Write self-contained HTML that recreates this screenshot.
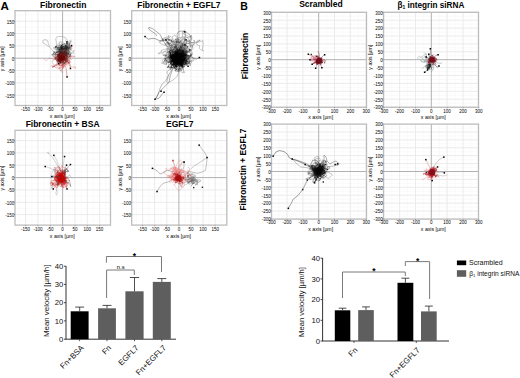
<!DOCTYPE html>
<html><head><meta charset="utf-8"><style>
html,body{margin:0;padding:0;background:#fff;width:520px;height:378px;overflow:hidden}
body{position:relative;font-family:"Liberation Sans", sans-serif}
</style></head><body>
<svg width="520" height="378" viewBox="0 0 520 378" style="position:absolute;left:0;top:0" font-family="'Liberation Sans', sans-serif">
<rect width="520" height="378" fill="#fff"/>
<text x="0.6" y="10.2" font-size="11.6" font-weight="bold" fill="#000">A</text>
<text x="240.2" y="10" font-size="10.5" font-weight="bold" fill="#000">B</text>
<rect x="15" y="10.7" width="95.5" height="94.8" fill="#fff"/>
<line x1="19.4" y1="10.7" x2="19.4" y2="105.5" stroke="#f6f6f6" stroke-width="0.6"/>
<line x1="31.8" y1="10.7" x2="31.8" y2="105.5" stroke="#f6f6f6" stroke-width="0.6"/>
<line x1="44.1" y1="10.7" x2="44.1" y2="105.5" stroke="#f6f6f6" stroke-width="0.6"/>
<line x1="56.4" y1="10.7" x2="56.4" y2="105.5" stroke="#f6f6f6" stroke-width="0.6"/>
<line x1="68.8" y1="10.7" x2="68.8" y2="105.5" stroke="#f6f6f6" stroke-width="0.6"/>
<line x1="81.1" y1="10.7" x2="81.1" y2="105.5" stroke="#f6f6f6" stroke-width="0.6"/>
<line x1="93.4" y1="10.7" x2="93.4" y2="105.5" stroke="#f6f6f6" stroke-width="0.6"/>
<line x1="105.8" y1="10.7" x2="105.8" y2="105.5" stroke="#f6f6f6" stroke-width="0.6"/>
<line x1="15" y1="101.4" x2="110.5" y2="101.4" stroke="#f6f6f6" stroke-width="0.6"/>
<line x1="15" y1="89.1" x2="110.5" y2="89.1" stroke="#f6f6f6" stroke-width="0.6"/>
<line x1="15" y1="76.7" x2="110.5" y2="76.7" stroke="#f6f6f6" stroke-width="0.6"/>
<line x1="15" y1="64.4" x2="110.5" y2="64.4" stroke="#f6f6f6" stroke-width="0.6"/>
<line x1="15" y1="52" x2="110.5" y2="52" stroke="#f6f6f6" stroke-width="0.6"/>
<line x1="15" y1="39.7" x2="110.5" y2="39.7" stroke="#f6f6f6" stroke-width="0.6"/>
<line x1="15" y1="27.3" x2="110.5" y2="27.3" stroke="#f6f6f6" stroke-width="0.6"/>
<line x1="15" y1="15" x2="110.5" y2="15" stroke="#f6f6f6" stroke-width="0.6"/>
<line x1="25.6" y1="10.7" x2="25.6" y2="105.5" stroke="#e9e9e9" stroke-width="0.9"/>
<line x1="37.9" y1="10.7" x2="37.9" y2="105.5" stroke="#e9e9e9" stroke-width="0.9"/>
<line x1="50.3" y1="10.7" x2="50.3" y2="105.5" stroke="#e9e9e9" stroke-width="0.9"/>
<line x1="74.9" y1="10.7" x2="74.9" y2="105.5" stroke="#e9e9e9" stroke-width="0.9"/>
<line x1="87.3" y1="10.7" x2="87.3" y2="105.5" stroke="#e9e9e9" stroke-width="0.9"/>
<line x1="99.6" y1="10.7" x2="99.6" y2="105.5" stroke="#e9e9e9" stroke-width="0.9"/>
<line x1="15" y1="95.2" x2="110.5" y2="95.2" stroke="#e9e9e9" stroke-width="0.9"/>
<line x1="15" y1="82.9" x2="110.5" y2="82.9" stroke="#e9e9e9" stroke-width="0.9"/>
<line x1="15" y1="70.5" x2="110.5" y2="70.5" stroke="#e9e9e9" stroke-width="0.9"/>
<line x1="15" y1="45.9" x2="110.5" y2="45.9" stroke="#e9e9e9" stroke-width="0.9"/>
<line x1="15" y1="33.5" x2="110.5" y2="33.5" stroke="#e9e9e9" stroke-width="0.9"/>
<line x1="15" y1="21.2" x2="110.5" y2="21.2" stroke="#e9e9e9" stroke-width="0.9"/>
<line x1="62.6" y1="10.7" x2="62.6" y2="105.5" stroke="#a8a8a8" stroke-width="0.9"/>
<line x1="15" y1="58.2" x2="110.5" y2="58.2" stroke="#a8a8a8" stroke-width="0.9"/>
<rect x="15" y="10.7" width="95.5" height="94.8" fill="none" stroke="#bdbdbd" stroke-width="1.3"/>
<line x1="13.8" y1="95.2" x2="15" y2="95.2" stroke="#777" stroke-width="0.6"/>
<text x="14.3" y="97.5" font-size="4.5" text-anchor="end" fill="#000">-150</text>
<line x1="13.8" y1="82.9" x2="15" y2="82.9" stroke="#777" stroke-width="0.6"/>
<text x="14.3" y="85.2" font-size="4.5" text-anchor="end" fill="#000">-100</text>
<line x1="13.8" y1="70.5" x2="15" y2="70.5" stroke="#777" stroke-width="0.6"/>
<text x="14.3" y="72.8" font-size="4.5" text-anchor="end" fill="#000">-50</text>
<line x1="13.8" y1="58.2" x2="15" y2="58.2" stroke="#777" stroke-width="0.6"/>
<text x="14.3" y="60.5" font-size="4.5" text-anchor="end" fill="#000">0</text>
<line x1="13.8" y1="45.9" x2="15" y2="45.9" stroke="#777" stroke-width="0.6"/>
<text x="14.3" y="48.1" font-size="4.5" text-anchor="end" fill="#000">50</text>
<line x1="13.8" y1="33.5" x2="15" y2="33.5" stroke="#777" stroke-width="0.6"/>
<text x="14.3" y="35.8" font-size="4.5" text-anchor="end" fill="#000">100</text>
<line x1="13.8" y1="21.2" x2="15" y2="21.2" stroke="#777" stroke-width="0.6"/>
<text x="14.3" y="23.5" font-size="4.5" text-anchor="end" fill="#000">150</text>
<line x1="25.6" y1="105.5" x2="25.6" y2="106.8" stroke="#777" stroke-width="0.6"/>
<text x="25.6" y="110.8" font-size="4.5" text-anchor="middle" fill="#000">-150</text>
<line x1="37.9" y1="105.5" x2="37.9" y2="106.8" stroke="#777" stroke-width="0.6"/>
<text x="37.9" y="110.8" font-size="4.5" text-anchor="middle" fill="#000">-100</text>
<line x1="50.3" y1="105.5" x2="50.3" y2="106.8" stroke="#777" stroke-width="0.6"/>
<text x="50.3" y="110.8" font-size="4.5" text-anchor="middle" fill="#000">-50</text>
<line x1="62.6" y1="105.5" x2="62.6" y2="106.8" stroke="#777" stroke-width="0.6"/>
<text x="62.6" y="110.8" font-size="4.5" text-anchor="middle" fill="#000">0</text>
<line x1="74.9" y1="105.5" x2="74.9" y2="106.8" stroke="#777" stroke-width="0.6"/>
<text x="74.9" y="110.8" font-size="4.5" text-anchor="middle" fill="#000">50</text>
<line x1="87.3" y1="105.5" x2="87.3" y2="106.8" stroke="#777" stroke-width="0.6"/>
<text x="87.3" y="110.8" font-size="4.5" text-anchor="middle" fill="#000">100</text>
<line x1="99.6" y1="105.5" x2="99.6" y2="106.8" stroke="#777" stroke-width="0.6"/>
<text x="99.6" y="110.8" font-size="4.5" text-anchor="middle" fill="#000">150</text>
<text x="62.3" y="118.2" font-size="5.2" text-anchor="middle" fill="#000">x axis [µm]</text>
<text transform="translate(3.9,58.7) rotate(-90)" x="0" y="0" font-size="5.2" text-anchor="middle" fill="#000">y axis [µm]</text>
<text x="63.2" y="7.7" font-size="8.5" font-weight="bold" text-anchor="middle" fill="#000">Fibronectin</text>
<rect x="131.7" y="10.7" width="95.1" height="94.8" fill="#fff"/>
<line x1="136.6" y1="10.7" x2="136.6" y2="105.5" stroke="#f6f6f6" stroke-width="0.6"/>
<line x1="148.7" y1="10.7" x2="148.7" y2="105.5" stroke="#f6f6f6" stroke-width="0.6"/>
<line x1="160.8" y1="10.7" x2="160.8" y2="105.5" stroke="#f6f6f6" stroke-width="0.6"/>
<line x1="172.8" y1="10.7" x2="172.8" y2="105.5" stroke="#f6f6f6" stroke-width="0.6"/>
<line x1="185" y1="10.7" x2="185" y2="105.5" stroke="#f6f6f6" stroke-width="0.6"/>
<line x1="197.1" y1="10.7" x2="197.1" y2="105.5" stroke="#f6f6f6" stroke-width="0.6"/>
<line x1="209.2" y1="10.7" x2="209.2" y2="105.5" stroke="#f6f6f6" stroke-width="0.6"/>
<line x1="221.2" y1="10.7" x2="221.2" y2="105.5" stroke="#f6f6f6" stroke-width="0.6"/>
<line x1="131.7" y1="101.4" x2="226.8" y2="101.4" stroke="#f6f6f6" stroke-width="0.6"/>
<line x1="131.7" y1="89.1" x2="226.8" y2="89.1" stroke="#f6f6f6" stroke-width="0.6"/>
<line x1="131.7" y1="76.7" x2="226.8" y2="76.7" stroke="#f6f6f6" stroke-width="0.6"/>
<line x1="131.7" y1="64.4" x2="226.8" y2="64.4" stroke="#f6f6f6" stroke-width="0.6"/>
<line x1="131.7" y1="52" x2="226.8" y2="52" stroke="#f6f6f6" stroke-width="0.6"/>
<line x1="131.7" y1="39.7" x2="226.8" y2="39.7" stroke="#f6f6f6" stroke-width="0.6"/>
<line x1="131.7" y1="27.3" x2="226.8" y2="27.3" stroke="#f6f6f6" stroke-width="0.6"/>
<line x1="131.7" y1="15" x2="226.8" y2="15" stroke="#f6f6f6" stroke-width="0.6"/>
<line x1="142.6" y1="10.7" x2="142.6" y2="105.5" stroke="#e9e9e9" stroke-width="0.9"/>
<line x1="154.7" y1="10.7" x2="154.7" y2="105.5" stroke="#e9e9e9" stroke-width="0.9"/>
<line x1="166.8" y1="10.7" x2="166.8" y2="105.5" stroke="#e9e9e9" stroke-width="0.9"/>
<line x1="191" y1="10.7" x2="191" y2="105.5" stroke="#e9e9e9" stroke-width="0.9"/>
<line x1="203.1" y1="10.7" x2="203.1" y2="105.5" stroke="#e9e9e9" stroke-width="0.9"/>
<line x1="215.2" y1="10.7" x2="215.2" y2="105.5" stroke="#e9e9e9" stroke-width="0.9"/>
<line x1="131.7" y1="95.2" x2="226.8" y2="95.2" stroke="#e9e9e9" stroke-width="0.9"/>
<line x1="131.7" y1="82.9" x2="226.8" y2="82.9" stroke="#e9e9e9" stroke-width="0.9"/>
<line x1="131.7" y1="70.5" x2="226.8" y2="70.5" stroke="#e9e9e9" stroke-width="0.9"/>
<line x1="131.7" y1="45.9" x2="226.8" y2="45.9" stroke="#e9e9e9" stroke-width="0.9"/>
<line x1="131.7" y1="33.5" x2="226.8" y2="33.5" stroke="#e9e9e9" stroke-width="0.9"/>
<line x1="131.7" y1="21.2" x2="226.8" y2="21.2" stroke="#e9e9e9" stroke-width="0.9"/>
<line x1="178.9" y1="10.7" x2="178.9" y2="105.5" stroke="#a8a8a8" stroke-width="0.9"/>
<line x1="131.7" y1="58.2" x2="226.8" y2="58.2" stroke="#a8a8a8" stroke-width="0.9"/>
<rect x="131.7" y="10.7" width="95.1" height="94.8" fill="none" stroke="#bdbdbd" stroke-width="1.3"/>
<line x1="130.5" y1="95.2" x2="131.7" y2="95.2" stroke="#777" stroke-width="0.6"/>
<text x="131" y="97.5" font-size="4.5" text-anchor="end" fill="#000">-150</text>
<line x1="130.5" y1="82.9" x2="131.7" y2="82.9" stroke="#777" stroke-width="0.6"/>
<text x="131" y="85.2" font-size="4.5" text-anchor="end" fill="#000">-100</text>
<line x1="130.5" y1="70.5" x2="131.7" y2="70.5" stroke="#777" stroke-width="0.6"/>
<text x="131" y="72.8" font-size="4.5" text-anchor="end" fill="#000">-50</text>
<line x1="130.5" y1="58.2" x2="131.7" y2="58.2" stroke="#777" stroke-width="0.6"/>
<text x="131" y="60.5" font-size="4.5" text-anchor="end" fill="#000">0</text>
<line x1="130.5" y1="45.9" x2="131.7" y2="45.9" stroke="#777" stroke-width="0.6"/>
<text x="131" y="48.1" font-size="4.5" text-anchor="end" fill="#000">50</text>
<line x1="130.5" y1="33.5" x2="131.7" y2="33.5" stroke="#777" stroke-width="0.6"/>
<text x="131" y="35.8" font-size="4.5" text-anchor="end" fill="#000">100</text>
<line x1="130.5" y1="21.2" x2="131.7" y2="21.2" stroke="#777" stroke-width="0.6"/>
<text x="131" y="23.5" font-size="4.5" text-anchor="end" fill="#000">150</text>
<line x1="142.6" y1="105.5" x2="142.6" y2="106.8" stroke="#777" stroke-width="0.6"/>
<text x="142.6" y="110.8" font-size="4.5" text-anchor="middle" fill="#000">-150</text>
<line x1="154.7" y1="105.5" x2="154.7" y2="106.8" stroke="#777" stroke-width="0.6"/>
<text x="154.7" y="110.8" font-size="4.5" text-anchor="middle" fill="#000">-100</text>
<line x1="166.8" y1="105.5" x2="166.8" y2="106.8" stroke="#777" stroke-width="0.6"/>
<text x="166.8" y="110.8" font-size="4.5" text-anchor="middle" fill="#000">-50</text>
<line x1="178.9" y1="105.5" x2="178.9" y2="106.8" stroke="#777" stroke-width="0.6"/>
<text x="178.9" y="110.8" font-size="4.5" text-anchor="middle" fill="#000">0</text>
<line x1="191" y1="105.5" x2="191" y2="106.8" stroke="#777" stroke-width="0.6"/>
<text x="191" y="110.8" font-size="4.5" text-anchor="middle" fill="#000">50</text>
<line x1="203.1" y1="105.5" x2="203.1" y2="106.8" stroke="#777" stroke-width="0.6"/>
<text x="203.1" y="110.8" font-size="4.5" text-anchor="middle" fill="#000">100</text>
<line x1="215.2" y1="105.5" x2="215.2" y2="106.8" stroke="#777" stroke-width="0.6"/>
<text x="215.2" y="110.8" font-size="4.5" text-anchor="middle" fill="#000">150</text>
<text x="178.6" y="118.2" font-size="5.2" text-anchor="middle" fill="#000">x axis [µm]</text>
<text transform="translate(121.8,58.7) rotate(-90)" x="0" y="0" font-size="5.2" text-anchor="middle" fill="#000">y axis [µm]</text>
<text x="178.9" y="7.7" font-size="8.5" font-weight="bold" text-anchor="middle" fill="#000">Fibronectin + EGFL7</text>
<rect x="15" y="130.3" width="95.5" height="94.8" fill="#fff"/>
<line x1="19.4" y1="130.3" x2="19.4" y2="225.2" stroke="#f6f6f6" stroke-width="0.6"/>
<line x1="31.8" y1="130.3" x2="31.8" y2="225.2" stroke="#f6f6f6" stroke-width="0.6"/>
<line x1="44.1" y1="130.3" x2="44.1" y2="225.2" stroke="#f6f6f6" stroke-width="0.6"/>
<line x1="56.4" y1="130.3" x2="56.4" y2="225.2" stroke="#f6f6f6" stroke-width="0.6"/>
<line x1="68.8" y1="130.3" x2="68.8" y2="225.2" stroke="#f6f6f6" stroke-width="0.6"/>
<line x1="81.1" y1="130.3" x2="81.1" y2="225.2" stroke="#f6f6f6" stroke-width="0.6"/>
<line x1="93.4" y1="130.3" x2="93.4" y2="225.2" stroke="#f6f6f6" stroke-width="0.6"/>
<line x1="105.8" y1="130.3" x2="105.8" y2="225.2" stroke="#f6f6f6" stroke-width="0.6"/>
<line x1="15" y1="220.8" x2="110.5" y2="220.8" stroke="#f6f6f6" stroke-width="0.6"/>
<line x1="15" y1="208.5" x2="110.5" y2="208.5" stroke="#f6f6f6" stroke-width="0.6"/>
<line x1="15" y1="196.1" x2="110.5" y2="196.1" stroke="#f6f6f6" stroke-width="0.6"/>
<line x1="15" y1="183.8" x2="110.5" y2="183.8" stroke="#f6f6f6" stroke-width="0.6"/>
<line x1="15" y1="171.4" x2="110.5" y2="171.4" stroke="#f6f6f6" stroke-width="0.6"/>
<line x1="15" y1="159.1" x2="110.5" y2="159.1" stroke="#f6f6f6" stroke-width="0.6"/>
<line x1="15" y1="146.7" x2="110.5" y2="146.7" stroke="#f6f6f6" stroke-width="0.6"/>
<line x1="15" y1="134.4" x2="110.5" y2="134.4" stroke="#f6f6f6" stroke-width="0.6"/>
<line x1="25.6" y1="130.3" x2="25.6" y2="225.2" stroke="#e9e9e9" stroke-width="0.9"/>
<line x1="37.9" y1="130.3" x2="37.9" y2="225.2" stroke="#e9e9e9" stroke-width="0.9"/>
<line x1="50.3" y1="130.3" x2="50.3" y2="225.2" stroke="#e9e9e9" stroke-width="0.9"/>
<line x1="74.9" y1="130.3" x2="74.9" y2="225.2" stroke="#e9e9e9" stroke-width="0.9"/>
<line x1="87.3" y1="130.3" x2="87.3" y2="225.2" stroke="#e9e9e9" stroke-width="0.9"/>
<line x1="99.6" y1="130.3" x2="99.6" y2="225.2" stroke="#e9e9e9" stroke-width="0.9"/>
<line x1="15" y1="214.6" x2="110.5" y2="214.6" stroke="#e9e9e9" stroke-width="0.9"/>
<line x1="15" y1="202.3" x2="110.5" y2="202.3" stroke="#e9e9e9" stroke-width="0.9"/>
<line x1="15" y1="189.9" x2="110.5" y2="189.9" stroke="#e9e9e9" stroke-width="0.9"/>
<line x1="15" y1="165.2" x2="110.5" y2="165.2" stroke="#e9e9e9" stroke-width="0.9"/>
<line x1="15" y1="152.9" x2="110.5" y2="152.9" stroke="#e9e9e9" stroke-width="0.9"/>
<line x1="15" y1="140.6" x2="110.5" y2="140.6" stroke="#e9e9e9" stroke-width="0.9"/>
<line x1="62.6" y1="130.3" x2="62.6" y2="225.2" stroke="#a8a8a8" stroke-width="0.9"/>
<line x1="15" y1="177.6" x2="110.5" y2="177.6" stroke="#a8a8a8" stroke-width="0.9"/>
<rect x="15" y="130.3" width="95.5" height="94.8" fill="none" stroke="#bdbdbd" stroke-width="1.3"/>
<line x1="13.8" y1="214.6" x2="15" y2="214.6" stroke="#777" stroke-width="0.6"/>
<text x="14.3" y="216.9" font-size="4.5" text-anchor="end" fill="#000">-150</text>
<line x1="13.8" y1="202.3" x2="15" y2="202.3" stroke="#777" stroke-width="0.6"/>
<text x="14.3" y="204.6" font-size="4.5" text-anchor="end" fill="#000">-100</text>
<line x1="13.8" y1="189.9" x2="15" y2="189.9" stroke="#777" stroke-width="0.6"/>
<text x="14.3" y="192.2" font-size="4.5" text-anchor="end" fill="#000">-50</text>
<line x1="13.8" y1="177.6" x2="15" y2="177.6" stroke="#777" stroke-width="0.6"/>
<text x="14.3" y="179.9" font-size="4.5" text-anchor="end" fill="#000">0</text>
<line x1="13.8" y1="165.2" x2="15" y2="165.2" stroke="#777" stroke-width="0.6"/>
<text x="14.3" y="167.6" font-size="4.5" text-anchor="end" fill="#000">50</text>
<line x1="13.8" y1="152.9" x2="15" y2="152.9" stroke="#777" stroke-width="0.6"/>
<text x="14.3" y="155.2" font-size="4.5" text-anchor="end" fill="#000">100</text>
<line x1="13.8" y1="140.6" x2="15" y2="140.6" stroke="#777" stroke-width="0.6"/>
<text x="14.3" y="142.9" font-size="4.5" text-anchor="end" fill="#000">150</text>
<line x1="25.6" y1="225.2" x2="25.6" y2="226.3" stroke="#777" stroke-width="0.6"/>
<text x="25.6" y="230.5" font-size="4.5" text-anchor="middle" fill="#000">-150</text>
<line x1="37.9" y1="225.2" x2="37.9" y2="226.3" stroke="#777" stroke-width="0.6"/>
<text x="37.9" y="230.5" font-size="4.5" text-anchor="middle" fill="#000">-100</text>
<line x1="50.3" y1="225.2" x2="50.3" y2="226.3" stroke="#777" stroke-width="0.6"/>
<text x="50.3" y="230.5" font-size="4.5" text-anchor="middle" fill="#000">-50</text>
<line x1="62.6" y1="225.2" x2="62.6" y2="226.3" stroke="#777" stroke-width="0.6"/>
<text x="62.6" y="230.5" font-size="4.5" text-anchor="middle" fill="#000">0</text>
<line x1="74.9" y1="225.2" x2="74.9" y2="226.3" stroke="#777" stroke-width="0.6"/>
<text x="74.9" y="230.5" font-size="4.5" text-anchor="middle" fill="#000">50</text>
<line x1="87.3" y1="225.2" x2="87.3" y2="226.3" stroke="#777" stroke-width="0.6"/>
<text x="87.3" y="230.5" font-size="4.5" text-anchor="middle" fill="#000">100</text>
<line x1="99.6" y1="225.2" x2="99.6" y2="226.3" stroke="#777" stroke-width="0.6"/>
<text x="99.6" y="230.5" font-size="4.5" text-anchor="middle" fill="#000">150</text>
<text x="62.3" y="237.9" font-size="5.2" text-anchor="middle" fill="#000">x axis [µm]</text>
<text transform="translate(3.9,178.1) rotate(-90)" x="0" y="0" font-size="5.2" text-anchor="middle" fill="#000">y axis [µm]</text>
<text x="62.6" y="127.3" font-size="8.5" font-weight="bold" text-anchor="middle" fill="#000">Fibronectin + BSA</text>
<rect x="131.7" y="130.3" width="95.1" height="94.8" fill="#fff"/>
<line x1="136.6" y1="130.3" x2="136.6" y2="225.2" stroke="#f6f6f6" stroke-width="0.6"/>
<line x1="148.7" y1="130.3" x2="148.7" y2="225.2" stroke="#f6f6f6" stroke-width="0.6"/>
<line x1="160.8" y1="130.3" x2="160.8" y2="225.2" stroke="#f6f6f6" stroke-width="0.6"/>
<line x1="172.8" y1="130.3" x2="172.8" y2="225.2" stroke="#f6f6f6" stroke-width="0.6"/>
<line x1="185" y1="130.3" x2="185" y2="225.2" stroke="#f6f6f6" stroke-width="0.6"/>
<line x1="197.1" y1="130.3" x2="197.1" y2="225.2" stroke="#f6f6f6" stroke-width="0.6"/>
<line x1="209.2" y1="130.3" x2="209.2" y2="225.2" stroke="#f6f6f6" stroke-width="0.6"/>
<line x1="221.2" y1="130.3" x2="221.2" y2="225.2" stroke="#f6f6f6" stroke-width="0.6"/>
<line x1="131.7" y1="220.8" x2="226.8" y2="220.8" stroke="#f6f6f6" stroke-width="0.6"/>
<line x1="131.7" y1="208.5" x2="226.8" y2="208.5" stroke="#f6f6f6" stroke-width="0.6"/>
<line x1="131.7" y1="196.1" x2="226.8" y2="196.1" stroke="#f6f6f6" stroke-width="0.6"/>
<line x1="131.7" y1="183.8" x2="226.8" y2="183.8" stroke="#f6f6f6" stroke-width="0.6"/>
<line x1="131.7" y1="171.4" x2="226.8" y2="171.4" stroke="#f6f6f6" stroke-width="0.6"/>
<line x1="131.7" y1="159.1" x2="226.8" y2="159.1" stroke="#f6f6f6" stroke-width="0.6"/>
<line x1="131.7" y1="146.7" x2="226.8" y2="146.7" stroke="#f6f6f6" stroke-width="0.6"/>
<line x1="131.7" y1="134.4" x2="226.8" y2="134.4" stroke="#f6f6f6" stroke-width="0.6"/>
<line x1="142.6" y1="130.3" x2="142.6" y2="225.2" stroke="#e9e9e9" stroke-width="0.9"/>
<line x1="154.7" y1="130.3" x2="154.7" y2="225.2" stroke="#e9e9e9" stroke-width="0.9"/>
<line x1="166.8" y1="130.3" x2="166.8" y2="225.2" stroke="#e9e9e9" stroke-width="0.9"/>
<line x1="191" y1="130.3" x2="191" y2="225.2" stroke="#e9e9e9" stroke-width="0.9"/>
<line x1="203.1" y1="130.3" x2="203.1" y2="225.2" stroke="#e9e9e9" stroke-width="0.9"/>
<line x1="215.2" y1="130.3" x2="215.2" y2="225.2" stroke="#e9e9e9" stroke-width="0.9"/>
<line x1="131.7" y1="214.6" x2="226.8" y2="214.6" stroke="#e9e9e9" stroke-width="0.9"/>
<line x1="131.7" y1="202.3" x2="226.8" y2="202.3" stroke="#e9e9e9" stroke-width="0.9"/>
<line x1="131.7" y1="189.9" x2="226.8" y2="189.9" stroke="#e9e9e9" stroke-width="0.9"/>
<line x1="131.7" y1="165.2" x2="226.8" y2="165.2" stroke="#e9e9e9" stroke-width="0.9"/>
<line x1="131.7" y1="152.9" x2="226.8" y2="152.9" stroke="#e9e9e9" stroke-width="0.9"/>
<line x1="131.7" y1="140.6" x2="226.8" y2="140.6" stroke="#e9e9e9" stroke-width="0.9"/>
<line x1="178.9" y1="130.3" x2="178.9" y2="225.2" stroke="#a8a8a8" stroke-width="0.9"/>
<line x1="131.7" y1="177.6" x2="226.8" y2="177.6" stroke="#a8a8a8" stroke-width="0.9"/>
<rect x="131.7" y="130.3" width="95.1" height="94.8" fill="none" stroke="#bdbdbd" stroke-width="1.3"/>
<line x1="130.5" y1="214.6" x2="131.7" y2="214.6" stroke="#777" stroke-width="0.6"/>
<text x="131" y="216.9" font-size="4.5" text-anchor="end" fill="#000">-150</text>
<line x1="130.5" y1="202.3" x2="131.7" y2="202.3" stroke="#777" stroke-width="0.6"/>
<text x="131" y="204.6" font-size="4.5" text-anchor="end" fill="#000">-100</text>
<line x1="130.5" y1="189.9" x2="131.7" y2="189.9" stroke="#777" stroke-width="0.6"/>
<text x="131" y="192.2" font-size="4.5" text-anchor="end" fill="#000">-50</text>
<line x1="130.5" y1="177.6" x2="131.7" y2="177.6" stroke="#777" stroke-width="0.6"/>
<text x="131" y="179.9" font-size="4.5" text-anchor="end" fill="#000">0</text>
<line x1="130.5" y1="165.2" x2="131.7" y2="165.2" stroke="#777" stroke-width="0.6"/>
<text x="131" y="167.6" font-size="4.5" text-anchor="end" fill="#000">50</text>
<line x1="130.5" y1="152.9" x2="131.7" y2="152.9" stroke="#777" stroke-width="0.6"/>
<text x="131" y="155.2" font-size="4.5" text-anchor="end" fill="#000">100</text>
<line x1="130.5" y1="140.6" x2="131.7" y2="140.6" stroke="#777" stroke-width="0.6"/>
<text x="131" y="142.9" font-size="4.5" text-anchor="end" fill="#000">150</text>
<line x1="142.6" y1="225.2" x2="142.6" y2="226.3" stroke="#777" stroke-width="0.6"/>
<text x="142.6" y="230.5" font-size="4.5" text-anchor="middle" fill="#000">-150</text>
<line x1="154.7" y1="225.2" x2="154.7" y2="226.3" stroke="#777" stroke-width="0.6"/>
<text x="154.7" y="230.5" font-size="4.5" text-anchor="middle" fill="#000">-100</text>
<line x1="166.8" y1="225.2" x2="166.8" y2="226.3" stroke="#777" stroke-width="0.6"/>
<text x="166.8" y="230.5" font-size="4.5" text-anchor="middle" fill="#000">-50</text>
<line x1="178.9" y1="225.2" x2="178.9" y2="226.3" stroke="#777" stroke-width="0.6"/>
<text x="178.9" y="230.5" font-size="4.5" text-anchor="middle" fill="#000">0</text>
<line x1="191" y1="225.2" x2="191" y2="226.3" stroke="#777" stroke-width="0.6"/>
<text x="191" y="230.5" font-size="4.5" text-anchor="middle" fill="#000">50</text>
<line x1="203.1" y1="225.2" x2="203.1" y2="226.3" stroke="#777" stroke-width="0.6"/>
<text x="203.1" y="230.5" font-size="4.5" text-anchor="middle" fill="#000">100</text>
<line x1="215.2" y1="225.2" x2="215.2" y2="226.3" stroke="#777" stroke-width="0.6"/>
<text x="215.2" y="230.5" font-size="4.5" text-anchor="middle" fill="#000">150</text>
<text x="178.6" y="237.9" font-size="5.2" text-anchor="middle" fill="#000">x axis [µm]</text>
<text transform="translate(121.8,178.1) rotate(-90)" x="0" y="0" font-size="5.2" text-anchor="middle" fill="#000">y axis [µm]</text>
<text x="179.8" y="127.3" font-size="8.5" font-weight="bold" text-anchor="middle" fill="#000">EGFL7</text>
<rect x="271.5" y="12.3" width="95" height="95" fill="#fff"/>
<line x1="279.1" y1="12.3" x2="279.1" y2="107.3" stroke="#f6f6f6" stroke-width="0.6"/>
<line x1="294.9" y1="12.3" x2="294.9" y2="107.3" stroke="#f6f6f6" stroke-width="0.6"/>
<line x1="310.8" y1="12.3" x2="310.8" y2="107.3" stroke="#f6f6f6" stroke-width="0.6"/>
<line x1="326.6" y1="12.3" x2="326.6" y2="107.3" stroke="#f6f6f6" stroke-width="0.6"/>
<line x1="342.4" y1="12.3" x2="342.4" y2="107.3" stroke="#f6f6f6" stroke-width="0.6"/>
<line x1="358.3" y1="12.3" x2="358.3" y2="107.3" stroke="#f6f6f6" stroke-width="0.6"/>
<line x1="271.5" y1="103.2" x2="366.5" y2="103.2" stroke="#f6f6f6" stroke-width="0.6"/>
<line x1="271.5" y1="95.2" x2="366.5" y2="95.2" stroke="#f6f6f6" stroke-width="0.6"/>
<line x1="271.5" y1="87.3" x2="366.5" y2="87.3" stroke="#f6f6f6" stroke-width="0.6"/>
<line x1="271.5" y1="79.5" x2="366.5" y2="79.5" stroke="#f6f6f6" stroke-width="0.6"/>
<line x1="271.5" y1="71.5" x2="366.5" y2="71.5" stroke="#f6f6f6" stroke-width="0.6"/>
<line x1="271.5" y1="63.7" x2="366.5" y2="63.7" stroke="#f6f6f6" stroke-width="0.6"/>
<line x1="271.5" y1="55.8" x2="366.5" y2="55.8" stroke="#f6f6f6" stroke-width="0.6"/>
<line x1="271.5" y1="47.9" x2="366.5" y2="47.9" stroke="#f6f6f6" stroke-width="0.6"/>
<line x1="271.5" y1="40" x2="366.5" y2="40" stroke="#f6f6f6" stroke-width="0.6"/>
<line x1="271.5" y1="32.1" x2="366.5" y2="32.1" stroke="#f6f6f6" stroke-width="0.6"/>
<line x1="271.5" y1="24.2" x2="366.5" y2="24.2" stroke="#f6f6f6" stroke-width="0.6"/>
<line x1="271.5" y1="16.2" x2="366.5" y2="16.2" stroke="#f6f6f6" stroke-width="0.6"/>
<line x1="287" y1="12.3" x2="287" y2="107.3" stroke="#e9e9e9" stroke-width="0.9"/>
<line x1="302.9" y1="12.3" x2="302.9" y2="107.3" stroke="#e9e9e9" stroke-width="0.9"/>
<line x1="334.5" y1="12.3" x2="334.5" y2="107.3" stroke="#e9e9e9" stroke-width="0.9"/>
<line x1="350.4" y1="12.3" x2="350.4" y2="107.3" stroke="#e9e9e9" stroke-width="0.9"/>
<line x1="366.2" y1="12.3" x2="366.2" y2="107.3" stroke="#e9e9e9" stroke-width="0.9"/>
<line x1="271.5" y1="107.1" x2="366.5" y2="107.1" stroke="#e9e9e9" stroke-width="0.9"/>
<line x1="271.5" y1="99.2" x2="366.5" y2="99.2" stroke="#e9e9e9" stroke-width="0.9"/>
<line x1="271.5" y1="91.3" x2="366.5" y2="91.3" stroke="#e9e9e9" stroke-width="0.9"/>
<line x1="271.5" y1="83.4" x2="366.5" y2="83.4" stroke="#e9e9e9" stroke-width="0.9"/>
<line x1="271.5" y1="75.5" x2="366.5" y2="75.5" stroke="#e9e9e9" stroke-width="0.9"/>
<line x1="271.5" y1="67.6" x2="366.5" y2="67.6" stroke="#e9e9e9" stroke-width="0.9"/>
<line x1="271.5" y1="51.8" x2="366.5" y2="51.8" stroke="#e9e9e9" stroke-width="0.9"/>
<line x1="271.5" y1="43.9" x2="366.5" y2="43.9" stroke="#e9e9e9" stroke-width="0.9"/>
<line x1="271.5" y1="36" x2="366.5" y2="36" stroke="#e9e9e9" stroke-width="0.9"/>
<line x1="271.5" y1="28.1" x2="366.5" y2="28.1" stroke="#e9e9e9" stroke-width="0.9"/>
<line x1="271.5" y1="20.2" x2="366.5" y2="20.2" stroke="#e9e9e9" stroke-width="0.9"/>
<line x1="271.5" y1="12.3" x2="366.5" y2="12.3" stroke="#e9e9e9" stroke-width="0.9"/>
<line x1="318.7" y1="12.3" x2="318.7" y2="107.3" stroke="#a8a8a8" stroke-width="0.9"/>
<line x1="271.5" y1="59.7" x2="366.5" y2="59.7" stroke="#a8a8a8" stroke-width="0.9"/>
<rect x="271.5" y="12.3" width="95" height="95" fill="none" stroke="#bdbdbd" stroke-width="1.3"/>
<line x1="270.3" y1="107.1" x2="271.5" y2="107.1" stroke="#777" stroke-width="0.6"/>
<text x="270.8" y="109.4" font-size="4.5" text-anchor="end" fill="#000">-300</text>
<line x1="270.3" y1="99.2" x2="271.5" y2="99.2" stroke="#777" stroke-width="0.6"/>
<text x="270.8" y="101.5" font-size="4.5" text-anchor="end" fill="#000">-250</text>
<line x1="270.3" y1="91.3" x2="271.5" y2="91.3" stroke="#777" stroke-width="0.6"/>
<text x="270.8" y="93.6" font-size="4.5" text-anchor="end" fill="#000">-200</text>
<line x1="270.3" y1="83.4" x2="271.5" y2="83.4" stroke="#777" stroke-width="0.6"/>
<text x="270.8" y="85.7" font-size="4.5" text-anchor="end" fill="#000">-150</text>
<line x1="270.3" y1="75.5" x2="271.5" y2="75.5" stroke="#777" stroke-width="0.6"/>
<text x="270.8" y="77.8" font-size="4.5" text-anchor="end" fill="#000">-100</text>
<line x1="270.3" y1="67.6" x2="271.5" y2="67.6" stroke="#777" stroke-width="0.6"/>
<text x="270.8" y="69.9" font-size="4.5" text-anchor="end" fill="#000">-50</text>
<line x1="270.3" y1="59.7" x2="271.5" y2="59.7" stroke="#777" stroke-width="0.6"/>
<text x="270.8" y="62" font-size="4.5" text-anchor="end" fill="#000">0</text>
<line x1="270.3" y1="51.8" x2="271.5" y2="51.8" stroke="#777" stroke-width="0.6"/>
<text x="270.8" y="54.1" font-size="4.5" text-anchor="end" fill="#000">50</text>
<line x1="270.3" y1="43.9" x2="271.5" y2="43.9" stroke="#777" stroke-width="0.6"/>
<text x="270.8" y="46.2" font-size="4.5" text-anchor="end" fill="#000">100</text>
<line x1="270.3" y1="36" x2="271.5" y2="36" stroke="#777" stroke-width="0.6"/>
<text x="270.8" y="38.3" font-size="4.5" text-anchor="end" fill="#000">150</text>
<line x1="270.3" y1="28.1" x2="271.5" y2="28.1" stroke="#777" stroke-width="0.6"/>
<text x="270.8" y="30.4" font-size="4.5" text-anchor="end" fill="#000">200</text>
<line x1="270.3" y1="20.2" x2="271.5" y2="20.2" stroke="#777" stroke-width="0.6"/>
<text x="270.8" y="22.5" font-size="4.5" text-anchor="end" fill="#000">250</text>
<line x1="270.3" y1="12.3" x2="271.5" y2="12.3" stroke="#777" stroke-width="0.6"/>
<text x="270.8" y="14.6" font-size="4.5" text-anchor="end" fill="#000">300</text>
<line x1="271.2" y1="107.3" x2="271.2" y2="108.5" stroke="#777" stroke-width="0.6"/>
<text x="271.2" y="112.6" font-size="4.5" text-anchor="middle" fill="#000">-300</text>
<line x1="287" y1="107.3" x2="287" y2="108.5" stroke="#777" stroke-width="0.6"/>
<text x="287" y="112.6" font-size="4.5" text-anchor="middle" fill="#000">-200</text>
<line x1="302.9" y1="107.3" x2="302.9" y2="108.5" stroke="#777" stroke-width="0.6"/>
<text x="302.9" y="112.6" font-size="4.5" text-anchor="middle" fill="#000">-100</text>
<line x1="318.7" y1="107.3" x2="318.7" y2="108.5" stroke="#777" stroke-width="0.6"/>
<text x="318.7" y="112.6" font-size="4.5" text-anchor="middle" fill="#000">0</text>
<line x1="334.5" y1="107.3" x2="334.5" y2="108.5" stroke="#777" stroke-width="0.6"/>
<text x="334.5" y="112.6" font-size="4.5" text-anchor="middle" fill="#000">100</text>
<line x1="350.4" y1="107.3" x2="350.4" y2="108.5" stroke="#777" stroke-width="0.6"/>
<text x="350.4" y="112.6" font-size="4.5" text-anchor="middle" fill="#000">200</text>
<line x1="366.2" y1="107.3" x2="366.2" y2="108.5" stroke="#777" stroke-width="0.6"/>
<text x="366.2" y="112.6" font-size="4.5" text-anchor="middle" fill="#000">300</text>
<text x="320.7" y="118.8" font-size="5.2" text-anchor="middle" fill="#000">x axis [µm]</text>
<text transform="translate(260.2,57.2) rotate(-90)" x="0" y="0" font-size="5.2" text-anchor="middle" fill="#000">y axis [µm]</text>
<rect x="383.5" y="12.3" width="95" height="95" fill="#fff"/>
<line x1="391.7" y1="12.3" x2="391.7" y2="107.3" stroke="#f6f6f6" stroke-width="0.6"/>
<line x1="407.6" y1="12.3" x2="407.6" y2="107.3" stroke="#f6f6f6" stroke-width="0.6"/>
<line x1="423.4" y1="12.3" x2="423.4" y2="107.3" stroke="#f6f6f6" stroke-width="0.6"/>
<line x1="439.2" y1="12.3" x2="439.2" y2="107.3" stroke="#f6f6f6" stroke-width="0.6"/>
<line x1="455.1" y1="12.3" x2="455.1" y2="107.3" stroke="#f6f6f6" stroke-width="0.6"/>
<line x1="470.9" y1="12.3" x2="470.9" y2="107.3" stroke="#f6f6f6" stroke-width="0.6"/>
<line x1="383.5" y1="103.2" x2="478.5" y2="103.2" stroke="#f6f6f6" stroke-width="0.6"/>
<line x1="383.5" y1="95.2" x2="478.5" y2="95.2" stroke="#f6f6f6" stroke-width="0.6"/>
<line x1="383.5" y1="87.3" x2="478.5" y2="87.3" stroke="#f6f6f6" stroke-width="0.6"/>
<line x1="383.5" y1="79.5" x2="478.5" y2="79.5" stroke="#f6f6f6" stroke-width="0.6"/>
<line x1="383.5" y1="71.5" x2="478.5" y2="71.5" stroke="#f6f6f6" stroke-width="0.6"/>
<line x1="383.5" y1="63.7" x2="478.5" y2="63.7" stroke="#f6f6f6" stroke-width="0.6"/>
<line x1="383.5" y1="55.8" x2="478.5" y2="55.8" stroke="#f6f6f6" stroke-width="0.6"/>
<line x1="383.5" y1="47.9" x2="478.5" y2="47.9" stroke="#f6f6f6" stroke-width="0.6"/>
<line x1="383.5" y1="40" x2="478.5" y2="40" stroke="#f6f6f6" stroke-width="0.6"/>
<line x1="383.5" y1="32.1" x2="478.5" y2="32.1" stroke="#f6f6f6" stroke-width="0.6"/>
<line x1="383.5" y1="24.2" x2="478.5" y2="24.2" stroke="#f6f6f6" stroke-width="0.6"/>
<line x1="383.5" y1="16.2" x2="478.5" y2="16.2" stroke="#f6f6f6" stroke-width="0.6"/>
<line x1="383.8" y1="12.3" x2="383.8" y2="107.3" stroke="#e9e9e9" stroke-width="0.9"/>
<line x1="399.6" y1="12.3" x2="399.6" y2="107.3" stroke="#e9e9e9" stroke-width="0.9"/>
<line x1="415.5" y1="12.3" x2="415.5" y2="107.3" stroke="#e9e9e9" stroke-width="0.9"/>
<line x1="447.1" y1="12.3" x2="447.1" y2="107.3" stroke="#e9e9e9" stroke-width="0.9"/>
<line x1="463" y1="12.3" x2="463" y2="107.3" stroke="#e9e9e9" stroke-width="0.9"/>
<line x1="383.5" y1="107.1" x2="478.5" y2="107.1" stroke="#e9e9e9" stroke-width="0.9"/>
<line x1="383.5" y1="99.2" x2="478.5" y2="99.2" stroke="#e9e9e9" stroke-width="0.9"/>
<line x1="383.5" y1="91.3" x2="478.5" y2="91.3" stroke="#e9e9e9" stroke-width="0.9"/>
<line x1="383.5" y1="83.4" x2="478.5" y2="83.4" stroke="#e9e9e9" stroke-width="0.9"/>
<line x1="383.5" y1="75.5" x2="478.5" y2="75.5" stroke="#e9e9e9" stroke-width="0.9"/>
<line x1="383.5" y1="67.6" x2="478.5" y2="67.6" stroke="#e9e9e9" stroke-width="0.9"/>
<line x1="383.5" y1="51.8" x2="478.5" y2="51.8" stroke="#e9e9e9" stroke-width="0.9"/>
<line x1="383.5" y1="43.9" x2="478.5" y2="43.9" stroke="#e9e9e9" stroke-width="0.9"/>
<line x1="383.5" y1="36" x2="478.5" y2="36" stroke="#e9e9e9" stroke-width="0.9"/>
<line x1="383.5" y1="28.1" x2="478.5" y2="28.1" stroke="#e9e9e9" stroke-width="0.9"/>
<line x1="383.5" y1="20.2" x2="478.5" y2="20.2" stroke="#e9e9e9" stroke-width="0.9"/>
<line x1="383.5" y1="12.3" x2="478.5" y2="12.3" stroke="#e9e9e9" stroke-width="0.9"/>
<line x1="431.3" y1="12.3" x2="431.3" y2="107.3" stroke="#a8a8a8" stroke-width="0.9"/>
<line x1="383.5" y1="59.7" x2="478.5" y2="59.7" stroke="#a8a8a8" stroke-width="0.9"/>
<rect x="383.5" y="12.3" width="95" height="95" fill="none" stroke="#bdbdbd" stroke-width="1.3"/>
<line x1="382.3" y1="107.1" x2="383.5" y2="107.1" stroke="#777" stroke-width="0.6"/>
<text x="382.8" y="109.4" font-size="4.5" text-anchor="end" fill="#000">-300</text>
<line x1="382.3" y1="99.2" x2="383.5" y2="99.2" stroke="#777" stroke-width="0.6"/>
<text x="382.8" y="101.5" font-size="4.5" text-anchor="end" fill="#000">-250</text>
<line x1="382.3" y1="91.3" x2="383.5" y2="91.3" stroke="#777" stroke-width="0.6"/>
<text x="382.8" y="93.6" font-size="4.5" text-anchor="end" fill="#000">-200</text>
<line x1="382.3" y1="83.4" x2="383.5" y2="83.4" stroke="#777" stroke-width="0.6"/>
<text x="382.8" y="85.7" font-size="4.5" text-anchor="end" fill="#000">-150</text>
<line x1="382.3" y1="75.5" x2="383.5" y2="75.5" stroke="#777" stroke-width="0.6"/>
<text x="382.8" y="77.8" font-size="4.5" text-anchor="end" fill="#000">-100</text>
<line x1="382.3" y1="67.6" x2="383.5" y2="67.6" stroke="#777" stroke-width="0.6"/>
<text x="382.8" y="69.9" font-size="4.5" text-anchor="end" fill="#000">-50</text>
<line x1="382.3" y1="59.7" x2="383.5" y2="59.7" stroke="#777" stroke-width="0.6"/>
<text x="382.8" y="62" font-size="4.5" text-anchor="end" fill="#000">0</text>
<line x1="382.3" y1="51.8" x2="383.5" y2="51.8" stroke="#777" stroke-width="0.6"/>
<text x="382.8" y="54.1" font-size="4.5" text-anchor="end" fill="#000">50</text>
<line x1="382.3" y1="43.9" x2="383.5" y2="43.9" stroke="#777" stroke-width="0.6"/>
<text x="382.8" y="46.2" font-size="4.5" text-anchor="end" fill="#000">100</text>
<line x1="382.3" y1="36" x2="383.5" y2="36" stroke="#777" stroke-width="0.6"/>
<text x="382.8" y="38.3" font-size="4.5" text-anchor="end" fill="#000">150</text>
<line x1="382.3" y1="28.1" x2="383.5" y2="28.1" stroke="#777" stroke-width="0.6"/>
<text x="382.8" y="30.4" font-size="4.5" text-anchor="end" fill="#000">200</text>
<line x1="382.3" y1="20.2" x2="383.5" y2="20.2" stroke="#777" stroke-width="0.6"/>
<text x="382.8" y="22.5" font-size="4.5" text-anchor="end" fill="#000">250</text>
<line x1="382.3" y1="12.3" x2="383.5" y2="12.3" stroke="#777" stroke-width="0.6"/>
<text x="382.8" y="14.6" font-size="4.5" text-anchor="end" fill="#000">300</text>
<line x1="383.8" y1="107.3" x2="383.8" y2="108.5" stroke="#777" stroke-width="0.6"/>
<text x="383.8" y="112.6" font-size="4.5" text-anchor="middle" fill="#000">-300</text>
<line x1="399.6" y1="107.3" x2="399.6" y2="108.5" stroke="#777" stroke-width="0.6"/>
<text x="399.6" y="112.6" font-size="4.5" text-anchor="middle" fill="#000">-200</text>
<line x1="415.5" y1="107.3" x2="415.5" y2="108.5" stroke="#777" stroke-width="0.6"/>
<text x="415.5" y="112.6" font-size="4.5" text-anchor="middle" fill="#000">-100</text>
<line x1="431.3" y1="107.3" x2="431.3" y2="108.5" stroke="#777" stroke-width="0.6"/>
<text x="431.3" y="112.6" font-size="4.5" text-anchor="middle" fill="#000">0</text>
<line x1="447.1" y1="107.3" x2="447.1" y2="108.5" stroke="#777" stroke-width="0.6"/>
<text x="447.1" y="112.6" font-size="4.5" text-anchor="middle" fill="#000">100</text>
<line x1="463" y1="107.3" x2="463" y2="108.5" stroke="#777" stroke-width="0.6"/>
<text x="463" y="112.6" font-size="4.5" text-anchor="middle" fill="#000">200</text>
<line x1="478.8" y1="107.3" x2="478.8" y2="108.5" stroke="#777" stroke-width="0.6"/>
<text x="478.8" y="112.6" font-size="4.5" text-anchor="middle" fill="#000">300</text>
<text x="433.3" y="118.8" font-size="5.2" text-anchor="middle" fill="#000">x axis [µm]</text>
<text transform="translate(372.2,57.2) rotate(-90)" x="0" y="0" font-size="5.2" text-anchor="middle" fill="#000">y axis [µm]</text>
<rect x="271.5" y="124.1" width="95" height="95" fill="#fff"/>
<line x1="279.1" y1="124.1" x2="279.1" y2="219.1" stroke="#f6f6f6" stroke-width="0.6"/>
<line x1="294.9" y1="124.1" x2="294.9" y2="219.1" stroke="#f6f6f6" stroke-width="0.6"/>
<line x1="310.8" y1="124.1" x2="310.8" y2="219.1" stroke="#f6f6f6" stroke-width="0.6"/>
<line x1="326.6" y1="124.1" x2="326.6" y2="219.1" stroke="#f6f6f6" stroke-width="0.6"/>
<line x1="342.4" y1="124.1" x2="342.4" y2="219.1" stroke="#f6f6f6" stroke-width="0.6"/>
<line x1="358.3" y1="124.1" x2="358.3" y2="219.1" stroke="#f6f6f6" stroke-width="0.6"/>
<line x1="271.5" y1="214.9" x2="366.5" y2="214.9" stroke="#f6f6f6" stroke-width="0.6"/>
<line x1="271.5" y1="207.1" x2="366.5" y2="207.1" stroke="#f6f6f6" stroke-width="0.6"/>
<line x1="271.5" y1="199.2" x2="366.5" y2="199.2" stroke="#f6f6f6" stroke-width="0.6"/>
<line x1="271.5" y1="191.2" x2="366.5" y2="191.2" stroke="#f6f6f6" stroke-width="0.6"/>
<line x1="271.5" y1="183.3" x2="366.5" y2="183.3" stroke="#f6f6f6" stroke-width="0.6"/>
<line x1="271.5" y1="175.4" x2="366.5" y2="175.4" stroke="#f6f6f6" stroke-width="0.6"/>
<line x1="271.5" y1="167.6" x2="366.5" y2="167.6" stroke="#f6f6f6" stroke-width="0.6"/>
<line x1="271.5" y1="159.7" x2="366.5" y2="159.7" stroke="#f6f6f6" stroke-width="0.6"/>
<line x1="271.5" y1="151.8" x2="366.5" y2="151.8" stroke="#f6f6f6" stroke-width="0.6"/>
<line x1="271.5" y1="143.8" x2="366.5" y2="143.8" stroke="#f6f6f6" stroke-width="0.6"/>
<line x1="271.5" y1="135.9" x2="366.5" y2="135.9" stroke="#f6f6f6" stroke-width="0.6"/>
<line x1="271.5" y1="128.1" x2="366.5" y2="128.1" stroke="#f6f6f6" stroke-width="0.6"/>
<line x1="287" y1="124.1" x2="287" y2="219.1" stroke="#e9e9e9" stroke-width="0.9"/>
<line x1="302.9" y1="124.1" x2="302.9" y2="219.1" stroke="#e9e9e9" stroke-width="0.9"/>
<line x1="334.5" y1="124.1" x2="334.5" y2="219.1" stroke="#e9e9e9" stroke-width="0.9"/>
<line x1="350.4" y1="124.1" x2="350.4" y2="219.1" stroke="#e9e9e9" stroke-width="0.9"/>
<line x1="366.2" y1="124.1" x2="366.2" y2="219.1" stroke="#e9e9e9" stroke-width="0.9"/>
<line x1="271.5" y1="218.9" x2="366.5" y2="218.9" stroke="#e9e9e9" stroke-width="0.9"/>
<line x1="271.5" y1="211" x2="366.5" y2="211" stroke="#e9e9e9" stroke-width="0.9"/>
<line x1="271.5" y1="203.1" x2="366.5" y2="203.1" stroke="#e9e9e9" stroke-width="0.9"/>
<line x1="271.5" y1="195.2" x2="366.5" y2="195.2" stroke="#e9e9e9" stroke-width="0.9"/>
<line x1="271.5" y1="187.3" x2="366.5" y2="187.3" stroke="#e9e9e9" stroke-width="0.9"/>
<line x1="271.5" y1="179.4" x2="366.5" y2="179.4" stroke="#e9e9e9" stroke-width="0.9"/>
<line x1="271.5" y1="163.6" x2="366.5" y2="163.6" stroke="#e9e9e9" stroke-width="0.9"/>
<line x1="271.5" y1="155.7" x2="366.5" y2="155.7" stroke="#e9e9e9" stroke-width="0.9"/>
<line x1="271.5" y1="147.8" x2="366.5" y2="147.8" stroke="#e9e9e9" stroke-width="0.9"/>
<line x1="271.5" y1="139.9" x2="366.5" y2="139.9" stroke="#e9e9e9" stroke-width="0.9"/>
<line x1="271.5" y1="132" x2="366.5" y2="132" stroke="#e9e9e9" stroke-width="0.9"/>
<line x1="318.7" y1="124.1" x2="318.7" y2="219.1" stroke="#a8a8a8" stroke-width="0.9"/>
<line x1="271.5" y1="171.5" x2="366.5" y2="171.5" stroke="#a8a8a8" stroke-width="0.9"/>
<rect x="271.5" y="124.1" width="95" height="95" fill="none" stroke="#bdbdbd" stroke-width="1.3"/>
<line x1="270.3" y1="218.9" x2="271.5" y2="218.9" stroke="#777" stroke-width="0.6"/>
<text x="270.8" y="221.2" font-size="4.5" text-anchor="end" fill="#000">-300</text>
<line x1="270.3" y1="211" x2="271.5" y2="211" stroke="#777" stroke-width="0.6"/>
<text x="270.8" y="213.3" font-size="4.5" text-anchor="end" fill="#000">-250</text>
<line x1="270.3" y1="203.1" x2="271.5" y2="203.1" stroke="#777" stroke-width="0.6"/>
<text x="270.8" y="205.4" font-size="4.5" text-anchor="end" fill="#000">-200</text>
<line x1="270.3" y1="195.2" x2="271.5" y2="195.2" stroke="#777" stroke-width="0.6"/>
<text x="270.8" y="197.5" font-size="4.5" text-anchor="end" fill="#000">-150</text>
<line x1="270.3" y1="187.3" x2="271.5" y2="187.3" stroke="#777" stroke-width="0.6"/>
<text x="270.8" y="189.6" font-size="4.5" text-anchor="end" fill="#000">-100</text>
<line x1="270.3" y1="179.4" x2="271.5" y2="179.4" stroke="#777" stroke-width="0.6"/>
<text x="270.8" y="181.7" font-size="4.5" text-anchor="end" fill="#000">-50</text>
<line x1="270.3" y1="171.5" x2="271.5" y2="171.5" stroke="#777" stroke-width="0.6"/>
<text x="270.8" y="173.8" font-size="4.5" text-anchor="end" fill="#000">0</text>
<line x1="270.3" y1="163.6" x2="271.5" y2="163.6" stroke="#777" stroke-width="0.6"/>
<text x="270.8" y="165.9" font-size="4.5" text-anchor="end" fill="#000">50</text>
<line x1="270.3" y1="155.7" x2="271.5" y2="155.7" stroke="#777" stroke-width="0.6"/>
<text x="270.8" y="158" font-size="4.5" text-anchor="end" fill="#000">100</text>
<line x1="270.3" y1="147.8" x2="271.5" y2="147.8" stroke="#777" stroke-width="0.6"/>
<text x="270.8" y="150.1" font-size="4.5" text-anchor="end" fill="#000">150</text>
<line x1="270.3" y1="139.9" x2="271.5" y2="139.9" stroke="#777" stroke-width="0.6"/>
<text x="270.8" y="142.2" font-size="4.5" text-anchor="end" fill="#000">200</text>
<line x1="270.3" y1="132" x2="271.5" y2="132" stroke="#777" stroke-width="0.6"/>
<text x="270.8" y="134.3" font-size="4.5" text-anchor="end" fill="#000">250</text>
<line x1="270.3" y1="124.1" x2="271.5" y2="124.1" stroke="#777" stroke-width="0.6"/>
<text x="270.8" y="126.4" font-size="4.5" text-anchor="end" fill="#000">300</text>
<line x1="271.2" y1="219.1" x2="271.2" y2="220.3" stroke="#777" stroke-width="0.6"/>
<text x="271.2" y="224.4" font-size="4.5" text-anchor="middle" fill="#000">-300</text>
<line x1="287" y1="219.1" x2="287" y2="220.3" stroke="#777" stroke-width="0.6"/>
<text x="287" y="224.4" font-size="4.5" text-anchor="middle" fill="#000">-200</text>
<line x1="302.9" y1="219.1" x2="302.9" y2="220.3" stroke="#777" stroke-width="0.6"/>
<text x="302.9" y="224.4" font-size="4.5" text-anchor="middle" fill="#000">-100</text>
<line x1="318.7" y1="219.1" x2="318.7" y2="220.3" stroke="#777" stroke-width="0.6"/>
<text x="318.7" y="224.4" font-size="4.5" text-anchor="middle" fill="#000">0</text>
<line x1="334.5" y1="219.1" x2="334.5" y2="220.3" stroke="#777" stroke-width="0.6"/>
<text x="334.5" y="224.4" font-size="4.5" text-anchor="middle" fill="#000">100</text>
<line x1="350.4" y1="219.1" x2="350.4" y2="220.3" stroke="#777" stroke-width="0.6"/>
<text x="350.4" y="224.4" font-size="4.5" text-anchor="middle" fill="#000">200</text>
<line x1="366.2" y1="219.1" x2="366.2" y2="220.3" stroke="#777" stroke-width="0.6"/>
<text x="366.2" y="224.4" font-size="4.5" text-anchor="middle" fill="#000">300</text>
<text x="320.7" y="230.6" font-size="5.2" text-anchor="middle" fill="#000">x axis [µm]</text>
<text transform="translate(260.2,169) rotate(-90)" x="0" y="0" font-size="5.2" text-anchor="middle" fill="#000">y axis [µm]</text>
<rect x="383.5" y="124.1" width="95" height="95" fill="#fff"/>
<line x1="391.7" y1="124.1" x2="391.7" y2="219.1" stroke="#f6f6f6" stroke-width="0.6"/>
<line x1="407.6" y1="124.1" x2="407.6" y2="219.1" stroke="#f6f6f6" stroke-width="0.6"/>
<line x1="423.4" y1="124.1" x2="423.4" y2="219.1" stroke="#f6f6f6" stroke-width="0.6"/>
<line x1="439.2" y1="124.1" x2="439.2" y2="219.1" stroke="#f6f6f6" stroke-width="0.6"/>
<line x1="455.1" y1="124.1" x2="455.1" y2="219.1" stroke="#f6f6f6" stroke-width="0.6"/>
<line x1="470.9" y1="124.1" x2="470.9" y2="219.1" stroke="#f6f6f6" stroke-width="0.6"/>
<line x1="383.5" y1="214.9" x2="478.5" y2="214.9" stroke="#f6f6f6" stroke-width="0.6"/>
<line x1="383.5" y1="207.1" x2="478.5" y2="207.1" stroke="#f6f6f6" stroke-width="0.6"/>
<line x1="383.5" y1="199.2" x2="478.5" y2="199.2" stroke="#f6f6f6" stroke-width="0.6"/>
<line x1="383.5" y1="191.2" x2="478.5" y2="191.2" stroke="#f6f6f6" stroke-width="0.6"/>
<line x1="383.5" y1="183.3" x2="478.5" y2="183.3" stroke="#f6f6f6" stroke-width="0.6"/>
<line x1="383.5" y1="175.4" x2="478.5" y2="175.4" stroke="#f6f6f6" stroke-width="0.6"/>
<line x1="383.5" y1="167.6" x2="478.5" y2="167.6" stroke="#f6f6f6" stroke-width="0.6"/>
<line x1="383.5" y1="159.7" x2="478.5" y2="159.7" stroke="#f6f6f6" stroke-width="0.6"/>
<line x1="383.5" y1="151.8" x2="478.5" y2="151.8" stroke="#f6f6f6" stroke-width="0.6"/>
<line x1="383.5" y1="143.8" x2="478.5" y2="143.8" stroke="#f6f6f6" stroke-width="0.6"/>
<line x1="383.5" y1="135.9" x2="478.5" y2="135.9" stroke="#f6f6f6" stroke-width="0.6"/>
<line x1="383.5" y1="128.1" x2="478.5" y2="128.1" stroke="#f6f6f6" stroke-width="0.6"/>
<line x1="383.8" y1="124.1" x2="383.8" y2="219.1" stroke="#e9e9e9" stroke-width="0.9"/>
<line x1="399.6" y1="124.1" x2="399.6" y2="219.1" stroke="#e9e9e9" stroke-width="0.9"/>
<line x1="415.5" y1="124.1" x2="415.5" y2="219.1" stroke="#e9e9e9" stroke-width="0.9"/>
<line x1="447.1" y1="124.1" x2="447.1" y2="219.1" stroke="#e9e9e9" stroke-width="0.9"/>
<line x1="463" y1="124.1" x2="463" y2="219.1" stroke="#e9e9e9" stroke-width="0.9"/>
<line x1="383.5" y1="218.9" x2="478.5" y2="218.9" stroke="#e9e9e9" stroke-width="0.9"/>
<line x1="383.5" y1="211" x2="478.5" y2="211" stroke="#e9e9e9" stroke-width="0.9"/>
<line x1="383.5" y1="203.1" x2="478.5" y2="203.1" stroke="#e9e9e9" stroke-width="0.9"/>
<line x1="383.5" y1="195.2" x2="478.5" y2="195.2" stroke="#e9e9e9" stroke-width="0.9"/>
<line x1="383.5" y1="187.3" x2="478.5" y2="187.3" stroke="#e9e9e9" stroke-width="0.9"/>
<line x1="383.5" y1="179.4" x2="478.5" y2="179.4" stroke="#e9e9e9" stroke-width="0.9"/>
<line x1="383.5" y1="163.6" x2="478.5" y2="163.6" stroke="#e9e9e9" stroke-width="0.9"/>
<line x1="383.5" y1="155.7" x2="478.5" y2="155.7" stroke="#e9e9e9" stroke-width="0.9"/>
<line x1="383.5" y1="147.8" x2="478.5" y2="147.8" stroke="#e9e9e9" stroke-width="0.9"/>
<line x1="383.5" y1="139.9" x2="478.5" y2="139.9" stroke="#e9e9e9" stroke-width="0.9"/>
<line x1="383.5" y1="132" x2="478.5" y2="132" stroke="#e9e9e9" stroke-width="0.9"/>
<line x1="431.3" y1="124.1" x2="431.3" y2="219.1" stroke="#a8a8a8" stroke-width="0.9"/>
<line x1="383.5" y1="171.5" x2="478.5" y2="171.5" stroke="#a8a8a8" stroke-width="0.9"/>
<rect x="383.5" y="124.1" width="95" height="95" fill="none" stroke="#bdbdbd" stroke-width="1.3"/>
<line x1="382.3" y1="218.9" x2="383.5" y2="218.9" stroke="#777" stroke-width="0.6"/>
<text x="382.8" y="221.2" font-size="4.5" text-anchor="end" fill="#000">-300</text>
<line x1="382.3" y1="211" x2="383.5" y2="211" stroke="#777" stroke-width="0.6"/>
<text x="382.8" y="213.3" font-size="4.5" text-anchor="end" fill="#000">-250</text>
<line x1="382.3" y1="203.1" x2="383.5" y2="203.1" stroke="#777" stroke-width="0.6"/>
<text x="382.8" y="205.4" font-size="4.5" text-anchor="end" fill="#000">-200</text>
<line x1="382.3" y1="195.2" x2="383.5" y2="195.2" stroke="#777" stroke-width="0.6"/>
<text x="382.8" y="197.5" font-size="4.5" text-anchor="end" fill="#000">-150</text>
<line x1="382.3" y1="187.3" x2="383.5" y2="187.3" stroke="#777" stroke-width="0.6"/>
<text x="382.8" y="189.6" font-size="4.5" text-anchor="end" fill="#000">-100</text>
<line x1="382.3" y1="179.4" x2="383.5" y2="179.4" stroke="#777" stroke-width="0.6"/>
<text x="382.8" y="181.7" font-size="4.5" text-anchor="end" fill="#000">-50</text>
<line x1="382.3" y1="171.5" x2="383.5" y2="171.5" stroke="#777" stroke-width="0.6"/>
<text x="382.8" y="173.8" font-size="4.5" text-anchor="end" fill="#000">0</text>
<line x1="382.3" y1="163.6" x2="383.5" y2="163.6" stroke="#777" stroke-width="0.6"/>
<text x="382.8" y="165.9" font-size="4.5" text-anchor="end" fill="#000">50</text>
<line x1="382.3" y1="155.7" x2="383.5" y2="155.7" stroke="#777" stroke-width="0.6"/>
<text x="382.8" y="158" font-size="4.5" text-anchor="end" fill="#000">100</text>
<line x1="382.3" y1="147.8" x2="383.5" y2="147.8" stroke="#777" stroke-width="0.6"/>
<text x="382.8" y="150.1" font-size="4.5" text-anchor="end" fill="#000">150</text>
<line x1="382.3" y1="139.9" x2="383.5" y2="139.9" stroke="#777" stroke-width="0.6"/>
<text x="382.8" y="142.2" font-size="4.5" text-anchor="end" fill="#000">200</text>
<line x1="382.3" y1="132" x2="383.5" y2="132" stroke="#777" stroke-width="0.6"/>
<text x="382.8" y="134.3" font-size="4.5" text-anchor="end" fill="#000">250</text>
<line x1="382.3" y1="124.1" x2="383.5" y2="124.1" stroke="#777" stroke-width="0.6"/>
<text x="382.8" y="126.4" font-size="4.5" text-anchor="end" fill="#000">300</text>
<line x1="383.8" y1="219.1" x2="383.8" y2="220.3" stroke="#777" stroke-width="0.6"/>
<text x="383.8" y="224.4" font-size="4.5" text-anchor="middle" fill="#000">-300</text>
<line x1="399.6" y1="219.1" x2="399.6" y2="220.3" stroke="#777" stroke-width="0.6"/>
<text x="399.6" y="224.4" font-size="4.5" text-anchor="middle" fill="#000">-200</text>
<line x1="415.5" y1="219.1" x2="415.5" y2="220.3" stroke="#777" stroke-width="0.6"/>
<text x="415.5" y="224.4" font-size="4.5" text-anchor="middle" fill="#000">-100</text>
<line x1="431.3" y1="219.1" x2="431.3" y2="220.3" stroke="#777" stroke-width="0.6"/>
<text x="431.3" y="224.4" font-size="4.5" text-anchor="middle" fill="#000">0</text>
<line x1="447.1" y1="219.1" x2="447.1" y2="220.3" stroke="#777" stroke-width="0.6"/>
<text x="447.1" y="224.4" font-size="4.5" text-anchor="middle" fill="#000">100</text>
<line x1="463" y1="219.1" x2="463" y2="220.3" stroke="#777" stroke-width="0.6"/>
<text x="463" y="224.4" font-size="4.5" text-anchor="middle" fill="#000">200</text>
<line x1="478.8" y1="219.1" x2="478.8" y2="220.3" stroke="#777" stroke-width="0.6"/>
<text x="478.8" y="224.4" font-size="4.5" text-anchor="middle" fill="#000">300</text>
<text x="433.3" y="230.6" font-size="5.2" text-anchor="middle" fill="#000">x axis [µm]</text>
<text transform="translate(372.2,169) rotate(-90)" x="0" y="0" font-size="5.2" text-anchor="middle" fill="#000">y axis [µm]</text>
<text x="320.9" y="7.1" font-size="8.5" font-weight="bold" text-anchor="middle" fill="#000">Scrambled</text>
<text x="397.4" y="7.6" font-size="8.2" font-weight="bold" fill="#000">β<tspan font-size="5" dy="1.6">1</tspan><tspan dy="-1.6"> integrin siRNA</tspan></text>
<text transform="translate(247.5,56) rotate(-90)" font-size="8.55" font-weight="bold" text-anchor="middle" fill="#000">Fibronectin</text>
<text transform="translate(245.9,169.6) rotate(-90)" font-size="8.35" font-weight="bold" text-anchor="middle" fill="#000">Fibronectin + EGFL7</text>
<path d="M49.0,47.0 46.0,44.5 43.0,43.0 42.8,40.5 45.0,39.5 47.5,40.5 48.5,44.0 50.0,47.5 53.0,51.0 56.0,54.0" fill="none" stroke="#8a8a8a" stroke-width="0.45" stroke-opacity="1.0" stroke-linejoin="round"/>
<path d="M58.0,50.0 56.5,44.0 55.8,38.5 57.0,36.8 61.0,36.3 65.5,37.5 67.3,40.5 66.5,43.5 69.0,45.0" fill="none" stroke="#8a8a8a" stroke-width="0.45" stroke-opacity="1.0" stroke-linejoin="round"/>
<path d="M62.7,52.2 62.1,51.7 64.2,50.8 63.6,50.7 63.5,51.2 63.0,52.8 63.4,55.8 64.3,57.2 66.2,58.4 66.1,59.4 65.2,60.6 64.1,61.1 62.8,61.2 63.7,61.9 63.4,60.4 64.1,58.6 63.5,58.1 61.9,58.3 62.4,58.1 61.7,57.4 63.1,57.0 65.1,56.5 66.1,56.2 66.6,56.1 67.7,57.0 67.8,56.1 67.0,54.6 64.3,53.7 62.1,54.9 60.6,53.8 60.4,53.2 61.4,52.9 64.0,51.9 65.5,51.0 65.5,48.8 66.1,46.3 66.7,45.7 67.3,44.0 68.3,42.8 69.0,42.2 71.3,41.6" fill="none" stroke="#888" stroke-width="0.35" stroke-opacity="0.9" stroke-linejoin="round"/>
<path d="M62.7,52.2 62.5,52.3 60.8,51.7 60.0,51.6 59.3,53.3 61.3,55.0 62.3,56.3 65.1,58.3 67.0,58.4 69.1,58.8 69.9,58.5 68.6,56.6 66.4,55.7 65.5,54.4 64.8,55.0 63.1,54.6 61.1,56.2 59.8,58.0 60.2,57.9 61.2,57.7 62.3,57.5 63.6,57.7 63.3,58.1 62.4,56.8 61.6,55.0 60.5,52.9 61.1,52.6 60.8,53.7 60.6,53.3 59.6,53.3 59.1,53.4 62.3,54.2 63.7,53.4 63.9,52.1 63.3,49.2 63.2,46.7 65.6,45.5 67.6,45.4 67.5,45.7 66.8,45.7 66.4,43.9" fill="none" stroke="#888" stroke-width="0.35" stroke-opacity="0.9" stroke-linejoin="round"/>
<path d="M62.7,52.2 64.2,52.5 64.7,53.9 63.8,51.9 63.7,50.0 63.5,48.6 63.2,46.9 62.9,47.0 63.2,48.8 64.0,50.0 64.5,51.0 64.5,50.2 63.3,47.9 62.4,47.1 62.5,47.8 62.1,46.1 61.1,45.4 58.7,44.0 56.5,45.4 56.9,45.5 56.8,45.8 57.2,46.2 56.3,45.5 57.6,45.3 59.6,45.3 60.8,45.7 61.2,47.2 62.3,47.9 63.0,49.7 62.3,51.4 63.2,53.6 65.2,53.6 66.9,53.1 68.5,52.9 69.9,52.0 70.5,51.9 71.1,52.7 73.0,52.0 73.6,50.0 74.1,50.5 74.1,51.9" fill="none" stroke="#888" stroke-width="0.35" stroke-opacity="0.9" stroke-linejoin="round"/>
<path d="M62.7,52.2 64.9,52.4 66.9,53.3 66.8,52.3 66.2,50.9 66.5,48.0 64.2,44.9 63.3,43.4 62.7,42.5 61.9,41.6 61.7,41.3 62.0,41.3 62.3,41.7 64.6,44.1 66.9,43.6 68.4,44.9 69.4,44.2 69.2,46.6 68.7,46.4 68.0,47.3 67.5,46.6 64.7,46.6 61.5,47.6 61.3,48.4 61.3,48.7 61.0,48.1 59.9,46.9 61.2,48.2 61.9,49.3 61.9,50.0 63.4,51.2 65.2,52.3 66.8,52.0 68.2,50.1 68.9,49.5 69.4,47.4 70.4,45.2 67.9,44.2 66.4,42.3 65.9,41.6 65.5,40.2" fill="none" stroke="#888" stroke-width="0.35" stroke-opacity="0.9" stroke-linejoin="round"/>
<path d="M62.7,52.2 63.5,52.0 63.6,50.7 62.8,49.7 60.4,48.4 60.8,47.7 61.0,47.0 62.0,47.7 62.8,47.6 63.9,48.6 64.2,49.5 64.9,50.8 65.3,50.7 65.6,50.3 65.6,51.4 66.4,51.9 67.1,52.6 67.7,52.4 67.4,50.1 67.1,50.9 66.0,52.7 64.5,52.9 65.0,51.9 64.6,52.5 64.1,53.3 66.5,52.6 68.8,53.9 69.6,54.1 70.6,54.7 72.4,53.5 72.9,53.8 73.3,53.4 74.0,53.7 73.0,51.8 72.2,50.8 71.8,50.7 70.3,50.0 70.6,49.0 69.3,47.6 69.0,49.0 69.9,48.2" fill="none" stroke="#888" stroke-width="0.35" stroke-opacity="0.9" stroke-linejoin="round"/>
<path d="M62.7,52.2 62.8,51.4 63.9,51.2 64.2,50.4 65.7,48.6 65.9,46.8 67.0,47.4 68.0,48.8 68.3,48.0 68.4,49.7 67.8,51.3 65.7,52.6 66.2,53.3 64.3,53.6 62.5,54.5 62.0,54.6 62.2,53.4 62.0,53.4 62.4,55.0 63.4,57.9 63.0,58.8 63.1,57.5 63.6,56.3 63.7,55.2 64.1,55.4 64.0,55.9 62.2,55.2 60.4,55.2 59.8,54.3 59.9,53.7 58.6,54.5 58.3,55.5 59.8,58.0 60.9,58.5 60.9,58.2 61.7,57.8 61.8,56.1 61.5,56.3 62.3,56.5 64.3,57.4 64.0,58.4" fill="none" stroke="#888" stroke-width="0.35" stroke-opacity="0.9" stroke-linejoin="round"/>
<path d="M62.7,52.2 62.1,52.8 61.2,52.6 59.0,51.9 58.8,51.7 60.2,51.7 61.9,52.3 63.4,53.4 63.8,55.4 65.0,53.8 63.2,53.3 63.1,52.2 65.7,51.3 67.8,52.2 68.0,51.2 67.6,49.9 68.2,47.9 69.4,49.4 69.6,49.7 70.1,49.9 69.1,48.7 70.5,47.3 71.0,47.3 71.8,47.9 70.9,48.6 70.8,47.8 71.2,45.7 71.2,43.7 69.7,43.6 67.2,44.1 66.8,43.4 66.5,44.6 65.7,45.4 66.1,46.6 67.7,46.7 70.6,47.5 71.3,46.7 72.3,46.5 71.7,47.4 72.2,48.8 70.9,48.6" fill="none" stroke="#888" stroke-width="0.35" stroke-opacity="0.9" stroke-linejoin="round"/>
<path d="M62.7,52.2 61.3,52.0 62.3,53.0 64.2,51.9 65.1,50.5 65.3,50.2 65.8,48.1 67.3,46.7 68.4,44.3 69.0,43.7 71.1,41.8 71.4,40.0 69.5,40.6 68.3,41.6 67.7,42.0 66.9,41.1 67.2,41.7 66.9,43.9 66.8,44.3 67.2,45.4 65.8,46.6 66.0,46.9 66.8,48.2 65.5,49.6 64.1,49.2 63.6,48.4 63.6,47.4 62.1,47.2 61.0,47.1 59.7,47.3 59.1,48.4 58.3,49.3 57.2,47.7 57.5,46.8 58.0,47.4 57.1,47.0 55.8,46.2 58.3,46.0 59.9,45.3 60.8,44.9 62.8,44.4" fill="none" stroke="#888" stroke-width="0.35" stroke-opacity="0.9" stroke-linejoin="round"/>
<path d="M62.7,53.7 62.3,52.4 62.5,50.5 63.0,47.5 63.5,46.4 63.7,46.5 62.5,46.3 62.4,47.3 62.4,48.1 62.3,49.2 61.5,47.6 62.0,47.4 61.2,47.7 62.1,49.8 62.4,52.0 61.7,53.5 62.2,53.3 61.4,55.0 62.0,57.6 62.1,57.9 63.7,57.6 63.0,57.1 63.2,57.0 61.4,57.0 58.9,58.8 56.8,58.6 56.2,57.7 57.1,56.4 58.1,55.9 59.1,54.4 61.1,52.7 61.3,51.6 61.6,48.5 61.5,48.2 61.7,48.3 62.5,48.8 61.8,47.9 61.5,45.2 61.3,46.0 61.0,47.3 58.4,47.2" fill="none" stroke="#1a1a1a" stroke-width="0.35" stroke-opacity="0.9" stroke-linejoin="round"/>
<path d="M62.7,53.7 62.5,53.5 61.7,54.2 61.2,53.8 60.9,54.1 60.1,54.0 59.4,54.8 59.3,53.7 59.3,52.2 59.8,51.2 60.5,50.9 60.2,50.9 60.2,50.9 60.4,50.6 59.2,48.7 58.7,49.2 59.4,48.8 60.0,48.5 59.1,47.8 57.4,47.6 58.3,47.5 57.7,47.7 58.5,47.0 59.5,47.0 59.8,46.9 61.2,49.0 59.5,50.0 59.6,49.1 59.3,49.1 59.8,49.4 59.1,49.6 59.4,50.5 58.6,52.4 58.0,54.8 56.7,54.0 56.3,54.3 55.7,54.3 54.2,52.8 53.3,51.9 54.4,51.8 55.1,51.8" fill="none" stroke="#1a1a1a" stroke-width="0.35" stroke-opacity="0.9" stroke-linejoin="round"/>
<path d="M62.7,53.7 61.8,54.6 60.9,54.3 62.8,53.4 64.2,52.9 64.2,52.1 64.6,53.2 65.4,53.1 66.7,52.6 66.5,51.5 66.8,49.1 65.8,48.0 65.7,46.0 65.3,44.7 65.5,45.0 66.2,45.6 66.2,46.4 66.7,48.0 67.3,48.4 67.2,47.8 68.8,47.7 70.1,48.5 71.0,49.0 70.6,50.0 68.1,50.2 66.1,49.6 65.4,48.5 64.8,47.1 64.4,46.2 64.8,47.2 64.8,47.0 65.8,47.3 66.8,48.2 67.6,47.1 67.9,46.4 67.9,46.0 69.0,45.8 69.5,44.1 70.0,42.2 70.2,41.5 71.2,42.3" fill="none" stroke="#1a1a1a" stroke-width="0.35" stroke-opacity="0.9" stroke-linejoin="round"/>
<path d="M62.7,53.7 63.8,54.5 63.1,55.5 63.6,56.5 63.5,55.2 63.7,55.1 64.6,53.5 64.8,52.7 64.6,50.7 63.1,47.8 61.4,45.4 60.7,45.2 63.5,44.9 65.6,45.8 66.0,45.2 65.5,45.7 65.6,45.9 66.7,47.0 67.8,47.7 67.0,47.6 66.4,49.0 65.2,48.3 62.7,48.4 59.9,49.2 57.7,50.5 56.6,52.3 56.3,52.8 56.6,52.5 57.0,51.8 57.5,52.2 57.9,53.6 57.4,55.5 56.4,57.2 55.8,58.8 55.1,58.7 55.4,57.1 54.7,55.7 54.9,55.6 56.1,54.4 54.2,54.3 54.9,53.7" fill="none" stroke="#1a1a1a" stroke-width="0.35" stroke-opacity="0.9" stroke-linejoin="round"/>
<path d="M62.7,53.7 63.3,54.0 62.8,54.8 62.3,55.9 62.4,55.9 63.3,56.3 64.5,56.4 64.9,57.7 65.5,59.0 66.4,58.3 66.3,58.1 67.5,57.1 67.6,55.8 67.5,56.8 68.1,55.5 67.7,56.0 68.0,54.3 67.9,53.0 68.2,52.6 68.4,51.5 69.1,51.3 69.6,52.0 69.4,51.2 68.1,50.5 69.0,49.7 68.8,49.3 68.4,48.7 68.3,48.5 66.6,49.2 64.3,49.6 61.9,49.5 59.6,49.3 58.2,49.9 58.2,48.6 58.7,46.8 59.4,44.9 59.2,43.1 59.1,42.7 60.3,41.5 60.6,42.1 62.3,44.1" fill="none" stroke="#1a1a1a" stroke-width="0.35" stroke-opacity="0.9" stroke-linejoin="round"/>
<path d="M62.7,53.7 63.5,53.9 65.4,54.1 65.7,52.6 64.7,51.2 64.5,50.3 64.2,50.3 63.8,50.4 62.8,49.5 62.1,47.4 62.0,46.7 61.1,46.9 60.6,46.4 61.4,45.8 60.6,45.9 61.4,45.3 62.3,44.8 62.8,45.0 62.0,44.4 62.1,45.6 62.4,47.5 64.2,48.3 64.9,49.0 65.2,50.6 64.8,52.1 62.8,52.5 61.4,53.4 60.4,54.7 60.5,56.1 59.3,56.3 57.1,55.6 55.9,55.9 55.6,55.9 55.5,54.3 56.1,53.3 57.5,51.6 58.7,50.4 59.3,51.4 59.6,51.4 61.9,51.9 62.8,51.2" fill="none" stroke="#1a1a1a" stroke-width="0.35" stroke-opacity="0.9" stroke-linejoin="round"/>
<path d="M62.7,53.7 62.3,53.5 61.6,55.6 62.9,57.5 63.7,57.2 64.0,55.7 63.5,53.9 61.5,54.0 60.7,53.0 59.8,52.2 60.0,52.4 60.5,51.8 60.9,51.8 61.7,51.6 62.6,52.8 64.3,54.2 64.9,54.4 65.3,53.8 66.5,54.2 67.6,53.9 67.6,54.6 68.0,52.4 67.6,50.5 65.6,50.0 64.5,50.7 64.8,53.4 65.0,53.9 65.4,51.8 65.2,51.6 64.7,53.2 62.9,54.3 61.1,55.7 61.2,55.8 62.0,57.3 63.2,57.5 65.7,55.4 68.3,53.8 68.7,53.2 68.6,53.5 68.3,54.0 68.7,54.1" fill="none" stroke="#1a1a1a" stroke-width="0.35" stroke-opacity="0.9" stroke-linejoin="round"/>
<path d="M62.7,53.7 63.8,54.4 62.3,56.1 61.4,56.0 60.7,54.6 61.6,53.5 62.1,53.5 61.7,53.7 61.8,55.3 61.6,56.9 60.8,58.3 60.8,59.4 60.8,60.8 59.4,60.2 58.9,59.5 58.8,57.0 59.5,55.3 59.5,54.1 58.7,52.3 59.2,50.6 58.9,49.5 59.6,49.6 60.6,50.9 61.2,52.4 62.3,53.1 63.0,52.9 62.0,52.7 62.7,52.0 64.3,52.1 65.9,50.7 66.8,48.6 67.1,46.8 67.6,46.3 66.7,46.4 66.9,46.6 65.6,47.5 64.7,48.9 64.6,50.5 65.2,52.3 64.9,53.2 64.6,54.7" fill="none" stroke="#1a1a1a" stroke-width="0.35" stroke-opacity="0.9" stroke-linejoin="round"/>
<path d="M62.7,53.7 61.8,55.7 62.2,56.2 62.2,55.6 62.9,56.5 63.8,56.4 63.7,57.3 64.0,58.0 63.3,58.0 62.8,58.8 62.4,59.7 62.5,58.6 61.7,58.2 63.5,57.1 65.2,55.3 65.1,54.8 66.3,56.0 66.8,56.6 66.7,56.4 66.4,55.2 66.1,53.4 66.5,53.2 66.5,53.0 66.8,53.5 66.2,53.0 64.8,53.5 64.1,54.4 61.9,55.0 60.7,55.3 60.3,56.4 61.4,56.4 61.4,56.1 60.6,57.3 61.1,57.5 60.7,56.2 60.5,54.6 60.5,54.6 60.1,54.5 61.8,54.8 62.0,55.5 61.7,57.8" fill="none" stroke="#1a1a1a" stroke-width="0.35" stroke-opacity="0.9" stroke-linejoin="round"/>
<path d="M62.7,53.7 61.9,51.9 61.7,52.6 61.1,53.1 60.7,52.9 61.0,52.5 61.5,51.4 62.7,52.0 64.5,53.1 65.4,54.2 66.1,54.6 67.2,53.4 66.1,53.3 65.3,54.1 64.2,54.8 62.8,54.9 61.9,53.2 60.9,53.0 60.1,52.6 60.1,52.5 60.2,51.8 61.4,52.4 61.6,51.7 62.9,52.8 63.5,53.7 63.8,53.4 65.5,52.7 64.9,52.9 65.3,54.0 65.1,54.9 64.6,53.1 62.9,51.7 61.6,51.5 60.8,50.1 61.0,49.5 60.8,48.3 61.2,48.6 61.9,48.5 62.5,48.6 60.9,47.9 61.3,47.4" fill="none" stroke="#1a1a1a" stroke-width="0.35" stroke-opacity="0.9" stroke-linejoin="round"/>
<path d="M62.7,53.7 63.0,53.8 64.1,52.6 63.2,50.4 61.5,48.9 60.8,48.3 61.3,47.6 62.9,47.9 64.1,48.7 65.2,47.9 67.0,46.9 67.3,47.3 68.1,49.0 68.7,49.1 69.7,46.3 69.3,44.3 68.4,42.7 67.2,43.0 66.8,42.9 68.2,44.4 68.9,45.8 68.5,49.0 66.6,49.9 65.3,48.7 65.0,48.3 63.9,47.0 63.6,45.6 62.1,46.6 61.6,46.4 61.4,46.1 61.5,45.4 62.2,46.2 61.6,46.5 61.6,48.5 61.5,49.4 62.1,49.7 63.5,50.6 63.7,50.7 64.0,51.7 64.4,51.6 64.6,51.7" fill="none" stroke="#1a1a1a" stroke-width="0.35" stroke-opacity="0.9" stroke-linejoin="round"/>
<path d="M62.7,53.7 62.6,53.7 61.7,53.9 61.4,54.6 60.2,54.4 60.1,53.9 60.9,52.9 61.7,53.0 62.1,54.8 62.9,55.4 62.8,55.4 62.9,54.9 64.0,53.8 65.1,52.4 66.9,52.2 66.8,52.8 66.6,52.6 66.4,53.1 67.0,54.9 66.7,54.8 66.4,53.1 65.6,53.6 65.0,52.1 64.8,51.2 63.9,51.3 61.4,52.3 59.0,51.6 57.3,51.7 56.5,53.0 56.9,52.2 58.1,51.9 59.5,51.7 60.4,52.2 61.3,52.8 62.0,52.9 62.7,51.2 63.2,49.9 65.1,47.6 66.5,44.8 66.5,45.2 66.2,45.6" fill="none" stroke="#1a1a1a" stroke-width="0.35" stroke-opacity="0.9" stroke-linejoin="round"/>
<path d="M62.7,53.7 62.4,53.3 63.2,51.9 62.0,51.0 62.0,50.3 60.9,49.2 61.0,48.9 61.9,48.6 63.3,48.1 65.4,46.8 65.9,44.6 66.8,43.0 66.4,44.0 67.4,43.8 67.2,43.5 66.9,43.2 67.3,44.4 67.2,46.8 67.0,47.3 67.2,47.6 66.1,48.4 66.2,49.1 64.6,48.7 64.2,48.3 64.0,49.0 63.9,49.7 62.9,49.2 64.1,49.5 63.8,48.6 62.4,49.4 62.0,48.9 60.2,48.1 59.3,47.6 60.6,47.9 61.0,47.1 60.5,46.4 61.4,46.8 62.5,47.4 62.2,47.9 61.1,47.0 59.8,47.1" fill="none" stroke="#1a1a1a" stroke-width="0.35" stroke-opacity="0.9" stroke-linejoin="round"/>
<path d="M62.7,53.7 61.7,52.8 61.3,53.1 61.7,52.5 60.4,51.7 58.3,50.4 56.8,49.9 55.6,49.8 53.8,48.6 53.8,47.3 54.0,47.2 55.8,48.1 55.7,48.8 57.0,49.1 58.4,48.5 59.6,49.7 59.8,50.6 61.0,49.3 61.7,50.1 62.0,49.6 60.7,50.4 60.8,51.0 60.3,51.1 61.1,49.0 60.7,48.7 61.8,48.3 61.7,47.5 61.2,46.6 61.1,45.9 62.0,45.0 63.3,44.5 64.0,43.6 64.8,43.3 65.0,45.7 65.2,47.4 65.8,46.6 65.8,45.7 65.7,46.9 66.0,47.4 65.7,47.8 65.8,48.0" fill="none" stroke="#1a1a1a" stroke-width="0.35" stroke-opacity="0.9" stroke-linejoin="round"/>
<path d="M62.7,53.7 63.4,52.2 64.0,52.4 64.3,51.5 65.9,51.4 66.2,51.5 67.2,51.7 67.0,51.2 67.1,49.7 66.4,48.5 67.5,47.4 67.2,47.0 67.1,45.6 67.5,46.6 68.4,47.9 67.3,49.7 65.9,48.9 65.4,47.6 64.7,46.9 63.7,46.6 63.1,46.2 64.2,47.1 64.6,48.0 65.8,49.2 67.0,49.5 66.8,47.8 67.3,47.9 68.6,46.9 69.0,47.5 68.8,49.2 67.9,52.0 67.3,53.0 65.9,52.7 64.9,51.5 64.9,50.2 64.7,49.8 65.5,49.7 65.0,49.0 64.9,48.4 64.2,48.8 64.7,48.4" fill="none" stroke="#1a1a1a" stroke-width="0.35" stroke-opacity="0.9" stroke-linejoin="round"/>
<path d="M62.7,53.7 63.8,54.2 64.3,54.7 65.1,54.7 66.4,55.7 66.4,56.8 66.5,55.6 68.1,54.0 69.1,52.7 69.1,51.7 69.0,52.0 68.8,52.0 69.0,53.6 70.1,54.5 71.2,56.4 70.1,56.5 69.7,57.4 69.8,57.2 69.6,54.9 70.6,55.4 70.4,55.1 70.5,54.1 71.1,53.4 70.9,53.8 69.4,54.3 69.2,54.3 68.8,55.0 68.7,54.6 68.2,54.3 67.3,52.8 66.5,51.5 65.6,51.2 66.2,50.6 67.3,48.6 69.0,48.0 69.5,48.1 69.4,46.1 70.4,46.5 70.8,46.6 70.4,47.9 69.5,48.1" fill="none" stroke="#1a1a1a" stroke-width="0.35" stroke-opacity="0.9" stroke-linejoin="round"/>
<path d="M62.7,59.0 63.6,58.3 64.1,57.8 64.7,58.9 65.1,58.8 65.8,59.2 66.9,59.5 66.5,59.5 65.2,60.0 64.2,60.1 63.9,61.4 63.0,60.9 62.8,61.1 63.5,61.6 64.1,61.6 64.1,62.9 63.5,63.8 63.4,64.8 63.6,63.9 65.4,62.6 66.3,61.9 67.5,59.7 67.9,59.1 67.3,59.1 68.9,60.3 69.8,60.5 69.6,61.7 69.0,63.1 68.3,63.3 68.6,63.5 68.9,63.2 70.5,62.3 70.8,61.8 70.1,61.9 69.1,62.1 67.7,61.6 66.7,62.0 66.8,61.4 66.6,60.5 68.2,60.2 68.1,59.2" fill="none" stroke="#b83030" stroke-width="0.33" stroke-opacity="0.85" stroke-linejoin="round"/>
<path d="M62.7,59.0 63.7,58.7 62.3,58.1 60.0,57.3 58.0,58.1 55.4,59.0 53.8,59.3 55.0,58.0 55.6,56.9 56.1,56.8 55.6,56.6 56.9,57.0 57.2,58.3 56.4,58.2 55.2,57.9 55.8,57.3 54.3,57.7 54.8,58.2 54.8,58.2 57.0,57.6 57.8,56.1 57.9,55.4 57.7,54.6 57.6,54.9 57.4,56.8 58.9,57.8 59.4,59.2 58.3,58.2 57.2,57.7 56.1,59.2 55.7,58.7 55.9,58.6 55.3,58.6 54.8,60.1 54.2,59.6 52.7,60.4 51.9,62.1 54.0,64.6 54.8,66.9 56.2,67.5 56.4,66.6" fill="none" stroke="#b83030" stroke-width="0.33" stroke-opacity="0.85" stroke-linejoin="round"/>
<path d="M62.7,59.0 62.2,60.4 59.6,61.6 58.3,61.0 56.7,59.8 57.6,60.2 58.8,59.9 58.4,59.3 59.0,60.8 61.0,60.8 60.7,62.3 60.6,63.8 60.5,63.9 61.0,62.4 59.3,60.7 59.2,59.3 58.8,59.4 59.5,58.7 59.9,58.2 60.1,57.9 59.7,59.2 60.6,59.1 60.7,58.5 60.4,57.9 62.5,58.3 64.2,57.8 63.3,59.6 62.5,60.9 61.4,61.5 60.9,63.0 60.8,63.1 59.4,63.8 59.4,63.8 60.0,63.4 60.4,62.3 58.5,61.6 58.0,61.4 57.2,61.4 57.4,60.0 57.9,59.6 58.7,59.0" fill="none" stroke="#b83030" stroke-width="0.33" stroke-opacity="0.85" stroke-linejoin="round"/>
<path d="M62.7,59.0 62.5,60.4 61.2,61.2 60.7,62.3 59.2,61.3 60.0,59.7 61.8,59.0 64.9,58.5 66.4,59.0 67.5,60.6 68.6,61.8 67.8,63.1 64.1,63.0 64.6,62.6 66.2,61.3 67.6,60.0 67.5,61.1 67.8,62.3 68.3,63.2 68.8,63.4 68.0,62.2 67.2,60.4 67.0,59.3 65.9,58.3 64.8,58.4 62.2,57.0 61.5,55.5 60.5,55.2 60.0,55.9 59.1,55.5 57.6,54.9 57.9,55.2 57.7,54.7 58.2,55.0 56.8,55.1 56.8,54.5 57.8,53.7 56.9,54.6 55.9,55.4 56.2,56.6 55.6,57.8" fill="none" stroke="#b83030" stroke-width="0.33" stroke-opacity="0.85" stroke-linejoin="round"/>
<path d="M62.7,59.0 62.1,60.1 60.1,61.9 58.8,61.0 57.4,60.4 58.2,59.5 59.1,58.0 58.7,58.4 59.4,57.7 59.5,58.8 58.6,58.1 59.0,58.3 60.0,59.0 59.9,60.4 61.2,62.0 64.1,63.2 64.0,62.7 64.2,62.6 64.1,62.3 63.9,63.2 64.2,63.4 65.7,61.7 64.5,61.0 63.2,60.8 62.4,60.3 62.6,61.2 62.3,62.2 60.9,62.5 59.9,63.4 59.2,63.3 59.5,65.0 58.6,65.4 60.1,65.3 62.2,66.2 62.0,67.3 61.7,67.5 63.5,67.1 63.1,67.1 64.4,66.8 65.3,66.4 65.2,65.6" fill="none" stroke="#b83030" stroke-width="0.33" stroke-opacity="0.85" stroke-linejoin="round"/>
<path d="M62.7,59.0 62.1,58.6 62.4,58.3 63.7,58.1 64.1,56.3 65.2,56.8 66.4,58.2 67.5,58.0 67.2,58.3 65.9,57.3 64.3,58.3 64.1,58.0 63.5,57.1 64.8,56.2 66.3,56.6 67.9,57.1 68.1,57.2 66.7,57.2 66.3,57.0 65.2,58.5 63.6,60.8 61.1,61.6 60.1,62.5 60.3,63.2 58.7,63.0 56.0,64.0 55.8,65.0 54.9,66.2 52.9,67.1 52.7,67.6 52.6,66.8 52.3,66.6 52.5,66.1 51.4,65.9 51.8,65.9 53.8,65.8 55.2,64.9 57.7,65.0 57.2,64.6 56.4,64.7 57.2,66.5" fill="none" stroke="#b83030" stroke-width="0.33" stroke-opacity="0.85" stroke-linejoin="round"/>
<path d="M62.7,59.0 64.0,59.3 65.2,59.4 66.5,58.7 68.0,58.9 66.8,58.9 64.7,59.4 63.6,58.4 63.9,58.6 64.1,58.1 63.5,57.5 63.5,56.0 62.3,55.4 62.6,55.3 63.0,53.8 64.5,54.7 66.7,54.9 69.9,54.9 70.9,56.1 72.6,56.0 73.8,56.0 75.1,56.5 72.1,57.0 69.4,56.5 68.4,56.9 68.1,56.6 69.8,56.4 69.5,57.2 68.0,57.2 64.2,57.2 62.4,56.2 64.9,56.6 64.7,55.0 65.1,53.1 65.1,51.9 63.3,51.3 63.8,52.0 63.9,52.6 63.7,52.4 64.5,50.9 65.1,50.9" fill="none" stroke="#b83030" stroke-width="0.33" stroke-opacity="0.85" stroke-linejoin="round"/>
<path d="M62.7,59.0 61.2,59.9 60.4,58.5 61.4,59.3 61.8,58.9 61.9,58.5 62.5,57.6 62.9,57.2 63.0,55.5 62.4,55.4 61.1,55.4 60.3,55.2 60.8,54.2 62.3,52.8 62.1,51.7 62.3,51.4 63.0,51.1 63.1,50.5 62.1,51.0 61.6,51.8 62.2,53.6 61.8,55.4 60.3,57.1 59.5,57.7 58.0,59.0 56.9,60.2 56.9,60.8 57.1,61.0 57.0,60.3 57.7,60.9 58.4,61.4 61.1,62.5 60.7,63.5 58.7,64.3 57.1,64.8 54.0,66.6 53.1,67.1 53.4,66.2 54.7,66.5 53.3,66.7 52.0,66.9" fill="none" stroke="#b83030" stroke-width="0.33" stroke-opacity="0.85" stroke-linejoin="round"/>
<path d="M62.7,59.0 63.8,58.0 64.4,57.9 64.7,58.3 64.3,58.1 65.7,58.3 64.6,59.1 64.5,58.2 64.4,58.2 63.0,58.2 64.1,57.6 65.2,57.9 65.2,59.6 66.0,61.0 67.4,59.9 70.7,59.4 71.2,59.4 71.4,59.1 70.4,58.3 70.1,56.0 69.0,55.6 67.9,54.8 67.5,54.5 66.2,54.5 64.8,54.2 63.4,53.9 61.9,53.6 60.7,54.5 60.9,55.4 61.3,54.2 61.3,53.2 62.3,52.6 63.7,52.3 63.6,50.2 64.0,48.9 64.3,49.6 64.9,50.8 65.1,53.1 65.4,54.2 64.9,53.7 63.1,54.9" fill="none" stroke="#b83030" stroke-width="0.33" stroke-opacity="0.85" stroke-linejoin="round"/>
<path d="M62.7,59.0 61.4,60.2 60.9,60.6 59.7,60.4 58.6,59.9 58.7,59.2 57.7,58.8 56.8,58.9 56.9,59.2 55.4,59.2 56.6,60.0 56.4,59.4 57.8,60.2 60.2,61.4 62.1,62.6 63.1,62.8 63.4,62.4 63.2,62.5 62.9,62.4 63.3,62.3 62.2,62.9 61.6,62.6 62.4,62.2 63.9,60.3 64.6,58.4 63.5,58.0 63.4,59.3 64.1,58.7 62.9,59.0 62.7,60.6 63.4,62.2 62.8,62.5 62.5,60.5 62.0,58.6 61.7,55.9 63.2,55.0 66.1,53.9 67.4,54.9 68.4,56.0 68.6,56.1 69.1,56.9" fill="none" stroke="#b83030" stroke-width="0.33" stroke-opacity="0.85" stroke-linejoin="round"/>
<path d="M62.7,59.0 63.0,59.4 63.0,59.5 63.5,59.1 63.1,58.7 62.7,58.9 60.6,59.5 61.1,58.2 61.7,59.2 61.7,60.6 61.2,61.7 60.2,63.2 59.7,63.4 60.9,64.0 62.4,65.7 61.8,65.0 62.2,64.7 64.6,64.6 66.7,64.2 69.8,62.2 69.2,61.7 69.0,60.1 68.9,60.1 69.5,59.9 68.6,60.4 66.6,61.4 64.7,62.7 64.3,64.1 62.9,64.7 61.9,63.9 62.9,64.5 63.7,65.9 64.1,65.4 63.0,66.1 62.2,65.4 61.4,63.5 61.1,62.0 60.1,61.6 58.8,60.4 57.5,60.1 56.2,61.8" fill="none" stroke="#b83030" stroke-width="0.33" stroke-opacity="0.85" stroke-linejoin="round"/>
<path d="M62.7,59.0 62.7,59.6 62.5,59.2 61.2,59.2 61.2,59.4 62.0,60.8 61.1,61.5 58.9,62.4 56.6,62.0 57.1,61.7 57.8,61.6 57.6,61.1 59.4,59.7 61.6,57.6 60.4,55.6 59.1,56.2 59.7,55.8 60.4,56.2 61.0,56.7 60.6,58.2 60.7,57.5 61.5,58.1 61.0,56.7 61.3,56.2 60.5,55.6 62.0,54.1 63.1,55.4 62.6,56.5 61.7,57.4 59.6,58.2 59.0,58.9 58.5,59.3 57.6,58.5 58.6,58.1 59.5,58.6 60.0,58.1 61.4,58.7 62.2,58.9 62.9,58.3 62.4,57.8 62.1,58.0" fill="none" stroke="#b83030" stroke-width="0.33" stroke-opacity="0.85" stroke-linejoin="round"/>
<path d="M62.6,59.7 63.1,58.6 62.7,60.8 62.9,61.7 63.8,60.2 63.6,59.1 61.4,57.2 61.1,57.2 63.3,57.8 65.9,57.9 67.0,59.2 65.3,61.4 63.3,63.3 63.0,62.2 65.5,59.2 62.9,58.9 59.3,57.9 57.0,56.2 57.3,55.8 58.7,56.2 59.2,55.4 59.4,55.2 60.8,56.6 59.5,57.9 61.6,58.5 63.6,58.3 66.4,58.6 68.4,60.4 65.3,59.7 64.9,58.7 63.0,56.9" fill="none" stroke="#c04040" stroke-width="0.3" stroke-opacity="0.8" stroke-linejoin="round"/>
<path d="M62.6,59.7 61.7,59.3 61.3,59.6 62.5,57.3 63.6,59.0 64.8,61.2 64.6,63.5 63.3,63.4 62.7,63.9 61.6,65.9 62.6,66.2 62.3,66.0 61.8,68.3 61.1,70.0 60.5,71.3 60.6,71.1 62.6,72.7 61.6,69.9 63.8,67.5 63.9,66.4 65.4,64.8 66.1,61.0 65.1,57.0 62.8,56.8 63.0,55.6 59.6,53.0 57.5,54.1 59.4,54.0 60.8,53.1 56.6,52.4 54.2,51.6" fill="none" stroke="#c04040" stroke-width="0.3" stroke-opacity="0.8" stroke-linejoin="round"/>
<path d="M62.6,59.7 65.1,58.3 64.3,56.4 64.5,57.0 65.0,58.2 66.1,57.1 67.0,55.7 66.4,55.5 63.0,57.3 63.1,59.0 63.1,60.9 63.7,60.0 64.9,58.0 68.4,58.1 67.6,56.1 64.1,58.5 65.5,60.8 65.5,59.6 63.6,58.6 65.1,57.7 64.1,56.8 61.7,55.1 60.1,54.3 62.6,54.6 67.6,52.8 66.9,50.8 68.5,47.8 70.3,45.5 70.6,46.4 71.1,49.8 68.9,51.2" fill="none" stroke="#c04040" stroke-width="0.3" stroke-opacity="0.8" stroke-linejoin="round"/>
<path d="M62.6,59.7 61.0,62.5 59.4,64.5 62.6,65.8 63.4,66.1 62.4,69.2 63.1,68.0 63.4,67.5 62.4,64.8 63.5,65.1 62.9,65.5 59.4,65.1 56.8,68.4 57.4,69.0 59.9,67.9 61.2,64.7 64.1,63.2 64.0,63.4 62.9,61.8 60.3,60.1 58.6,60.4 57.1,58.9 58.5,58.1 57.9,59.6 53.7,59.0 49.3,58.3 47.3,59.8 46.7,60.6 44.3,59.6 43.8,58.7 43.5,59.0" fill="none" stroke="#c04040" stroke-width="0.3" stroke-opacity="0.8" stroke-linejoin="round"/>
<path d="M62.6,59.7 59.2,56.7 57.4,55.4 56.5,58.0 55.9,58.7 56.4,59.7 56.4,59.0 58.7,59.4 62.8,58.8 63.9,58.8 61.7,60.5 58.9,59.7 55.4,58.0 56.7,57.5 59.4,57.6 64.0,57.0 63.7,54.6 66.0,55.5 65.7,55.5 66.3,55.4 66.1,57.0 63.8,59.0 62.2,58.9 61.1,57.9 61.7,57.8 61.6,56.1 59.9,55.6 61.4,54.3 60.8,55.2 61.8,55.1 63.7,54.4" fill="none" stroke="#c04040" stroke-width="0.3" stroke-opacity="0.8" stroke-linejoin="round"/>
<path d="M62.6,59.7 61.9,61.7 59.4,64.1 60.2,67.9 60.9,70.8 59.0,69.2 59.8,67.6 60.1,68.6 58.4,68.0 60.9,67.2 63.4,66.0 65.5,65.3 66.1,64.7 67.0,64.2 66.0,62.6 68.0,64.1 68.3,65.2 67.6,66.3 65.6,64.6 64.8,63.9 64.9,63.0 67.2,62.2 69.3,62.1 69.4,65.3 74.0,68.0 76.0,68.1 75.7,67.7 75.9,67.8 75.7,67.0 74.4,66.5 73.3,66.4" fill="none" stroke="#c04040" stroke-width="0.3" stroke-opacity="0.8" stroke-linejoin="round"/>
<path d="M62.1,58.1 65.2,56.2 66.9,54.3 66.6,52.8 65.0,54.1 65.1,55.7 63.8,55.0 63.1,56.3 63.2,55.7 62.8,56.1 60.8,55.6 59.3,55.1 60.0,53.3 58.7,52.9 57.1,52.5 54.6,52.1 53.4,53.1 53.6,55.5 54.4,57.1 53.6,56.7 52.8,56.1 52.4,56.0 52.3,54.7 53.3,53.6 54.5,52.7 56.2,52.8 57.2,49.7 57.9,48.1 57.6,47.7 56.5,49.3 56.6,49.5" fill="none" stroke="#222" stroke-width="0.35" stroke-opacity="0.9" stroke-linejoin="round"/>
<path d="M62.1,58.1 60.1,58.2 58.4,59.2 57.2,59.3 57.3,60.5 57.6,59.0 56.9,58.9 59.3,58.2 60.3,57.9 60.8,58.1 59.8,59.4 61.2,60.0 61.8,60.3 62.8,59.5 63.2,58.4 64.4,58.8 63.4,59.5 65.4,60.4 65.6,62.1 65.4,63.0 65.1,63.7 64.8,63.5 63.4,63.2 60.1,62.4 56.6,61.1 55.6,58.3 55.7,57.2 57.8,56.7 57.4,57.4 58.1,57.5 58.4,58.4" fill="none" stroke="#222" stroke-width="0.35" stroke-opacity="0.9" stroke-linejoin="round"/>
<path d="M62.1,58.1 62.1,58.2 62.6,58.7 62.5,58.8 63.3,59.3 63.3,60.5 62.4,58.8 62.3,59.4 62.7,59.6 62.5,61.4 62.9,61.7 64.1,62.1 64.7,62.3 65.3,62.6 64.5,63.1 62.9,61.8 63.6,61.5 64.6,60.5 65.3,59.8 65.9,59.5 66.1,58.3 66.5,57.4 64.9,58.2 63.7,58.0 64.7,58.2 63.9,59.1 64.5,57.6 64.1,56.6 64.2,56.1 63.4,58.8 62.3,59.9" fill="none" stroke="#222" stroke-width="0.35" stroke-opacity="0.9" stroke-linejoin="round"/>
<path d="M62.1,58.1 60.4,57.5 62.0,58.6 63.8,59.3 66.1,61.9 66.7,61.7 66.7,62.3 66.7,61.1 67.0,59.2 68.3,57.7 69.7,55.9 70.9,53.7 70.6,52.3 68.8,53.0 68.1,55.1 67.7,55.6 65.5,55.6 66.3,56.6 66.9,58.3 67.1,60.2 64.0,59.4 62.7,59.4 61.6,59.1 61.2,60.6 59.7,58.8 60.6,57.1 63.1,56.5 64.4,56.5 64.7,55.9 66.7,53.4 66.8,53.1" fill="none" stroke="#222" stroke-width="0.35" stroke-opacity="0.9" stroke-linejoin="round"/>
<path d="M62.1,58.1 62.0,55.2 62.9,52.8 63.4,51.9 62.2,52.7 60.7,52.9 59.0,53.1 58.4,51.6 58.7,51.1 58.6,51.4 59.4,50.6 60.0,52.3 61.4,52.5 61.5,50.4 60.1,49.0 60.3,47.9 59.7,48.0 58.7,49.1 59.5,48.7 61.1,49.7 61.1,50.8 60.2,51.3 60.4,53.1 60.2,54.6 59.5,55.1 57.7,54.7 56.8,54.6 55.5,53.5 54.6,54.7 52.0,54.2 51.4,55.1" fill="none" stroke="#222" stroke-width="0.35" stroke-opacity="0.9" stroke-linejoin="round"/>
<path d="M62.1,58.1 61.2,59.4 61.8,60.6 62.4,60.7 62.1,60.4 61.3,59.8 62.0,60.1 62.2,59.8 62.6,59.2 62.9,58.7 62.4,58.6 62.8,58.9 62.1,58.8 61.0,58.9 59.9,59.2 60.2,59.3 60.6,59.6 60.3,60.1 59.7,61.5 60.8,63.2 62.8,62.9 62.8,62.2 62.6,62.1 60.9,62.6 58.5,61.6 58.2,60.9 58.0,60.2 58.7,61.3 59.7,59.7 61.2,60.5 61.7,61.5" fill="none" stroke="#222" stroke-width="0.35" stroke-opacity="0.9" stroke-linejoin="round"/>
<path d="M61.5,57.9 61.9,57.3 62.0,56.6 61.7,55.9 62.1,55.1 62.9,54.8 62.7,54.9 62.2,55.2 61.5,55.4 60.5,56.0 59.8,55.2 58.9,54.8 57.9,55.1 57.6,54.8 57.7,54.6 57.4,54.4 58.3,54.4 58.2,55.2 58.4,54.5 58.5,54.4 58.4,54.9 58.6,55.1 58.4,55.1 58.3,54.1 59.1,54.0 59.4,54.0 59.7,53.6 59.8,53.7 60.4,54.0 60.4,53.5 60.7,53.2 60.4,52.9 60.3,52.6 60.4,52.4 59.9,53.1 59.6,53.2 59.9,53.3 60.6,53.4 61.4,53.0 62.2,53.7 62.3,54.5" fill="none" stroke="#6a0c0c" stroke-width="0.38" stroke-opacity="0.95" stroke-linejoin="round"/>
<path d="M61.5,57.9 61.7,58.5 62.6,58.3 62.1,57.3 61.6,56.8 60.6,57.0 60.0,56.5 60.3,56.1 59.9,56.0 60.0,56.4 59.8,55.9 59.8,55.1 59.3,54.3 60.0,54.5 59.6,55.5 59.2,55.6 58.7,56.0 58.4,56.4 58.8,56.6 59.0,56.3 59.1,56.3 59.5,56.0 59.2,55.6 58.6,55.6 58.2,55.3 58.7,53.9 59.5,53.7 60.4,53.9 61.0,54.5 61.7,55.0 61.6,54.7 62.0,54.4 62.4,53.4 62.4,53.5 62.7,53.3 63.7,53.9 63.8,54.2 64.0,53.8 63.1,53.8 63.1,54.7 62.4,53.9" fill="none" stroke="#6a0c0c" stroke-width="0.38" stroke-opacity="0.95" stroke-linejoin="round"/>
<path d="M61.5,57.9 61.9,57.8 62.2,57.1 62.2,56.2 61.3,56.1 60.1,55.9 59.2,56.0 59.1,55.4 59.1,54.8 58.4,54.8 58.0,55.1 57.9,55.7 57.8,56.0 57.7,56.2 57.4,56.6 57.7,56.3 58.0,56.1 58.5,55.8 59.0,55.6 58.9,56.4 59.3,57.0 59.1,56.8 60.1,56.0 60.7,55.3 61.4,56.3 61.4,57.2 61.6,57.7 61.8,57.4 61.8,58.3 61.5,58.4 60.7,58.4 59.7,59.1 58.7,59.1 58.8,58.9 59.0,58.3 59.7,58.1 59.7,58.3 60.4,58.3 61.1,58.8 61.1,58.6 61.8,59.0" fill="none" stroke="#6a0c0c" stroke-width="0.38" stroke-opacity="0.95" stroke-linejoin="round"/>
<path d="M61.5,57.9 62.0,57.9 61.6,57.3 61.4,57.3 61.6,57.6 61.7,57.4 61.9,56.9 62.1,56.3 62.5,56.4 62.2,57.0 62.1,57.5 61.4,57.9 61.6,57.5 61.6,56.8 61.5,56.4 61.2,57.1 61.0,58.0 60.2,57.7 59.5,58.0 59.6,59.0 59.4,59.1 59.0,59.1 59.2,58.6 58.7,59.2 58.7,59.2 58.8,60.1 59.2,60.6 59.1,61.7 59.8,62.1 60.4,62.2 60.6,61.5 60.4,61.0 60.5,60.7 60.4,59.6 60.1,58.6 60.6,58.1 59.8,58.7 58.7,58.7 58.4,59.4 59.0,59.1 59.0,59.1" fill="none" stroke="#6a0c0c" stroke-width="0.38" stroke-opacity="0.95" stroke-linejoin="round"/>
<path d="M61.5,57.9 62.0,58.6 62.0,58.7 61.8,59.7 61.6,61.0 61.4,61.0 62.6,60.4 64.2,59.9 64.6,59.9 64.4,60.0 63.2,60.2 62.5,60.4 62.1,60.1 61.5,60.0 60.9,60.6 60.4,61.2 60.5,61.0 60.0,61.5 59.6,61.4 60.4,60.8 61.2,60.9 61.1,60.4 60.7,59.8 60.7,59.3 61.2,59.2 61.9,59.1 62.1,59.0 61.9,59.2 61.8,59.2 62.2,58.5 61.9,58.5 62.1,57.8 62.6,57.9 63.6,58.5 64.3,59.1 65.1,60.7 65.2,61.4 65.4,61.3 65.6,61.4 66.1,61.3 65.2,61.1" fill="none" stroke="#6a0c0c" stroke-width="0.38" stroke-opacity="0.95" stroke-linejoin="round"/>
<path d="M61.5,57.9 61.5,57.3 61.9,56.5 62.0,56.1 62.2,57.0 62.1,57.8 61.6,58.9 61.2,59.7 60.8,59.2 60.6,58.2 60.5,57.8 61.1,57.3 61.5,56.4 61.9,55.7 62.5,55.6 62.7,55.5 62.1,55.5 61.8,54.9 61.7,54.6 61.2,54.3 60.8,54.0 61.2,54.4 60.8,54.6 60.4,55.0 60.3,54.5 59.9,54.8 60.3,55.1 60.3,56.0 60.0,56.4 60.4,56.3 60.8,56.5 59.7,56.7 59.3,56.1 58.8,56.3 58.7,56.8 58.3,56.8 58.5,56.4 58.4,55.7 57.9,55.9 57.9,55.7 58.0,55.2" fill="none" stroke="#6a0c0c" stroke-width="0.38" stroke-opacity="0.95" stroke-linejoin="round"/>
<path d="M61.5,57.9 61.9,58.4 61.7,58.2 62.3,57.8 62.6,57.6 62.8,58.1 62.9,58.5 62.7,58.3 62.2,58.9 62.4,58.6 62.4,58.3 62.0,58.2 61.4,58.1 61.7,57.7 60.7,57.2 61.0,58.0 61.0,59.4 61.0,60.1 61.3,60.0 60.4,59.4 60.0,59.4 59.9,59.2 60.6,58.8 61.5,58.0 62.2,57.3 62.5,56.5 62.7,56.5 63.2,56.7 62.8,57.1 62.9,57.8 62.7,59.0 62.4,59.6 62.4,59.8 62.8,59.5 62.3,59.1 61.8,58.5 61.6,57.7 62.2,57.1 61.5,58.1 61.4,58.3 61.7,57.3" fill="none" stroke="#6a0c0c" stroke-width="0.38" stroke-opacity="0.95" stroke-linejoin="round"/>
<path d="M61.5,57.9 61.0,57.7 60.5,57.7 59.8,58.3 59.5,59.0 59.1,59.8 58.7,59.9 57.6,60.5 57.8,60.6 58.8,61.0 59.2,61.8 59.4,61.8 58.8,62.7 57.8,62.6 57.2,62.4 57.3,62.1 58.1,61.6 58.7,61.4 58.7,61.3 58.7,60.7 59.0,60.5 59.0,59.9 59.5,59.4 60.4,58.6 60.6,59.0 60.9,59.3 61.4,59.8 62.0,59.5 62.1,58.9 61.7,58.2 61.0,57.6 61.7,56.9 61.4,56.4 62.0,57.0 63.0,57.0 63.8,57.2 63.5,57.2 62.6,56.9 62.2,56.5 62.6,57.1 62.8,57.4" fill="none" stroke="#6a0c0c" stroke-width="0.38" stroke-opacity="0.95" stroke-linejoin="round"/>
<path d="M61.5,57.9 62.0,57.5 62.0,57.8 62.5,57.5 62.4,57.2 61.8,56.7 62.6,56.6 63.2,56.6 63.0,56.1 63.3,57.1 63.9,57.3 64.2,57.6 63.6,56.8 63.5,56.2 63.3,56.1 62.7,56.2 62.4,56.1 62.5,56.1 61.7,56.9 61.7,57.5 61.7,57.0 62.4,57.2 63.5,57.4 63.7,57.6 63.9,57.4 63.6,56.9 63.2,56.2 62.4,55.9 62.4,56.3 62.6,57.4 62.8,58.1 62.0,58.6 61.4,59.5 60.9,58.8 61.4,59.1 61.1,59.1 60.3,58.8 60.1,57.9 60.3,56.9 60.4,56.3 61.1,55.7" fill="none" stroke="#6a0c0c" stroke-width="0.38" stroke-opacity="0.95" stroke-linejoin="round"/>
<path d="M61.5,57.9 61.3,57.7 62.3,57.0 62.7,57.2 63.3,58.1 63.2,57.9 62.4,58.0 62.1,57.7 63.4,57.1 63.5,57.4 63.8,56.9 64.0,56.9 64.6,56.4 64.2,56.7 64.0,56.7 64.4,57.5 64.7,57.6 64.5,57.9 64.3,58.8 63.7,58.5 62.7,57.4 62.0,56.2 61.4,56.4 61.3,55.6 60.6,55.4 60.5,56.4 59.7,57.1 59.0,57.4 59.0,57.6 58.9,57.7 59.1,57.6 59.5,57.3 59.3,57.0 59.1,56.7 59.2,56.9 59.0,57.0 59.5,57.8 60.4,58.1 61.4,58.4 62.1,58.4 62.2,58.2" fill="none" stroke="#6a0c0c" stroke-width="0.38" stroke-opacity="0.95" stroke-linejoin="round"/>
<path d="M61.5,57.9 61.5,58.3 61.6,58.8 60.7,59.9 60.9,60.6 60.5,61.0 60.4,60.7 60.6,60.2 61.4,60.2 61.7,59.9 61.2,58.8 60.9,58.4 60.7,58.5 60.0,59.1 59.6,59.5 60.2,60.0 60.9,59.7 62.0,59.7 62.3,59.9 62.6,59.9 62.7,59.8 62.5,59.3 63.1,59.2 63.7,58.9 64.1,58.9 64.1,58.9 64.2,59.6 64.6,59.6 63.9,60.1 62.6,59.9 61.9,60.7 61.7,60.7 62.5,60.6 62.8,60.4 62.8,59.9 62.9,60.4 63.5,60.4 63.1,60.0 62.1,59.8 61.1,59.3 60.8,59.2" fill="none" stroke="#6a0c0c" stroke-width="0.38" stroke-opacity="0.95" stroke-linejoin="round"/>
<path d="M61.5,57.9 61.2,58.0 61.0,58.0 61.7,57.3 61.6,56.0 62.1,55.7 63.2,55.8 63.3,55.0 63.0,54.7 62.8,55.3 62.6,55.3 62.5,55.2 63.2,54.9 64.5,54.7 65.0,54.4 64.4,54.2 64.7,54.1 64.8,53.8 64.7,53.6 65.0,53.6 64.9,53.8 64.8,54.2 65.2,54.8 65.3,55.3 64.6,55.3 64.7,55.4 64.5,56.3 64.6,57.2 64.7,57.9 64.7,57.8 64.7,58.3 64.7,59.5 64.9,59.7 64.6,59.5 64.7,58.8 64.4,58.8 64.1,57.9 64.3,57.0 63.5,56.7 63.1,56.3 62.7,55.6" fill="none" stroke="#6a0c0c" stroke-width="0.38" stroke-opacity="0.95" stroke-linejoin="round"/>
<path d="M61.5,57.9 60.8,57.9 60.8,59.1 60.3,60.3 60.2,61.8 59.9,62.0 60.2,61.2 61.0,60.9 60.8,60.3 60.3,60.3 59.0,60.2 58.5,60.0 58.0,60.0 57.8,60.1 58.3,60.3 59.1,60.0 59.8,60.5 59.9,60.2 59.5,59.4 59.4,59.5 58.7,59.0 59.0,59.0 58.7,58.7 57.7,57.7 57.9,56.6 58.7,56.9 59.4,56.6 59.4,56.3 58.8,56.1 58.3,56.3 58.0,57.3 58.3,57.5 58.5,57.6 58.3,58.1 58.2,58.3 59.0,58.8 59.2,58.6 59.4,58.7 60.0,58.2 60.5,57.6 60.4,57.0" fill="none" stroke="#6a0c0c" stroke-width="0.38" stroke-opacity="0.95" stroke-linejoin="round"/>
<path d="M61.5,57.9 61.3,57.9 61.5,57.5 62.2,56.9 63.0,58.2 62.8,58.6 62.3,58.9 62.4,58.8 62.7,59.0 62.5,58.5 62.6,58.3 62.3,58.6 62.2,57.4 62.1,56.1 61.6,55.1 60.9,55.0 60.0,55.9 60.1,56.2 59.9,55.9 60.7,56.3 60.4,55.8 60.8,56.0 60.2,57.3 59.9,58.3 59.7,58.6 60.3,58.5 60.8,58.5 60.9,58.5 60.7,58.3 60.5,58.4 60.8,59.1 60.7,59.1 60.5,59.8 61.0,60.0 61.3,59.4 61.0,59.7 60.9,60.1 60.7,59.9 60.1,59.2 60.0,58.5 60.8,57.6" fill="none" stroke="#6a0c0c" stroke-width="0.38" stroke-opacity="0.95" stroke-linejoin="round"/>
<path d="M61.5,57.9 61.6,57.7 61.2,57.3 60.4,56.5 59.5,57.1 59.3,57.1 59.8,57.5 60.0,57.6 59.8,58.1 60.2,58.0 60.3,57.9 60.9,58.0 61.0,57.9 61.2,57.6 60.7,57.7 60.6,58.8 60.7,59.0 60.6,58.5 60.5,58.2 60.8,58.0 61.0,57.0 61.2,55.9 60.8,56.0 59.9,55.8 58.9,56.9 59.0,57.9 58.4,57.8 58.1,58.1 58.2,58.3 58.0,58.4 58.2,57.7 58.5,56.9 59.2,56.1 60.0,56.3 61.0,56.5 60.7,56.8 60.7,57.6 61.2,57.8 61.5,57.2 61.7,57.0 61.9,56.3" fill="none" stroke="#6a0c0c" stroke-width="0.38" stroke-opacity="0.95" stroke-linejoin="round"/>
<path d="M61.5,57.9 61.6,58.0 62.0,58.0 61.9,57.4 62.3,56.9 63.1,56.6 64.3,56.5 64.6,56.0 64.0,56.8 63.2,57.6 63.1,59.0 62.8,59.2 62.9,60.1 62.5,60.5 62.4,60.6 62.1,60.4 62.3,60.2 62.1,60.6 62.0,60.4 61.3,60.0 61.2,60.2 60.6,59.5 61.1,59.5 60.8,58.7 61.1,58.8 61.3,59.0 61.4,59.6 61.5,59.5 60.8,58.8 60.4,57.9 60.0,57.2 59.7,56.6 60.2,56.7 60.6,56.9 61.4,57.8 62.7,57.4 63.3,57.2 63.6,56.6 64.5,55.6 65.7,55.2 65.9,54.1" fill="none" stroke="#6a0c0c" stroke-width="0.38" stroke-opacity="0.95" stroke-linejoin="round"/>
<path d="M61.5,57.9 61.6,57.4 62.1,56.8 62.5,57.5 62.0,58.3 61.9,58.8 62.3,58.5 63.1,57.7 63.6,58.0 64.2,57.8 64.7,57.0 65.8,56.2 65.9,55.5 66.3,55.3 67.0,55.6 67.2,56.8 67.3,57.9 66.7,58.5 65.6,59.0 65.1,59.3 65.1,59.2 64.8,59.6 64.4,58.6 64.7,58.5 65.1,58.4 65.8,58.1 65.9,58.1 66.0,57.2 65.7,56.5 65.5,56.8 65.7,56.6 64.8,56.2 64.5,56.5 64.3,56.2 64.1,55.9 63.5,56.3 63.2,56.4 63.4,56.5 64.1,56.5 64.7,56.5 65.0,56.4" fill="none" stroke="#6a0c0c" stroke-width="0.38" stroke-opacity="0.95" stroke-linejoin="round"/>
<path d="M61.5,57.9 60.7,58.2 60.3,59.2 60.2,60.3 60.2,60.0 60.3,60.2 59.6,60.3 59.5,60.4 59.5,60.1 59.4,59.6 58.8,59.1 58.3,58.1 59.1,57.5 59.5,57.9 59.7,58.4 60.1,58.3 59.8,58.3 60.1,58.3 60.4,57.8 60.9,57.5 60.6,56.2 60.4,56.2 61.2,56.4 62.2,56.3 63.0,55.8 63.0,55.6 62.7,56.4 62.6,56.7 62.7,57.4 62.8,58.6 62.6,58.9 62.7,60.1 62.9,60.5 62.9,60.2 61.7,59.6 60.6,58.7 60.4,58.5 60.3,58.9 60.3,59.5 60.8,60.0 60.4,60.2" fill="none" stroke="#6a0c0c" stroke-width="0.38" stroke-opacity="0.95" stroke-linejoin="round"/>
<path d="M63.0,60.0 64.0,64.0 66.0,68.0 66.5,72.0 67.1,77.0" fill="none" stroke="#c03030" stroke-width="0.4" stroke-opacity="1.0" stroke-linejoin="round"/>
<path d="M64.0,59.0 67.0,61.0 70.0,64.0 70.4,68.4" fill="none" stroke="#b02020" stroke-width="0.4" stroke-opacity="1.0" stroke-linejoin="round"/>
<rect x="70.8" y="44.9" width="1.5" height="1.5" fill="#000"/>
<rect x="69.7" y="67.7" width="1.5" height="1.5" fill="#000"/>
<rect x="66.3" y="76.2" width="1.5" height="1.5" fill="#000"/>
<rect x="57.8" y="63.0" width="1.5" height="1.5" fill="#000"/>
<rect x="66.2" y="41.2" width="1.5" height="1.5" fill="#000"/>
<rect x="55.2" y="46.2" width="1.5" height="1.5" fill="#000"/>
<path d="M179.7,54.7 179.9,52.2 179.0,51.7 176.4,47.5 172.0,47.2 172.6,47.8 173.8,50.2 171.8,49.2 167.4,48.5 165.4,49.1 162.2,50.1 161.3,50.2 161.6,51.7 158.8,53.0 158.3,54.1 162.0,52.6 164.5,51.4 166.2,52.0 168.3,51.8 170.7,52.7 172.5,52.0 175.2,51.6 176.0,50.5 175.5,53.4 176.8,54.7 177.2,55.7 178.1,57.6 176.2,58.0 174.8,58.8 172.7,58.4 169.2,61.7 167.7,62.7 172.4,61.6 170.7,63.8 173.7,66.6 177.2,70.3 176.8,67.5 175.8,68.0 176.5,67.3 177.9,68.3 179.0,68.6 181.3,68.3 181.1,66.0 180.6,64.2 182.3,64.2 183.2,64.0 186.0,64.4 189.2,63.6 191.5,62.9 190.7,59.4 190.5,59.4" fill="none" stroke="#555" stroke-width="0.35" stroke-opacity="0.9" stroke-linejoin="round"/>
<path d="M179.7,54.7 182.0,55.1 183.1,53.2 183.7,51.1 182.8,48.6 181.7,47.2 178.6,47.5 177.5,49.9 179.0,51.4 182.3,51.3 179.9,51.2 178.0,49.3 174.5,51.0 171.1,51.1 169.1,51.9 169.6,54.5 167.1,54.9 164.7,55.5 162.8,55.3 165.3,54.5 166.3,56.0 169.8,53.0 170.6,48.4 172.0,45.0 171.1,44.6 173.5,45.5 171.7,45.3 168.4,49.4 167.2,49.2 167.8,53.2 167.4,52.8 168.2,53.7 170.4,57.6 169.1,60.1 167.7,58.2 167.2,58.1 168.5,57.7 171.5,57.3 174.8,57.2 176.7,55.2 178.2,54.8 181.3,55.1 180.8,57.1 181.6,58.8 180.3,58.9 179.2,57.5 178.7,54.1 176.1,53.9 172.6,56.9 171.2,56.7 172.5,54.6" fill="none" stroke="#555" stroke-width="0.35" stroke-opacity="0.9" stroke-linejoin="round"/>
<path d="M179.7,54.7 181.6,52.6 184.5,50.6 183.9,52.0 185.6,51.8 185.6,49.5 184.7,49.6 183.3,49.0 179.4,49.9 176.2,51.6 177.3,52.0 176.8,51.9 176.6,50.3 175.7,45.6 176.1,42.7 179.0,40.7 180.6,40.7 181.3,43.5 181.5,45.1 182.1,46.0 183.5,45.0 185.0,42.0 184.9,39.5 183.4,38.7 182.6,39.3 179.4,42.8 177.8,44.3 176.1,46.8 173.2,47.9 172.8,47.7 171.2,45.9 171.8,45.5 174.4,47.2 178.3,45.5 181.4,43.2 180.7,40.9 179.7,42.1 180.4,44.3 177.5,48.7 176.9,52.8 177.3,55.0 175.1,55.6 168.7,55.1 163.6,55.1 162.7,54.4 163.0,53.1 166.2,50.6 168.9,46.3 171.4,44.8 172.3,44.7 174.0,44.4" fill="none" stroke="#555" stroke-width="0.35" stroke-opacity="0.9" stroke-linejoin="round"/>
<path d="M179.7,54.7 180.0,57.3 183.1,60.4 183.0,63.2 183.2,63.5 183.1,64.9 182.6,63.7 181.1,63.2 178.7,61.7 177.5,60.5 172.8,58.2 171.0,58.2 170.7,57.0 169.0,56.2 169.5,57.0 170.9,55.0 172.0,56.2 173.9,56.6 174.9,55.7 175.5,56.1 173.5,55.0 172.3,52.2 171.0,50.3 170.7,50.4 171.8,50.5 173.7,49.3 176.1,47.5 180.2,45.9 182.2,44.9 182.8,44.4 181.5,43.5 182.2,45.0 181.6,47.7 180.6,48.6 178.1,49.6 180.9,48.0 181.9,49.1 180.6,50.2 183.6,49.6 186.4,52.4 189.4,50.8 190.1,50.3 189.6,49.2 188.9,48.0 187.4,47.4 185.3,46.7 187.5,47.7 188.2,46.0 187.2,46.9 185.1,47.1 183.6,46.7" fill="none" stroke="#555" stroke-width="0.35" stroke-opacity="0.9" stroke-linejoin="round"/>
<path d="M179.7,54.7 180.5,55.8 178.4,56.1 176.8,54.0 172.8,54.4 169.1,54.2 168.5,56.8 171.9,58.8 170.4,54.3 171.4,50.6 171.6,47.5 170.6,49.9 168.2,52.8 168.3,54.1 170.3,52.7 171.6,49.7 173.7,50.1 172.5,50.2 174.3,50.2 174.5,47.9 178.8,49.7 176.7,52.9 177.0,53.3 175.0,52.1 173.9,50.2 174.1,50.6 171.3,54.0 168.0,56.7 168.0,57.8 164.9,60.6 162.0,63.8 162.2,60.2 164.5,59.2 167.4,57.4 170.5,59.1 173.1,62.0 175.7,60.3 176.7,57.9 175.0,55.5 174.0,57.2 177.1,55.4 175.8,54.3 177.6,53.2 177.2,53.4 180.5,54.9 184.4,55.4 187.3,52.1 190.0,51.1 188.4,50.2 188.4,51.4 187.8,52.5" fill="none" stroke="#555" stroke-width="0.35" stroke-opacity="0.9" stroke-linejoin="round"/>
<path d="M179.7,54.7 179.2,51.8 181.8,49.7 183.7,46.5 184.8,46.8 185.9,49.0 187.0,48.2 187.9,48.2 186.8,46.3 184.8,45.0 184.5,47.2 184.3,50.2 183.9,51.0 183.8,50.2 185.6,47.6 185.7,42.9 188.8,40.2 191.3,42.3 192.9,44.4 194.2,44.4 194.4,43.5 194.4,43.8 196.6,42.1 199.2,41.2 199.8,39.7 200.1,40.5 197.3,40.7 197.4,42.0 196.4,43.3 197.0,44.8 199.7,45.6 199.3,48.4 200.4,49.4 203.4,51.1 202.4,49.1 203.2,44.3 202.8,41.3 203.1,40.6 200.9,41.4 197.6,42.4 194.5,42.2 191.7,42.7 186.1,41.2 183.9,39.5 184.9,36.7 181.5,37.3 180.5,38.8 181.1,38.9 182.6,41.9 182.8,44.5 181.9,47.3" fill="none" stroke="#555" stroke-width="0.35" stroke-opacity="0.9" stroke-linejoin="round"/>
<path d="M179.7,54.7 178.8,54.0 180.8,52.9 181.4,54.2 182.0,54.5 181.8,55.7 177.5,53.7 173.3,52.4 174.4,52.6 176.1,53.5 175.3,52.3 176.1,52.7 180.3,54.7 184.3,55.3 185.5,51.7 186.1,50.0 187.4,51.9 188.6,51.7 190.4,52.2 186.9,51.3 186.6,51.4 186.6,52.3 184.7,55.3 183.2,57.3 182.7,57.9 181.5,62.2 179.6,64.4 178.1,63.5 176.2,61.8 173.6,62.8 172.2,60.5 171.5,57.8 171.6,57.1 171.2,58.7 171.8,59.6 171.1,60.8 168.3,62.7 168.5,65.6 167.7,67.0 169.7,66.8 168.0,66.2 169.5,67.2 172.3,67.3 172.2,67.6 176.0,68.9 179.3,71.1 183.8,73.0 184.7,72.1 182.8,71.9 183.9,71.1 184.5,71.6" fill="none" stroke="#555" stroke-width="0.35" stroke-opacity="0.9" stroke-linejoin="round"/>
<path d="M179.7,54.7 180.3,54.4 180.0,54.8 180.8,53.2 178.6,54.2 179.9,51.2 181.3,49.4 179.6,48.8 178.4,47.3 179.2,48.5 183.1,45.7 184.6,44.3 184.2,42.4 185.4,38.5 182.3,36.6 182.9,31.5 184.7,29.7 182.9,32.4 183.4,34.0 185.8,34.8 189.9,37.2 191.6,36.2 190.5,36.0 190.4,38.0 189.8,41.2 190.0,45.6 191.1,46.2 190.8,46.8 191.3,47.3 193.1,45.0 190.3,45.8 189.9,42.2 188.1,37.8 186.3,37.0 186.1,37.0 187.7,37.8 191.6,35.6 191.5,35.6 191.9,39.2 190.5,41.9 187.9,43.8 190.5,42.9 194.0,42.4 194.8,41.2 193.8,40.0 194.6,42.4 193.0,45.4 191.5,48.6 191.7,52.5 191.4,54.7 189.2,56.6" fill="none" stroke="#555" stroke-width="0.35" stroke-opacity="0.9" stroke-linejoin="round"/>
<path d="M179.7,54.7 178.5,57.8 176.0,58.2 176.0,59.3 177.0,58.8 176.2,57.7 176.5,59.0 175.2,59.9 173.7,58.8 174.7,58.5 176.9,57.7 176.6,58.6 173.1,58.7 170.3,58.8 170.3,57.5 170.7,57.2 170.5,57.1 173.4,56.1 174.2,56.0 176.7,56.0 176.6,56.5 174.4,58.7 171.6,60.9 170.7,60.6 172.3,61.6 175.7,62.4 174.8,62.6 173.8,62.3 171.1,61.5 171.1,62.0 172.9,64.2 171.1,66.7 171.4,68.7 169.4,69.1 168.7,70.4 166.7,71.9 168.3,74.8 167.7,78.7 166.9,81.7 167.5,83.2 174.3,79.2 177.1,76.3 179.1,71.6 180.5,69.1 181.3,67.2 180.5,66.5 180.4,66.1 182.4,64.7 186.5,63.4 191.7,60.3 192.8,59.6" fill="none" stroke="#555" stroke-width="0.35" stroke-opacity="0.9" stroke-linejoin="round"/>
<path d="M179.7,54.7 182.8,55.0 183.7,54.9 185.2,55.4 183.8,52.5 185.1,49.7 183.0,47.6 184.0,47.0 184.1,49.4 184.4,46.6 182.5,46.0 184.3,44.4 182.9,40.7 182.8,38.3 179.7,37.4 176.7,39.3 174.5,41.0 175.8,41.4 180.4,42.2 182.6,44.0 182.9,45.7 184.9,45.6 188.3,46.2 190.5,46.2 190.9,47.1 190.7,47.1 188.6,48.6 184.7,49.3 180.6,50.9 180.8,53.3 182.7,53.6 186.4,55.4 189.5,55.7 190.8,53.5 191.1,54.2 190.7,54.4 190.5,55.9 192.4,55.0 192.2,54.1 190.7,55.0 187.7,56.1 185.2,54.5 182.6,51.9 180.8,50.6 184.5,49.4 184.9,50.8 184.6,50.6 184.2,53.4 186.7,55.4 186.9,57.0 184.1,58.3" fill="none" stroke="#555" stroke-width="0.35" stroke-opacity="0.9" stroke-linejoin="round"/>
<path d="M178.4,57.8 177.4,59.3 177.0,61.1 175.7,61.7 175.5,60.5 177.1,61.5 178.4,60.7 179.6,61.3 180.6,62.7 180.0,64.4 181.4,66.5 182.5,67.7 181.8,66.9 181.6,66.9 182.8,67.4 181.6,66.9 180.2,66.7 179.8,68.1 179.6,68.4 180.9,69.1 180.9,70.0 181.6,70.8 181.4,69.3 180.8,70.4 180.6,70.7 180.4,70.2 179.9,69.3 179.1,69.8 177.4,69.1 176.2,65.1 175.5,62.1 174.6,60.2 175.6,59.4 176.9,56.8 177.1,55.5 177.7,54.2 177.0,53.3 178.2,52.8 177.0,52.0 176.7,51.5 176.8,48.4 176.4,46.9 176.4,46.3 173.3,47.0 171.7,46.5 170.7,47.5 171.3,48.3 172.7,51.5 172.5,55.1 172.6,57.7 173.4,57.2" fill="none" stroke="#222" stroke-width="0.35" stroke-opacity="0.9" stroke-linejoin="round"/>
<path d="M178.4,57.8 178.1,60.4 179.3,61.2 179.9,61.8 179.9,59.0 180.1,57.4 181.4,54.7 182.5,53.5 182.4,54.4 182.4,55.0 182.9,54.9 185.6,55.1 187.5,53.6 188.0,51.8 186.8,51.1 184.7,51.3 184.3,51.6 183.7,50.9 183.1,51.9 181.7,53.1 180.9,54.9 179.5,55.7 179.9,55.5 180.7,57.7 181.0,59.2 180.8,56.8 180.9,56.2 180.0,54.7 179.5,54.0 177.6,53.1 176.6,51.5 176.4,50.8 175.8,51.1 176.7,50.5 176.3,50.2 178.2,50.3 179.3,52.8 178.2,53.6 176.2,54.9 176.5,57.6 176.8,59.9 176.3,60.2 175.5,59.3 175.4,58.8 176.0,58.0 178.4,60.3 179.7,62.9 180.8,61.3 181.0,61.1 180.6,61.7 179.2,63.4" fill="none" stroke="#222" stroke-width="0.35" stroke-opacity="0.9" stroke-linejoin="round"/>
<path d="M178.4,57.8 177.0,58.7 175.2,58.6 175.5,56.6 175.0,56.3 177.0,55.1 177.7,55.9 177.2,55.8 176.1,54.4 177.3,55.1 179.0,54.0 180.6,54.3 182.1,52.5 183.6,53.9 184.5,54.7 184.2,56.1 184.9,57.6 183.6,57.8 182.6,56.7 182.0,53.9 181.7,53.5 183.1,53.9 183.7,54.6 183.7,56.9 182.9,58.1 182.5,58.4 183.5,59.1 183.8,57.2 184.7,54.9 184.0,55.1 183.3,54.8 183.6,53.2 181.9,54.8 182.3,54.0 181.8,52.2 181.7,49.1 181.1,48.5 181.8,50.6 181.1,53.9 181.6,55.5 181.3,56.7 180.3,57.1 180.0,56.9 179.2,56.2 179.7,55.7 178.9,55.6 178.1,54.5 177.1,53.6 177.2,55.0 179.6,54.8 180.1,54.6" fill="none" stroke="#222" stroke-width="0.35" stroke-opacity="0.9" stroke-linejoin="round"/>
<path d="M178.4,57.8 176.7,55.8 175.7,56.0 174.5,53.5 175.5,51.8 177.6,52.5 178.2,54.1 177.8,54.8 177.8,56.4 178.7,56.8 179.4,56.1 180.4,56.3 180.0,57.5 178.3,57.3 176.5,56.6 174.5,57.1 173.8,58.5 174.8,58.7 176.8,59.4 177.9,60.7 177.6,60.7 180.4,60.2 181.9,59.7 182.6,60.4 182.4,60.1 183.2,59.7 183.7,60.7 185.0,59.8 184.9,58.4 184.3,56.2 185.7,56.9 185.6,58.5 185.4,57.1 184.0,56.5 182.4,56.7 182.9,56.5 182.3,54.4 181.2,52.3 181.6,49.8 181.7,48.1 180.3,45.9 181.2,45.4 182.4,43.5 182.2,42.8 183.7,44.5 185.5,44.1 186.3,43.4 187.1,42.3 186.2,41.6 186.2,45.2 187.7,46.9" fill="none" stroke="#222" stroke-width="0.35" stroke-opacity="0.9" stroke-linejoin="round"/>
<path d="M178.4,57.8 177.2,58.0 177.4,59.2 177.3,57.8 176.9,59.0 178.1,58.0 179.5,56.8 181.5,56.2 183.0,57.3 184.2,56.4 184.6,56.7 182.4,55.2 182.0,56.6 180.7,57.4 179.7,58.3 179.5,59.5 179.9,60.6 182.1,60.2 184.3,60.8 187.5,60.3 188.1,59.2 188.7,59.2 187.5,61.5 187.5,60.3 187.8,58.4 189.3,57.2 191.1,54.3 188.8,51.7 187.9,52.7 185.6,52.1 186.6,52.1 185.9,53.0 186.7,52.2 187.2,51.1 186.3,51.2 185.4,53.9 184.8,54.5 185.1,55.6 185.5,55.0 185.5,54.7 185.4,53.2 184.4,52.8 184.4,54.3 182.9,54.8 184.4,53.2 183.7,51.8 184.1,54.0 182.4,54.7 180.8,55.9 177.4,57.6 175.4,58.2" fill="none" stroke="#222" stroke-width="0.35" stroke-opacity="0.9" stroke-linejoin="round"/>
<path d="M178.4,57.8 178.0,59.8 178.5,60.3 178.2,60.5 179.4,60.7 180.5,59.2 180.7,58.3 182.0,57.8 183.8,58.4 184.2,58.4 184.0,55.6 182.5,54.7 181.2,56.5 179.8,57.0 178.4,55.7 179.3,56.2 182.6,56.1 183.6,57.1 183.9,58.3 182.4,59.3 181.4,58.8 181.1,60.3 181.5,60.5 183.1,60.1 183.2,57.5 183.6,56.1 185.2,54.3 185.2,53.9 186.1,53.6 186.2,54.0 188.3,55.4 188.7,56.2 187.5,56.6 186.6,54.5 185.0,53.3 182.8,53.1 181.0,54.4 182.1,55.7 182.1,55.8 181.1,53.6 180.9,51.2 180.7,49.0 181.2,47.9 182.5,45.9 180.8,47.2 179.5,48.4 181.1,52.2 181.6,53.1 182.6,54.2 181.3,56.4 180.0,56.6" fill="none" stroke="#222" stroke-width="0.35" stroke-opacity="0.9" stroke-linejoin="round"/>
<path d="M178.4,57.8 179.0,57.3 179.1,56.3 179.8,57.4 179.4,59.7 180.4,61.1 179.7,61.5 179.8,60.3 179.9,59.3 180.2,60.1 180.9,60.6 180.0,58.7 178.9,57.6 177.2,58.0 176.0,59.3 174.5,61.3 173.7,62.6 174.2,64.0 174.7,64.5 173.5,62.6 174.0,61.4 174.0,62.9 175.4,63.6 173.6,65.4 173.4,64.8 171.5,64.8 171.4,66.7 171.3,67.8 171.8,67.5 173.8,66.5 173.7,66.5 172.9,67.2 172.6,64.6 172.3,62.0 172.2,61.3 174.6,59.2 174.5,57.5 173.3,55.8 173.0,55.7 172.2,56.3 170.5,56.6 169.0,57.9 168.1,56.8 168.9,55.4 170.4,55.9 170.5,58.7 171.4,59.0 171.6,58.8 172.4,58.8 172.8,57.9 171.8,57.1" fill="none" stroke="#222" stroke-width="0.35" stroke-opacity="0.9" stroke-linejoin="round"/>
<path d="M178.4,57.8 179.3,57.6 180.3,54.9 180.1,54.7 181.0,55.1 181.8,53.2 182.1,52.4 181.2,52.9 182.5,53.4 183.6,53.2 183.9,54.2 185.1,57.4 184.3,60.1 184.4,59.7 182.8,59.7 181.3,58.8 179.1,57.8 179.9,57.6 180.2,57.6 181.3,57.1 182.6,56.1 182.3,56.0 181.5,57.7 183.2,58.5 186.0,58.1 187.2,59.3 186.4,59.5 186.1,61.5 185.5,61.2 186.2,59.5 186.6,60.1 186.4,61.7 188.5,63.9 189.1,63.5 188.8,62.1 189.9,61.3 188.5,56.2 186.9,54.5 185.5,53.6 185.9,53.6 186.6,55.5 185.6,57.4 186.5,59.1 186.3,61.9 183.7,61.4 182.0,60.1 180.7,58.1 180.6,56.5 181.8,54.7 181.1,53.5 180.8,52.7" fill="none" stroke="#222" stroke-width="0.35" stroke-opacity="0.9" stroke-linejoin="round"/>
<path d="M178.4,57.8 177.2,56.9 178.0,55.3 179.6,54.6 181.2,55.0 182.2,55.2 183.9,54.5 183.3,58.9 179.8,59.9 176.0,60.9 176.0,61.4 175.2,59.6 174.8,57.7 175.2,58.7 175.6,60.2 176.0,61.3 176.9,61.9 177.0,61.4 177.9,61.6 177.3,60.1 174.7,58.8 173.0,59.3 173.2,57.7 172.2,56.5 171.0,55.2 169.2,55.9 168.8,58.1 169.8,57.6 170.0,58.5 171.8,57.6 173.4,57.7 174.6,56.8 173.9,56.0 174.7,56.3 175.4,56.1 175.5,56.4 175.2,55.3 173.9,53.9 173.6,54.4 172.7,54.9 172.1,54.5 171.7,54.8 171.8,55.8 172.4,55.6 171.3,56.3 171.1,54.6 170.1,53.8 168.8,52.9 167.9,50.0 168.2,50.2 169.1,49.2" fill="none" stroke="#222" stroke-width="0.35" stroke-opacity="0.9" stroke-linejoin="round"/>
<path d="M178.4,57.8 178.8,59.0 180.0,59.0 179.4,58.8 179.2,57.5 178.4,56.2 177.3,55.8 177.5,57.2 177.4,57.2 177.4,57.6 177.4,57.9 178.8,59.4 179.6,60.2 181.1,59.3 181.8,57.7 182.5,59.5 184.8,62.2 185.5,64.0 184.5,64.7 184.6,66.3 183.7,67.6 184.4,66.3 183.4,66.2 181.9,64.8 181.0,66.0 181.0,62.9 182.0,62.0 184.2,60.9 184.4,57.5 185.4,56.1 187.5,56.1 189.5,55.7 189.8,56.3 191.6,55.4 191.4,56.1 189.6,57.6 186.9,57.8 185.1,57.7 184.4,56.8 184.2,55.9 182.4,54.4 179.4,53.6 178.2,52.0 175.4,51.0 174.0,51.6 173.3,52.3 175.3,51.4 175.9,51.1 177.4,52.3 178.3,54.6 179.6,56.7" fill="none" stroke="#222" stroke-width="0.35" stroke-opacity="0.9" stroke-linejoin="round"/>
<path d="M178.4,57.8 179.1,55.7 179.5,59.0 181.1,60.3 181.9,60.6 182.2,62.6 182.1,64.2 181.6,65.3 181.7,66.6 183.5,66.2 183.7,67.6 182.7,68.3 181.1,68.7 179.4,68.7 178.1,70.6 179.1,69.8 178.9,69.6 179.1,68.3 177.2,65.3 177.1,63.9 176.4,61.6 175.2,58.6 174.5,55.7 174.9,53.5 176.0,52.5 175.5,51.0 175.0,51.1 175.5,50.1 174.4,50.1 175.5,49.1 175.2,46.7 176.2,45.4 176.9,46.4 176.8,48.3 177.5,49.9 177.8,50.1 177.1,49.8 176.8,49.3 178.0,48.6 177.3,49.7 176.6,49.4 177.1,49.7 178.5,51.8 180.1,53.1 180.4,52.8 180.1,52.1 180.8,50.6 180.3,47.4 180.2,48.5 179.0,49.6 179.0,51.4" fill="none" stroke="#222" stroke-width="0.35" stroke-opacity="0.9" stroke-linejoin="round"/>
<path d="M178.4,57.8 180.0,58.0 179.6,59.4 178.3,60.3 177.3,59.8 176.0,60.9 175.3,61.3 174.1,60.9 173.8,59.8 174.3,59.8 174.0,58.6 175.7,56.2 175.8,57.2 176.4,58.3 177.5,59.3 177.7,59.9 176.4,61.0 175.2,62.9 175.9,63.2 176.2,63.2 177.5,62.0 176.4,61.8 175.4,63.2 174.1,63.4 173.0,64.9 171.7,66.1 170.5,68.2 170.3,69.7 171.1,68.8 171.6,65.1 171.5,63.0 170.9,61.7 170.4,63.8 171.4,65.5 171.2,66.0 170.9,67.2 170.9,63.9 169.6,61.3 169.9,60.2 168.7,60.2 167.4,59.9 165.4,61.4 164.1,60.4 164.9,61.0 165.7,58.3 168.0,56.5 168.6,58.3 168.1,57.7 167.9,57.4 169.2,56.5 170.2,55.9" fill="none" stroke="#222" stroke-width="0.35" stroke-opacity="0.9" stroke-linejoin="round"/>
<path d="M178.4,57.8 180.0,58.7 180.3,58.5 180.3,56.5 181.5,55.8 182.8,56.0 183.9,55.7 183.1,57.2 184.2,58.8 183.5,60.7 182.9,60.3 183.7,60.5 184.3,60.6 185.1,62.3 182.6,61.2 180.5,62.0 178.0,62.5 176.5,61.9 175.3,62.0 175.7,61.0 173.9,58.3 172.2,58.6 171.0,58.2 171.6,58.4 170.8,59.1 171.3,59.6 170.9,58.2 172.2,58.3 174.1,57.5 174.9,58.1 174.7,59.2 173.6,56.6 172.3,56.2 172.8,54.7 174.3,55.8 175.4,55.3 176.6,54.1 176.4,53.0 176.2,52.4 178.0,53.4 179.4,52.7 181.9,53.6 183.6,53.5 184.2,53.4 183.9,54.1 183.0,53.0 183.0,51.3 182.2,50.9 182.2,50.5 183.2,49.7 184.3,50.2" fill="none" stroke="#222" stroke-width="0.35" stroke-opacity="0.9" stroke-linejoin="round"/>
<path d="M178.4,57.8 178.0,56.5 179.1,56.4 178.9,57.2 177.1,58.2 176.8,58.0 177.2,55.9 175.8,55.9 175.7,56.8 176.8,55.9 176.1,54.5 174.9,53.4 175.6,51.1 176.9,50.2 177.5,50.6 177.7,49.7 177.9,49.0 177.9,49.8 177.4,48.8 178.5,49.1 179.8,49.8 180.6,50.2 182.4,50.8 183.4,50.5 182.2,51.8 178.4,54.0 178.4,55.4 177.9,55.4 177.5,55.7 177.9,54.6 178.9,53.9 179.1,54.1 179.3,53.1 180.2,53.1 181.5,52.3 181.3,52.0 180.5,53.1 182.7,52.9 182.4,51.4 182.8,52.3 182.1,51.9 181.2,50.3 181.3,49.9 181.7,51.2 182.7,51.1 182.9,50.7 182.0,49.7 181.6,47.3 181.9,47.6 183.5,48.3 184.4,49.1" fill="none" stroke="#222" stroke-width="0.35" stroke-opacity="0.9" stroke-linejoin="round"/>
<path d="M178.4,57.8 177.2,59.5 175.5,60.8 173.7,63.1 171.5,64.5 170.5,62.6 172.1,59.9 173.5,60.5 173.7,59.2 171.6,58.9 172.2,58.4 172.2,58.0 173.5,58.4 174.1,57.7 173.3,57.7 173.7,57.0 173.2,58.2 174.0,59.8 173.9,59.6 174.9,60.5 176.4,59.5 177.4,57.8 176.0,57.3 175.0,58.0 174.6,57.9 175.0,58.3 175.3,58.4 176.5,58.1 177.0,56.4 177.6,54.9 179.3,55.3 181.0,57.2 182.0,59.4 182.0,58.3 181.9,58.1 181.3,57.7 180.2,56.8 179.5,55.4 178.7,54.5 180.1,51.8 178.9,48.8 178.1,49.4 178.2,52.6 176.9,53.7 176.4,52.7 174.2,51.5 172.7,51.0 172.8,49.9 173.9,47.7 176.1,46.3 175.9,46.4" fill="none" stroke="#222" stroke-width="0.35" stroke-opacity="0.9" stroke-linejoin="round"/>
<path d="M178.4,57.8 180.1,57.2 181.9,55.4 184.4,54.5 184.9,55.7 186.1,56.7 186.9,55.8 185.8,55.8 185.5,56.1 184.2,55.9 186.3,56.1 187.0,55.4 189.0,55.3 188.9,56.8 189.4,57.7 190.4,55.5 190.4,54.7 190.1,57.3 189.5,60.7 188.7,62.2 186.2,60.4 184.2,61.5 183.8,61.2 181.5,60.7 180.0,60.7 178.6,60.0 179.1,60.0 179.9,60.2 179.6,59.0 179.6,59.1 180.5,57.8 181.0,57.6 182.4,58.6 181.3,59.1 180.2,60.6 179.1,61.4 178.3,61.1 176.8,59.9 177.4,57.9 176.5,55.0 175.2,56.9 174.4,58.1 175.3,59.0 176.5,59.9 177.0,59.5 179.0,58.9 181.1,58.8 182.5,58.4 183.1,58.6 183.6,58.5 186.0,62.9" fill="none" stroke="#222" stroke-width="0.35" stroke-opacity="0.9" stroke-linejoin="round"/>
<path d="M178.4,57.8 180.0,57.5 179.9,57.5 180.4,58.9 179.9,60.0 179.5,59.5 177.8,59.9 178.0,61.8 177.4,61.6 176.2,61.9 175.8,60.2 176.4,57.2 176.6,56.8 177.2,56.9 177.2,55.9 177.3,56.5 177.6,57.2 179.2,56.0 178.6,54.8 178.1,54.4 178.5,53.3 177.5,50.2 175.1,49.4 173.8,49.3 173.0,50.3 170.5,51.6 168.0,52.2 166.0,53.5 166.2,54.4 165.2,56.4 166.8,56.5 166.3,55.5 165.2,55.5 165.3,57.7 165.0,60.3 163.5,62.1 163.6,63.8 164.4,64.2 166.5,64.6 166.8,61.9 165.8,59.8 164.3,58.2 165.1,58.5 165.0,58.4 166.4,59.7 167.9,61.8 169.4,62.0 170.8,62.0 172.2,61.2 170.9,63.2 171.7,62.8" fill="none" stroke="#222" stroke-width="0.35" stroke-opacity="0.9" stroke-linejoin="round"/>
<path d="M178.4,57.8 178.9,58.9 179.8,57.1 179.9,56.8 180.4,58.0 181.7,56.4 182.7,53.6 183.9,52.9 184.9,52.8 184.6,53.2 184.6,54.1 182.6,55.1 180.8,57.6 179.8,60.0 179.0,62.9 180.5,62.7 179.9,62.7 179.5,63.6 181.4,62.3 182.1,61.7 183.0,61.9 183.3,61.5 183.8,60.4 184.8,59.9 185.4,59.4 185.2,60.1 185.9,62.6 186.1,64.6 186.6,63.6 186.0,62.7 183.3,62.1 182.7,60.2 182.3,59.2 181.8,57.5 180.9,54.7 181.7,55.7 181.6,56.2 182.2,56.1 182.5,56.0 183.3,54.1 181.5,52.0 179.8,49.6 179.0,50.7 177.3,49.3 175.9,49.9 175.1,50.8 173.3,53.0 172.0,54.4 171.0,56.1 168.6,57.1 165.8,59.1" fill="none" stroke="#222" stroke-width="0.35" stroke-opacity="0.9" stroke-linejoin="round"/>
<path d="M178.4,57.8 178.0,57.6 178.5,56.9 178.0,55.6 178.1,55.5 180.2,54.1 180.0,52.1 178.6,52.9 176.2,53.9 175.6,56.2 175.6,54.9 175.2,54.8 171.3,54.0 170.7,53.5 170.4,52.9 171.6,53.9 171.1,53.5 173.2,50.5 174.9,46.7 177.1,46.3 177.8,45.5 177.3,45.0 176.8,43.5 177.1,40.6 175.5,39.1 178.1,38.6 178.9,40.8 179.6,43.2 180.8,46.9 180.4,47.4 180.8,46.4 181.6,46.2 183.0,47.5 185.4,48.9 185.5,49.2 187.8,49.2 188.7,49.9 187.0,50.5 185.7,51.5 184.9,51.8 184.8,50.4 185.9,50.0 186.8,50.4 186.8,50.9 185.3,51.4 186.0,51.7 186.6,53.7 187.8,55.8 188.3,55.3 188.2,55.1 189.0,55.3" fill="none" stroke="#222" stroke-width="0.35" stroke-opacity="0.9" stroke-linejoin="round"/>
<path d="M178.4,57.8 178.7,57.8 178.5,57.1 179.0,56.8 179.2,56.5 178.6,56.5 179.0,56.9 178.7,57.6 177.2,56.4 177.2,54.3 176.4,53.4 176.0,53.2 174.7,54.3 173.4,54.7 174.0,54.7 174.3,56.9 175.6,59.1 176.8,59.4 176.7,60.2 178.0,60.9 178.5,59.9 180.0,59.2 178.4,59.0 178.6,59.1 178.5,60.1 179.8,61.7 180.2,63.9 182.4,64.9 182.4,65.6 182.8,66.8 182.2,67.2 182.4,66.8 183.6,66.1 187.1,65.3 188.5,63.7 188.0,62.1 187.3,60.9 185.9,61.4 187.0,61.0 186.5,61.9 186.5,63.6 187.8,63.9 189.1,62.3 190.9,61.2 193.2,60.9 194.1,59.7 192.3,57.5 191.3,55.9 191.8,54.2 192.3,53.3 192.5,52.5" fill="none" stroke="#222" stroke-width="0.35" stroke-opacity="0.9" stroke-linejoin="round"/>
<path d="M178.4,57.8 178.0,57.9 176.2,57.6 174.3,58.0 174.3,56.7 174.3,57.0 174.0,56.6 173.3,56.8 174.3,55.1 175.2,53.6 176.1,55.3 177.2,55.6 178.3,55.7 177.9,54.6 177.5,52.8 178.5,49.6 180.1,47.5 181.0,45.4 181.5,45.1 182.6,45.3 186.1,45.9 187.6,46.3 186.6,48.3 184.3,48.1 180.8,47.6 179.4,48.7 180.5,50.9 180.9,51.3 180.3,53.0 180.3,53.0 179.6,50.4 179.9,49.6 179.8,50.0 179.5,49.4 179.6,50.0 179.2,50.1 179.0,50.9 179.1,50.0 179.3,50.0 177.3,51.0 174.8,52.4 172.2,55.0 169.6,57.7 169.2,59.9 166.4,60.0 167.3,61.6 167.8,62.0 166.1,63.4 164.5,62.9 165.5,62.0 167.6,61.7" fill="none" stroke="#222" stroke-width="0.35" stroke-opacity="0.9" stroke-linejoin="round"/>
<path d="M178.4,57.8 178.1,56.0 178.1,54.4 179.3,52.5 181.8,51.1 183.2,50.3 183.5,51.3 182.8,51.4 183.1,53.7 182.8,55.1 181.9,54.5 180.9,52.9 181.1,53.2 181.7,52.7 183.0,51.7 183.1,52.1 181.7,51.7 179.6,49.4 177.5,50.1 176.6,51.8 178.6,51.7 179.4,51.3 180.8,51.7 180.2,51.9 178.6,51.4 179.3,51.4 180.6,54.0 181.6,55.1 178.9,56.6 176.9,56.3 174.9,55.9 175.5,56.3 174.6,56.7 173.7,58.1 173.4,59.3 173.0,58.2 173.0,59.5 173.7,58.7 173.5,57.0 173.1,54.7 173.1,54.5 173.2,53.8 172.4,52.3 173.4,51.9 174.1,52.0 176.4,54.4 177.6,53.3 178.0,53.8 179.6,52.6 179.7,53.8 178.9,55.5" fill="none" stroke="#222" stroke-width="0.35" stroke-opacity="0.9" stroke-linejoin="round"/>
<path d="M178.4,57.8 178.9,57.7 179.3,56.3 179.8,53.6 179.1,52.6 177.6,53.5 176.0,53.7 176.2,54.4 176.3,54.2 176.6,54.6 178.1,53.5 178.9,52.3 179.2,55.8 177.3,60.7 178.1,64.0 178.7,66.1 180.7,65.5 180.0,64.5 179.0,62.3 179.3,59.7 179.9,58.5 179.7,58.2 178.2,56.7 177.4,58.1 179.5,57.6 181.1,57.0 182.5,56.3 181.6,55.3 179.0,52.7 176.7,53.0 175.8,54.2 175.6,54.9 175.1,57.1 174.3,58.2 177.6,60.1 179.4,60.6 180.8,60.7 182.0,59.8 181.1,58.7 180.4,59.1 180.9,57.5 182.2,57.8 182.7,57.0 182.7,57.5 181.8,57.8 181.0,58.0 180.1,58.2 179.1,58.8 178.5,60.3 178.0,62.7 178.3,65.5" fill="none" stroke="#222" stroke-width="0.35" stroke-opacity="0.9" stroke-linejoin="round"/>
<path d="M178.4,57.8 178.6,57.4 177.9,56.9 177.6,57.1 179.5,59.3 179.6,60.2 180.4,57.9 180.0,56.9 177.8,56.5 176.0,56.2 173.7,56.9 173.9,57.3 173.8,55.3 174.0,52.6 175.4,52.0 177.3,52.9 178.7,55.7 177.4,56.1 176.1,55.9 175.2,56.0 174.3,55.7 175.1,54.4 175.7,53.2 177.5,54.4 178.3,56.5 179.7,54.2 178.5,52.9 180.0,52.5 181.6,53.0 183.2,52.9 184.3,52.3 184.7,53.1 183.9,53.4 185.9,52.1 186.6,52.5 186.5,51.6 187.1,50.4 184.2,49.8 181.6,48.5 181.1,47.9 180.0,45.3 179.9,45.8 180.5,48.4 180.6,49.5 180.1,50.7 180.6,52.3 179.1,52.8 178.0,53.1 179.1,55.6 179.7,55.1 179.5,55.4" fill="none" stroke="#222" stroke-width="0.35" stroke-opacity="0.9" stroke-linejoin="round"/>
<path d="M178.4,57.8 177.9,58.2 176.7,59.5 174.5,59.5 173.2,59.8 172.2,61.1 172.6,60.8 173.3,59.6 172.4,60.4 172.9,60.7 173.3,59.2 174.7,58.8 175.8,60.4 176.7,62.1 177.1,63.6 177.4,64.6 177.7,64.8 179.3,64.9 178.2,65.7 176.9,65.8 177.6,65.6 178.7,65.9 180.9,66.9 181.6,66.1 182.4,65.3 183.3,65.6 182.0,64.2 183.2,62.0 183.8,59.8 184.6,59.1 184.9,58.1 184.2,56.7 182.6,56.1 182.5,56.4 182.1,57.0 182.5,58.8 181.9,60.1 182.0,62.4 181.8,64.8 182.5,66.0 182.9,66.6 182.8,66.3 182.3,66.1 182.3,66.1 183.0,69.4 183.9,70.2 183.0,69.4 183.1,68.7 182.4,66.7 181.6,64.3 180.4,63.6" fill="none" stroke="#222" stroke-width="0.35" stroke-opacity="0.9" stroke-linejoin="round"/>
<path d="M178.4,57.8 177.9,59.0 176.3,60.7 176.0,60.9 177.1,64.2 177.5,65.8 177.0,66.4 176.3,66.7 176.1,64.5 176.6,63.0 176.1,61.8 176.4,60.5 177.2,61.7 179.3,58.9 182.7,56.5 185.3,55.8 185.1,56.5 186.7,56.8 187.7,56.5 188.7,57.8 188.7,59.6 189.3,62.0 190.1,63.4 189.9,65.0 190.1,65.8 190.7,64.9 190.0,64.4 189.3,61.4 187.4,59.8 185.0,59.8 182.1,61.2 179.9,62.1 176.8,63.3 176.8,63.3 178.2,62.1 179.6,60.5 178.4,60.5 177.5,60.2 176.4,60.5 177.4,60.2 177.6,61.6 178.0,61.0 178.0,59.1 178.6,58.9 179.8,59.3 180.6,60.7 181.7,59.4 182.2,59.3 183.5,60.2 184.2,59.6 186.7,59.0" fill="none" stroke="#222" stroke-width="0.35" stroke-opacity="0.9" stroke-linejoin="round"/>
<path d="M178.1,58.7 178.4,59.4 178.7,58.2 179.8,56.7 179.6,56.6 178.7,56.9 178.1,58.0 177.0,59.9 178.7,60.5 179.4,61.0 181.3,61.2 181.9,61.7 182.6,62.9 182.9,63.9 185.2,64.4 186.6,62.8 185.9,62.9 186.1,64.2 186.0,64.7 186.5,65.0 187.4,63.7 187.7,63.0 188.2,61.7 187.0,61.7 184.9,62.2 184.4,62.3 185.1,63.4 185.2,64.0 184.2,63.9 183.7,64.5 181.1,64.8 179.7,65.4 179.6,67.1 178.6,69.2 179.1,70.3 178.6,71.6 178.1,71.4 176.3,71.0 175.1,71.0 175.3,69.9 175.0,69.7 175.0,68.1 174.2,67.0 173.6,66.4 173.4,65.0 174.3,63.3 175.2,61.9 176.2,61.7 177.1,62.0 178.2,62.0 177.4,62.0" fill="none" stroke="#000" stroke-width="0.42" stroke-opacity="0.95" stroke-linejoin="round"/>
<path d="M178.1,58.7 179.3,58.5 179.7,57.7 178.9,56.6 179.9,56.1 181.2,56.8 182.1,57.3 181.0,56.6 180.8,56.0 180.1,55.1 179.5,56.1 179.6,57.2 180.8,58.9 182.5,60.8 183.7,64.2 183.9,64.9 185.0,64.1 185.4,63.9 184.9,64.3 184.2,62.9 183.7,61.3 183.4,59.6 183.6,58.9 182.5,58.6 181.6,58.8 179.2,59.9 176.2,59.8 175.3,59.7 175.8,59.6 175.7,58.6 176.1,57.4 175.8,56.7 174.5,56.7 173.4,56.1 172.9,55.7 173.0,55.3 173.9,54.3 173.6,55.1 173.1,56.1 172.9,57.5 172.2,58.0 171.2,57.5 171.0,56.9 170.5,55.6 170.4,55.4 170.5,55.9 171.4,56.5 171.2,56.9 171.3,56.8 172.2,57.5 173.9,57.8" fill="none" stroke="#000" stroke-width="0.42" stroke-opacity="0.95" stroke-linejoin="round"/>
<path d="M178.1,58.7 179.7,59.5 181.7,60.8 181.1,62.3 180.3,62.4 181.0,63.0 181.6,62.9 182.6,62.6 182.7,61.2 183.7,60.0 182.5,59.7 182.1,59.0 183.3,58.3 184.6,58.7 185.6,58.9 185.1,58.6 184.7,57.0 184.7,57.3 183.9,58.1 184.3,58.7 185.0,58.0 184.2,55.8 183.3,55.7 182.4,55.8 182.1,56.9 182.4,57.2 183.2,56.5 183.5,56.1 182.7,55.9 182.5,55.5 182.4,55.8 181.4,56.2 181.8,56.8 180.9,55.7 180.2,53.6 180.3,52.7 180.2,52.8 180.3,53.6 179.7,56.4 179.4,57.1 179.7,57.3 177.5,57.4 175.8,57.6 176.0,56.2 176.4,54.8 176.9,54.3 176.9,54.1 177.3,55.4 176.4,55.7 175.6,55.9 174.8,54.8" fill="none" stroke="#000" stroke-width="0.42" stroke-opacity="0.95" stroke-linejoin="round"/>
<path d="M178.1,58.7 177.9,59.5 177.6,60.1 176.6,59.5 175.5,59.4 175.8,60.4 176.1,60.8 175.7,59.6 175.5,61.0 176.8,61.8 176.3,62.0 176.3,62.1 175.1,62.0 175.9,61.4 175.5,60.7 177.3,60.0 180.3,59.2 180.9,58.7 180.3,56.5 179.8,55.9 179.2,54.9 178.5,55.1 177.9,54.9 177.3,54.0 177.1,53.2 176.5,53.9 176.2,54.8 176.7,54.0 177.4,53.6 178.3,53.4 179.6,53.6 179.8,53.6 179.0,53.6 178.4,53.5 178.2,55.0 176.2,56.0 174.9,57.0 173.9,58.0 173.9,58.5 175.0,58.7 173.7,57.7 173.9,57.6 173.8,58.9 173.6,58.7 174.8,58.8 176.2,60.6 176.8,60.9 177.0,61.6 175.8,62.6 173.6,64.2 174.5,63.9" fill="none" stroke="#000" stroke-width="0.42" stroke-opacity="0.95" stroke-linejoin="round"/>
<path d="M178.1,58.7 177.8,58.0 178.6,59.2 177.5,60.9 175.9,62.2 174.8,62.1 174.7,61.4 174.5,59.9 174.6,58.8 173.0,57.8 172.8,57.3 173.2,55.6 173.1,54.4 173.2,54.6 173.0,55.1 174.9,55.1 175.5,55.3 174.4,56.2 172.7,55.5 173.8,56.0 174.4,56.5 175.0,57.7 175.2,56.4 174.4,56.4 173.7,57.0 173.0,56.5 173.1,55.4 173.7,54.5 175.3,52.9 176.9,52.3 178.2,54.0 180.9,55.1 181.4,56.4 180.8,57.1 180.2,57.0 179.8,57.9 180.2,59.2 182.0,57.8 183.0,57.4 182.1,58.7 182.8,59.2 183.2,59.3 182.6,58.6 183.3,57.7 183.4,57.4 184.1,58.6 185.0,59.1 184.3,60.2 184.3,60.6 184.6,60.9 183.6,61.4" fill="none" stroke="#000" stroke-width="0.42" stroke-opacity="0.95" stroke-linejoin="round"/>
<path d="M178.1,58.7 177.8,58.7 177.0,59.4 178.2,59.7 178.5,60.4 180.1,61.1 180.0,60.4 180.3,60.7 180.4,62.8 180.4,63.0 180.0,62.0 178.4,61.5 176.9,60.9 176.2,60.5 175.8,61.5 176.4,62.3 176.3,63.2 175.8,65.4 176.1,66.5 175.8,65.9 174.2,67.3 174.5,67.0 174.3,67.3 176.5,66.6 176.1,64.9 176.8,63.8 178.2,63.1 179.8,62.2 181.7,62.2 181.8,62.8 181.5,62.6 182.0,62.7 182.6,64.4 182.1,65.2 181.8,66.3 182.1,66.4 182.1,64.8 182.7,64.2 184.1,62.8 185.9,62.4 186.5,62.1 187.0,61.6 185.9,59.6 185.3,57.5 184.9,56.5 183.4,55.9 180.8,56.4 180.8,54.9 181.7,52.4 181.8,50.9 182.2,50.7" fill="none" stroke="#000" stroke-width="0.42" stroke-opacity="0.95" stroke-linejoin="round"/>
<path d="M178.1,58.7 178.0,57.8 178.2,57.3 178.6,57.1 179.8,56.2 178.4,56.1 177.5,55.8 177.9,55.4 177.3,54.5 176.1,53.1 175.7,53.2 175.1,53.8 174.9,55.4 175.4,57.2 175.2,57.9 176.0,58.4 176.4,58.8 177.1,60.6 177.9,60.2 179.7,61.4 180.1,62.4 178.5,63.0 177.8,63.9 177.2,64.6 175.9,63.3 176.0,62.4 176.4,61.9 176.0,61.9 175.9,61.1 176.4,61.6 176.8,60.7 176.8,60.2 176.4,61.0 177.1,61.6 176.9,62.1 177.6,62.1 177.6,62.9 177.3,62.4 176.0,61.4 175.1,59.0 173.5,56.9 173.7,56.5 173.2,55.2 174.4,54.2 175.4,53.5 175.4,51.8 176.2,51.7 175.9,52.7 176.5,52.2 177.5,51.1 179.4,50.1" fill="none" stroke="#000" stroke-width="0.42" stroke-opacity="0.95" stroke-linejoin="round"/>
<path d="M178.1,58.7 178.3,58.4 178.7,58.0 179.0,57.7 179.5,58.4 178.9,58.3 178.5,57.6 178.1,56.5 175.0,57.6 173.3,58.5 173.0,58.9 173.8,59.7 173.5,59.6 173.8,58.9 173.5,60.2 172.7,60.5 172.6,60.8 173.1,61.4 173.4,61.3 174.6,61.9 175.6,61.6 177.7,63.0 178.8,64.2 179.5,63.9 180.6,61.9 180.1,61.4 179.1,60.5 177.9,58.8 177.9,57.6 178.0,57.0 178.8,56.5 179.1,57.3 179.4,59.1 179.1,60.5 178.6,61.1 178.3,60.5 175.3,62.3 174.6,63.0 175.8,64.5 177.8,64.5 178.7,64.2 177.8,63.9 178.4,65.1 178.7,65.3 178.4,64.9 178.2,64.6 176.7,64.1 176.5,64.3 175.4,66.1 174.7,66.4 174.8,65.4" fill="none" stroke="#000" stroke-width="0.42" stroke-opacity="0.95" stroke-linejoin="round"/>
<path d="M178.1,58.7 177.6,58.2 176.3,57.0 176.0,57.2 176.1,57.2 176.1,56.6 176.6,57.0 177.1,57.4 177.3,58.1 177.1,58.9 178.0,59.0 178.8,58.8 180.2,58.1 181.6,58.4 182.4,57.0 182.3,56.3 182.3,58.3 182.6,59.5 182.4,59.5 181.7,58.9 181.2,58.9 181.8,59.2 182.7,58.6 183.3,57.9 182.0,58.2 180.1,58.9 178.9,59.5 177.3,60.1 177.5,58.8 177.9,58.5 178.1,61.1 177.8,61.9 177.2,61.3 177.0,63.6 176.6,64.9 176.6,64.4 177.3,63.0 178.7,61.6 178.2,60.6 177.2,59.4 175.3,58.6 174.4,58.0 174.8,58.3 174.8,58.6 173.8,57.6 173.0,56.3 173.6,56.0 174.3,53.8 175.4,52.9 176.4,53.2 177.3,54.7" fill="none" stroke="#000" stroke-width="0.42" stroke-opacity="0.95" stroke-linejoin="round"/>
<path d="M178.1,58.7 178.9,59.3 178.2,58.5 177.6,58.5 178.3,58.9 178.9,60.1 179.1,59.6 178.2,58.8 178.9,58.5 179.6,57.7 178.7,57.0 179.3,57.4 180.8,58.1 182.2,57.8 181.6,58.5 181.6,59.3 182.2,59.0 181.7,59.7 180.1,60.7 179.2,60.2 179.6,60.6 179.0,61.7 178.2,62.5 177.9,63.0 178.2,64.1 176.9,64.3 176.3,63.9 175.8,63.5 176.3,62.0 177.0,60.6 177.7,60.1 177.5,60.3 177.8,59.9 178.3,60.2 177.8,61.0 177.6,61.4 176.1,62.4 175.3,62.8 174.5,63.9 176.1,63.7 177.0,63.1 173.8,62.0 172.0,60.8 171.0,59.9 170.1,60.2 171.4,59.7 172.5,58.5 174.1,58.2 174.9,58.7 175.3,57.6 175.2,56.4" fill="none" stroke="#000" stroke-width="0.42" stroke-opacity="0.95" stroke-linejoin="round"/>
<path d="M178.1,58.7 178.0,58.3 178.4,57.8 177.8,57.0 176.1,57.8 174.2,59.7 173.1,60.9 172.0,60.1 171.4,61.3 172.5,60.9 172.3,61.1 172.5,61.5 171.7,61.7 172.0,63.5 170.7,63.8 169.0,65.0 168.3,67.0 167.1,67.1 167.1,67.3 168.6,67.7 170.0,67.7 171.7,67.6 173.2,67.6 173.9,67.3 174.5,68.2 175.6,69.3 176.6,69.9 176.5,69.0 176.1,68.5 175.8,66.1 174.9,64.1 174.2,63.5 173.4,63.9 173.4,63.8 174.5,63.4 176.0,64.2 176.5,64.3 176.1,64.0 175.6,64.2 175.2,63.4 174.4,62.9 174.6,62.5 175.8,62.2 174.7,62.1 173.7,63.6 172.1,64.5 171.8,62.5 171.0,61.7 170.2,61.7 170.7,61.8 172.2,60.5" fill="none" stroke="#000" stroke-width="0.42" stroke-opacity="0.95" stroke-linejoin="round"/>
<path d="M178.1,58.7 178.6,60.5 179.8,61.0 182.1,60.6 182.3,61.5 182.8,61.5 183.0,61.5 182.6,60.2 181.9,58.6 181.9,56.8 182.0,56.2 182.0,57.5 180.9,58.8 181.5,58.8 181.3,60.6 181.8,61.5 182.2,63.0 181.9,63.7 180.1,64.3 178.9,63.5 178.3,63.2 177.7,63.4 176.7,63.6 177.0,62.7 176.5,61.8 176.1,61.0 176.1,60.3 176.3,58.9 174.6,57.6 173.2,56.7 171.7,56.8 172.2,56.8 172.2,56.1 172.1,56.0 171.6,57.3 173.2,58.6 173.5,58.8 174.4,57.9 175.7,58.7 175.4,58.5 175.8,58.3 175.1,58.1 175.8,57.7 175.7,57.5 176.7,56.4 177.0,55.2 176.3,56.5 175.6,56.2 176.4,57.8 177.1,58.3 177.9,58.4" fill="none" stroke="#000" stroke-width="0.42" stroke-opacity="0.95" stroke-linejoin="round"/>
<path d="M178.1,58.7 178.5,59.6 178.0,61.3 177.5,62.3 177.2,63.3 177.3,61.9 178.7,61.9 180.3,60.8 180.8,60.3 178.9,61.1 178.2,60.3 178.5,59.5 180.1,59.1 179.8,58.1 179.9,58.1 180.2,57.6 181.5,57.0 182.6,56.5 182.4,56.9 181.3,56.4 181.0,56.3 179.9,55.9 179.7,56.7 180.1,56.1 181.8,55.7 182.6,56.1 183.1,57.1 182.8,58.1 182.6,59.5 182.2,61.5 180.4,62.9 180.3,64.2 179.6,63.5 180.2,62.1 180.0,61.3 179.8,60.2 179.5,59.9 180.3,59.7 179.9,58.9 178.6,57.8 177.5,57.5 176.0,57.6 175.2,58.0 175.4,57.8 176.2,58.8 176.4,58.1 176.2,58.1 175.8,59.2 174.2,58.0 174.3,57.5 174.2,58.0" fill="none" stroke="#000" stroke-width="0.42" stroke-opacity="0.95" stroke-linejoin="round"/>
<path d="M178.1,58.7 179.0,58.1 179.3,58.4 179.0,58.9 178.7,58.0 177.9,56.6 177.5,55.3 177.5,56.0 177.6,57.6 177.2,58.7 177.4,59.2 176.9,59.3 177.3,59.8 177.0,60.0 176.5,61.0 176.1,60.5 176.4,60.5 177.4,60.6 177.5,61.3 178.2,62.7 178.5,63.6 180.2,62.0 181.7,61.9 183.3,60.9 183.4,60.4 184.3,60.2 185.1,60.6 185.7,60.7 186.5,60.7 186.5,60.7 186.1,60.2 187.4,59.1 187.1,57.6 186.3,55.9 186.4,54.0 185.3,52.2 184.8,51.9 183.5,50.7 182.9,50.6 182.9,51.3 183.1,51.3 184.1,52.9 185.0,53.1 185.9,53.6 186.0,54.5 185.5,55.1 185.9,56.0 185.6,55.8 185.3,55.2 183.6,53.4 182.0,54.3" fill="none" stroke="#000" stroke-width="0.42" stroke-opacity="0.95" stroke-linejoin="round"/>
<path d="M178.1,58.7 178.3,59.3 177.9,58.6 178.3,57.9 179.1,57.4 178.3,57.1 178.1,56.8 177.9,57.7 177.0,58.3 175.9,60.7 176.8,61.3 177.2,61.6 175.6,61.6 173.2,60.3 171.2,60.3 170.9,58.9 171.3,58.1 171.1,56.7 170.9,57.6 171.3,58.8 171.5,58.2 172.6,59.3 172.8,60.0 173.7,59.1 174.5,57.9 175.6,57.7 176.0,59.4 176.6,60.6 177.0,61.8 176.7,62.8 177.7,62.7 178.5,62.8 179.0,63.4 179.8,63.1 180.5,62.1 179.4,61.6 178.7,61.4 180.4,61.8 180.5,61.9 180.6,61.7 179.3,61.1 178.3,60.9 177.7,59.2 178.2,58.0 177.9,57.5 178.4,57.7 178.2,58.6 179.2,58.9 181.3,59.4 182.3,59.2 182.8,60.1" fill="none" stroke="#000" stroke-width="0.42" stroke-opacity="0.95" stroke-linejoin="round"/>
<path d="M178.1,58.7 178.4,59.6 178.8,60.9 179.3,61.6 179.5,63.0 179.1,63.8 178.7,64.2 179.7,64.8 180.0,65.7 180.3,64.7 180.5,63.7 180.6,63.9 180.3,63.5 180.5,64.1 179.7,66.4 179.4,67.1 179.0,66.3 178.5,65.8 177.5,66.0 177.8,67.0 176.0,66.2 173.7,65.2 172.9,64.6 172.3,64.1 171.9,64.7 172.7,65.4 173.6,65.8 174.1,63.8 173.7,62.0 173.2,61.5 171.0,61.7 169.4,62.0 169.1,62.8 168.4,62.0 169.1,60.9 170.5,59.8 173.4,61.7 175.9,61.2 177.6,61.0 179.4,60.8 179.6,61.0 179.3,60.8 178.7,60.8 179.2,60.3 179.1,60.5 178.6,60.4 179.7,60.2 180.1,60.9 179.3,62.0 179.3,63.4 178.7,63.9" fill="none" stroke="#000" stroke-width="0.42" stroke-opacity="0.95" stroke-linejoin="round"/>
<path d="M178.1,58.7 178.4,57.6 179.3,56.9 180.3,57.3 180.5,57.3 180.8,57.7 180.4,57.7 180.6,58.1 181.0,57.3 182.4,56.9 182.1,55.9 182.5,54.5 182.3,54.1 182.2,54.6 181.8,53.7 180.8,54.1 180.9,54.2 180.3,54.0 181.6,54.1 182.0,54.4 182.5,54.2 183.2,54.4 182.1,55.2 182.0,56.8 182.6,57.0 183.7,58.1 181.9,57.7 181.7,56.4 182.6,55.8 184.0,55.4 183.3,56.1 182.7,56.8 182.1,58.0 181.7,57.7 181.3,57.8 180.9,57.5 180.1,58.7 179.8,59.5 179.5,61.1 178.6,62.5 178.8,63.7 179.1,63.8 180.4,63.2 181.7,62.0 182.2,61.8 181.2,59.8 180.5,57.7 179.2,56.0 177.5,55.6 177.5,54.9 178.0,55.2" fill="none" stroke="#000" stroke-width="0.42" stroke-opacity="0.95" stroke-linejoin="round"/>
<path d="M178.1,58.7 178.0,58.6 179.2,58.3 178.3,58.9 179.2,58.6 180.6,57.7 180.5,58.3 179.7,58.9 179.3,60.3 178.7,62.3 178.0,63.4 176.0,63.3 175.0,63.9 174.3,63.4 175.2,63.4 175.0,63.7 174.1,64.6 173.8,64.8 174.0,63.9 174.4,63.2 173.8,61.7 174.0,61.1 174.3,61.1 174.0,60.9 173.9,59.7 173.8,58.7 175.7,57.7 176.9,58.0 178.3,57.6 178.6,57.3 178.4,57.4 179.7,56.2 182.4,56.5 182.9,56.3 183.2,55.6 182.4,56.9 180.8,57.7 179.4,58.3 177.6,59.8 177.7,60.1 177.9,59.5 177.4,61.1 175.9,60.5 175.5,60.6 175.9,60.9 176.6,61.6 174.3,61.8 174.1,61.2 174.7,60.3 175.5,58.9 177.1,58.2" fill="none" stroke="#000" stroke-width="0.42" stroke-opacity="0.95" stroke-linejoin="round"/>
<path d="M178.1,58.7 178.5,58.6 177.0,58.5 175.7,58.2 176.0,57.1 176.2,57.0 176.1,56.9 176.7,57.8 176.5,57.3 176.4,56.7 175.7,55.6 175.3,56.2 174.5,56.2 173.8,57.0 172.6,57.9 171.4,58.2 171.0,58.6 172.0,58.6 172.3,59.0 172.5,59.8 173.8,60.5 174.8,61.4 175.4,62.0 176.4,62.7 176.8,63.4 175.9,62.4 176.3,61.2 176.5,60.3 176.5,61.5 177.1,61.2 177.4,61.8 177.7,60.7 177.3,60.1 177.2,59.5 176.7,59.1 176.7,58.9 175.0,60.3 174.9,60.7 174.4,60.6 175.1,59.7 174.6,59.3 174.2,58.4 174.3,57.7 174.4,57.3 174.9,57.1 174.8,56.2 176.6,56.0 177.7,57.1 177.7,59.9 176.9,60.4 176.2,60.5" fill="none" stroke="#000" stroke-width="0.42" stroke-opacity="0.95" stroke-linejoin="round"/>
<path d="M178.1,58.7 178.3,57.5 178.1,57.2 178.4,58.3 178.3,58.1 179.2,57.3 179.0,56.9 177.8,58.3 176.1,59.4 175.6,59.5 176.6,60.2 177.1,61.9 177.9,62.4 177.9,62.3 176.0,61.4 175.6,60.8 175.0,61.3 173.9,61.5 173.5,60.7 174.3,60.0 174.1,60.7 174.9,61.6 174.2,62.3 173.3,62.4 173.4,62.3 174.5,63.1 175.3,62.8 174.8,62.0 173.8,62.8 172.4,61.9 170.3,60.4 169.7,58.6 169.6,58.0 169.5,57.9 169.2,58.3 170.1,57.5 170.9,57.3 171.2,57.4 172.0,55.9 171.8,55.5 171.5,54.9 170.8,54.2 170.3,55.1 170.3,56.3 170.9,57.0 173.5,57.9 174.6,57.6 174.6,57.9 175.1,58.1 175.8,58.7 175.6,58.7" fill="none" stroke="#000" stroke-width="0.42" stroke-opacity="0.95" stroke-linejoin="round"/>
<path d="M178.1,58.7 178.0,56.9 177.6,55.9 176.1,55.1 175.9,55.4 175.4,57.1 175.2,58.8 176.0,58.7 177.0,60.4 177.4,61.7 176.7,60.0 176.3,60.3 176.7,59.7 175.5,59.0 173.8,59.2 174.3,57.7 173.7,56.0 175.5,55.2 178.2,54.0 179.6,55.4 182.7,55.5 183.7,55.2 185.3,55.4 185.2,56.2 185.8,55.0 186.0,55.1 184.7,54.3 184.2,55.6 183.7,56.5 183.4,57.8 183.8,58.5 183.0,60.8 181.7,60.7 180.2,60.0 179.5,59.6 178.1,59.2 176.4,59.0 175.1,58.1 174.1,57.5 173.7,58.1 173.8,57.1 174.9,57.0 175.5,58.5 175.1,59.1 176.3,58.1 177.8,57.3 179.1,57.3 178.0,58.0 176.6,59.1 176.7,58.5 177.4,58.0" fill="none" stroke="#000" stroke-width="0.42" stroke-opacity="0.95" stroke-linejoin="round"/>
<path d="M178.1,58.7 178.5,59.0 177.7,59.3 177.1,58.5 176.7,57.1 175.9,56.6 174.9,55.5 175.8,53.3 175.6,52.6 176.4,52.4 177.9,52.7 178.2,53.1 179.7,53.8 181.1,54.4 182.4,55.7 181.9,56.1 181.0,57.4 179.7,58.0 179.2,58.8 179.1,58.0 179.0,58.0 181.1,57.8 183.4,57.0 184.2,57.3 185.8,57.3 187.5,57.8 188.7,58.0 187.8,59.3 187.1,58.8 185.9,59.1 185.8,59.1 185.9,60.9 185.8,61.9 186.0,63.5 185.6,63.3 185.5,62.8 185.0,60.7 184.5,60.3 184.1,59.6 184.6,57.9 184.5,58.7 183.9,58.2 182.8,58.7 182.1,58.8 182.4,58.8 182.4,57.8 181.0,57.5 181.4,59.1 181.4,59.6 180.7,58.9 180.7,57.3" fill="none" stroke="#000" stroke-width="0.42" stroke-opacity="0.95" stroke-linejoin="round"/>
<path d="M178.1,58.7 178.0,58.7 178.8,57.9 178.1,58.1 176.6,57.0 176.4,55.4 176.1,54.9 176.9,54.9 178.6,55.4 178.0,55.4 177.4,55.0 176.8,56.7 175.8,56.5 176.1,57.1 176.8,58.5 177.9,57.5 178.7,57.3 178.4,56.5 179.1,56.3 181.1,55.7 181.4,55.4 181.2,55.5 180.7,56.8 181.2,55.9 182.1,55.8 181.9,57.6 181.4,58.7 181.2,57.8 182.0,59.2 183.0,60.1 183.7,61.3 184.2,62.0 183.1,62.9 181.9,62.8 181.0,62.9 180.8,63.4 178.7,64.1 176.7,65.4 175.8,66.0 175.6,66.6 175.9,65.8 175.0,63.9 174.2,63.0 173.5,62.3 174.0,61.1 175.2,61.0 175.4,61.2 175.1,61.1 175.9,61.3 176.0,60.3 176.0,60.2" fill="none" stroke="#000" stroke-width="0.42" stroke-opacity="0.95" stroke-linejoin="round"/>
<path d="M178.1,58.7 178.4,59.5 178.9,60.9 178.4,61.6 178.0,61.5 177.5,62.0 178.3,62.4 179.8,63.0 180.1,63.2 181.1,63.7 180.7,64.1 181.7,62.9 182.8,62.0 182.1,60.7 181.1,61.6 181.4,60.4 181.2,60.4 179.9,60.8 180.1,60.4 180.2,60.7 180.6,60.7 181.0,59.8 181.4,59.4 181.3,60.2 181.8,60.4 182.3,61.6 183.1,61.9 182.0,61.4 182.4,60.7 181.4,60.3 180.7,59.6 179.5,58.8 179.0,59.0 178.3,59.0 177.9,60.6 177.4,60.6 176.6,61.6 176.4,60.4 176.9,60.1 177.8,59.9 178.7,60.1 180.3,60.6 182.6,60.1 184.7,59.9 184.8,59.9 183.8,61.1 183.0,59.9 183.1,59.2 183.1,58.1 183.1,58.7 183.0,58.8" fill="none" stroke="#000" stroke-width="0.42" stroke-opacity="0.95" stroke-linejoin="round"/>
<path d="M178.1,58.7 177.6,59.1 177.4,58.6 176.3,60.0 176.2,59.9 175.9,60.7 176.4,62.5 176.4,63.8 177.1,64.1 177.5,65.0 177.3,65.2 177.8,64.8 178.8,63.9 179.7,62.0 179.6,61.8 179.5,62.9 180.7,63.3 181.7,62.8 180.3,62.3 179.4,61.2 179.2,60.3 180.2,60.1 179.7,60.1 179.6,61.9 179.7,62.1 179.5,61.9 179.2,63.5 179.2,63.5 178.5,63.4 179.1,64.6 179.0,64.8 177.8,64.3 177.2,64.8 177.2,63.3 176.6,62.2 176.0,60.7 177.2,59.2 176.8,58.5 177.0,58.4 175.9,59.9 174.9,59.7 175.0,58.7 174.9,59.7 176.4,60.3 177.3,60.9 176.7,61.9 176.4,62.5 176.0,63.9 174.6,64.2 173.2,64.3 172.7,64.2" fill="none" stroke="#000" stroke-width="0.42" stroke-opacity="0.95" stroke-linejoin="round"/>
<path d="M178.1,58.7 177.7,59.4 176.7,59.0 175.2,59.3 174.5,58.0 174.3,58.2 174.2,58.6 174.4,57.8 174.5,57.9 175.9,57.2 177.8,57.1 178.0,56.4 177.6,55.6 178.5,54.4 179.4,54.2 179.7,54.0 179.1,55.5 177.6,55.1 175.8,54.5 175.0,54.4 175.0,56.2 176.1,57.1 176.3,56.2 177.1,57.2 175.4,57.5 175.3,56.4 177.0,56.7 176.7,55.5 176.1,54.9 175.9,54.6 176.4,55.4 178.1,55.6 178.3,54.9 178.9,55.5 178.6,56.3 177.1,55.7 175.8,55.4 174.9,56.3 176.2,57.5 175.9,58.1 176.0,58.5 176.2,59.7 175.7,61.5 174.9,61.8 173.4,62.5 174.2,63.2 174.3,61.7 174.3,60.8 173.8,61.3 173.2,60.5 172.8,61.0" fill="none" stroke="#000" stroke-width="0.42" stroke-opacity="0.95" stroke-linejoin="round"/>
<path d="M178.1,58.7 180.5,58.9 181.8,57.8 183.0,56.1 183.4,56.0 182.9,55.8 183.7,54.3 183.2,53.5 182.7,52.1 182.2,52.9 182.4,53.2 183.0,53.1 183.5,52.5 183.1,51.9 183.4,51.7 183.9,51.4 183.4,50.4 181.5,49.8 179.9,50.4 179.4,50.8 179.2,51.1 178.3,51.2 179.0,52.1 180.3,52.6 181.3,52.8 181.0,54.1 181.0,56.4 180.6,56.1 180.2,55.5 180.5,55.7 180.5,56.2 180.9,56.6 180.1,57.7 179.5,58.9 178.6,57.9 177.6,56.3 177.2,54.8 177.8,54.0 176.5,54.9 175.6,55.2 176.2,56.5 177.2,56.8 177.7,57.8 177.6,57.9 176.6,58.2 176.0,58.3 175.5,60.4 176.1,60.4 177.0,61.1 178.1,61.2 177.6,60.9" fill="none" stroke="#000" stroke-width="0.42" stroke-opacity="0.95" stroke-linejoin="round"/>
<path d="M178.1,58.7 178.7,59.4 178.7,58.7 177.4,58.6 177.4,57.4 178.4,56.6 177.9,56.6 177.1,55.0 177.3,53.7 177.3,52.6 176.7,52.1 176.7,52.7 176.2,52.7 175.8,52.8 174.9,51.9 175.2,52.6 175.7,52.9 175.7,51.7 175.3,51.9 175.6,51.2 178.3,51.0 179.6,49.9 180.3,50.2 180.1,49.8 179.8,50.7 180.2,51.7 179.8,52.1 179.8,53.6 179.1,53.8 178.9,54.6 178.9,55.7 178.4,56.9 176.7,58.1 175.3,58.1 175.3,57.3 174.3,56.3 174.4,55.8 174.6,57.6 174.9,57.6 176.3,57.7 176.8,58.2 177.0,57.6 176.8,57.1 177.6,57.8 176.4,59.2 176.3,59.1 176.4,58.9 176.2,59.6 175.6,60.0 176.3,60.5 177.0,61.1" fill="none" stroke="#000" stroke-width="0.42" stroke-opacity="0.95" stroke-linejoin="round"/>
<path d="M178.1,58.7 176.1,56.8 175.2,56.4 175.1,57.8 175.8,59.1 176.2,60.0 174.8,59.4 175.5,59.3 175.3,59.9 176.2,61.1 175.4,62.3 175.5,63.4 175.6,63.5 175.3,62.4 175.4,62.9 176.4,63.1 177.5,62.8 177.6,62.6 176.5,62.8 175.6,62.9 175.9,62.7 176.5,62.9 176.9,64.1 175.9,64.2 175.8,62.9 175.4,63.0 175.4,62.2 175.0,61.9 176.3,63.8 178.1,64.8 180.1,65.6 180.7,65.5 180.2,63.9 178.4,62.5 177.2,62.2 177.5,61.9 178.0,61.8 178.2,62.2 177.8,62.7 177.3,63.1 175.6,61.6 174.4,61.0 172.3,58.8 172.3,59.5 172.6,60.3 173.7,59.3 174.2,58.9 175.0,58.5 174.4,57.2 173.6,56.2 174.2,56.3" fill="none" stroke="#000" stroke-width="0.42" stroke-opacity="0.95" stroke-linejoin="round"/>
<path d="M178.1,58.7 177.9,57.9 178.1,57.3 175.9,58.6 174.8,59.1 173.5,59.8 173.9,61.5 174.4,63.0 174.5,64.6 174.9,65.7 175.3,65.8 176.0,64.8 176.8,63.9 177.2,63.9 177.3,63.3 178.4,62.4 179.0,61.7 179.4,62.4 179.3,61.8 178.2,62.0 178.7,61.6 180.1,59.7 180.5,58.9 180.0,58.5 180.2,57.0 179.6,56.1 179.5,55.9 179.2,55.9 177.9,56.8 177.6,57.1 178.3,57.8 180.3,57.7 180.1,56.9 180.4,57.2 181.4,58.4 182.3,57.8 181.8,57.9 182.0,58.3 181.8,58.9 181.5,58.4 181.4,58.1 180.0,58.0 179.4,57.1 179.1,56.9 178.5,57.4 178.0,57.9 176.9,58.1 176.2,56.1 175.4,56.3 175.7,56.1 176.8,54.9" fill="none" stroke="#000" stroke-width="0.42" stroke-opacity="0.95" stroke-linejoin="round"/>
<path d="M178.1,58.7 177.4,59.1 176.0,59.6 175.1,60.0 175.3,58.8 175.8,57.8 176.2,58.0 176.8,56.9 175.8,58.0 175.1,58.8 173.8,58.8 172.0,58.8 170.4,57.6 170.2,57.6 171.4,58.0 170.4,57.5 170.4,55.9 169.6,55.2 169.8,54.2 169.7,52.8 169.0,51.9 169.7,51.9 169.5,51.0 170.3,50.0 170.9,50.6 171.6,51.2 170.9,50.6 169.7,50.6 169.8,51.4 171.1,54.3 172.5,56.3 172.9,56.6 173.6,56.0 173.7,56.8 174.3,58.2 174.5,59.6 173.7,59.9 172.2,60.0 172.0,60.2 172.8,59.9 173.9,59.0 175.4,59.5 175.9,58.2 176.0,59.1 176.2,61.8 176.4,62.1 176.3,63.0 176.0,63.9 174.4,64.3 174.0,64.6 174.7,64.4" fill="none" stroke="#000" stroke-width="0.42" stroke-opacity="0.95" stroke-linejoin="round"/>
<path d="M178.1,58.7 178.7,59.3 179.3,59.2 180.6,59.2 180.3,58.6 180.9,58.5 180.5,58.2 181.6,57.4 180.8,57.9 181.0,59.9 181.1,59.7 180.4,59.4 180.8,59.0 180.9,59.6 179.9,61.8 180.2,63.6 180.8,64.2 181.2,64.0 182.3,64.1 182.5,63.8 181.9,64.2 180.7,63.3 180.3,61.9 178.9,61.8 178.4,61.7 177.5,61.8 176.8,62.0 177.5,61.9 178.5,62.2 177.7,61.1 177.3,61.0 177.5,61.5 176.6,61.8 176.7,61.3 177.4,60.2 176.9,58.2 176.3,58.0 177.3,57.7 178.5,57.8 179.2,58.5 178.6,57.3 177.8,56.4 177.5,55.2 177.8,53.9 177.9,53.6 177.4,53.8 177.2,52.1 176.1,51.9 174.8,51.9 172.9,51.5 171.9,51.6" fill="none" stroke="#000" stroke-width="0.42" stroke-opacity="0.95" stroke-linejoin="round"/>
<path d="M178.1,58.7 177.5,58.6 176.6,58.0 176.1,59.2 176.5,58.7 175.5,57.8 175.1,56.9 175.4,58.0 175.6,58.7 176.3,60.4 176.1,60.3 175.2,60.2 176.5,60.0 175.3,60.5 174.1,61.4 174.3,63.5 173.8,64.0 174.1,65.1 174.3,66.3 174.5,65.7 175.9,64.9 176.2,65.8 176.0,66.6 175.2,66.3 176.4,65.1 176.2,63.5 175.6,61.8 175.0,59.9 175.9,59.2 175.9,59.2 175.6,57.7 175.7,56.7 175.6,56.1 175.7,56.7 176.6,57.6 176.4,57.7 175.9,57.5 174.0,59.1 173.5,59.8 172.7,60.7 173.1,60.8 173.9,60.8 175.1,60.2 175.1,60.7 174.9,61.7 176.8,61.3 176.5,61.2 176.5,60.6 176.1,59.4 175.4,58.0 177.2,58.3" fill="none" stroke="#000" stroke-width="0.42" stroke-opacity="0.95" stroke-linejoin="round"/>
<path d="M178.1,58.7 178.2,57.5 178.9,58.4 179.5,59.4 180.2,60.1 179.6,60.3 179.6,60.1 180.1,58.6 181.2,57.9 181.0,58.6 181.1,58.3 181.0,57.7 180.0,56.0 178.9,54.5 179.9,53.9 180.6,54.0 179.3,53.4 179.2,53.9 178.6,54.2 178.1,55.8 176.8,57.4 177.3,58.4 176.1,59.7 175.4,60.8 175.1,61.1 175.2,62.7 175.8,63.6 175.9,63.3 176.9,63.4 178.4,63.7 179.4,63.8 180.2,63.7 181.3,62.1 182.7,62.5 182.9,62.4 183.5,62.9 183.0,62.6 182.5,61.3 182.8,61.1 181.4,61.2 180.9,62.5 181.1,63.6 181.4,63.9 181.7,65.2 180.9,66.1 181.5,66.3 180.3,65.2 179.3,63.4 178.7,63.4 178.2,63.7 178.7,63.3" fill="none" stroke="#000" stroke-width="0.42" stroke-opacity="0.95" stroke-linejoin="round"/>
<path d="M178.1,58.7 178.6,58.8 177.6,59.7 177.6,58.4 177.6,56.8 178.0,56.3 179.5,55.3 180.0,54.5 181.5,53.2 182.9,52.0 183.2,51.4 182.9,51.8 182.2,50.7 182.8,51.5 183.4,54.0 182.0,55.5 180.6,55.7 179.5,55.9 179.7,57.1 178.5,57.2 176.1,56.1 176.2,55.7 174.5,56.6 174.8,57.0 172.9,57.8 172.2,58.1 172.3,58.5 173.0,57.2 171.2,56.3 169.9,55.6 170.8,54.1 170.0,54.0 170.5,53.5 170.7,52.8 170.7,53.5 171.6,56.1 173.9,56.5 175.4,58.4 176.4,59.0 175.3,59.4 174.2,60.3 174.3,60.8 175.1,61.7 175.9,61.9 176.4,61.1 176.1,62.1 176.1,63.1 176.7,63.1 175.9,62.1 176.2,60.8 176.2,59.9" fill="none" stroke="#000" stroke-width="0.42" stroke-opacity="0.95" stroke-linejoin="round"/>
<path d="M178.1,58.7 177.7,57.5 178.6,57.6 178.4,57.4 177.4,57.1 175.7,57.0 175.0,57.1 175.1,56.7 175.6,57.3 175.8,57.2 174.7,57.2 175.2,56.5 175.8,57.8 177.1,58.2 177.4,56.6 178.8,54.4 177.9,53.6 178.3,52.6 178.3,51.2 177.3,52.0 175.3,53.9 174.6,52.9 173.5,52.7 173.6,52.0 173.4,52.4 173.0,52.0 171.0,52.3 170.3,52.5 171.5,52.5 172.1,53.2 172.4,53.3 173.5,54.6 172.7,55.0 172.9,53.9 173.0,53.4 173.7,54.1 175.2,53.6 176.4,52.3 177.7,52.0 178.0,51.9 177.2,52.7 177.3,52.3 176.8,51.7 175.8,50.6 175.5,50.4 175.1,49.8 175.0,49.3 175.0,48.4 175.5,47.2 177.0,49.7 178.3,51.8" fill="none" stroke="#000" stroke-width="0.42" stroke-opacity="0.95" stroke-linejoin="round"/>
<path d="M178.1,58.7 176.9,59.0 176.8,58.8 176.4,58.5 177.1,58.2 177.5,57.6 178.0,57.2 178.7,57.5 179.3,57.7 179.5,57.7 180.4,57.4 181.2,57.0 181.8,57.1 182.1,56.5 183.0,55.2 184.5,54.6 185.2,55.0 186.0,55.2 186.1,56.1 185.5,58.0 184.8,58.5 184.0,59.6 184.6,59.3 184.6,60.9 184.2,59.9 184.3,59.1 183.3,59.7 183.2,60.1 182.2,61.7 181.3,62.7 179.1,64.5 179.3,64.2 180.0,63.8 180.2,64.2 181.1,64.4 181.2,63.5 182.5,63.4 182.6,63.0 182.0,63.5 182.3,65.0 182.7,64.8 182.2,65.9 182.3,65.5 181.5,64.8 181.9,64.0 182.2,62.7 182.2,62.9 183.6,63.5 183.3,63.2 183.3,62.3 182.6,60.5" fill="none" stroke="#000" stroke-width="0.42" stroke-opacity="0.95" stroke-linejoin="round"/>
<path d="M178.1,58.7 177.6,58.4 176.3,58.9 175.2,59.1 174.9,58.6 174.4,57.6 174.7,58.0 174.5,59.7 173.0,59.8 172.1,59.9 172.7,59.8 173.3,59.0 174.2,59.6 174.7,59.4 175.0,58.1 175.0,55.8 175.5,53.7 176.4,53.9 176.6,54.1 177.1,54.4 177.2,55.1 177.1,55.3 177.3,56.3 177.5,56.8 176.3,57.4 175.6,57.6 176.1,58.2 176.7,58.1 177.5,58.3 177.7,59.2 178.0,61.0 177.4,64.1 176.4,64.3 176.1,64.8 176.0,62.6 175.7,60.3 175.8,59.2 174.8,59.2 174.3,59.8 173.9,61.3 173.2,60.6 172.2,58.8 172.1,57.2 172.5,56.6 172.5,55.4 172.5,56.1 173.8,56.0 175.6,57.0 176.2,59.1 176.8,61.2 176.0,61.2" fill="none" stroke="#000" stroke-width="0.42" stroke-opacity="0.95" stroke-linejoin="round"/>
<path d="M178.1,58.7 178.4,59.5 177.8,60.2 176.5,60.2 174.9,59.9 174.3,59.6 173.7,59.5 173.2,59.0 172.7,58.0 173.2,57.9 172.1,58.9 171.9,57.9 171.9,57.4 172.5,57.0 172.3,56.9 171.9,56.3 170.8,55.7 171.1,55.7 172.3,54.7 172.4,54.5 172.4,55.1 173.1,54.9 173.4,54.7 173.9,56.5 174.5,58.0 175.5,59.2 177.3,59.0 178.3,59.4 178.6,59.1 180.9,57.7 180.4,58.2 180.4,58.7 180.3,59.7 180.2,61.1 180.2,62.5 180.7,62.3 181.6,62.3 181.8,62.4 181.9,64.4 182.0,66.4 182.8,66.4 183.1,66.0 183.6,65.9 182.8,65.8 182.5,65.9 182.8,65.1 181.9,64.3 182.1,64.0 181.7,63.2 180.0,61.5 178.7,61.0" fill="none" stroke="#000" stroke-width="0.42" stroke-opacity="0.95" stroke-linejoin="round"/>
<path d="M178.1,58.7 178.6,57.3 178.7,56.2 178.1,55.3 177.7,55.8 176.7,57.2 176.3,59.0 176.6,59.6 176.0,60.9 176.3,61.5 177.0,60.9 176.9,62.0 176.5,61.9 178.0,59.9 177.7,57.9 177.8,57.9 177.2,57.2 176.8,56.1 176.8,54.9 176.9,54.8 177.0,53.7 176.1,53.6 176.4,55.2 177.2,55.7 177.2,55.4 175.4,55.5 174.8,54.7 175.0,56.6 175.3,57.3 176.6,58.9 176.7,60.4 176.9,61.2 174.4,62.0 172.7,61.8 172.2,61.4 172.1,61.6 171.7,61.8 171.3,61.8 170.4,62.5 170.3,63.8 171.1,63.8 171.7,64.4 174.2,64.2 174.5,64.4 175.7,64.9 176.5,65.7 176.3,66.3 176.2,67.2 175.6,67.7 176.1,67.1 177.0,67.4" fill="none" stroke="#000" stroke-width="0.42" stroke-opacity="0.95" stroke-linejoin="round"/>
<path d="M170.0,50.0 166.0,45.0 162.0,39.0 160.6,35.2 158.6,33.2 155.0,30.5 153.2,29.1 150.0,27.5 148.5,27.8 149.5,30.0 152.0,31.5 155.0,33.5 157.0,36.0" fill="none" stroke="#444" stroke-width="0.45" stroke-opacity="1.0" stroke-linejoin="round"/>
<path d="M171.0,49.0 168.0,43.0 166.0,39.9 162.0,40.5 159.2,40.6 155.2,38.6 151.0,38.5 148.5,39.2 146.5,38.0 145.1,36.5" fill="none" stroke="#333" stroke-width="0.45" stroke-opacity="1.0" stroke-linejoin="round"/>
<rect x="144.3" y="35.8" width="1.5" height="1.5" fill="#000"/>
<path d="M172.0,47.0 169.0,44.0 166.0,39.9" fill="none" stroke="#555" stroke-width="0.4" stroke-opacity="1.0" stroke-linejoin="round"/>
<rect x="165.2" y="39.1" width="1.5" height="1.5" fill="#000"/>
<path d="M179.0,48.0 178.0,41.0 177.0,35.0 178.0,32.0 181.0,31.0 186.0,32.0 190.0,35.0 191.5,39.0 189.0,41.5 186.1,39.9" fill="none" stroke="#555" stroke-width="0.45" stroke-opacity="1.0" stroke-linejoin="round"/>
<rect x="185.3" y="39.1" width="1.5" height="1.5" fill="#000"/>
<path d="M182.0,47.0 184.0,42.0 185.5,37.0 184.8,31.8" fill="none" stroke="#444" stroke-width="0.45" stroke-opacity="1.0" stroke-linejoin="round"/>
<rect x="184.1" y="31.1" width="1.5" height="1.5" fill="#000"/>
<path d="M176.0,48.0 174.0,42.0 172.0,37.0 175.0,35.0 177.0,38.0" fill="none" stroke="#777" stroke-width="0.4" stroke-opacity="1.0" stroke-linejoin="round"/>
<path d="M176.1,64.2 172.1,70.2 170.1,76.2 169.1,82.2 165.1,86.2 162.1,89.2 159.1,92.2 157.1,96.2 155.1,99.2 159.1,98.2 162.1,94.2 164.1,92.2" fill="none" stroke="#333" stroke-width="0.4" stroke-opacity="1.0" stroke-linejoin="round"/>
<rect x="163.3" y="91.5" width="1.5" height="1.5" fill="#000"/>
<path d="M174.1,66.2 169.1,74.2 166.1,80.2 162.1,84.2 160.1,88.2 158.1,94.2 156.1,98.2" fill="none" stroke="#555" stroke-width="0.4" stroke-opacity="1.0" stroke-linejoin="round"/>
<path d="M182.1,58.2 187.1,56.2 192.1,57.2 196.1,59.2 199.4,57.5" fill="none" stroke="#333" stroke-width="0.4" stroke-opacity="1.0" stroke-linejoin="round"/>
<rect x="198.7" y="56.8" width="1.5" height="1.5" fill="#000"/>
<path d="M181.1,50.2 186.1,43.2 191.1,44.2 193.1,48.2 190.1,52.2" fill="none" stroke="#555" stroke-width="0.4" stroke-opacity="1.0" stroke-linejoin="round"/>
<path d="M174.8,46.8 175.7,46.5 175.1,46.1 175.8,45.0 177.5,44.5 177.4,44.4 177.6,45.0 177.3,45.5 176.8,45.4 177.0,45.9 176.1,46.3 177.4,47.0 177.6,47.7 177.3,48.5 176.9,47.8 178.1,47.7 180.1,47.0 181.0,46.7 181.7,46.2 183.0,45.3 182.7,44.6 182.5,43.8 181.5,43.7 180.3,43.0 180.6,42.4 181.1,41.6 181.4,41.6 180.0,39.8 179.5,39.4 178.0,39.3 177.4,39.7 177.5,40.9 176.2,40.7 176.0,39.9 176.4,39.5 174.8,39.1 175.1,39.6 175.5,39.9 176.7,40.7 176.5,41.6 177.9,41.9" fill="none" stroke="#333" stroke-width="0.35" stroke-opacity="0.8" stroke-linejoin="round"/>
<path d="M174.8,46.8 174.9,45.8 175.3,45.5 174.2,45.0 175.6,44.8 176.5,43.9 175.4,43.2 175.5,44.0 176.3,44.3 176.0,44.8 175.3,45.0 174.9,44.7 172.0,44.0 170.9,43.5 169.2,43.5 167.3,42.9 166.3,42.2 165.3,41.1 164.6,40.2 162.3,39.8 163.9,40.1 163.3,39.6 162.0,38.7 162.9,38.3 166.9,37.1 168.9,36.8 169.5,37.4 168.4,38.5 168.1,39.1 168.6,40.2 169.1,40.4 172.1,41.4 173.2,42.3 174.6,42.5 175.1,42.9 179.3,42.7 179.8,42.4 176.7,41.7 173.4,41.7 173.2,41.7 172.0,42.7" fill="none" stroke="#333" stroke-width="0.35" stroke-opacity="0.8" stroke-linejoin="round"/>
<path d="M174.8,46.8 175.6,46.0 176.2,45.3 176.4,45.2 176.2,45.2 173.7,44.7 173.6,43.7 174.3,43.1 175.4,42.6 176.3,41.9 176.7,41.2 178.9,41.4 179.4,41.9 179.5,42.4 178.4,42.5 176.3,42.5 177.0,43.0 176.6,43.0 177.2,43.0 177.1,43.7 176.9,42.8 175.1,41.3 173.1,40.2 172.8,40.1 171.9,39.4 170.0,39.2 167.8,39.9 168.2,39.5 169.6,39.1 169.4,39.9 168.9,40.9 168.6,42.3 168.1,44.2 170.3,44.8 170.1,44.6 168.6,43.9 170.4,43.5 171.0,43.7 170.4,44.1 170.0,43.7 169.5,43.9" fill="none" stroke="#333" stroke-width="0.35" stroke-opacity="0.8" stroke-linejoin="round"/>
<path d="M174.8,46.8 175.4,47.1 177.4,47.9 177.9,48.7 175.6,49.9 171.8,50.2 169.5,49.8 170.2,49.5 171.9,49.3 172.8,48.9 173.1,48.0 169.7,47.0 165.9,45.9 165.5,45.3 164.4,45.2 162.3,44.4 160.3,43.1 159.1,42.1 160.5,41.8 159.9,41.2 162.3,41.4 163.4,40.7 162.9,40.7 162.1,39.8 163.9,39.2 165.6,38.3 167.3,38.3 168.2,38.6 168.9,39.3 169.2,39.6 169.8,40.3 168.5,40.1 168.7,39.8 167.8,39.6 166.6,39.3 168.3,38.2 168.6,36.4 168.4,35.4 169.2,36.0 170.9,36.7 171.5,37.2" fill="none" stroke="#333" stroke-width="0.35" stroke-opacity="0.8" stroke-linejoin="round"/>
<path d="M174.8,46.8 171.7,45.6 168.0,45.1 164.7,44.0 166.8,43.2 167.7,42.9 168.9,42.6 168.7,42.4 167.4,42.2 167.7,42.6 166.7,42.6 167.1,42.8 167.5,43.9 168.8,43.5 169.8,43.2 169.9,42.3 173.3,41.8 173.6,41.8 174.4,42.8 173.4,43.5 172.4,43.5 171.5,42.7 172.0,41.5 171.9,40.6 171.4,40.4 171.8,40.3 170.7,40.7 170.0,40.2 170.3,39.9 171.0,40.5 171.9,41.0 171.1,41.0 171.2,41.5 172.2,41.5 171.7,41.1 172.6,41.5 173.2,41.9 172.4,41.3 171.4,40.1 169.0,39.9 167.0,41.5" fill="none" stroke="#333" stroke-width="0.35" stroke-opacity="0.8" stroke-linejoin="round"/>
<rect x="154.3" y="98.5" width="1.5" height="1.5" fill="#000"/>
<rect x="160.3" y="90.5" width="1.5" height="1.5" fill="#000"/>
<rect x="187.3" y="65.5" width="1.5" height="1.5" fill="#000"/>
<rect x="189.2" y="49.2" width="1.5" height="1.5" fill="#000"/>
<rect x="184.2" y="44.2" width="1.5" height="1.5" fill="#000"/>
<path d="M61.0,172.0 59.0,168.0 56.0,163.0 53.0,158.0 50.0,154.5 47.3,152.6 49.0,152.2" fill="none" stroke="#999" stroke-width="0.45" stroke-opacity="1.0" stroke-linejoin="round"/>
<path d="M61.0,172.0 59.0,166.0 57.0,161.0 55.0,157.0 53.9,155.3" fill="none" stroke="#aaa" stroke-width="0.45" stroke-opacity="1.0" stroke-linejoin="round"/>
<rect x="53.1" y="154.6" width="1.5" height="1.5" fill="#000"/>
<path d="M62.0,172.0 63.0,166.0 64.0,161.0 64.5,156.6" fill="none" stroke="#bbb" stroke-width="0.45" stroke-opacity="1.0" stroke-linejoin="round"/>
<rect x="63.8" y="155.8" width="1.5" height="1.5" fill="#000"/>
<path d="M59.0,174.0 54.0,170.0 50.0,168.0 45.3,166.5" fill="none" stroke="#aaa" stroke-width="0.45" stroke-opacity="1.0" stroke-linejoin="round"/>
<rect x="44.5" y="165.8" width="1.5" height="1.5" fill="#000"/>
<path d="M63.0,174.0 66.0,170.0 68.0,167.0 70.4,164.5" fill="none" stroke="#777" stroke-width="0.45" stroke-opacity="1.0" stroke-linejoin="round"/>
<rect x="69.7" y="163.8" width="1.5" height="1.5" fill="#000"/>
<path d="M62.0,175.0 64.0,170.0 66.5,165.2" fill="none" stroke="#777" stroke-width="0.45" stroke-opacity="1.0" stroke-linejoin="round"/>
<rect x="65.8" y="164.4" width="1.5" height="1.5" fill="#000"/>
<path d="M60.9,177.9 63.0,178.5 64.8,182.2 66.1,183.4 65.5,183.7 63.8,184.6 63.2,184.0 61.5,183.0 60.3,182.1 59.0,182.3 59.8,181.3 59.9,179.8 60.5,178.8 60.5,178.9 59.2,177.8 58.1,175.3 57.4,172.6 57.1,174.5 58.5,175.4 60.9,175.9 63.1,174.8 64.4,172.9 66.0,173.7 65.7,175.6 66.2,175.8 66.0,177.4 66.9,176.6 68.8,176.2 69.7,174.9 70.6,176.8 72.5,178.4" fill="none" stroke="#888" stroke-width="0.35" stroke-opacity="0.9" stroke-linejoin="round"/>
<path d="M60.9,177.9 60.4,177.3 60.9,178.6 61.8,179.7 62.6,180.5 62.8,182.4 64.4,183.5 64.6,183.1 64.4,182.4 64.1,183.2 64.6,182.0 66.7,182.0 67.7,182.4 67.6,182.3 66.7,182.4 65.3,182.6 63.8,183.0 61.7,183.2 59.7,183.8 58.6,184.9 58.9,185.7 58.7,185.8 58.1,186.8 56.8,187.1 56.2,188.9 57.2,191.4 57.5,192.7 56.6,195.1 55.6,193.0 56.3,191.3 56.9,189.7" fill="none" stroke="#888" stroke-width="0.35" stroke-opacity="0.9" stroke-linejoin="round"/>
<path d="M60.9,177.9 61.1,177.1 60.5,178.2 59.1,178.7 58.1,179.9 57.9,180.2 59.1,180.5 60.3,181.0 60.8,181.3 59.2,183.3 58.7,183.7 60.3,183.5 61.4,182.7 61.6,182.7 61.6,180.7 61.1,182.5 60.7,181.4 59.0,181.8 56.8,181.2 56.2,180.6 56.7,180.5 57.7,179.8 57.5,180.5 56.6,180.3 56.7,179.0 57.0,177.7 57.2,175.9 57.0,175.1 57.3,174.4 57.6,172.8 60.0,172.5" fill="none" stroke="#888" stroke-width="0.35" stroke-opacity="0.9" stroke-linejoin="round"/>
<path d="M60.9,177.9 60.8,177.4 61.6,179.6 60.8,180.9 60.4,181.5 60.8,182.0 61.5,182.9 60.7,184.4 61.5,185.1 61.8,186.7 61.7,187.5 61.5,187.1 61.7,185.6 62.6,185.6 61.7,182.3 61.3,181.1 61.6,180.0 61.0,178.4 61.8,177.5 62.3,176.4 62.7,174.7 62.9,172.5 63.4,172.5 63.1,172.3 62.5,173.3 60.4,174.5 60.6,174.6 59.7,172.4 60.1,170.5 61.0,170.2 61.2,171.9" fill="none" stroke="#888" stroke-width="0.35" stroke-opacity="0.9" stroke-linejoin="round"/>
<path d="M60.9,177.9 60.4,178.3 59.7,177.5 57.7,177.4 57.0,176.9 55.5,176.6 55.2,177.5 55.8,175.3 56.0,173.2 55.4,170.3 55.6,169.5 54.3,167.8 54.4,167.0 53.9,168.7 53.4,170.2 52.3,171.4 51.8,174.0 51.1,174.7 50.8,178.2 51.7,180.1 51.7,181.8 52.0,184.9 52.2,188.0 51.3,188.4 51.8,187.2 53.2,186.5 54.2,185.9 55.3,185.6 57.1,183.8 58.0,183.3 59.4,183.0" fill="none" stroke="#888" stroke-width="0.35" stroke-opacity="0.9" stroke-linejoin="round"/>
<path d="M60.9,177.9 59.1,178.7 57.4,180.0 56.3,180.0 55.9,180.8 55.2,182.2 53.6,183.8 52.6,183.8 51.6,185.7 52.2,186.3 52.4,186.5 53.0,183.4 53.3,182.9 53.6,184.2 55.0,184.5 57.0,185.4 57.1,184.7 57.0,183.6 58.7,181.7 59.4,182.2 57.9,181.7 56.6,180.4 56.4,180.6 56.4,180.6 56.1,181.3 55.4,180.1 55.9,180.0 56.4,179.5 56.6,179.6 56.5,182.6 54.9,184.7" fill="none" stroke="#888" stroke-width="0.35" stroke-opacity="0.9" stroke-linejoin="round"/>
<path d="M60.9,177.9 61.9,178.6 61.6,178.7 61.5,178.1 60.5,176.6 61.1,176.7 60.9,179.3 61.4,180.0 62.3,179.7 61.6,180.0 60.8,178.5 61.1,177.6 61.5,176.8 61.2,176.6 61.8,179.0 62.5,182.4 62.3,182.8 61.1,182.7 60.2,183.4 59.3,182.0 59.4,182.0 57.9,181.5 58.4,182.4 58.6,181.3 59.3,181.1 59.9,179.3 60.7,179.6 60.2,181.2 60.5,182.3 61.2,184.2 62.4,182.2" fill="none" stroke="#888" stroke-width="0.35" stroke-opacity="0.9" stroke-linejoin="round"/>
<path d="M60.9,177.9 59.8,178.4 61.2,177.5 61.4,176.5 60.2,175.9 59.9,175.0 59.5,173.0 59.3,173.1 60.0,173.2 59.7,173.6 60.7,173.9 60.8,173.4 59.7,174.8 58.5,176.1 57.7,178.1 58.0,179.0 57.6,179.6 58.0,180.6 57.1,180.8 55.8,179.8 55.6,179.9 55.8,180.4 56.2,181.1 56.9,180.1 57.7,177.7 56.0,176.3 54.7,175.7 54.5,174.6 53.5,175.0 52.9,175.0 53.2,177.9" fill="none" stroke="#888" stroke-width="0.35" stroke-opacity="0.9" stroke-linejoin="round"/>
<path d="M61.5,177.4 61.8,177.0 61.7,178.1 61.0,179.2 60.8,180.8 59.5,178.3 58.9,178.6 59.8,179.5 60.4,178.8 61.1,177.7 60.8,178.5 61.3,178.1 63.0,179.8 63.7,181.5 63.5,181.3 63.1,180.1 62.8,180.7 62.7,181.1 62.5,180.3 62.1,178.7 61.9,178.7 60.2,180.0 59.3,179.8 58.1,178.5 58.2,179.4 56.6,181.3 55.9,181.2 56.8,182.2 56.7,182.0 58.9,184.1 60.5,184.6" fill="none" stroke="#333" stroke-width="0.35" stroke-opacity="0.9" stroke-linejoin="round"/>
<path d="M61.5,177.4 60.9,176.6 61.1,174.8 61.9,172.3 63.1,170.9 62.8,171.4 63.0,171.9 63.4,173.2 64.8,174.7 65.2,175.7 65.9,178.1 65.9,180.7 65.4,181.3 64.0,182.6 63.9,183.6 63.3,182.3 62.9,180.3 60.6,180.2 58.3,180.1 58.0,178.3 57.3,177.9 57.1,176.8 56.5,175.5 55.1,173.4 54.0,170.8 54.1,169.4 55.2,169.6 56.6,168.6 58.0,167.3 58.7,166.7 59.2,166.4" fill="none" stroke="#333" stroke-width="0.35" stroke-opacity="0.9" stroke-linejoin="round"/>
<path d="M61.5,177.4 62.2,177.7 64.4,177.4 67.2,177.8 68.3,178.2 69.8,181.7 70.5,185.7 70.8,186.0 70.6,186.7 70.8,186.4 70.3,185.1 70.5,184.7 69.6,184.1 68.6,183.7 68.2,182.3 67.9,183.3 65.6,182.4 63.9,178.6 63.1,177.2 62.2,175.7 62.3,175.5 62.8,176.1 62.7,175.4 63.6,178.0 62.6,178.9 61.3,179.6 60.9,180.9 61.5,181.0 62.6,182.1 63.1,181.7 63.9,182.8" fill="none" stroke="#333" stroke-width="0.35" stroke-opacity="0.9" stroke-linejoin="round"/>
<path d="M61.5,177.4 60.9,179.5 60.8,179.6 61.6,179.9 62.8,180.7 63.1,179.8 63.0,179.7 64.0,178.5 64.2,176.3 64.2,175.1 64.6,176.0 64.6,177.2 64.1,179.1 63.4,177.7 64.6,175.1 65.0,173.8 65.2,170.8 66.0,171.6 66.6,171.3 67.5,171.6 67.3,172.2 68.0,171.6 67.8,170.5 67.5,169.3 66.9,169.1 66.6,168.4 65.6,170.4 64.9,170.2 64.5,171.8 64.6,175.0 64.4,178.9" fill="none" stroke="#333" stroke-width="0.35" stroke-opacity="0.9" stroke-linejoin="round"/>
<path d="M61.5,177.4 60.9,177.9 60.4,177.5 60.1,178.1 60.8,178.3 62.1,178.8 63.2,178.9 64.1,176.9 64.1,175.2 64.4,174.6 64.7,174.8 64.2,173.7 64.2,173.9 63.2,172.6 62.5,172.8 62.8,174.3 62.7,172.6 63.0,170.9 63.7,171.3 65.1,169.2 65.1,169.0 65.9,168.8 67.2,169.7 68.5,172.0 68.6,170.8 68.0,170.4 67.6,170.5 66.3,172.0 65.1,172.7 64.6,173.0 62.9,173.8" fill="none" stroke="#333" stroke-width="0.35" stroke-opacity="0.9" stroke-linejoin="round"/>
<path d="M61.5,177.4 60.9,177.5 59.7,178.1 58.4,178.2 57.2,179.1 56.0,178.0 55.7,178.9 55.5,179.9 55.8,180.4 57.4,181.9 59.2,182.0 59.3,181.9 59.1,180.9 59.2,179.7 58.9,177.8 58.7,176.4 58.3,176.0 57.4,175.1 57.9,173.8 58.7,173.5 58.4,171.7 57.4,171.1 57.1,172.1 57.0,172.5 56.8,173.6 56.4,173.1 57.4,172.1 59.1,173.1 59.4,174.5 61.0,175.8 61.2,175.1" fill="none" stroke="#333" stroke-width="0.35" stroke-opacity="0.9" stroke-linejoin="round"/>
<path d="M61.5,177.4 62.0,178.3 61.8,180.9 62.0,181.5 60.6,183.1 60.2,183.2 60.4,181.9 60.3,180.9 61.7,180.0 62.9,180.2 63.2,178.9 64.3,177.2 64.1,178.8 62.5,180.4 63.1,179.1 64.8,178.1 65.6,180.0 64.4,180.2 62.8,181.9 62.1,180.7 60.6,178.0 60.5,177.2 61.2,177.3 61.7,178.8 62.8,178.9 62.3,178.6 63.4,176.6 63.3,177.3 63.2,178.4 62.4,181.6 62.4,182.9" fill="none" stroke="#333" stroke-width="0.35" stroke-opacity="0.9" stroke-linejoin="round"/>
<path d="M61.5,177.4 61.3,175.8 61.4,175.3 61.7,176.5 61.9,176.4 61.8,177.0 62.8,177.9 63.7,176.7 64.6,176.2 65.8,178.0 65.7,177.7 65.7,176.2 65.2,174.9 63.6,173.6 62.2,173.3 62.3,171.9 62.1,171.4 61.1,170.8 59.8,170.0 58.6,170.3 58.4,171.2 58.3,171.8 59.3,172.7 60.7,173.5 61.8,172.8 63.9,173.5 65.3,173.5 64.6,174.0 63.8,173.9 63.2,173.6 62.9,172.1" fill="none" stroke="#333" stroke-width="0.35" stroke-opacity="0.9" stroke-linejoin="round"/>
<path d="M61.2,177.9 62.3,176.3 63.0,175.6 63.6,176.4 64.0,177.1 63.6,177.3 63.4,177.4 62.3,178.4 61.3,178.1 61.0,178.2 61.5,178.7 61.6,178.8 62.8,178.8 63.8,177.3 64.4,176.7 65.3,176.7 65.8,177.5 65.1,177.3 64.5,176.7 64.5,175.3 64.0,174.9 63.6,173.7 61.7,172.9 59.8,172.6 58.7,172.1 58.3,172.6 57.1,173.4 56.3,174.4 56.3,173.6 56.5,172.8 57.7,173.0 59.1,172.7 59.7,172.9 61.4,172.7 62.3,173.1 62.8,173.6" fill="none" stroke="#d82020" stroke-width="0.35" stroke-opacity="0.9" stroke-linejoin="round"/>
<path d="M61.2,177.9 61.1,177.2 61.5,177.8 61.4,178.0 61.2,178.2 61.4,178.8 62.4,180.5 61.8,180.1 61.3,178.4 60.1,176.3 59.8,174.8 59.3,175.5 59.5,175.5 58.3,174.8 58.5,174.0 58.9,174.7 59.8,175.5 60.4,176.3 60.5,176.1 61.3,174.8 61.4,174.5 61.4,174.5 61.0,174.4 60.2,173.9 60.0,173.7 60.2,174.2 60.4,173.8 59.3,174.0 58.3,175.3 57.9,175.2 57.5,175.1 58.7,173.8 59.9,171.8 60.6,171.7 60.5,172.0 61.6,173.1" fill="none" stroke="#d82020" stroke-width="0.35" stroke-opacity="0.9" stroke-linejoin="round"/>
<path d="M61.2,177.9 59.6,177.2 58.9,176.5 57.6,175.5 56.6,175.7 57.0,176.4 58.0,177.6 59.5,177.8 60.2,176.9 60.0,175.3 60.0,176.2 60.9,176.7 61.5,177.1 60.8,178.9 60.5,179.9 60.2,180.7 59.7,180.9 60.5,182.5 61.4,184.9 62.2,184.6 62.9,184.6 63.1,186.0 63.6,187.1 63.2,187.7 63.7,186.0 65.3,184.1 65.0,184.3 65.7,182.6 64.9,182.0 64.5,181.1 64.0,181.2 64.4,181.2 63.4,181.3 62.7,181.4 63.4,180.4 64.6,179.4" fill="none" stroke="#d82020" stroke-width="0.35" stroke-opacity="0.9" stroke-linejoin="round"/>
<path d="M61.2,177.9 61.1,178.0 61.0,176.5 59.3,176.3 56.9,176.1 56.7,175.5 58.0,175.4 58.8,174.7 59.6,174.9 60.4,176.5 59.8,177.0 58.8,175.2 57.8,175.4 57.9,176.5 58.2,177.3 58.5,180.4 60.0,181.6 60.8,182.6 61.0,181.2 59.5,181.0 59.8,181.3 59.2,180.5 58.3,181.0 58.4,183.8 59.0,185.3 58.1,185.2 57.8,184.5 57.0,184.8 57.6,184.7 57.8,184.9 57.8,185.3 57.2,185.4 57.3,186.3 57.7,187.0 56.8,188.5 56.5,188.1" fill="none" stroke="#d82020" stroke-width="0.35" stroke-opacity="0.9" stroke-linejoin="round"/>
<path d="M61.2,177.9 62.7,177.5 62.3,176.3 62.5,175.8 62.6,174.6 63.0,173.8 63.5,173.2 63.0,173.3 62.1,173.9 61.1,174.5 61.0,175.7 60.3,175.3 60.6,174.9 60.7,175.1 61.2,174.7 59.8,174.6 59.3,173.5 59.5,172.2 60.1,171.7 59.9,171.2 59.9,169.8 60.1,168.6 59.7,168.8 58.7,169.7 57.7,171.5 58.1,171.6 56.8,174.0 56.8,175.9 56.9,175.8 56.8,174.7 56.5,175.2 56.7,175.4 57.5,175.7 57.5,175.1 57.7,175.3 59.1,175.7" fill="none" stroke="#d82020" stroke-width="0.35" stroke-opacity="0.9" stroke-linejoin="round"/>
<path d="M61.2,177.9 60.6,178.8 59.8,179.9 58.8,180.4 58.0,181.5 58.9,183.4 59.4,184.0 58.2,184.4 57.1,186.4 56.6,186.9 55.9,187.3 54.4,185.5 52.4,182.8 52.1,182.0 53.5,182.4 55.1,183.2 55.9,184.1 55.7,184.7 54.8,184.8 53.3,184.6 53.1,183.7 52.4,183.5 52.7,185.0 52.3,184.2 53.0,183.9 52.7,184.3 53.2,183.7 54.7,183.3 56.9,183.0 57.8,181.6 58.1,180.9 58.1,178.7 58.9,178.6 58.4,181.0 58.1,181.5 58.5,181.0" fill="none" stroke="#d82020" stroke-width="0.35" stroke-opacity="0.9" stroke-linejoin="round"/>
<path d="M61.2,177.9 60.4,178.6 59.9,178.7 59.7,177.7 60.8,178.0 60.2,178.0 59.4,178.6 58.9,180.7 58.8,182.5 58.9,182.7 58.3,183.5 57.6,184.1 55.7,184.5 54.7,185.7 53.4,185.5 52.4,184.2 52.3,183.5 52.1,182.1 51.9,181.9 51.2,182.6 52.1,182.6 52.4,184.0 52.3,185.2 51.5,185.8 50.7,185.5 50.7,183.9 51.1,183.0 50.5,183.5 50.5,183.7 50.7,183.3 50.7,181.5 52.7,180.5 54.3,180.0 56.3,178.5 56.8,177.2 57.4,176.2" fill="none" stroke="#d82020" stroke-width="0.35" stroke-opacity="0.9" stroke-linejoin="round"/>
<path d="M61.2,177.9 61.7,180.1 62.1,182.3 61.6,183.6 62.0,185.3 62.2,186.0 62.2,185.4 62.7,184.4 64.3,183.5 63.6,183.8 63.6,185.0 63.9,185.5 64.4,184.6 64.7,183.5 65.3,182.5 65.2,181.1 65.8,180.4 65.2,180.5 64.8,181.0 64.6,180.2 64.2,177.5 62.9,175.6 61.3,175.3 60.3,175.6 60.0,174.9 59.6,175.6 58.9,174.9 58.9,175.0 60.1,177.0 60.3,178.2 59.9,179.1 59.3,180.8 59.5,182.1 58.7,183.8 58.6,184.4 58.1,182.4" fill="none" stroke="#d82020" stroke-width="0.35" stroke-opacity="0.9" stroke-linejoin="round"/>
<path d="M61.2,177.9 60.8,178.1 61.4,177.8 61.1,178.2 61.8,178.5 61.3,179.2 60.7,180.5 60.4,181.4 60.3,182.5 59.5,183.9 58.8,183.7 58.4,182.7 58.7,182.0 58.9,181.1 58.5,180.2 58.4,179.0 58.4,178.6 59.4,177.5 59.9,176.7 60.6,176.0 61.0,176.2 60.4,177.2 59.9,178.0 61.1,178.2 62.2,177.8 63.1,176.8 63.3,174.9 63.5,174.3 63.9,174.0 63.5,173.6 60.7,173.5 60.3,174.7 59.9,175.1 59.5,176.4 60.6,177.8 60.6,178.6" fill="none" stroke="#d82020" stroke-width="0.35" stroke-opacity="0.9" stroke-linejoin="round"/>
<path d="M61.2,177.9 63.6,177.9 65.1,178.2 66.0,178.1 66.0,178.5 65.7,178.9 67.2,177.3 66.6,177.2 66.3,177.5 66.2,178.8 65.5,178.6 65.1,179.8 65.4,180.3 66.7,180.2 68.4,180.6 69.5,180.4 69.5,181.0 68.2,182.3 67.6,183.6 68.1,184.9 67.1,185.5 64.3,187.3 63.3,188.1 62.4,186.3 61.9,184.6 61.0,183.7 61.4,182.4 62.5,181.2 62.2,179.7 63.1,178.5 62.2,178.2 62.9,178.7 63.0,178.2 63.5,178.1 63.1,178.3 63.6,179.2" fill="none" stroke="#d82020" stroke-width="0.35" stroke-opacity="0.9" stroke-linejoin="round"/>
<path d="M61.2,177.9 60.8,178.3 60.8,178.3 60.9,177.0 61.1,176.2 61.4,176.8 61.8,177.3 62.6,178.1 62.9,177.9 63.2,177.6 63.3,177.7 62.8,177.3 62.4,178.8 61.8,180.1 61.0,181.2 59.7,181.8 59.3,181.8 58.2,181.4 57.6,180.9 57.3,179.9 56.7,180.7 57.7,182.7 58.2,183.4 58.2,184.4 58.2,184.8 57.5,186.0 57.3,185.2 57.3,184.7 56.8,183.4 56.5,183.0 56.6,182.4 57.1,182.1 56.3,182.6 55.6,182.2 55.3,182.1 55.0,181.9" fill="none" stroke="#d82020" stroke-width="0.35" stroke-opacity="0.9" stroke-linejoin="round"/>
<path d="M61.2,177.9 60.5,176.5 60.5,176.9 59.5,176.8 59.0,176.2 59.0,175.5 60.1,175.3 60.4,174.4 60.6,175.3 61.8,175.8 61.9,176.2 62.9,177.4 63.7,178.6 64.1,178.7 63.7,178.4 64.0,178.3 64.1,176.9 63.9,177.6 63.9,176.9 63.3,177.9 63.2,178.4 63.2,178.3 62.8,177.8 62.0,177.5 60.7,177.6 59.6,179.7 57.3,179.6 56.1,179.1 56.3,177.3 56.7,176.7 56.3,176.2 55.6,177.1 54.5,178.7 55.0,180.3 56.7,180.8 57.6,181.6" fill="none" stroke="#d82020" stroke-width="0.35" stroke-opacity="0.9" stroke-linejoin="round"/>
<path d="M61.2,177.9 61.1,178.2 61.7,178.3 62.2,176.2 63.1,176.2 63.5,177.8 63.9,178.1 63.5,181.0 63.9,180.7 63.2,182.2 63.0,182.9 62.4,180.8 62.1,179.4 62.0,179.2 61.5,180.4 60.8,181.2 60.9,182.7 61.1,184.2 61.5,185.5 61.2,187.0 61.0,186.3 60.0,186.4 59.6,184.9 60.0,182.5 60.6,181.3 61.4,181.1 61.6,179.9 61.9,179.7 63.3,179.8 63.5,181.0 63.9,179.9 62.8,180.6 61.6,180.7 60.2,181.4 58.6,182.1 57.9,182.1" fill="none" stroke="#d82020" stroke-width="0.35" stroke-opacity="0.9" stroke-linejoin="round"/>
<path d="M61.2,177.9 60.1,178.3 58.6,177.3 58.2,175.7 58.8,174.9 59.0,174.5 57.5,174.6 56.4,174.1 55.3,175.4 55.4,178.4 54.9,181.3 55.0,181.4 55.3,180.3 55.1,178.9 54.9,178.2 54.1,177.7 54.6,177.5 55.6,177.5 56.6,179.0 56.8,177.3 57.2,177.1 57.7,176.8 57.9,175.0 57.4,172.2 57.4,171.1 56.6,169.7 56.3,170.3 57.6,171.1 58.3,173.7 59.3,176.9 59.5,176.9 59.3,177.1 58.9,177.6 59.1,178.3 59.0,179.8 59.8,180.6" fill="none" stroke="#d82020" stroke-width="0.35" stroke-opacity="0.9" stroke-linejoin="round"/>
<path d="M61.2,177.9 60.3,176.6 60.0,176.1 58.6,175.6 57.1,174.8 56.7,176.4 55.3,178.2 54.5,177.6 54.5,178.2 54.8,178.2 54.5,178.1 54.6,178.1 54.4,177.2 55.2,176.7 57.0,177.4 57.7,178.2 58.2,178.5 59.4,178.0 59.3,178.2 59.9,179.0 59.7,179.9 60.0,180.4 61.8,181.0 62.9,181.3 63.5,182.0 64.2,181.9 65.8,182.4 66.1,181.8 67.2,182.2 67.5,182.2 66.3,181.9 64.9,181.5 64.4,183.0 64.5,183.4 66.0,183.5 65.9,184.5" fill="none" stroke="#d82020" stroke-width="0.35" stroke-opacity="0.9" stroke-linejoin="round"/>
<path d="M61.2,177.9 61.8,177.6 61.8,178.0 61.8,177.8 60.6,177.8 60.8,177.3 60.2,177.8 59.2,178.9 57.7,180.6 55.6,180.4 53.6,181.1 53.4,180.6 54.4,179.9 54.2,178.8 55.0,177.4 55.5,176.1 55.0,175.0 55.3,172.8 55.2,172.1 55.4,170.8 55.5,169.2 55.4,167.2 55.5,167.3 55.8,167.5 57.4,167.0 58.6,167.1 60.2,168.3 59.8,167.3 59.6,167.3 59.6,167.9 59.1,168.3 58.4,168.5 57.1,170.0 57.3,171.5 57.2,170.6 57.3,171.4" fill="none" stroke="#d82020" stroke-width="0.35" stroke-opacity="0.9" stroke-linejoin="round"/>
<path d="M61.2,177.9 61.2,176.9 59.7,176.8 59.2,175.8 59.2,175.7 59.4,176.0 60.4,174.5 61.2,173.9 61.6,172.4 62.2,171.4 63.3,170.2 63.7,169.8 64.3,169.7 64.6,169.9 65.7,169.4 66.9,168.9 66.7,169.1 64.9,167.7 63.3,167.3 61.5,165.7 61.7,165.6 62.0,166.1 61.0,168.1 61.0,169.0 61.9,169.9 62.9,169.6 62.6,169.6 62.4,170.5 62.4,171.8 62.0,172.0 60.8,172.1 60.7,173.0 60.7,174.7 59.6,175.7 60.2,177.6 60.3,177.8" fill="none" stroke="#d82020" stroke-width="0.35" stroke-opacity="0.9" stroke-linejoin="round"/>
<path d="M61.2,177.9 63.0,177.0 64.5,176.9 64.3,177.5 63.8,176.2 63.9,175.2 63.7,175.3 62.4,175.1 61.3,175.8 61.2,176.6 60.4,176.7 59.6,177.0 58.1,176.9 55.9,176.2 54.9,178.1 55.0,179.0 56.2,179.8 56.1,180.2 56.9,179.8 57.8,177.8 58.6,176.6 58.7,175.8 58.5,174.9 58.7,175.4 59.3,174.6 59.7,174.9 60.7,176.9 61.2,178.0 61.1,178.7 59.2,178.3 58.9,179.1 58.7,180.7 59.4,181.5 60.3,181.4 60.2,180.1 59.7,180.0" fill="none" stroke="#d82020" stroke-width="0.35" stroke-opacity="0.9" stroke-linejoin="round"/>
<path d="M61.2,177.9 60.5,179.1 60.3,180.2 61.1,179.9 61.2,179.5 61.2,178.4 63.0,177.1 63.5,177.8 63.6,179.7 64.4,182.5 63.7,184.8 61.6,184.7 61.2,183.4 60.6,182.8 60.0,183.2 60.5,182.0 60.8,181.3 62.1,180.4 63.8,179.7 65.5,179.1 65.7,179.6 65.3,179.5 64.2,177.9 65.1,178.2 65.5,179.2 65.9,180.8 66.6,182.4 67.0,183.5 66.6,184.8 66.9,186.4 66.2,187.4 66.4,187.8 66.1,187.1 66.6,186.2 66.6,184.3 66.6,182.0" fill="none" stroke="#d82020" stroke-width="0.35" stroke-opacity="0.9" stroke-linejoin="round"/>
<path d="M61.2,177.9 61.5,177.9 62.1,178.0 61.9,177.4 62.2,177.0 60.9,176.2 60.3,175.3 59.4,176.1 58.6,177.0 58.3,176.1 58.5,176.1 59.6,176.1 62.1,176.3 62.3,175.6 62.8,175.8 63.2,176.0 62.9,176.1 62.9,177.1 63.6,177.7 63.7,177.0 65.3,177.4 66.4,178.3 67.9,178.7 67.1,178.1 66.5,178.5 64.9,180.8 63.0,179.7 61.3,178.0 60.2,176.4 60.6,177.0 61.0,177.2 60.1,176.8 60.1,177.2 59.0,176.9 58.4,176.2 58.2,173.0" fill="none" stroke="#d82020" stroke-width="0.35" stroke-opacity="0.9" stroke-linejoin="round"/>
<path d="M61.2,177.9 60.4,177.7 59.2,177.1 59.6,178.1 59.9,179.7 59.6,179.9 60.3,180.5 59.7,181.5 59.4,180.6 60.1,181.4 60.6,181.3 61.0,179.9 60.8,179.7 60.5,179.8 61.2,179.4 62.0,179.6 62.0,180.6 61.5,181.2 62.5,181.4 62.4,182.5 62.2,181.9 62.5,181.8 64.1,179.6 64.1,179.7 65.1,179.8 64.8,180.3 64.7,181.3 63.4,181.4 63.9,181.6 63.3,181.6 63.3,181.4 63.5,179.1 63.7,178.6 63.4,178.6 62.0,178.9 60.7,180.3" fill="none" stroke="#d82020" stroke-width="0.35" stroke-opacity="0.9" stroke-linejoin="round"/>
<path d="M61.2,177.9 60.7,178.8 60.6,179.4 60.7,177.3 60.6,177.4 60.6,177.3 61.1,176.9 61.7,177.2 62.7,177.1 62.8,177.1 62.2,176.5 62.2,174.4 62.7,174.9 63.5,174.8 62.3,174.7 61.7,174.1 63.0,174.1 63.2,173.5 63.8,172.2 64.6,172.4 64.8,174.1 64.8,174.7 64.5,173.7 64.9,173.0 65.3,172.2 64.2,172.4 63.9,171.4 62.9,170.9 60.4,170.9 60.1,171.0 60.5,170.6 60.5,169.5 61.8,171.3 62.7,175.0 62.0,176.6 63.2,177.2" fill="none" stroke="#d82020" stroke-width="0.35" stroke-opacity="0.9" stroke-linejoin="round"/>
<path d="M61.6,177.8 61.8,178.2 62.5,178.1 63.2,177.8 62.8,178.2 63.0,178.8 62.3,178.4 61.6,178.0 61.7,179.0 62.1,179.5 62.0,179.1 62.3,179.4 62.2,180.0 61.9,180.8 60.8,181.0 60.3,180.5 60.0,180.3 59.7,179.5 60.0,178.8 60.6,178.4 60.8,178.3 61.0,178.3 61.0,177.7 61.0,177.0 60.9,177.4 60.5,177.8 61.0,178.2 61.1,178.5 60.7,179.3 60.1,180.4 60.1,180.9 60.0,180.9 60.8,181.2 61.5,182.4 61.6,182.0 61.6,183.3" fill="none" stroke="#c00808" stroke-width="0.45" stroke-opacity="1.0" stroke-linejoin="round"/>
<path d="M61.6,177.8 61.0,178.0 61.1,178.1 61.3,177.5 61.9,177.6 62.4,176.9 62.2,176.8 62.3,177.2 62.1,177.1 61.3,176.9 60.8,176.3 60.6,176.4 60.6,176.6 60.7,176.8 60.2,176.6 59.9,177.3 59.9,177.5 59.9,177.8 60.4,177.8 60.4,177.1 60.2,176.6 60.0,176.5 59.7,175.8 59.4,175.9 59.0,176.4 58.6,177.6 58.3,178.3 58.3,178.9 58.6,179.4 59.4,179.9 60.3,180.4 61.2,180.1 61.6,180.1 61.9,180.2 62.0,180.1 61.8,180.3" fill="none" stroke="#c00808" stroke-width="0.45" stroke-opacity="1.0" stroke-linejoin="round"/>
<path d="M61.6,177.8 61.4,177.8 60.7,177.6 60.5,176.5 60.7,176.6 60.9,176.3 60.7,177.2 59.8,179.3 59.0,179.6 58.4,180.1 58.3,179.8 58.3,179.4 58.0,178.9 57.7,177.6 58.2,176.8 57.7,176.3 57.3,176.1 56.9,175.3 57.3,175.7 58.3,176.7 58.8,177.0 58.4,177.5 58.3,178.9 58.6,180.0 58.9,180.1 59.0,181.4 59.3,181.4 60.3,181.4 60.9,181.2 61.1,181.9 61.2,181.6 61.3,180.6 61.5,179.9 61.6,179.6 62.0,179.0 62.1,178.7" fill="none" stroke="#c00808" stroke-width="0.45" stroke-opacity="1.0" stroke-linejoin="round"/>
<path d="M61.6,177.8 61.4,178.5 62.1,178.8 62.3,177.9 62.2,177.6 62.5,177.0 62.6,176.9 62.9,176.4 63.2,175.5 62.6,175.5 62.2,175.7 62.2,174.9 62.4,174.5 62.5,173.7 62.2,172.7 62.3,172.1 62.0,172.0 62.5,172.1 62.3,172.7 62.3,173.0 62.2,173.1 61.9,174.0 61.2,174.2 61.2,174.0 61.2,173.9 60.9,173.8 61.0,173.5 60.9,173.7 60.3,174.6 59.7,175.2 59.5,175.4 59.4,175.0 59.5,174.3 59.2,174.2 59.7,174.0 60.6,174.1" fill="none" stroke="#c00808" stroke-width="0.45" stroke-opacity="1.0" stroke-linejoin="round"/>
<path d="M61.6,177.8 61.5,178.3 61.0,179.2 60.5,180.2 60.3,181.0 60.6,181.2 61.6,181.3 61.7,181.1 61.9,180.7 61.8,180.3 61.7,180.0 62.0,179.4 61.4,178.9 60.9,178.1 60.2,177.6 59.9,176.7 60.1,175.8 60.2,175.3 60.0,173.9 59.8,173.4 60.2,172.9 60.9,173.8 61.2,174.9 61.3,175.7 62.0,176.3 61.9,177.1 60.8,177.1 60.8,177.7 60.8,177.6 61.0,177.4 61.2,177.5 61.3,177.3 62.1,177.6 62.3,178.5 61.3,178.7 61.2,179.0" fill="none" stroke="#c00808" stroke-width="0.45" stroke-opacity="1.0" stroke-linejoin="round"/>
<path d="M61.6,177.8 61.0,178.3 61.5,178.5 62.1,177.9 63.0,176.9 63.3,177.1 63.3,176.9 62.9,176.4 62.0,177.0 60.7,177.5 60.7,175.9 60.5,175.2 60.6,174.5 60.6,173.9 60.8,173.3 61.6,173.8 62.9,174.6 63.6,174.9 63.9,175.6 63.1,176.0 62.5,175.7 62.1,175.7 61.7,176.4 61.3,176.0 61.2,176.1 61.2,176.2 61.2,175.8 61.7,175.4 61.9,174.8 61.5,174.2 60.5,174.5 59.8,174.1 59.9,173.4 60.1,173.9 60.2,174.0 60.2,174.5" fill="none" stroke="#c00808" stroke-width="0.45" stroke-opacity="1.0" stroke-linejoin="round"/>
<path d="M61.6,177.8 61.6,178.3 61.9,178.6 62.1,178.2 61.9,178.5 62.3,179.0 61.0,180.0 59.1,180.5 57.8,181.1 56.8,181.0 56.5,180.6 56.7,180.2 56.8,180.4 56.5,180.7 57.3,181.3 57.4,181.8 58.0,181.9 58.6,182.0 59.5,182.4 60.5,181.9 61.9,181.3 62.7,181.3 62.4,181.2 62.0,182.1 62.0,182.2 62.6,181.5 63.2,181.0 63.9,180.4 64.0,180.2 64.4,179.1 64.9,178.9 65.1,179.0 65.3,179.4 65.2,178.6 64.9,178.4 64.7,178.3" fill="none" stroke="#c00808" stroke-width="0.45" stroke-opacity="1.0" stroke-linejoin="round"/>
<path d="M61.6,177.8 62.4,178.2 62.8,178.7 63.8,178.5 63.9,179.5 63.5,181.0 63.1,181.6 63.1,181.5 62.9,181.3 63.1,181.1 62.5,181.1 62.7,180.8 63.2,181.1 63.9,181.7 64.0,181.8 64.3,181.4 64.1,180.5 63.5,179.6 62.4,179.0 61.9,179.6 61.6,179.7 61.5,180.7 61.7,181.3 61.4,180.8 60.3,180.3 59.6,180.0 59.5,180.5 59.2,180.9 59.2,180.0 59.3,180.7 59.5,181.4 59.5,181.1 59.8,181.0 59.8,180.6 59.4,180.1 59.5,179.5" fill="none" stroke="#c00808" stroke-width="0.45" stroke-opacity="1.0" stroke-linejoin="round"/>
<path d="M61.6,177.8 62.0,177.5 61.8,177.4 62.3,177.2 62.7,176.9 63.0,176.7 62.9,177.4 63.0,178.0 63.5,179.2 64.4,179.8 64.8,179.6 64.3,179.6 63.1,180.1 62.6,180.9 61.7,181.6 61.4,181.8 60.6,182.0 60.7,181.5 61.1,181.6 61.1,181.5 60.4,180.1 60.1,179.7 60.0,179.5 59.6,178.1 58.7,178.3 57.9,178.1 57.6,178.9 57.6,179.4 57.4,178.6 57.4,177.7 57.8,177.5 58.1,177.6 57.4,178.6 57.1,179.2 57.1,179.0 57.2,179.7" fill="none" stroke="#c00808" stroke-width="0.45" stroke-opacity="1.0" stroke-linejoin="round"/>
<path d="M61.6,177.8 61.3,178.6 61.5,180.3 61.8,181.0 60.8,181.0 61.0,180.7 60.6,180.2 61.4,179.8 61.4,180.4 62.1,180.6 62.1,180.2 62.1,179.5 62.4,180.1 62.5,180.0 63.4,180.1 63.6,180.2 64.3,180.7 64.5,180.2 64.4,179.4 64.6,178.6 65.1,178.0 64.8,177.8 64.1,178.4 63.4,179.3 62.8,179.4 62.0,179.2 62.3,178.3 62.8,178.7 63.5,179.1 63.5,179.1 63.6,178.8 63.2,178.0 61.8,177.4 60.9,176.8 60.8,176.0 60.6,176.2" fill="none" stroke="#c00808" stroke-width="0.45" stroke-opacity="1.0" stroke-linejoin="round"/>
<path d="M61.6,177.8 62.5,177.1 63.6,176.9 63.6,177.0 64.0,177.2 64.2,178.0 64.7,178.7 64.4,179.4 64.1,180.4 64.0,181.0 64.3,180.7 64.0,179.9 63.3,178.8 63.0,179.1 62.7,180.5 61.8,181.4 61.9,181.8 62.6,181.7 62.8,181.0 62.4,180.7 62.5,180.9 62.3,180.6 62.3,180.5 62.2,179.0 61.7,178.2 61.8,178.2 61.8,178.1 61.8,178.1 62.3,178.2 62.9,177.4 63.2,177.3 63.5,177.1 62.8,176.9 62.5,176.9 62.0,176.3 61.8,176.4" fill="none" stroke="#c00808" stroke-width="0.45" stroke-opacity="1.0" stroke-linejoin="round"/>
<path d="M61.6,177.8 61.0,177.6 61.6,178.0 61.4,177.9 61.4,177.6 61.6,177.7 61.1,177.1 61.2,176.6 61.0,176.5 60.8,175.7 60.8,175.8 61.0,175.7 61.2,176.4 60.9,176.8 61.2,177.7 61.7,176.7 62.0,176.9 61.4,175.5 61.7,175.3 61.4,175.4 61.2,175.3 60.7,174.2 60.4,173.4 60.3,173.7 60.0,174.4 60.3,174.5 60.2,175.0 61.0,175.2 60.8,175.2 61.9,174.7 62.4,174.8 62.7,174.9 62.7,174.7 62.7,174.4 61.9,174.2 61.0,173.6" fill="none" stroke="#c00808" stroke-width="0.45" stroke-opacity="1.0" stroke-linejoin="round"/>
<path d="M61.6,177.8 60.9,178.0 60.4,177.2 60.2,177.4 60.4,179.1 61.4,179.3 61.5,179.4 62.0,179.1 62.0,178.7 61.9,178.2 61.1,177.4 60.3,177.2 60.2,176.8 60.4,176.4 60.4,176.3 60.5,175.5 60.4,174.6 59.7,174.3 59.4,174.3 58.9,174.9 59.2,176.1 59.8,177.1 60.0,177.4 59.3,178.0 58.9,178.6 59.0,178.6 59.1,179.2 59.1,178.1 58.8,177.4 58.3,177.5 58.3,177.6 58.6,178.0 59.0,178.4 59.4,177.9 60.1,177.1 60.6,177.3" fill="none" stroke="#c00808" stroke-width="0.45" stroke-opacity="1.0" stroke-linejoin="round"/>
<path d="M61.6,177.8 61.5,177.8 61.7,177.7 61.6,178.1 61.7,177.9 61.7,177.9 62.2,178.4 62.9,178.8 63.7,178.3 63.4,178.1 63.9,178.1 63.9,177.7 63.9,177.3 63.5,177.3 64.3,176.2 64.4,175.3 65.3,174.4 65.4,174.0 65.6,174.0 65.3,174.1 64.2,174.2 63.1,173.6 63.0,172.9 63.5,171.9 63.8,171.6 64.8,172.2 64.7,173.0 64.7,173.6 64.9,173.6 64.6,173.8 64.8,173.1 65.3,172.3 65.1,172.4 65.6,171.9 65.7,172.0 65.3,172.7" fill="none" stroke="#c00808" stroke-width="0.45" stroke-opacity="1.0" stroke-linejoin="round"/>
<path d="M61.6,177.8 61.4,177.7 61.7,178.1 62.3,177.8 63.0,178.1 63.2,178.1 62.0,178.3 62.0,179.3 62.4,179.5 62.1,180.4 61.4,181.7 61.3,182.1 61.7,182.5 62.0,182.6 63.2,182.6 63.2,182.0 63.2,182.2 63.8,182.7 63.3,183.3 62.6,183.6 62.5,183.4 62.3,182.7 62.3,181.9 62.6,182.5 62.6,182.9 63.2,183.4 64.3,184.4 64.9,183.8 65.1,182.4 65.6,181.9 65.5,181.2 64.8,180.9 64.2,181.2 64.6,180.6 64.1,179.4 64.3,178.9" fill="none" stroke="#c00808" stroke-width="0.45" stroke-opacity="1.0" stroke-linejoin="round"/>
<path d="M61.6,177.8 60.9,178.3 60.3,179.3 60.2,180.4 59.8,180.4 59.9,180.2 60.6,179.8 61.0,179.1 60.9,178.1 60.3,177.8 59.4,177.6 58.3,177.1 57.3,176.9 56.6,177.2 56.1,178.0 56.3,177.3 56.6,176.8 56.7,177.0 57.3,177.6 58.1,176.9 58.8,176.0 58.8,175.8 59.4,175.1 60.1,174.2 60.4,174.0 60.8,174.6 61.3,175.1 61.3,175.0 61.5,175.3 61.6,175.3 61.7,175.0 61.8,174.8 62.1,175.7 62.4,176.1 62.5,176.9 62.7,178.0" fill="none" stroke="#c00808" stroke-width="0.45" stroke-opacity="1.0" stroke-linejoin="round"/>
<path d="M61.6,177.8 61.9,177.9 62.0,178.5 61.7,179.2 61.2,179.4 61.2,180.0 60.9,180.6 61.1,180.4 61.0,180.5 61.5,180.5 61.3,180.7 61.6,181.1 61.5,181.3 62.1,181.4 62.8,181.6 62.6,181.3 62.2,181.5 61.3,181.0 60.9,180.7 60.7,179.9 59.7,179.6 59.6,178.6 59.3,178.4 59.4,178.4 59.2,178.9 59.1,179.3 59.5,179.8 60.5,179.8 61.2,179.4 61.6,179.2 62.4,179.3 62.4,180.1 62.3,180.4 62.1,180.6 61.0,180.2 60.1,179.4" fill="none" stroke="#c00808" stroke-width="0.45" stroke-opacity="1.0" stroke-linejoin="round"/>
<path d="M61.6,177.8 62.1,177.3 62.8,176.9 63.8,177.3 64.6,177.5 64.9,178.4 64.2,179.0 63.4,179.4 62.8,179.0 62.8,179.4 63.1,179.1 63.2,178.8 63.7,178.3 64.3,178.0 64.3,178.5 63.7,178.6 63.1,178.4 62.7,177.6 63.0,177.4 63.2,177.4 63.1,177.7 62.8,178.4 62.9,178.7 63.1,178.4 63.0,178.7 61.9,178.0 60.8,178.5 61.1,177.4 59.5,177.1 58.5,176.5 58.8,175.4 59.5,175.8 59.9,176.4 60.0,177.0 60.1,177.7 60.3,177.9" fill="none" stroke="#c00808" stroke-width="0.45" stroke-opacity="1.0" stroke-linejoin="round"/>
<path d="M61.6,177.8 61.6,178.4 62.0,178.6 62.0,177.5 62.0,177.2 61.7,176.9 61.4,177.1 61.2,177.5 61.4,177.8 61.4,178.6 60.9,178.5 60.5,179.2 60.3,179.6 60.3,178.9 60.1,179.3 60.2,178.9 59.6,179.2 59.5,179.8 59.0,180.5 59.6,181.5 59.3,182.4 58.7,182.8 59.0,182.4 58.8,181.7 58.7,180.8 58.5,180.7 58.5,180.7 59.7,180.6 60.4,179.9 60.6,179.7 60.2,179.5 60.1,178.7 59.5,178.7 59.7,178.0 60.0,178.0 60.8,178.6" fill="none" stroke="#c00808" stroke-width="0.45" stroke-opacity="1.0" stroke-linejoin="round"/>
<path d="M61.6,177.8 61.6,177.0 60.9,177.0 60.6,177.3 60.5,178.3 59.6,178.8 59.2,179.1 59.6,179.5 59.9,179.3 59.7,178.7 60.2,178.6 60.5,177.7 60.4,177.1 60.0,177.0 59.4,177.5 59.4,178.1 59.6,178.5 59.2,179.6 59.4,179.6 59.8,179.9 60.0,179.1 59.5,178.3 59.3,177.3 59.4,177.2 59.7,178.2 59.9,179.8 60.3,180.5 59.9,180.8 59.7,181.2 59.7,180.8 59.6,180.8 59.1,180.2 58.7,179.8 58.8,179.7 58.8,180.3 58.8,180.6" fill="none" stroke="#c00808" stroke-width="0.45" stroke-opacity="1.0" stroke-linejoin="round"/>
<path d="M61.6,177.8 61.6,177.8 61.5,177.8 61.0,177.4 60.8,176.7 61.1,177.1 60.8,177.6 61.0,178.6 60.8,178.4 61.1,178.8 61.1,178.1 61.0,177.6 60.5,177.5 59.6,177.9 59.5,177.3 58.8,177.7 58.7,177.3 59.1,176.8 59.5,176.9 60.2,176.2 60.2,176.2 60.4,175.9 60.7,175.6 61.5,176.4 62.5,176.4 63.2,177.4 64.3,178.5 64.1,179.1 64.0,179.3 63.4,180.1 62.5,180.0 62.6,179.8 63.0,180.1 63.5,179.7 63.7,179.2 64.8,179.1" fill="none" stroke="#c00808" stroke-width="0.45" stroke-opacity="1.0" stroke-linejoin="round"/>
<path d="M61.6,177.8 61.2,176.6 60.3,175.9 58.8,175.6 58.3,175.6 57.1,176.2 56.5,176.3 56.3,176.4 55.7,176.4 55.9,176.8 55.9,176.0 56.3,175.9 57.0,176.7 57.2,177.1 57.8,177.6 57.7,177.7 57.8,178.6 58.2,179.6 58.4,180.2 59.0,179.6 59.5,179.3 59.3,179.6 58.9,179.4 59.6,179.5 60.5,179.4 60.7,179.2 60.8,179.6 61.1,179.3 61.1,179.8 60.9,179.8 61.2,179.9 61.2,179.6 60.9,179.5 60.8,179.7 60.7,180.1 60.1,180.7" fill="none" stroke="#c00808" stroke-width="0.45" stroke-opacity="1.0" stroke-linejoin="round"/>
<path d="M60.0,181.0 57.0,184.0 55.0,187.0 53.2,189.0" fill="none" stroke="#c02020" stroke-width="0.4" stroke-opacity="1.0" stroke-linejoin="round"/>
<rect x="52.5" y="188.2" width="1.5" height="1.5" fill="#000"/>
<path d="M63.0,181.0 65.0,185.0 67.1,189.0" fill="none" stroke="#c02020" stroke-width="0.4" stroke-opacity="1.0" stroke-linejoin="round"/>
<rect x="66.3" y="188.2" width="1.5" height="1.5" fill="#000"/>
<path d="M60.0,177.0 56.0,176.5 51.9,176.5" fill="none" stroke="#355" stroke-width="0.45" stroke-opacity="1.0" stroke-linejoin="round"/>
<rect x="51.1" y="175.8" width="1.5" height="1.5" fill="#000"/>
<rect x="65.4" y="180.4" width="1.2" height="1.2" fill="#222"/>
<rect x="57.4" y="183.4" width="1.2" height="1.2" fill="#222"/>
<rect x="64.4" y="170.4" width="1.2" height="1.2" fill="#222"/>
<path d="M189.7,171.7 197.6,173.3 202.0,172.0 205.6,170.2 206.5,164.0 207.1,157.5 205.0,153.0 202.0,149.0 199.2,145.2" fill="none" stroke="#777" stroke-width="0.45" stroke-opacity="1.0" stroke-linejoin="round"/>
<rect x="198.4" y="144.4" width="1.5" height="1.5" fill="#000"/>
<path d="M191.3,168.6 194.0,166.0 197.6,163.8 202.0,161.0 205.0,159.0 207.1,157.5" fill="none" stroke="#888" stroke-width="0.45" stroke-opacity="1.0" stroke-linejoin="round"/>
<rect x="206.3" y="156.8" width="1.5" height="1.5" fill="#000"/>
<path d="M176.0,175.0 173.8,171.7 170.0,171.0 167.5,170.2 164.0,172.0 161.0,174.0 159.5,173.3 156.0,170.0 152.4,168.3" fill="none" stroke="#666" stroke-width="0.45" stroke-opacity="1.0" stroke-linejoin="round"/>
<rect x="151.7" y="167.6" width="1.5" height="1.5" fill="#000"/>
<path d="M172.0,180.0 167.5,182.1 164.0,183.0 161.9,184.4 159.0,188.0 157.1,191.6" fill="none" stroke="#777" stroke-width="0.45" stroke-opacity="1.0" stroke-linejoin="round"/>
<rect x="156.3" y="190.8" width="1.5" height="1.5" fill="#000"/>
<path d="M181.0,175.0 183.0,170.0 184.0,166.0 184.1,162.2" fill="none" stroke="#6a8a8a" stroke-width="0.45" stroke-opacity="1.0" stroke-linejoin="round"/>
<rect x="183.3" y="161.4" width="1.5" height="1.5" fill="#000"/>
<path d="M178.0,176.0 176.0,170.0 174.0,164.0 173.0,160.6" fill="none" stroke="#d05050" stroke-width="0.45" stroke-opacity="1.0" stroke-linejoin="round"/>
<rect x="172.2" y="159.8" width="1.5" height="1.5" fill="#c03030"/>
<path d="M184.0,176.0 188.0,173.0 190.0,169.0 188.0,167.0" fill="none" stroke="#d06060" stroke-width="0.4" stroke-opacity="1.0" stroke-linejoin="round"/>
<path d="M192.3,180.5 193.0,180.8 193.7,181.0 193.4,180.7 192.9,180.7 193.6,180.1 192.8,180.0 192.9,180.6 193.0,180.6 193.6,181.1 194.4,181.8 194.7,182.2 193.9,183.4 192.9,183.6 192.8,183.7 194.2,183.6 193.9,182.9 193.9,182.3 194.2,180.7 193.8,181.0 193.1,181.9 192.8,182.7 193.1,182.9 193.3,183.4 192.8,183.5 193.3,183.6 193.4,183.5 193.8,183.4 191.8,183.0 191.4,181.5 192.4,180.5 191.8,179.7 191.2,180.9 189.7,181.6 189.3,182.1 187.0,181.7" fill="none" stroke="#666" stroke-width="0.35" stroke-opacity="0.8" stroke-linejoin="round"/>
<path d="M192.3,180.5 191.8,180.7 189.6,181.7 188.8,182.8 188.4,182.8 187.8,182.7 187.9,182.4 188.7,182.6 189.3,181.5 190.5,180.7 191.9,180.8 192.5,180.1 192.4,179.2 190.6,178.6 189.0,178.9 186.2,179.3 185.9,179.2 185.2,179.4 185.9,180.0 185.8,179.9 185.6,179.9 186.8,179.4 188.3,179.2 188.7,177.9 188.7,177.3 188.7,177.1 189.2,177.6 189.1,177.5 189.8,178.0 190.2,177.9 190.5,177.9 190.6,178.0 190.5,177.8 191.8,177.1 192.4,177.0 193.9,178.3" fill="none" stroke="#666" stroke-width="0.35" stroke-opacity="0.8" stroke-linejoin="round"/>
<path d="M192.3,180.5 190.7,180.6 190.6,180.4 190.2,179.6 189.4,179.0 187.1,179.6 186.1,179.2 185.1,179.4 183.8,179.8 182.6,179.4 182.6,178.8 183.0,177.8 182.1,177.7 183.2,177.7 184.1,178.0 184.3,178.1 182.6,177.6 182.5,177.3 183.2,178.0 184.2,178.8 185.1,179.9 185.1,180.4 186.3,181.2 187.4,181.9 190.9,181.2 194.2,180.9 194.6,179.3 194.5,178.0 193.4,177.4 192.6,176.6 190.8,175.9 189.4,175.1 189.5,174.5 189.6,174.8 189.1,175.0 189.2,174.6" fill="none" stroke="#666" stroke-width="0.35" stroke-opacity="0.8" stroke-linejoin="round"/>
<path d="M192.3,180.5 192.9,180.9 192.2,180.2 191.8,179.6 191.6,178.5 191.6,177.3 192.7,176.7 191.1,176.5 189.2,176.1 188.1,174.8 187.8,174.0 187.7,174.3 186.9,173.8 187.5,173.6 188.5,172.9 190.1,173.6 191.2,174.1 191.9,174.0 192.0,174.1 192.4,173.5 193.0,174.1 193.9,174.0 194.0,174.6 194.1,175.0 195.2,175.4 195.4,176.1 194.0,176.7 193.3,177.6 193.1,178.0 191.5,177.9 190.2,178.7 190.0,179.2 190.7,178.9 190.3,178.8 190.7,178.2 189.6,178.4" fill="none" stroke="#666" stroke-width="0.35" stroke-opacity="0.8" stroke-linejoin="round"/>
<path d="M192.3,180.5 192.3,181.4 192.3,183.1 192.6,183.6 191.6,183.9 191.8,183.9 192.3,184.0 192.5,183.2 190.3,182.0 188.8,182.4 187.7,183.1 187.5,183.6 186.8,184.1 185.3,184.6 184.6,184.8 184.7,185.4 182.7,186.6 182.1,187.1 181.0,186.4 180.6,184.9 179.9,183.7 181.7,183.3 185.0,182.4 187.7,182.0 188.5,182.4 188.1,182.6 188.4,182.4 188.5,182.6 188.6,183.2 188.6,183.7 188.7,183.0 189.4,182.5 188.0,182.0 186.8,181.2 187.8,180.5 189.3,179.7" fill="none" stroke="#666" stroke-width="0.35" stroke-opacity="0.8" stroke-linejoin="round"/>
<path d="M192.3,180.5 192.6,181.2 191.4,181.6 190.7,180.8 190.4,180.8 189.9,181.5 188.8,182.0 187.1,182.0 187.7,181.8 188.7,181.5 189.4,181.6 190.5,181.3 190.8,179.9 191.4,179.0 190.4,178.7 191.2,179.4 191.6,179.6 192.2,180.1 192.3,180.1 191.1,180.4 189.5,181.6 189.1,183.0 189.0,184.2 189.1,184.4 188.9,184.1 189.3,184.2 190.0,183.6 191.3,182.7 191.8,180.7 192.9,179.3 193.7,179.2 193.1,178.4 194.5,177.6 195.2,178.3 195.7,179.9 195.1,181.0" fill="none" stroke="#666" stroke-width="0.35" stroke-opacity="0.8" stroke-linejoin="round"/>
<path d="M192.3,180.5 193.3,179.7 193.9,180.0 195.3,180.0 198.3,180.3 199.2,180.7 199.5,180.8 199.6,181.4 200.0,181.4 200.5,181.2 200.8,180.5 200.3,179.8 197.8,179.1 196.8,179.1 195.9,179.9 195.0,180.1 193.8,181.6 193.5,183.1 192.5,184.4 191.2,186.1 190.7,186.1 191.6,185.4 192.8,184.1 194.4,181.9 195.7,181.6 194.2,180.7 194.5,179.2 194.2,179.1 192.4,179.3 191.0,178.9 190.3,179.8 189.9,179.5 189.1,179.8 189.2,180.4 189.6,179.2 190.0,178.2" fill="none" stroke="#666" stroke-width="0.35" stroke-opacity="0.8" stroke-linejoin="round"/>
<path d="M192.3,180.5 193.4,180.7 192.6,179.7 193.7,179.9 194.2,179.4 194.1,178.4 193.9,177.6 193.3,176.1 192.1,175.1 189.9,174.4 189.0,173.6 187.5,172.7 187.7,171.6 188.5,171.2 189.3,171.4 189.2,170.9 189.5,170.9 188.3,172.5 187.5,172.4 187.7,173.3 188.3,173.3 187.0,173.6 186.5,173.7 185.9,172.7 185.4,174.2 185.1,176.3 185.7,178.9 187.4,179.4 188.4,179.3 189.1,179.5 188.3,179.6 188.2,179.2 189.6,178.5 189.1,178.0 187.8,177.8 188.0,177.2" fill="none" stroke="#666" stroke-width="0.35" stroke-opacity="0.8" stroke-linejoin="round"/>
<path d="M192.3,180.5 193.4,179.8 194.3,179.2 195.7,179.8 196.0,180.2 197.1,180.2 198.0,180.7 197.4,180.8 196.4,181.3 195.9,181.0 196.4,180.9 196.8,181.0 197.5,181.2 197.3,182.4 197.0,182.8 197.2,183.1 196.1,184.0 195.5,184.6 195.2,185.0 196.0,184.6 197.9,184.8 197.6,183.2 197.7,182.7 197.4,183.5 196.9,184.3 195.9,185.4 195.5,185.3 196.0,184.5 196.7,183.7 196.5,182.9 195.8,183.0 197.5,182.5 198.2,182.0 199.9,181.7 200.2,181.0 201.1,180.6" fill="none" stroke="#666" stroke-width="0.35" stroke-opacity="0.8" stroke-linejoin="round"/>
<path d="M192.3,180.5 192.5,179.8 192.0,179.2 192.3,177.6 193.7,176.6 193.7,176.5 193.9,177.7 193.5,179.2 192.8,179.9 192.2,179.3 193.4,178.6 195.1,176.7 195.4,176.6 195.3,175.8 194.6,175.4 193.4,174.9 192.6,174.3 191.0,174.4 190.4,175.6 189.3,175.6 188.5,175.2 188.6,174.6 187.7,176.1 187.5,176.8 187.9,178.2 187.7,179.3 188.2,180.1 187.3,179.8 186.3,180.7 185.0,180.8 184.7,180.4 185.5,180.1 186.3,180.6 189.3,181.4 190.8,181.3 192.6,181.3" fill="none" stroke="#666" stroke-width="0.35" stroke-opacity="0.8" stroke-linejoin="round"/>
<path d="M192.3,180.5 193.2,179.3 192.2,178.8 191.4,178.1 189.5,178.8 188.4,179.6 188.3,179.3 188.6,180.5 189.7,181.0 190.8,181.4 192.0,182.0 192.1,183.4 192.7,182.8 192.6,182.1 191.6,182.3 191.1,181.6 190.7,180.8 190.8,180.7 190.1,179.9 190.2,180.5 190.0,180.8 190.2,180.7 190.3,180.3 190.6,180.6 190.5,180.7 191.8,180.1 191.3,179.6 191.1,179.6 192.7,179.2 193.3,178.4 193.1,178.4 191.6,178.5 192.0,177.8 191.3,179.1 191.8,178.8 191.7,179.1" fill="none" stroke="#666" stroke-width="0.35" stroke-opacity="0.8" stroke-linejoin="round"/>
<path d="M192.3,180.5 191.9,180.5 192.0,180.3 190.7,179.7 190.7,179.7 191.3,179.5 192.7,180.6 193.9,181.8 193.8,182.0 193.8,182.2 193.1,182.3 192.4,181.6 193.5,181.3 195.1,180.0 194.7,179.8 195.1,178.8 195.7,178.8 195.7,179.4 196.5,180.2 195.9,180.4 195.0,179.8 195.0,180.1 195.8,181.0 195.9,181.1 197.2,181.7 197.7,182.3 198.2,182.9 197.4,181.8 198.4,182.1 197.4,181.6 196.1,181.2 195.0,182.4 194.6,183.9 194.9,183.2 195.0,181.9 196.0,180.5" fill="none" stroke="#666" stroke-width="0.35" stroke-opacity="0.8" stroke-linejoin="round"/>
<path d="M178.4,176.7 179.6,176.2 181.3,177.8 181.7,178.4 181.4,180.3 180.4,180.8 180.5,181.1 181.6,177.7 181.9,176.3 183.9,176.4 185.0,174.2 183.6,173.1 181.8,173.0 180.8,172.9 181.5,172.0 179.4,171.6 179.2,172.0 178.0,172.8 176.9,172.4 177.3,173.2 175.2,171.4 175.0,171.0 173.8,174.0 172.9,174.9 173.6,174.6 173.2,173.3 173.8,174.1 174.1,173.2 174.6,173.0 175.3,172.7 176.9,172.2 174.8,172.1 175.2,172.5 175.2,172.5 175.5,171.0 174.4,170.6" fill="none" stroke="#e47070" stroke-width="0.35" stroke-opacity="0.8" stroke-linejoin="round"/>
<path d="M178.4,176.7 178.2,176.2 177.2,177.3 175.0,178.4 174.9,178.7 173.3,177.4 172.0,176.5 170.9,176.9 169.3,176.8 169.1,177.4 169.9,178.1 170.2,177.5 169.7,177.1 170.9,178.9 172.2,179.0 173.3,179.9 175.3,178.9 175.3,177.3 174.5,176.4 174.0,177.5 172.0,179.1 171.6,179.8 172.0,179.5 172.8,179.3 175.0,180.8 176.4,181.0 178.9,181.1 180.8,182.0 181.6,183.2 182.7,182.9 182.7,182.0 183.1,183.4 182.7,181.8 182.9,182.0 181.3,183.0 180.8,182.9" fill="none" stroke="#e47070" stroke-width="0.35" stroke-opacity="0.8" stroke-linejoin="round"/>
<path d="M178.4,176.7 177.9,177.0 178.9,177.2 180.1,176.1 179.1,175.4 178.2,174.6 178.7,174.2 177.8,173.7 176.4,173.1 176.6,171.4 175.2,170.9 173.5,169.8 173.9,168.2 174.0,166.2 172.9,167.5 170.6,169.4 168.9,170.8 167.1,170.1 165.8,168.8 166.5,167.9 166.1,169.8 164.3,172.3 164.2,173.3 163.7,172.2 163.7,172.0 163.3,172.3 166.1,174.4 167.2,175.7 169.7,176.3 172.4,176.1 173.1,175.3 173.5,175.6 171.8,173.8 171.3,174.1 171.9,174.8 172.6,176.1" fill="none" stroke="#e47070" stroke-width="0.35" stroke-opacity="0.8" stroke-linejoin="round"/>
<path d="M178.4,176.7 179.4,175.3 181.0,175.8 180.1,173.5 179.7,170.6 180.5,170.0 180.6,170.4 180.3,171.6 181.4,170.9 182.5,170.7 183.3,171.6 184.5,171.6 183.9,171.8 181.8,170.3 179.3,169.6 177.5,171.0 177.0,170.6 177.9,168.8 179.2,169.3 177.9,169.6 178.2,169.4 179.7,169.7 180.0,169.3 178.3,169.2 177.0,167.5 175.3,167.4 173.0,168.5 172.6,168.7 173.4,169.1 173.2,169.1 173.9,167.1 174.7,167.6 174.7,168.0 175.6,170.2 177.0,170.2 178.0,171.4" fill="none" stroke="#e47070" stroke-width="0.35" stroke-opacity="0.8" stroke-linejoin="round"/>
<path d="M178.4,176.7 177.5,176.4 176.6,176.8 176.0,178.0 174.3,179.3 173.3,179.7 170.7,180.2 170.1,179.7 171.0,178.4 172.5,176.4 171.2,176.9 170.4,178.6 171.0,177.7 170.5,177.1 171.9,177.8 173.0,176.8 173.5,174.4 171.6,171.9 171.1,173.5 169.8,176.5 168.7,178.1 168.3,178.2 168.6,176.8 168.5,175.3 170.2,175.5 170.9,176.3 170.8,176.7 171.5,178.7 171.7,179.1 171.1,179.1 171.1,179.2 173.6,180.2 176.4,179.6 176.7,181.6 175.1,183.7 173.8,185.1" fill="none" stroke="#e47070" stroke-width="0.35" stroke-opacity="0.8" stroke-linejoin="round"/>
<path d="M178.4,176.7 178.5,176.7 178.1,176.1 178.7,176.2 179.7,177.7 179.6,179.4 179.1,181.7 178.7,182.6 180.9,180.7 184.5,179.7 187.8,177.5 187.9,175.7 190.8,174.9 192.6,174.3 192.5,174.5 191.1,175.6 189.8,175.3 186.9,172.9 185.5,171.7 185.0,170.5 183.5,170.2 183.4,171.9 183.2,172.0 182.7,172.5 183.4,172.5 184.2,172.7 183.9,174.5 182.6,174.3 183.2,175.9 182.1,176.5 181.2,176.8 180.8,177.4 180.2,177.7 179.1,178.3 178.3,179.7 178.5,179.1" fill="none" stroke="#e47070" stroke-width="0.35" stroke-opacity="0.8" stroke-linejoin="round"/>
<path d="M178.4,176.7 177.5,175.6 176.4,173.8 174.7,172.8 174.8,173.0 173.5,175.0 172.1,176.1 171.7,174.6 172.3,173.8 174.2,174.0 174.7,174.8 174.2,175.5 174.1,175.0 175.1,174.8 175.5,174.3 175.7,176.0 176.0,175.7 177.2,175.2 176.7,175.5 177.9,177.5 178.6,177.3 179.6,177.6 179.0,179.7 179.5,179.3 180.4,178.6 178.9,176.6 178.2,174.3 179.1,173.5 180.2,172.0 180.3,170.1 181.2,169.9 183.4,170.5 184.8,171.2 184.5,171.0 183.4,172.6 183.1,173.1" fill="none" stroke="#e47070" stroke-width="0.35" stroke-opacity="0.8" stroke-linejoin="round"/>
<path d="M178.4,176.7 177.0,177.3 177.6,178.7 177.5,179.4 175.8,179.4 174.3,177.4 173.6,175.3 174.5,174.7 174.5,173.9 175.2,174.0 174.6,173.6 176.2,173.3 176.0,174.0 175.5,176.2 174.3,178.3 174.1,178.3 174.2,177.8 173.5,178.5 173.9,177.0 175.6,177.7 177.2,177.7 177.6,178.3 180.0,177.8 180.8,178.9 180.8,179.6 181.8,180.1 181.0,177.8 179.7,177.3 178.6,176.1 177.6,174.1 176.6,171.5 175.3,172.1 175.9,172.1 177.4,172.5 175.9,172.3 174.7,172.6" fill="none" stroke="#e47070" stroke-width="0.35" stroke-opacity="0.8" stroke-linejoin="round"/>
<path d="M178.4,176.7 177.8,174.8 178.4,175.6 178.6,174.6 177.0,172.5 176.2,172.7 175.2,172.9 175.2,172.8 174.6,172.8 176.0,171.4 176.8,172.1 177.1,171.8 179.9,172.7 180.3,175.1 179.3,175.7 179.1,176.3 180.2,176.4 181.7,177.5 181.7,177.4 181.9,177.8 180.7,177.6 180.8,177.7 180.4,175.6 180.1,174.4 179.7,175.5 180.5,176.6 178.7,177.8 177.3,176.4 178.5,176.5 179.9,175.8 182.3,175.2 181.9,175.0 179.6,175.3 179.0,175.1 180.2,177.0 181.6,178.4" fill="none" stroke="#e47070" stroke-width="0.35" stroke-opacity="0.8" stroke-linejoin="round"/>
<path d="M178.4,176.7 178.5,175.3 177.6,175.4 177.6,177.4 177.2,176.6 177.5,176.5 179.4,176.0 179.6,177.8 179.9,180.0 179.3,179.0 180.2,179.2 179.3,179.2 180.9,177.7 184.0,177.6 185.1,177.1 186.2,176.7 185.2,176.6 182.1,177.9 179.7,178.8 177.1,179.2 175.9,177.8 175.5,177.4 177.4,175.4 179.7,175.0 180.9,175.1 181.9,176.6 183.1,177.9 184.5,179.4 187.4,180.4 187.6,180.0 186.4,179.2 184.4,177.3 185.2,177.3 184.6,176.3 185.8,175.3 186.8,175.3" fill="none" stroke="#e47070" stroke-width="0.35" stroke-opacity="0.8" stroke-linejoin="round"/>
<path d="M178.4,176.7 178.6,175.0 178.3,173.7 178.6,171.4 180.0,170.3 182.1,169.2 180.9,168.5 182.0,169.6 180.6,169.5 179.8,168.5 180.1,167.1 181.0,164.0 181.5,161.8 182.5,162.1 182.4,162.5 182.1,161.5 180.8,160.2 178.4,161.4 176.7,164.7 175.5,168.2 174.1,170.3 172.8,172.4 173.8,175.2 174.1,176.1 174.5,174.9 175.2,175.2 173.9,175.3 174.9,176.6 176.6,176.2 178.9,173.5 180.2,171.3 181.7,172.2 183.3,172.5 184.9,172.0 185.1,176.0 184.9,177.7" fill="none" stroke="#e47070" stroke-width="0.35" stroke-opacity="0.8" stroke-linejoin="round"/>
<path d="M178.4,176.7 178.2,176.2 175.8,177.9 176.8,177.0 177.6,176.5 177.9,176.1 178.8,176.4 179.5,176.0 177.9,173.3 176.0,172.4 175.2,170.2 174.0,169.2 172.9,169.2 170.7,168.9 169.8,168.0 171.4,167.8 172.1,166.8 173.9,167.8 174.1,169.9 173.5,171.2 175.0,172.1 177.8,172.7 179.6,172.6 181.1,172.6 180.8,172.0 182.0,170.7 180.6,170.2 179.6,170.8 178.7,171.2 177.6,170.4 177.4,171.8 175.6,173.6 174.1,175.8 174.2,176.3 174.9,176.0 176.2,177.0" fill="none" stroke="#e47070" stroke-width="0.35" stroke-opacity="0.8" stroke-linejoin="round"/>
<path d="M178.4,176.7 177.9,176.6 178.9,177.6 178.4,176.8 178.0,175.6 176.7,174.4 177.8,174.5 177.9,174.7 176.8,174.7 176.5,173.5 177.4,175.0 177.0,174.9 177.2,174.9 176.6,175.7 177.6,176.7 179.0,177.2 179.9,179.0 178.8,181.0 178.5,182.5 178.6,180.0 178.0,181.2 177.4,182.2 177.8,180.7 177.1,179.0 177.9,177.9 177.6,175.9 176.2,176.0 174.6,174.3 174.1,174.4 174.7,174.9 174.9,174.6 173.4,176.2 172.8,179.2 172.1,179.6 171.6,179.7 172.5,179.6" fill="none" stroke="#e47070" stroke-width="0.35" stroke-opacity="0.8" stroke-linejoin="round"/>
<path d="M178.4,176.7 177.7,177.4 177.0,177.8 175.6,177.2 174.7,178.3 174.6,178.9 174.6,179.6 174.8,179.4 175.5,180.2 177.6,179.3 179.7,181.1 181.8,181.1 183.1,181.9 183.0,181.8 183.5,181.4 184.1,182.8 182.7,184.7 182.1,184.8 181.3,184.9 180.9,186.3 180.6,186.1 180.6,184.8 181.4,182.9 179.7,182.3 177.9,180.9 175.4,181.1 173.9,180.3 173.3,178.1 173.2,178.6 173.5,178.6 174.4,178.3 175.9,178.3 176.9,177.2 177.7,178.4 177.7,177.8 179.7,177.4" fill="none" stroke="#e47070" stroke-width="0.35" stroke-opacity="0.8" stroke-linejoin="round"/>
<path d="M178.4,176.7 178.0,177.3 178.0,177.3 179.3,180.2 179.2,181.5 179.6,180.8 178.9,180.8 176.7,180.4 175.7,181.5 175.8,182.5 174.5,185.1 176.8,188.9 178.5,190.9 179.2,190.6 181.5,188.7 181.6,188.4 182.1,186.1 182.4,183.2 183.1,179.5 183.6,179.2 184.5,178.8 184.2,178.8 182.0,179.2 180.3,179.0 179.0,176.0 177.3,175.3 175.7,176.1 176.6,176.1 177.3,176.7 177.5,177.8 178.0,177.7 177.4,175.5 177.9,175.6 179.7,174.9 179.2,173.6 178.2,173.8" fill="none" stroke="#e47070" stroke-width="0.35" stroke-opacity="0.8" stroke-linejoin="round"/>
<path d="M178.4,176.7 177.8,174.7 178.3,172.8 176.1,173.1 177.6,172.4 180.5,172.0 184.1,172.5 186.7,171.8 187.8,172.6 188.6,171.4 188.0,171.4 187.8,170.2 186.5,171.2 187.6,173.7 190.5,174.6 190.8,176.3 191.4,178.9 190.8,181.0 187.1,180.7 184.8,181.2 183.1,181.1 181.3,180.1 178.8,181.2 177.4,179.3 174.2,177.4 171.1,176.1 169.4,175.5 167.7,175.2 167.2,177.2 169.9,176.7 172.3,176.0 172.5,176.5 172.4,176.9 172.1,176.5 173.1,176.3 173.1,177.6" fill="none" stroke="#e47070" stroke-width="0.35" stroke-opacity="0.8" stroke-linejoin="round"/>
<path d="M178.4,176.7 177.1,177.9 177.8,176.9 176.8,176.8 177.8,177.2 178.5,178.6 177.4,178.3 176.7,177.8 176.4,178.6 176.9,179.1 177.9,178.5 178.1,176.8 177.6,175.4 176.8,175.7 176.6,174.5 176.5,174.7 176.5,176.7 176.9,178.1 176.9,179.3 177.1,180.9 178.2,181.2 178.3,180.5 178.5,180.4 179.1,179.4 179.4,179.7 178.6,180.7 178.6,179.8 178.2,178.3 177.1,177.3 177.5,178.0 176.7,177.7 176.3,177.0 176.4,178.5 174.5,178.7 173.2,181.0 174.6,181.7" fill="none" stroke="#e47070" stroke-width="0.35" stroke-opacity="0.8" stroke-linejoin="round"/>
<path d="M178.4,176.7 179.0,177.2 179.6,176.1 179.7,176.4 179.9,176.2 178.7,175.5 178.3,174.5 177.9,173.4 176.3,171.6 174.9,170.3 174.4,170.3 174.5,169.9 177.1,169.2 178.0,170.5 179.5,172.0 178.4,171.6 177.5,170.9 176.9,171.4 175.6,169.6 174.6,168.4 175.2,167.8 175.0,167.0 176.4,168.1 177.0,168.1 176.8,168.3 176.3,169.9 176.6,170.1 176.9,171.5 176.7,173.0 176.3,173.8 176.0,172.9 176.3,174.0 177.6,175.6 177.2,175.4 176.2,174.5 175.3,174.4" fill="none" stroke="#e47070" stroke-width="0.35" stroke-opacity="0.8" stroke-linejoin="round"/>
<path d="M178.4,176.7 179.3,177.2 179.0,176.6 180.8,176.7 182.1,178.4 181.7,178.3 181.3,178.8 182.4,177.4 182.9,177.6 183.3,178.6 183.2,179.4 182.6,177.4 181.5,175.7 180.1,174.8 178.3,174.0 178.2,175.9 176.4,176.7 175.5,176.1 174.4,174.9 173.7,174.0 172.9,172.6 172.5,172.2 172.0,171.1 173.5,171.7 174.0,172.0 174.8,172.8 174.1,173.5 172.6,173.6 171.9,173.7 172.5,171.1 173.6,170.5 173.1,171.0 172.9,170.8 171.8,170.1 170.0,168.8 168.2,169.6" fill="none" stroke="#e47070" stroke-width="0.35" stroke-opacity="0.8" stroke-linejoin="round"/>
<path d="M178.4,176.7 177.5,175.3 177.1,174.5 176.8,174.2 177.5,174.3 178.2,175.0 178.0,178.3 178.0,176.3 177.4,177.0 177.7,176.5 176.5,177.6 174.7,177.8 174.9,178.6 176.2,179.5 175.8,176.5 176.6,173.0 175.8,171.7 173.9,171.0 172.2,169.3 171.6,168.9 173.0,168.0 175.1,169.6 177.5,169.2 179.4,165.6 181.5,163.3 182.0,163.9 182.2,164.5 180.0,165.1 177.7,168.4 177.5,169.3 176.4,170.1 175.8,169.6 176.8,168.6 176.9,167.9 176.1,168.0 175.5,168.6" fill="none" stroke="#e47070" stroke-width="0.35" stroke-opacity="0.8" stroke-linejoin="round"/>
<path d="M178.4,176.7 177.8,176.8 176.0,176.0 177.1,176.6 177.2,178.4 176.0,178.5 175.5,179.8 174.1,180.3 173.9,181.3 174.7,181.0 175.0,180.2 176.0,180.1 174.3,178.2 174.0,177.5 173.4,175.6 174.7,174.5 175.0,175.0 175.1,175.9 175.1,177.3 175.7,177.8 177.0,177.4 178.7,175.1 179.0,175.1 180.4,176.4 180.8,176.3 179.2,174.2 178.9,174.0 176.2,174.5 175.1,175.2 172.8,176.7 170.9,175.0 172.8,174.6 174.0,174.3 174.0,174.6 175.6,176.0 175.6,176.2" fill="none" stroke="#e47070" stroke-width="0.35" stroke-opacity="0.8" stroke-linejoin="round"/>
<path d="M178.4,176.7 177.3,177.1 176.5,176.5 176.4,175.6 176.1,174.5 176.7,175.6 176.1,177.3 175.2,180.1 173.3,181.7 173.1,182.9 171.6,181.7 171.3,182.1 170.5,182.7 169.4,182.5 169.7,181.4 172.0,179.2 173.0,179.5 173.2,178.7 172.8,178.2 172.4,177.8 172.4,175.7 173.0,175.8 172.6,176.6 174.9,175.1 174.6,175.6 175.0,175.7 176.5,173.7 177.9,173.2 178.5,172.9 179.3,172.2 179.4,171.2 177.9,171.1 176.8,171.7 176.0,172.0 174.9,173.2 174.5,173.1" fill="none" stroke="#e47070" stroke-width="0.35" stroke-opacity="0.8" stroke-linejoin="round"/>
<path d="M178.4,176.7 176.8,177.4 176.5,177.5 175.7,176.2 176.4,174.0 176.7,173.7 177.8,173.9 176.6,172.0 177.3,173.3 178.1,175.6 178.0,177.2 177.4,176.5 178.1,176.5 178.2,176.2 177.5,174.7 178.6,172.4 180.3,170.9 180.5,170.0 179.4,169.2 179.4,169.8 178.4,169.9 178.2,170.4 179.0,171.9 178.7,172.3 177.4,171.3 176.4,171.0 177.0,173.5 178.4,176.4 178.5,179.3 179.2,180.3 178.7,180.6 178.3,181.1 177.1,179.9 176.0,179.1 175.1,178.9 176.6,178.0" fill="none" stroke="#e47070" stroke-width="0.35" stroke-opacity="0.8" stroke-linejoin="round"/>
<path d="M178.4,176.7 177.7,177.1 177.1,177.0 178.1,176.2 180.1,175.7 182.5,175.4 184.2,174.6 185.1,175.9 185.5,176.4 185.0,178.9 184.9,182.4 184.2,184.5 182.8,183.5 180.9,180.7 179.9,179.2 179.0,179.0 176.4,180.4 177.9,180.7 178.7,179.4 177.7,176.9 178.2,177.0 177.8,177.5 178.3,177.1 179.4,176.8 179.1,177.1 178.5,177.9 178.3,176.2 175.9,175.5 175.9,178.1 176.8,180.6 178.4,180.8 179.5,183.4 181.3,185.0 182.2,187.0 182.9,187.9 184.0,187.5" fill="none" stroke="#e47070" stroke-width="0.35" stroke-opacity="0.8" stroke-linejoin="round"/>
<path d="M178.7,178.1 178.1,177.9 177.8,177.8 178.6,176.9 179.0,177.2 178.3,177.7 177.7,177.7 178.1,177.0 177.9,176.8 178.2,177.0 179.2,178.0 179.7,178.4 179.5,178.8 178.6,179.1 178.0,179.5 177.8,179.4 179.0,179.7 179.5,179.5 179.6,179.1 179.1,179.3 178.4,179.8 178.6,180.5 178.3,180.6 177.9,180.4 177.5,180.3 177.4,181.0 177.5,181.3 176.9,180.2 176.7,179.7 176.2,179.1 176.7,178.7 177.0,179.1 177.2,178.8 176.5,179.3 175.6,179.7 175.0,180.0" fill="none" stroke="#a81010" stroke-width="0.4" stroke-opacity="0.95" stroke-linejoin="round"/>
<path d="M178.7,178.1 178.0,178.5 178.8,179.7 178.8,180.3 177.9,179.9 177.9,180.0 178.0,180.2 177.2,179.8 177.9,179.4 178.2,178.6 177.7,177.4 176.8,177.4 176.5,177.3 175.7,177.1 175.3,177.1 175.2,178.0 175.7,178.6 175.6,179.1 175.9,179.2 176.3,178.8 177.1,178.5 177.3,178.1 176.7,177.7 176.9,177.3 177.4,178.5 177.2,179.4 176.4,180.0 176.9,180.0 177.3,179.9 177.8,179.3 178.8,177.9 179.9,176.7 180.1,176.5 180.4,176.5 179.1,176.5 178.2,175.8" fill="none" stroke="#a81010" stroke-width="0.4" stroke-opacity="0.95" stroke-linejoin="round"/>
<path d="M178.7,178.1 177.9,178.6 177.5,179.1 177.4,179.4 177.2,179.0 177.0,179.3 176.9,179.4 177.1,179.1 177.2,179.0 177.1,178.8 177.5,179.3 177.3,180.5 177.0,180.4 177.1,180.2 177.5,179.9 178.0,179.9 178.1,180.0 177.9,179.9 178.0,180.0 178.5,179.9 179.2,180.5 179.8,181.4 180.1,181.6 180.1,181.4 180.7,181.3 180.5,181.8 181.1,181.2 181.3,181.1 182.4,181.8 182.2,182.4 182.3,183.0 182.7,183.0 182.7,183.1 182.2,183.0 181.8,182.5 181.4,182.1" fill="none" stroke="#a81010" stroke-width="0.4" stroke-opacity="0.95" stroke-linejoin="round"/>
<path d="M178.7,178.1 179.0,177.9 179.2,178.0 179.0,177.7 178.7,177.6 179.2,177.6 179.3,178.2 178.6,178.8 178.3,180.0 177.6,180.3 177.8,180.7 179.1,180.4 180.1,180.4 180.3,179.7 180.3,178.7 180.1,177.7 180.3,176.9 180.7,176.8 181.3,176.7 181.4,177.2 181.4,177.1 181.3,177.3 180.6,176.9 180.4,177.7 179.4,178.5 178.0,179.2 177.7,179.1 177.6,179.0 177.1,179.7 176.8,179.6 176.6,178.9 176.2,178.0 175.9,177.6 176.9,176.3 177.6,175.2 178.1,174.9" fill="none" stroke="#a81010" stroke-width="0.4" stroke-opacity="0.95" stroke-linejoin="round"/>
<path d="M178.7,178.1 178.5,178.9 179.0,179.0 180.0,178.9 180.4,179.4 180.8,180.4 181.5,181.5 180.5,181.3 179.8,181.3 180.0,181.2 180.0,182.2 179.4,180.9 179.8,180.4 179.8,180.3 179.4,180.0 178.7,179.6 178.6,178.8 178.5,178.3 178.3,178.0 178.2,177.8 176.8,178.3 175.9,178.3 174.5,178.0 173.9,178.5 174.5,178.5 175.6,178.8 176.5,179.0 177.4,180.2 178.1,180.7 177.9,180.9 177.2,181.1 177.2,181.7 176.5,182.7 176.5,182.7 175.6,182.5 174.9,182.0" fill="none" stroke="#a81010" stroke-width="0.4" stroke-opacity="0.95" stroke-linejoin="round"/>
<path d="M178.7,178.1 178.2,178.2 178.2,177.9 177.8,176.7 177.0,176.7 176.7,177.9 176.2,179.1 177.1,180.1 177.5,180.5 177.4,180.0 177.4,180.0 176.9,180.6 177.1,180.6 176.3,181.1 176.0,180.1 175.5,179.4 175.1,179.1 176.2,178.3 177.0,178.0 177.6,178.6 178.1,178.5 178.4,178.7 178.8,179.5 179.3,181.9 180.0,183.4 180.0,184.0 179.0,184.0 178.7,183.6 177.9,182.9 176.6,182.5 176.2,182.5 175.9,182.3 175.0,182.5 175.0,182.0 175.3,181.5 175.3,181.2" fill="none" stroke="#a81010" stroke-width="0.4" stroke-opacity="0.95" stroke-linejoin="round"/>
<path d="M178.7,178.1 179.1,178.9 179.5,178.9 179.0,178.4 178.9,178.2 178.9,178.4 178.2,178.8 178.0,179.2 177.9,179.2 178.3,178.8 178.8,178.4 179.5,177.8 180.0,177.6 179.4,176.9 178.8,176.8 177.8,176.6 176.6,176.6 176.7,176.8 177.5,177.1 178.1,177.1 177.8,177.0 178.7,176.8 178.9,175.9 178.0,175.4 177.0,174.9 176.2,174.9 175.7,174.9 175.9,175.3 175.4,176.1 175.7,177.2 176.5,177.7 177.9,178.3 177.9,178.5 177.4,178.0 177.6,178.4 178.0,178.8" fill="none" stroke="#a81010" stroke-width="0.4" stroke-opacity="0.95" stroke-linejoin="round"/>
<path d="M178.7,178.1 178.2,177.3 178.6,176.7 179.7,177.1 179.6,177.5 179.7,178.0 180.7,178.2 181.0,178.0 180.9,177.1 181.0,177.1 181.4,177.6 181.2,177.8 180.5,177.8 180.0,176.5 178.8,176.0 178.8,176.0 178.6,177.2 178.6,178.6 178.3,179.1 178.4,179.2 177.7,178.7 177.4,178.6 177.4,178.5 177.8,178.6 177.8,179.0 177.4,178.8 177.5,177.7 177.0,177.3 177.4,178.2 176.9,178.2 176.3,178.5 176.0,179.3 176.3,179.1 177.2,179.2 176.7,178.9 176.1,179.1" fill="none" stroke="#a81010" stroke-width="0.4" stroke-opacity="0.95" stroke-linejoin="round"/>
<path d="M178.7,178.1 179.4,178.4 179.9,177.8 179.6,177.4 179.7,177.4 179.8,177.6 178.9,177.8 177.9,176.9 177.6,176.7 176.9,176.6 176.7,176.5 176.7,176.0 177.3,175.5 177.2,175.6 177.4,174.5 177.8,174.0 177.5,173.9 178.4,173.8 178.8,173.5 179.4,173.1 179.6,173.1 179.6,172.8 179.6,172.6 179.7,173.1 180.4,173.3 181.4,174.2 180.7,174.6 179.4,175.2 179.1,175.6 179.3,175.5 179.5,175.3 179.8,175.4 180.4,175.9 180.3,175.8 180.2,176.2 179.8,176.5" fill="none" stroke="#a81010" stroke-width="0.4" stroke-opacity="0.95" stroke-linejoin="round"/>
<path d="M178.7,178.1 178.4,177.5 177.1,177.7 176.4,177.7 175.7,177.2 175.7,177.9 175.5,178.0 175.5,178.9 176.3,178.8 175.4,178.8 175.3,178.7 175.1,178.1 175.3,177.4 175.3,177.5 175.9,177.4 176.1,176.8 176.8,176.5 177.1,176.8 177.7,177.0 178.6,176.6 179.0,176.9 179.7,177.0 180.3,178.2 180.3,178.5 180.9,178.7 182.5,179.0 183.0,178.4 182.6,177.3 181.4,176.8 179.5,175.6 179.1,175.9 178.2,175.6 177.4,175.6 176.7,176.0 176.5,176.7 177.4,176.8" fill="none" stroke="#a81010" stroke-width="0.4" stroke-opacity="0.95" stroke-linejoin="round"/>
<path d="M178.7,178.1 178.6,178.4 180.0,179.2 180.8,179.6 181.1,179.4 181.2,179.0 181.1,178.4 180.4,177.9 180.4,177.9 179.6,178.4 179.2,178.2 177.9,178.4 177.3,178.5 176.5,178.0 176.3,178.2 176.5,178.1 176.4,177.7 176.5,177.4 176.0,177.2 176.4,177.3 177.6,177.0 177.3,177.0 178.6,177.0 178.8,177.5 179.0,177.3 179.8,176.6 181.4,176.8 181.2,177.8 181.2,178.3 181.4,179.3 181.3,179.4 180.9,180.0 179.9,180.4 179.8,179.5 179.8,178.7 180.1,177.6" fill="none" stroke="#a81010" stroke-width="0.4" stroke-opacity="0.95" stroke-linejoin="round"/>
<path d="M178.7,178.1 179.1,177.5 179.5,177.1 180.1,177.0 179.9,177.8 179.6,178.9 180.3,179.7 179.6,180.2 179.0,179.8 178.4,179.0 178.5,178.0 178.6,177.3 178.2,176.8 177.9,176.4 178.2,176.1 178.8,176.4 179.5,176.3 180.4,176.8 180.7,177.5 180.3,178.5 180.0,179.0 179.8,179.2 179.3,179.0 178.5,178.2 178.6,177.3 178.7,176.1 179.0,175.0 179.8,175.1 180.2,175.3 179.3,175.4 179.2,175.5 179.1,175.1 179.2,175.5 179.0,175.6 179.6,176.2 179.9,175.6" fill="none" stroke="#a81010" stroke-width="0.4" stroke-opacity="0.95" stroke-linejoin="round"/>
<path d="M178.7,178.1 179.0,178.1 179.4,177.9 178.5,178.9 178.1,179.5 178.5,180.0 179.0,180.4 179.0,179.6 178.9,179.2 179.3,179.2 178.6,179.8 179.1,180.6 179.0,180.8 179.6,181.2 179.8,181.5 179.5,181.4 178.9,180.5 178.5,179.7 177.8,179.7 177.9,179.5 177.6,179.5 178.5,179.7 179.2,180.0 179.6,179.4 179.8,179.6 180.2,179.8 180.6,179.6 181.6,180.1 182.8,180.4 182.5,180.7 182.4,180.5 182.2,180.4 182.4,180.5 181.5,181.0 180.3,181.5 180.0,181.4" fill="none" stroke="#a81010" stroke-width="0.4" stroke-opacity="0.95" stroke-linejoin="round"/>
<path d="M178.7,178.1 178.7,177.9 177.8,177.5 177.5,176.6 176.4,176.0 175.8,176.3 176.1,176.3 176.4,176.5 176.5,175.8 175.8,175.1 175.7,174.4 175.2,174.6 175.3,174.8 175.0,174.7 174.8,174.4 175.6,174.5 176.6,174.5 177.2,174.7 178.0,175.4 177.6,174.7 177.4,174.2 177.3,173.7 176.6,174.4 176.1,174.3 175.6,173.9 174.9,173.7 174.5,173.7 173.9,174.5 173.7,174.0 173.3,173.6 173.4,173.9 174.1,173.7 175.3,173.7 176.1,173.9 177.0,174.5 177.5,174.7" fill="none" stroke="#a81010" stroke-width="0.4" stroke-opacity="0.95" stroke-linejoin="round"/>
<path d="M178.7,178.1 179.1,178.0 178.8,177.7 177.9,177.7 179.2,177.7 179.4,178.0 179.9,178.4 181.2,178.1 180.9,178.4 180.6,178.6 180.4,179.3 179.7,179.6 178.9,179.2 177.9,179.4 177.3,179.5 177.1,179.5 176.8,179.2 177.0,179.3 177.0,178.3 177.4,177.7 178.3,178.2 179.4,179.1 179.2,179.2 179.1,179.2 178.7,178.9 177.5,179.0 177.6,179.4 177.6,178.7 177.5,178.6 177.7,178.5 177.5,179.1 177.8,179.3 178.2,179.2 178.2,179.1 178.0,180.2 177.5,181.0" fill="none" stroke="#a81010" stroke-width="0.4" stroke-opacity="0.95" stroke-linejoin="round"/>
<path d="M178.7,178.1 179.1,178.0 180.5,178.5 181.6,179.1 182.1,179.5 182.7,178.7 182.8,178.5 183.7,178.5 184.1,178.5 184.1,177.8 183.8,177.0 183.3,176.2 183.3,176.3 182.9,176.8 182.7,177.2 183.3,177.4 182.8,177.3 182.8,178.2 182.7,178.2 183.2,178.0 183.8,178.0 183.7,178.7 183.3,179.3 183.0,179.6 181.8,179.0 181.0,179.4 181.1,180.1 180.3,179.7 179.1,178.7 178.6,178.1 178.8,177.5 179.5,176.9 179.4,176.0 178.7,175.4 178.6,175.8 178.1,176.6" fill="none" stroke="#a81010" stroke-width="0.4" stroke-opacity="0.95" stroke-linejoin="round"/>
<path d="M178.7,178.1 178.8,177.2 179.1,176.3 178.7,176.2 178.7,175.5 178.2,175.1 178.2,174.6 178.0,174.7 177.9,174.9 178.2,174.9 178.5,175.5 178.5,175.9 178.6,175.8 178.4,175.8 177.7,176.2 176.9,177.0 176.7,177.1 176.4,177.6 176.8,177.8 176.7,178.3 176.4,178.5 176.7,179.1 176.9,180.0 177.1,179.1 177.2,179.6 177.1,179.0 177.4,178.5 177.8,178.0 178.3,178.2 178.3,177.7 177.9,176.8 178.4,177.1 178.9,177.4 178.7,177.6 179.0,177.8 178.6,177.4" fill="none" stroke="#a81010" stroke-width="0.4" stroke-opacity="0.95" stroke-linejoin="round"/>
<path d="M178.7,178.1 178.5,178.2 178.9,177.5 178.8,177.3 178.6,177.7 177.8,177.6 178.2,177.4 178.3,177.8 178.9,179.0 178.3,179.1 178.1,180.0 178.5,180.3 178.7,179.8 178.4,179.3 178.6,178.4 178.5,178.1 178.3,177.7 178.8,177.5 178.2,177.5 177.9,177.3 177.5,177.7 177.7,178.5 176.5,179.5 175.8,179.3 175.4,179.5 175.8,179.8 175.9,180.1 175.9,179.9 175.1,179.6 173.5,179.4 173.2,179.8 173.2,180.1 172.9,180.0 174.0,179.2 175.4,179.1 175.8,179.7" fill="none" stroke="#a81010" stroke-width="0.4" stroke-opacity="0.95" stroke-linejoin="round"/>
<path d="M178.7,178.1 178.3,178.3 177.6,177.7 177.4,177.1 177.0,177.8 177.1,178.7 176.3,178.7 176.2,179.0 176.6,179.6 177.1,179.7 176.9,180.4 177.2,180.5 178.1,180.0 178.8,179.8 179.2,179.9 179.3,179.9 179.3,180.4 179.3,181.2 179.6,181.4 180.7,181.4 181.2,180.6 181.1,180.0 181.3,179.5 181.7,179.7 181.7,180.1 181.5,180.4 180.9,180.3 180.2,180.5 179.7,180.6 179.4,180.3 179.4,179.6 179.4,179.6 179.1,179.6 178.6,179.5 177.1,179.6 177.0,179.5" fill="none" stroke="#a81010" stroke-width="0.4" stroke-opacity="0.95" stroke-linejoin="round"/>
<path d="M178.7,178.1 178.9,178.5 179.4,178.1 179.0,177.2 178.9,177.1 178.8,178.4 178.4,179.0 177.2,179.6 176.2,180.1 175.2,179.9 174.9,179.7 174.4,180.3 173.9,180.2 174.7,181.0 175.6,181.0 175.8,181.1 177.2,180.9 176.2,180.5 176.2,179.6 176.6,179.2 176.8,178.7 177.0,178.3 177.5,177.8 178.1,178.0 178.1,178.1 178.2,178.7 178.9,178.6 179.3,177.8 179.2,177.8 180.1,177.7 180.1,178.4 179.9,179.1 179.4,179.6 179.1,179.1 178.6,179.1 178.4,178.1" fill="none" stroke="#a81010" stroke-width="0.4" stroke-opacity="0.95" stroke-linejoin="round"/>
<rect x="193.0" y="186.9" width="1.4" height="1.4" fill="#222"/>
<rect x="201.7" y="186.6" width="1.4" height="1.4" fill="#222"/>
<rect x="183.4" y="161.5" width="1.4" height="1.4" fill="#222"/>
<rect x="187.3" y="175.3" width="1.4" height="1.4" fill="#222"/>
<path d="M314.4,59.0 314.6,59.8 314.5,61.0 314.2,62.4 313.9,62.7 314.3,62.4 314.1,62.5 313.8,61.4 314.1,59.5 314.4,58.4 314.7,57.9 314.9,58.6 315.0,57.4 315.4,56.0 316.0,55.4 315.6,56.0 315.4,55.8 315.2,56.2 315.5,56.9 316.2,57.2 315.6,56.8" fill="none" stroke="#e08a9a" stroke-width="0.4" stroke-opacity="0.8" stroke-linejoin="round"/>
<path d="M314.4,59.0 313.9,59.2 313.8,59.3 313.6,58.8 313.4,58.4 313.8,57.5 313.5,56.5 313.2,56.0 312.3,56.7 311.7,57.1 311.3,57.4 311.0,57.1 311.7,56.8 311.9,56.6 311.3,56.6 311.3,57.0 310.8,57.9 310.8,58.7 311.0,58.7 311.1,58.4 311.0,58.3" fill="none" stroke="#e08a9a" stroke-width="0.4" stroke-opacity="0.8" stroke-linejoin="round"/>
<path d="M314.4,59.0 314.0,58.8 314.3,59.5 314.3,59.1 314.6,59.1 315.3,59.0 315.3,59.0 314.5,59.3 314.5,59.1 314.1,58.5 313.8,57.6 314.0,56.7 314.3,56.8 314.5,56.6 314.0,56.1 313.9,56.5 313.8,56.9 313.6,57.1 313.7,57.9 313.4,58.2 313.1,58.8" fill="none" stroke="#e08a9a" stroke-width="0.4" stroke-opacity="0.8" stroke-linejoin="round"/>
<path d="M314.4,59.0 315.2,58.1 315.8,58.3 316.6,57.8 316.8,56.6 316.5,56.5 316.5,56.9 317.1,57.0 317.4,57.2 317.7,57.7 317.7,58.4 317.8,58.6 317.2,59.8 316.7,60.0 315.6,59.4 314.6,59.1 313.5,58.2 312.9,57.8 312.7,56.9 312.3,56.6 312.3,55.9" fill="none" stroke="#e08a9a" stroke-width="0.4" stroke-opacity="0.8" stroke-linejoin="round"/>
<path d="M314.4,59.0 314.1,58.4 313.9,59.0 314.4,59.7 314.5,60.4 315.2,60.6 315.6,60.0 315.0,60.0 314.7,60.5 315.3,60.5 316.0,59.9 316.4,58.6 316.1,58.7 315.8,59.4 315.3,59.8 314.8,58.8 314.6,58.7 314.3,58.4 314.3,57.7 314.2,56.6 313.8,56.2" fill="none" stroke="#e08a9a" stroke-width="0.4" stroke-opacity="0.8" stroke-linejoin="round"/>
<path d="M314.4,59.0 313.7,59.8 313.3,59.9 313.0,59.7 312.3,59.7 311.7,59.5 311.2,59.8 310.9,61.0 310.8,60.7 312.1,60.5 312.8,60.8 312.9,60.1 312.9,59.9 312.2,60.9 312.3,61.4 312.3,60.9 312.1,61.3 311.4,61.1 310.8,60.1 310.6,58.5 310.5,58.3" fill="none" stroke="#e08a9a" stroke-width="0.4" stroke-opacity="0.8" stroke-linejoin="round"/>
<path d="M314.4,59.0 313.8,59.1 313.4,58.8 313.5,57.2 313.8,56.8 313.6,56.2 313.5,55.8 313.2,55.3 312.6,55.6 312.2,54.9 311.8,55.1 312.1,55.5 312.3,56.4 312.7,56.7 313.4,57.0 313.6,56.2 314.3,55.5 314.7,55.5 314.7,56.1 314.8,55.7 315.3,54.9" fill="none" stroke="#e08a9a" stroke-width="0.4" stroke-opacity="0.8" stroke-linejoin="round"/>
<path d="M314.4,59.0 314.7,58.7 314.5,58.5 313.9,58.0 313.2,56.9 312.9,57.2 312.7,57.3 312.3,57.6 312.8,57.8 312.5,58.2 312.4,58.9 312.1,58.5 312.2,58.7 311.4,58.5 311.2,58.6 311.4,58.0 311.3,57.3 311.1,57.6 311.2,58.9 310.9,60.4 311.1,61.5" fill="none" stroke="#e08a9a" stroke-width="0.4" stroke-opacity="0.8" stroke-linejoin="round"/>
<path d="M318.5,59.7 315.0,58.0 312.0,56.0 310.0,55.0 308.3,54.2" fill="none" stroke="#c06070" stroke-width="0.5" stroke-opacity="1.0" stroke-linejoin="round"/>
<rect x="307.6" y="53.5" width="1.5" height="1.5" fill="#000"/>
<path d="M318.5,59.7 316.0,60.0 313.0,60.0 310.0,59.8" fill="none" stroke="#c07080" stroke-width="0.5" stroke-opacity="1.0" stroke-linejoin="round"/>
<rect x="309.2" y="59.0" width="1.5" height="1.5" fill="#000"/>
<path d="M318.5,59.7 321.0,58.0 323.0,56.0 324.6,54.7" fill="none" stroke="#555" stroke-width="0.45" stroke-opacity="1.0" stroke-linejoin="round"/>
<rect x="323.9" y="54.0" width="1.5" height="1.5" fill="#000"/>
<path d="M318.5,59.7 316.0,62.0 314.0,63.0 312.2,64.2" fill="none" stroke="#666" stroke-width="0.45" stroke-opacity="1.0" stroke-linejoin="round"/>
<rect x="311.4" y="63.5" width="1.5" height="1.5" fill="#000"/>
<path d="M318.5,59.7 317.0,64.0 316.5,66.0 315.7,68.3" fill="none" stroke="#777" stroke-width="0.45" stroke-opacity="1.0" stroke-linejoin="round"/>
<rect x="314.9" y="67.5" width="1.5" height="1.5" fill="#000"/>
<path d="M318.5,59.7 320.0,63.0 321.0,65.0 321.8,67.7" fill="none" stroke="#777" stroke-width="0.45" stroke-opacity="1.0" stroke-linejoin="round"/>
<rect x="321.1" y="67.0" width="1.5" height="1.5" fill="#000"/>
<path d="M318.7,60.4 318.4,61.1 317.9,61.2 317.3,61.0 317.1,61.2 317.3,61.7 317.3,62.1 316.8,62.5 316.6,62.8 316.6,62.9 317.5,62.5 318.3,62.9 318.0,62.9 316.8,62.8 316.4,62.7 316.7,62.6 317.3,61.8 317.6,61.4 317.8,61.5 317.9,61.5 317.8,61.3 318.2,61.2 318.4,61.6 318.3,62.1 318.8,62.6 319.9,62.5" fill="none" stroke="#8a1a28" stroke-width="0.45" stroke-opacity="0.95" stroke-linejoin="round"/>
<path d="M318.7,60.4 318.8,60.3 318.7,60.3 318.8,61.1 319.4,61.9 319.4,62.2 319.0,63.4 318.4,63.0 317.7,62.5 316.5,62.2 316.2,62.0 315.6,61.8 315.3,62.3 314.9,62.5 315.0,62.3 314.3,63.0 313.1,63.3 313.3,63.5 313.8,63.2 313.5,63.0 313.8,63.2 314.1,63.7 314.3,63.0 315.0,63.1 315.2,62.7 316.2,62.3" fill="none" stroke="#8a1a28" stroke-width="0.45" stroke-opacity="0.95" stroke-linejoin="round"/>
<path d="M318.7,60.4 317.9,59.8 317.5,59.9 317.9,59.6 318.5,59.4 319.6,59.6 319.8,59.4 320.3,59.2 320.4,58.9 320.4,59.0 320.8,59.2 321.3,59.1 321.2,59.2 320.3,59.0 319.9,58.9 320.3,58.3 320.4,58.4 320.5,58.6 320.1,59.4 320.3,60.6 320.2,61.7 320.2,61.7 320.4,61.7 320.5,62.0 321.0,61.4 321.7,61.1" fill="none" stroke="#8a1a28" stroke-width="0.45" stroke-opacity="0.95" stroke-linejoin="round"/>
<path d="M318.7,60.4 318.4,61.0 318.4,60.9 318.6,61.3 318.9,61.5 318.8,61.9 318.7,61.2 319.5,60.3 320.1,60.4 320.6,60.7 320.2,60.0 320.0,60.6 321.0,61.0 321.3,60.3 321.3,59.1 321.2,59.7 321.5,59.6 321.8,59.4 321.8,59.2 321.8,59.0 321.3,58.5 321.4,58.3 321.6,58.6 321.5,58.7 322.0,58.6 321.6,59.0" fill="none" stroke="#8a1a28" stroke-width="0.45" stroke-opacity="0.95" stroke-linejoin="round"/>
<path d="M318.7,60.4 317.8,60.4 316.8,60.2 316.3,59.7 315.2,59.7 314.7,59.3 314.7,59.2 315.3,59.3 315.9,58.3 315.9,57.1 315.7,57.0 316.1,56.7 317.0,57.0 318.0,57.2 318.2,56.9 318.3,57.7 318.8,58.1 319.1,57.9 319.1,58.1 318.6,58.3 317.8,58.0 317.3,57.4 317.1,56.8 317.0,56.1 316.8,56.4 317.5,56.6" fill="none" stroke="#8a1a28" stroke-width="0.45" stroke-opacity="0.95" stroke-linejoin="round"/>
<path d="M318.7,60.4 319.2,60.5 319.5,61.1 319.0,60.6 319.2,60.1 319.5,59.8 319.6,59.8 320.0,59.8 319.9,59.9 320.3,60.6 320.3,60.9 320.1,61.0 319.8,61.8 319.7,61.9 318.8,62.0 317.5,61.7 316.7,62.1 315.5,62.3 315.1,62.7 315.7,63.0 316.2,62.5 316.1,61.4 316.1,61.6 316.5,61.8 317.5,62.2 318.2,61.8" fill="none" stroke="#8a1a28" stroke-width="0.45" stroke-opacity="0.95" stroke-linejoin="round"/>
<path d="M318.7,60.4 318.9,60.8 319.8,61.1 320.4,62.1 320.6,63.0 321.3,63.7 320.1,63.4 319.7,63.1 319.5,63.3 319.2,63.1 318.6,62.2 318.0,61.7 317.7,61.4 318.4,61.7 318.4,61.6 318.7,61.7 318.8,62.2 318.6,62.3 318.4,61.8 318.0,62.1 317.8,61.8 318.7,61.8 319.8,61.5 320.8,61.5 322.0,61.0 322.6,60.8" fill="none" stroke="#8a1a28" stroke-width="0.45" stroke-opacity="0.95" stroke-linejoin="round"/>
<path d="M318.7,60.4 318.7,60.2 319.0,60.5 318.2,61.2 317.5,61.0 317.4,61.7 317.8,62.3 318.4,62.9 318.3,63.4 318.3,64.1 318.0,63.6 317.6,63.3 318.1,63.0 318.5,63.3 319.1,62.8 319.3,63.5 320.6,64.4 319.6,64.8 320.2,65.0 320.9,64.6 321.7,63.1 321.5,62.6 320.6,62.3 320.1,61.5 319.2,61.4 319.7,60.9" fill="none" stroke="#8a1a28" stroke-width="0.45" stroke-opacity="0.95" stroke-linejoin="round"/>
<path d="M318.7,60.4 319.5,60.5 319.7,60.8 319.8,60.6 319.8,59.8 319.4,60.0 319.3,60.6 318.7,61.0 319.2,61.2 319.3,61.4 319.3,62.5 319.0,63.3 318.6,63.5 318.3,63.3 317.7,63.4 317.2,63.6 317.5,63.7 317.4,64.0 317.2,64.8 317.3,64.7 316.5,64.3 316.3,63.6 316.2,63.2 316.7,63.3 317.2,64.0 317.2,65.0" fill="none" stroke="#8a1a28" stroke-width="0.45" stroke-opacity="0.95" stroke-linejoin="round"/>
<path d="M318.7,60.4 318.6,60.5 318.4,60.2 318.5,59.8 318.0,59.6 319.1,60.0 319.5,60.7 319.5,61.0 320.1,61.2 320.0,61.7 319.4,60.6 318.9,60.6 318.7,60.8 318.2,61.8 317.7,62.8 317.2,62.3 316.8,61.1 315.6,60.0 314.4,59.8 313.7,59.7 313.3,58.7 313.4,58.6 313.6,59.4 313.8,59.7 314.2,60.0 313.9,60.3" fill="none" stroke="#8a1a28" stroke-width="0.45" stroke-opacity="0.95" stroke-linejoin="round"/>
<path d="M318.7,60.4 319.4,60.3 319.8,60.9 319.5,61.4 319.4,61.8 319.5,62.1 319.1,63.2 318.1,63.6 317.5,64.0 316.8,63.7 316.1,63.3 316.2,62.3 316.0,61.4 316.8,60.4 317.9,59.9 317.8,60.1 317.8,60.0 317.8,59.3 318.0,59.3 318.3,59.3 317.9,59.1 317.5,58.7 318.0,58.6 318.1,58.3 318.7,57.9 318.2,56.8" fill="none" stroke="#8a1a28" stroke-width="0.45" stroke-opacity="0.95" stroke-linejoin="round"/>
<path d="M318.7,60.4 320.0,60.4 320.9,60.0 321.2,59.8 321.6,60.5 321.7,61.2 321.5,61.7 321.2,62.1 321.2,62.1 321.6,62.0 321.5,61.9 322.2,62.1 322.2,62.0 321.6,62.3 321.4,62.5 321.4,61.8 320.8,61.4 319.8,61.3 319.4,61.0 318.8,60.8 318.3,60.6 318.2,60.6 318.2,61.3 318.5,61.8 318.0,62.1 317.7,62.4" fill="none" stroke="#8a1a28" stroke-width="0.45" stroke-opacity="0.95" stroke-linejoin="round"/>
<path d="M318.7,60.4 318.9,59.9 319.6,59.9 319.8,59.9 320.1,59.7 320.6,60.0 320.5,60.1 320.3,60.2 319.9,60.8 319.2,60.5 319.2,60.3 319.3,60.3 320.5,59.6 321.4,59.5 321.3,59.6 320.8,59.5 321.3,59.2 320.9,59.2 322.0,59.5 321.7,59.6 321.5,59.4 321.4,58.7 321.1,58.2 321.3,58.2 321.8,57.4 321.5,57.5" fill="none" stroke="#8a1a28" stroke-width="0.45" stroke-opacity="0.95" stroke-linejoin="round"/>
<path d="M318.7,60.4 319.3,60.8 319.4,60.5 320.1,59.9 320.7,60.2 321.1,60.3 322.1,60.6 322.7,60.8 324.0,60.8 324.3,60.7 324.1,61.3 324.0,61.6 324.5,62.3 324.9,63.1 325.1,63.1 324.7,63.2 324.0,62.6 324.7,62.6 324.8,62.2 325.0,61.7 325.7,60.7 324.9,60.1 323.4,59.4 322.5,59.0 321.6,58.2 321.1,58.8" fill="none" stroke="#8a1a28" stroke-width="0.45" stroke-opacity="0.95" stroke-linejoin="round"/>
<path d="M318.7,60.4 319.3,60.8 318.7,61.2 318.2,61.3 318.3,60.8 317.9,60.5 317.7,60.7 318.1,60.0 318.6,59.5 318.6,58.9 318.8,59.0 318.5,59.4 317.6,59.0 316.8,59.4 316.8,59.1 317.2,59.8 318.1,60.7 318.6,61.6 319.1,62.5 318.6,62.2 317.5,61.9 316.7,61.9 316.6,61.6 315.9,61.3 315.0,61.4 314.1,62.0" fill="none" stroke="#8a1a28" stroke-width="0.45" stroke-opacity="0.95" stroke-linejoin="round"/>
<path d="M318.7,60.4 319.2,60.6 318.7,60.4 318.5,60.4 318.6,61.5 318.1,61.9 318.8,61.7 318.4,61.3 317.6,61.2 317.9,61.3 317.7,61.1 318.5,60.8 319.5,60.6 320.0,60.6 320.7,59.9 320.7,59.5 321.0,58.7 320.0,58.9 320.1,59.3 320.2,59.4 320.4,59.4 320.7,59.9 321.2,61.1 322.3,61.8 322.5,61.8 322.5,61.5" fill="none" stroke="#8a1a28" stroke-width="0.45" stroke-opacity="0.95" stroke-linejoin="round"/>
<path d="M318.7,60.4 319.1,60.9 318.4,61.7 317.4,61.7 316.5,62.8 316.2,63.1 316.3,62.5 316.8,62.4 317.7,62.4 318.2,62.6 319.0,62.2 319.0,62.0 319.4,61.0 319.8,60.7 320.2,60.3 320.5,60.1 320.4,59.6 319.8,59.1 319.8,57.8 319.4,56.3 319.4,54.9 318.9,54.3 319.2,53.4 318.3,52.4 318.2,51.5 317.8,51.5" fill="none" stroke="#8a1a28" stroke-width="0.45" stroke-opacity="0.95" stroke-linejoin="round"/>
<path d="M318.7,60.4 318.8,60.5 318.6,60.7 318.6,61.0 318.7,61.6 318.6,61.8 318.4,61.4 318.3,61.5 319.0,61.6 318.9,61.5 319.0,61.5 318.9,61.4 318.3,60.0 318.5,60.8 319.8,61.5 320.6,61.9 321.1,61.0 321.9,60.9 322.7,60.2 322.3,60.9 322.2,61.4 322.3,61.9 321.8,62.3 321.1,62.6 320.6,62.8 320.9,63.2" fill="none" stroke="#8a1a28" stroke-width="0.45" stroke-opacity="0.95" stroke-linejoin="round"/>
<path d="M318.7,60.4 318.8,61.2 318.6,62.2 318.6,61.9 318.5,60.9 318.9,60.2 319.2,59.5 319.3,58.4 319.4,57.7 319.4,57.7 318.8,57.5 319.0,57.7 318.9,57.3 319.0,57.7 318.8,57.9 318.6,57.0 318.3,56.2 318.0,56.4 318.0,56.2 317.9,56.2 317.9,56.2 317.5,56.0 316.9,56.3 317.3,56.1 318.3,56.9 318.3,57.4" fill="none" stroke="#8a1a28" stroke-width="0.45" stroke-opacity="0.95" stroke-linejoin="round"/>
<path d="M318.7,60.4 319.2,60.7 318.6,60.4 318.3,60.6 318.1,60.2 317.6,59.8 316.2,60.3 316.4,61.3 317.0,63.1 317.0,64.4 317.3,64.0 318.4,63.8 318.5,62.8 319.2,62.6 319.8,63.2 319.9,62.6 319.3,62.0 319.3,61.1 319.7,60.4 319.0,60.1 319.1,60.1 318.8,59.9 318.0,60.0 317.8,60.5 318.6,61.0 319.1,61.0" fill="none" stroke="#8a1a28" stroke-width="0.45" stroke-opacity="0.95" stroke-linejoin="round"/>
<path d="M318.7,60.4 319.4,59.9 319.9,59.7 320.5,59.2 320.6,59.2 320.9,59.4 321.0,59.0 320.6,59.7 320.8,60.3 320.7,59.6 320.9,58.7 320.3,59.0 319.7,58.8 319.2,58.7 318.7,58.2 319.2,58.5 318.3,58.2 317.2,58.3 317.0,58.6 317.0,59.4 317.1,60.1 316.6,60.5 317.2,61.1 317.2,61.8 317.8,62.4 317.8,62.5" fill="none" stroke="#8a1a28" stroke-width="0.45" stroke-opacity="0.95" stroke-linejoin="round"/>
<path d="M318.7,60.4 319.4,59.8 320.1,58.8 320.3,58.1 320.9,58.5 320.5,58.4 320.5,58.1 321.3,58.0 320.4,58.2 319.7,58.4 319.2,57.6 319.1,57.9 319.3,58.3 320.1,58.6 320.2,58.8 319.9,58.7 319.3,58.4 319.5,58.6 318.6,59.1 318.5,59.9 318.8,60.3 318.7,61.0 318.9,61.2 319.3,61.4 319.4,62.2 320.4,63.3" fill="none" stroke="#8a1a28" stroke-width="0.45" stroke-opacity="0.95" stroke-linejoin="round"/>
<ellipse cx="318.9" cy="60.9" rx="3.0" ry="2.8" fill="#6a0c18" fill-opacity="0.9"/>
<rect x="310.7" y="53.8" width="1.3" height="1.3" fill="#222"/>
<rect x="315.8" y="55.6" width="1.3" height="1.3" fill="#222"/>
<rect x="321.4" y="61.9" width="1.3" height="1.3" fill="#222"/>
<path d="M430.6,61.4 430.5,61.2 429.8,60.1 430.2,60.4 431.3,62.3 431.7,63.1 431.8,62.5 432.5,62.8 430.8,64.0 430.6,64.8 430.6,64.0 431.2,64.3 430.8,63.9 430.6,63.2 431.4,62.1 432.7,62.1 434.0,62.1 435.3,62.5 435.9,62.9 436.2,61.0 435.1,62.2 433.6,62.8 431.4,61.2 429.5,59.7 428.4,59.1 428.6,58.2" fill="none" stroke="#8a9a9a" stroke-width="0.35" stroke-opacity="0.9" stroke-linejoin="round"/>
<path d="M430.6,61.4 430.4,60.3 429.5,59.9 429.9,60.1 428.4,59.9 428.8,61.1 429.2,63.3 429.4,64.2 430.9,64.6 430.5,64.9 429.6,65.6 430.2,66.5 430.8,65.9 429.3,66.4 428.4,66.8 427.2,67.9 425.8,69.0 425.9,68.2 425.3,66.3 425.4,65.2 427.3,64.9 428.6,64.5 429.6,65.3 431.2,66.0 432.4,67.4 433.8,68.3" fill="none" stroke="#8a9a9a" stroke-width="0.35" stroke-opacity="0.9" stroke-linejoin="round"/>
<path d="M430.6,61.4 430.2,61.7 428.9,61.6 428.7,60.9 428.3,59.5 426.7,58.6 426.3,56.9 426.4,55.1 425.8,54.2 425.7,54.7 426.9,54.2 425.8,53.5 425.4,53.8 423.4,55.9 421.2,57.2 422.2,57.3 421.4,56.5 419.9,57.3 419.0,58.5 418.0,58.8 417.1,58.0 417.9,56.8 418.8,56.2 419.3,56.2 419.3,56.7 420.7,57.5" fill="none" stroke="#8a9a9a" stroke-width="0.35" stroke-opacity="0.9" stroke-linejoin="round"/>
<path d="M430.6,61.4 430.8,60.7 431.2,60.2 431.8,60.2 429.6,58.6 429.1,57.7 428.5,57.1 429.8,58.0 430.1,58.7 429.6,60.1 430.5,59.7 428.4,59.3 426.2,60.9 425.9,60.9 425.4,61.9 423.3,62.3 421.1,62.0 420.8,60.8 422.5,58.9 424.6,60.6 424.7,61.3 423.9,61.7 424.4,61.5 425.1,62.2 425.3,62.8 425.4,63.1" fill="none" stroke="#8a9a9a" stroke-width="0.35" stroke-opacity="0.9" stroke-linejoin="round"/>
<path d="M430.6,61.4 429.7,62.4 430.7,64.6 429.1,65.2 427.2,64.2 426.3,63.2 426.8,62.8 427.6,63.3 427.5,62.8 426.8,62.1 427.7,60.4 428.9,58.5 428.4,59.9 428.3,61.5 428.3,63.7 429.1,64.9 431.1,65.6 430.7,66.0 428.6,64.9 428.6,65.4 427.8,66.0 427.9,66.8 428.5,67.2 430.3,66.5 430.8,66.9 432.3,67.1" fill="none" stroke="#8a9a9a" stroke-width="0.35" stroke-opacity="0.9" stroke-linejoin="round"/>
<path d="M430.6,61.4 431.2,62.7 432.0,63.5 431.6,62.8 432.9,62.5 432.9,64.7 433.1,65.5 433.3,65.9 432.5,66.0 430.3,66.3 428.8,66.5 429.0,66.6 429.1,65.7 429.6,64.3 429.5,64.0 429.2,64.7 429.1,64.6 430.7,64.7 429.6,65.1 427.4,63.5 427.0,60.1 426.2,57.8 426.4,56.9 426.4,55.4 425.3,53.2 423.4,52.6" fill="none" stroke="#8a9a9a" stroke-width="0.35" stroke-opacity="0.9" stroke-linejoin="round"/>
<path d="M430.6,61.4 430.6,60.8 430.5,61.5 429.3,61.5 428.0,61.5 427.2,60.7 425.4,61.2 424.2,61.7 424.5,62.0 425.9,60.6 427.3,59.7 426.4,59.1 425.6,60.1 425.0,61.5 425.9,61.5 427.2,62.9 428.2,64.7 429.3,66.6 430.3,66.5 430.0,66.4 431.0,67.1 431.1,67.3 430.1,67.8 429.0,67.8 428.8,67.5 428.3,66.1" fill="none" stroke="#8a9a9a" stroke-width="0.35" stroke-opacity="0.9" stroke-linejoin="round"/>
<path d="M430.6,61.4 430.6,61.3 430.5,60.6 430.7,61.4 431.5,62.3 432.6,64.0 432.9,66.4 431.6,68.4 430.2,69.9 428.7,69.6 428.0,67.8 427.5,67.5 428.6,66.4 427.4,66.3 426.7,66.5 426.7,65.4 428.5,64.5 430.5,63.5 431.5,62.8 431.5,61.8 431.7,62.4 431.4,62.4 431.3,63.0 432.0,64.6 432.3,64.1 432.9,64.9" fill="none" stroke="#8a9a9a" stroke-width="0.35" stroke-opacity="0.9" stroke-linejoin="round"/>
<path d="M430.6,61.4 430.3,61.4 429.9,62.0 429.3,63.4 430.3,64.1 430.9,64.9 430.0,64.2 430.2,63.9 429.9,63.8 430.5,64.4 430.8,64.4 431.7,63.6 433.2,62.8 433.8,61.5 433.2,61.8 432.0,61.2 430.2,59.5 430.1,59.7 429.8,61.2 429.2,61.9 428.5,62.6 428.6,62.8 429.0,61.6 429.2,61.6 429.4,61.8 429.7,62.8" fill="none" stroke="#8a9a9a" stroke-width="0.35" stroke-opacity="0.9" stroke-linejoin="round"/>
<path d="M430.6,61.4 429.6,61.2 429.5,60.2 429.6,58.5 429.0,59.2 427.9,58.9 425.8,57.5 424.2,55.5 424.4,56.4 426.0,57.9 426.2,59.2 426.4,60.0 426.2,60.2 425.6,60.3 424.6,60.5 425.2,59.4 425.9,58.8 426.1,58.2 425.5,57.7 424.4,57.6 423.3,57.7 422.1,58.2 422.1,58.8 423.3,59.0 423.5,59.2 424.2,60.9" fill="none" stroke="#8a9a9a" stroke-width="0.35" stroke-opacity="0.9" stroke-linejoin="round"/>
<path d="M431.3,59.5 429.0,63.0 428.0,66.0 427.5,70.0 426.0,71.5 424.7,72.3" fill="none" stroke="#222" stroke-width="0.5" stroke-opacity="1.0" stroke-linejoin="round"/>
<rect x="423.9" y="71.5" width="1.5" height="1.5" fill="#000"/>
<path d="M431.3,59.5 430.0,63.0 429.4,66.8 428.0,68.0 427.5,70.0" fill="none" stroke="#333" stroke-width="0.5" stroke-opacity="1.0" stroke-linejoin="round"/>
<rect x="426.8" y="69.2" width="1.5" height="1.5" fill="#000"/>
<path d="M431.3,59.5 433.0,63.0 435.0,65.0 437.2,67.2 439.0,66.0" fill="none" stroke="#333" stroke-width="0.5" stroke-opacity="1.0" stroke-linejoin="round"/>
<rect x="438.2" y="65.2" width="1.5" height="1.5" fill="#000"/>
<path d="M431.3,59.5 434.0,61.0 438.0,63.0 441.0,63.5 442.0,62.0" fill="none" stroke="#8a9a9a" stroke-width="0.45" stroke-opacity="1.0" stroke-linejoin="round"/>
<path d="M431.3,59.5 428.0,61.0 424.0,62.0 421.0,61.0 420.6,60.0" fill="none" stroke="#8a9a9a" stroke-width="0.45" stroke-opacity="1.0" stroke-linejoin="round"/>
<path d="M431.3,59.5 431.0,56.0 430.5,52.0 430.3,48.7" fill="none" stroke="#555" stroke-width="0.45" stroke-opacity="1.0" stroke-linejoin="round"/>
<rect x="429.6" y="48.0" width="1.5" height="1.5" fill="#000"/>
<path d="M431.3,59.5 434.0,57.0 436.0,55.5 438.1,54.7" fill="none" stroke="#333" stroke-width="0.45" stroke-opacity="1.0" stroke-linejoin="round"/>
<rect x="437.4" y="54.0" width="1.5" height="1.5" fill="#000"/>
<path d="M431.3,59.5 429.0,56.0 428.9,54.3" fill="none" stroke="#222" stroke-width="0.5" stroke-opacity="1.0" stroke-linejoin="round"/>
<rect x="428.1" y="53.5" width="1.5" height="1.5" fill="#000"/>
<path d="M431.3,59.5 428.0,58.0 426.1,57.0" fill="none" stroke="#222" stroke-width="0.5" stroke-opacity="1.0" stroke-linejoin="round"/>
<rect x="425.4" y="56.2" width="1.5" height="1.5" fill="#000"/>
<path d="M431.3,59.5 427.0,64.0 424.0,67.0 422.0,69.0" fill="none" stroke="#8a9a9a" stroke-width="0.45" stroke-opacity="1.0" stroke-linejoin="round"/>
<path d="M431.3,59.5 434.0,66.0 433.0,70.0 431.0,72.0" fill="none" stroke="#8a9a9a" stroke-width="0.45" stroke-opacity="1.0" stroke-linejoin="round"/>
<path d="M429.9,64.7 429.5,64.7 429.3,64.7 430.0,64.7 430.3,64.9 429.8,64.9 430.2,64.5 430.2,64.1 430.4,64.5 431.0,65.0 430.8,65.8 430.7,66.5 431.1,66.7 431.4,67.4 431.6,67.5 431.2,67.9 431.5,68.5 431.8,68.6 432.2,69.0 431.9,69.4 431.4,68.9" fill="none" stroke="#222" stroke-width="0.4" stroke-opacity="0.9" stroke-linejoin="round"/>
<path d="M429.9,64.7 429.8,64.4 429.3,64.6 428.6,64.5 428.9,64.8 429.3,65.0 429.3,65.4 429.0,65.9 429.1,66.2 429.1,67.0 428.9,67.3 429.1,67.5 429.2,67.6 428.8,68.1 429.2,68.2 430.2,67.3 430.4,67.0 430.2,67.5 429.5,67.6 428.7,67.8 428.6,67.8" fill="none" stroke="#222" stroke-width="0.4" stroke-opacity="0.9" stroke-linejoin="round"/>
<path d="M429.9,64.7 430.7,65.0 431.0,65.1 430.4,64.9 429.7,64.3 428.6,64.6 428.0,64.9 427.4,65.2 426.7,66.0 426.0,66.2 426.3,66.7 426.9,67.3 427.3,68.1 428.0,69.2 428.1,69.5 428.6,69.2 428.2,68.5 427.6,68.0 427.5,68.2 427.2,68.4 427.4,68.2" fill="none" stroke="#222" stroke-width="0.4" stroke-opacity="0.9" stroke-linejoin="round"/>
<path d="M429.9,64.7 429.8,64.7 430.0,64.7 429.7,64.8 429.2,64.8 428.3,65.1 427.7,65.1 427.2,64.9 426.1,65.7 426.0,66.6 426.2,67.3 426.7,67.6 427.5,68.2 428.5,68.5 429.3,68.4 429.9,68.3 429.9,68.5 429.4,67.9 428.5,67.2 427.9,66.8 427.3,66.6" fill="none" stroke="#222" stroke-width="0.4" stroke-opacity="0.9" stroke-linejoin="round"/>
<path d="M429.9,64.7 430.3,65.3 430.3,65.1 430.3,64.6 429.3,64.7 428.6,65.1 429.2,65.2 429.8,65.5 430.5,66.0 430.0,66.0 430.4,66.4 430.3,66.9 429.4,67.4 428.3,68.1 428.1,68.7 427.8,68.4 427.4,68.0 427.4,68.0 428.2,68.4 429.0,68.6 429.5,69.4" fill="none" stroke="#222" stroke-width="0.4" stroke-opacity="0.9" stroke-linejoin="round"/>
<path d="M429.9,64.7 429.9,65.0 429.4,65.3 429.3,65.6 429.7,66.3 430.1,66.5 430.2,67.1 430.3,67.0 430.2,66.6 430.6,66.9 430.4,66.9 430.3,66.7 429.4,66.9 429.3,67.2 429.5,66.8 429.0,66.8 428.8,67.2 428.7,67.7 428.8,67.9 428.7,67.7 428.7,67.8" fill="none" stroke="#222" stroke-width="0.4" stroke-opacity="0.9" stroke-linejoin="round"/>
<path d="M429.9,64.7 429.3,64.5 428.9,64.5 428.6,64.7 428.6,64.5 428.5,64.5 428.4,64.5 428.1,64.6 427.9,65.1 427.6,65.1 427.7,65.4 428.0,66.5 427.8,66.8 427.9,67.2 427.9,67.5 427.5,67.2 427.9,67.0 428.0,67.4 428.4,67.9 428.7,68.4 429.1,68.7" fill="none" stroke="#222" stroke-width="0.4" stroke-opacity="0.9" stroke-linejoin="round"/>
<path d="M429.9,64.7 429.9,65.3 430.4,65.2 431.3,65.0 430.7,65.6 430.1,65.4 429.7,65.9 429.3,66.4 429.1,66.5 429.1,66.8 429.1,67.1 429.0,67.2 429.2,67.9 429.5,67.9 428.8,67.8 428.5,68.1 428.1,68.1 427.9,68.0 428.0,67.8 427.6,67.6 426.9,67.7" fill="none" stroke="#222" stroke-width="0.4" stroke-opacity="0.9" stroke-linejoin="round"/>
<path d="M431.7,59.8 431.6,59.8 431.2,59.5 431.5,60.2 431.4,61.1 431.4,61.5 430.9,63.2 430.2,63.9 429.3,63.5 429.4,63.4 428.6,63.2 428.8,63.1 428.6,62.5 428.3,61.6 429.2,61.0 429.4,60.4 429.8,60.6 430.6,61.2 431.6,61.4 431.2,60.9 431.1,60.4 432.0,60.8 433.0,61.3" fill="none" stroke="#8a1525" stroke-width="0.45" stroke-opacity="0.95" stroke-linejoin="round"/>
<path d="M431.7,59.8 431.3,59.2 431.4,58.3 431.3,57.7 431.9,57.1 432.5,57.4 433.1,58.2 433.7,59.3 434.4,60.5 433.8,61.6 433.7,62.2 433.8,61.8 433.9,61.9 433.8,61.9 433.3,61.8 434.0,62.5 435.0,62.9 435.4,63.5 435.8,63.8 435.8,64.5 435.9,64.3 435.0,63.4 434.6,63.4" fill="none" stroke="#8a1525" stroke-width="0.45" stroke-opacity="0.95" stroke-linejoin="round"/>
<path d="M431.7,59.8 430.7,60.3 429.8,60.3 429.2,60.6 429.8,60.9 430.7,60.2 431.3,60.4 431.3,60.3 431.2,60.1 430.8,60.7 430.5,60.6 430.6,61.0 430.6,61.8 431.9,61.3 433.0,61.1 434.6,60.4 434.7,60.5 434.9,60.9 434.9,61.2 434.0,61.5 433.2,61.3 432.6,61.7 433.0,62.2" fill="none" stroke="#8a1525" stroke-width="0.45" stroke-opacity="0.95" stroke-linejoin="round"/>
<path d="M431.7,59.8 431.9,59.9 432.1,60.4 432.2,60.7 432.8,60.7 434.8,61.1 434.7,61.8 434.8,61.6 435.4,61.0 435.8,60.9 435.7,60.5 435.5,61.0 435.1,61.7 435.9,61.5 436.5,60.6 436.1,60.4 435.8,60.5 434.9,60.4 433.6,59.8 432.6,58.9 432.1,58.2 431.4,57.7 431.8,58.4" fill="none" stroke="#8a1525" stroke-width="0.45" stroke-opacity="0.95" stroke-linejoin="round"/>
<path d="M431.7,59.8 431.3,59.1 430.6,58.4 430.5,58.4 430.3,58.3 430.7,58.1 430.4,57.8 431.1,57.9 431.1,57.3 430.9,57.0 431.5,57.0 432.6,57.7 433.6,57.5 433.4,57.3 433.2,58.4 432.9,58.5 432.6,59.1 431.8,59.7 432.7,59.7 433.2,60.9 433.3,61.8 433.2,62.2 434.2,62.3" fill="none" stroke="#8a1525" stroke-width="0.45" stroke-opacity="0.95" stroke-linejoin="round"/>
<path d="M431.7,59.8 432.1,60.4 432.6,60.3 433.8,60.0 434.9,59.4 435.8,59.0 436.0,58.4 434.9,58.0 434.2,58.1 433.8,57.8 434.3,58.0 434.3,58.8 434.0,58.9 434.2,58.8 433.7,58.0 433.3,57.2 432.7,56.4 431.8,56.6 430.6,56.7 430.1,56.4 430.5,56.3 430.6,56.8 430.5,57.8" fill="none" stroke="#8a1525" stroke-width="0.45" stroke-opacity="0.95" stroke-linejoin="round"/>
<path d="M431.7,59.8 431.7,60.3 430.9,59.9 430.7,59.5 430.4,59.6 431.0,59.8 431.1,59.6 430.4,59.7 430.1,59.1 429.6,59.1 428.3,59.5 428.6,60.1 429.5,60.0 430.3,59.9 430.0,60.4 431.6,60.0 432.1,61.0 432.0,60.9 432.3,61.2 431.3,60.9 430.3,60.3 428.5,60.7 426.7,61.6" fill="none" stroke="#8a1525" stroke-width="0.45" stroke-opacity="0.95" stroke-linejoin="round"/>
<path d="M431.7,59.8 431.3,59.5 430.6,58.9 430.6,58.9 430.1,58.5 429.3,57.9 429.7,57.7 430.3,57.5 431.9,58.0 431.4,59.1 431.5,59.6 431.7,60.0 431.7,59.7 432.6,59.6 433.7,59.2 433.9,58.8 435.2,58.6 435.9,59.1 437.0,59.4 437.4,59.8 436.5,59.2 436.3,59.3 436.9,59.1" fill="none" stroke="#8a1525" stroke-width="0.45" stroke-opacity="0.95" stroke-linejoin="round"/>
<path d="M431.7,59.8 431.4,60.0 431.5,60.4 431.5,59.9 430.5,60.3 430.1,60.4 430.5,59.8 430.8,59.8 431.1,59.6 432.1,59.8 432.7,60.7 433.7,61.3 433.1,61.0 431.9,60.3 431.5,60.4 431.3,60.4 431.7,60.8 431.4,61.7 430.8,61.4 430.4,60.9 431.1,61.0 430.9,60.8 430.1,60.7" fill="none" stroke="#8a1525" stroke-width="0.45" stroke-opacity="0.95" stroke-linejoin="round"/>
<path d="M431.7,59.8 431.1,60.1 431.7,60.7 432.1,61.3 432.3,61.5 433.6,61.5 434.6,60.7 435.7,60.5 436.0,60.9 435.7,61.0 435.4,60.9 435.6,60.5 434.8,60.1 434.9,60.3 434.3,60.5 434.7,60.6 434.7,60.4 434.4,61.1 434.5,60.5 433.4,60.3 433.1,60.0 432.7,60.1 431.1,60.1" fill="none" stroke="#8a1525" stroke-width="0.45" stroke-opacity="0.95" stroke-linejoin="round"/>
<path d="M431.7,59.8 431.8,59.2 433.4,59.2 434.3,59.2 434.7,59.2 434.5,59.2 434.3,59.3 433.7,58.7 434.3,58.8 433.5,58.9 433.1,58.5 432.7,58.2 433.7,58.0 434.5,57.7 434.4,57.7 435.3,57.6 436.2,58.2 436.0,58.7 435.9,59.6 434.8,59.6 434.2,59.8 433.9,60.5 433.9,60.3" fill="none" stroke="#8a1525" stroke-width="0.45" stroke-opacity="0.95" stroke-linejoin="round"/>
<path d="M431.7,59.8 432.1,60.3 432.2,59.7 431.5,58.7 432.0,58.1 432.4,58.7 431.8,60.0 432.0,60.2 432.2,59.9 432.6,60.6 432.2,60.7 432.2,60.5 432.3,60.3 432.0,59.7 430.6,58.7 429.9,57.6 430.4,56.4 430.7,56.6 430.7,56.7 430.8,56.1 431.7,55.3 432.8,55.2 433.7,54.5" fill="none" stroke="#8a1525" stroke-width="0.45" stroke-opacity="0.95" stroke-linejoin="round"/>
<path d="M431.7,59.8 431.3,60.2 431.8,60.2 432.7,59.8 433.0,60.1 432.5,59.9 432.1,59.3 431.8,59.3 431.8,58.3 431.6,57.9 432.6,57.9 433.8,57.7 433.9,57.7 433.8,57.1 433.5,56.8 433.8,57.2 434.7,57.4 434.6,57.8 433.7,58.0 433.4,58.5 433.5,58.1 432.5,58.5 431.9,58.9" fill="none" stroke="#8a1525" stroke-width="0.45" stroke-opacity="0.95" stroke-linejoin="round"/>
<path d="M431.7,59.8 432.4,58.8 432.4,57.7 432.3,57.4 432.2,57.9 432.1,58.1 433.0,58.0 433.1,58.3 433.3,58.4 432.3,58.3 431.7,58.6 430.5,58.7 430.1,58.4 430.4,58.3 431.5,58.6 432.4,59.0 432.6,59.7 433.2,59.5 434.1,59.4 434.3,59.5 433.5,59.5 433.4,59.1 433.9,58.2" fill="none" stroke="#8a1525" stroke-width="0.45" stroke-opacity="0.95" stroke-linejoin="round"/>
<path d="M431.7,59.8 432.3,59.6 433.3,59.0 433.4,59.2 433.7,59.8 433.3,60.3 433.5,60.8 433.5,61.0 433.9,61.3 434.5,61.6 433.9,62.5 433.2,63.6 433.5,64.2 433.6,64.3 432.9,64.5 433.3,64.0 433.2,63.4 433.1,63.8 433.0,64.6 432.6,64.7 432.4,64.8 431.7,64.9 431.6,65.0" fill="none" stroke="#8a1525" stroke-width="0.45" stroke-opacity="0.95" stroke-linejoin="round"/>
<path d="M431.7,59.8 431.4,59.7 430.8,59.2 430.0,58.6 429.3,59.3 429.3,59.2 429.0,59.5 428.3,61.2 428.1,62.3 428.2,62.4 429.0,62.3 429.2,62.1 429.0,61.5 429.3,62.1 430.0,62.5 430.1,63.0 429.8,63.6 429.4,63.1 428.8,62.2 428.6,61.8 429.7,61.6 430.4,61.3 431.3,60.5" fill="none" stroke="#8a1525" stroke-width="0.45" stroke-opacity="0.95" stroke-linejoin="round"/>
<path d="M431.7,59.8 431.6,59.5 432.0,59.2 432.2,59.7 431.2,59.8 430.8,60.7 430.3,61.6 429.5,61.9 429.1,62.0 428.4,62.6 427.9,62.9 428.5,62.9 429.2,62.8 429.2,61.4 429.7,60.4 429.9,59.7 429.2,59.5 429.2,60.1 429.4,59.8 429.3,58.9 429.8,58.1 430.3,58.2 430.2,58.6" fill="none" stroke="#8a1525" stroke-width="0.45" stroke-opacity="0.95" stroke-linejoin="round"/>
<path d="M431.7,59.8 432.0,59.9 431.0,59.7 431.3,59.3 431.2,58.9 430.9,58.1 431.4,57.9 432.2,58.5 433.0,58.7 432.7,58.7 432.3,58.8 431.7,57.8 431.5,57.9 433.2,57.4 433.5,56.8 433.3,56.1 432.6,56.0 432.3,55.3 432.8,55.6 433.1,55.7 432.3,56.1 432.8,56.7 433.1,56.9" fill="none" stroke="#8a1525" stroke-width="0.45" stroke-opacity="0.95" stroke-linejoin="round"/>
<ellipse cx="432" cy="60" rx="2.8" ry="2.8" fill="#6a0c18" fill-opacity="0.9"/>
<path d="M312.0,168.0 308.0,166.0 305.2,164.5 300.0,162.0 295.0,160.0 292.2,159.0 289.4,158.0 287.6,154.4 284.0,151.5 279.3,150.6 276.0,152.0 274.5,154.0 273.2,156.2" fill="none" stroke="#333" stroke-width="0.5" stroke-opacity="1.0" stroke-linejoin="round"/>
<rect x="272.4" y="155.4" width="1.5" height="1.5" fill="#000"/>
<path d="M313.0,168.0 305.2,163.1 298.0,160.5 292.2,159.0" fill="none" stroke="#444" stroke-width="0.45" stroke-opacity="1.0" stroke-linejoin="round"/>
<path d="M312.0,169.0 306.0,167.5 300.6,166.9 296.0,163.0 292.2,159.0" fill="none" stroke="#777" stroke-width="0.45" stroke-opacity="1.0" stroke-linejoin="round"/>
<rect x="291.4" y="158.2" width="1.6" height="1.6" fill="#111"/>
<rect x="304.4" y="163.7" width="1.6" height="1.6" fill="#111"/>
<path d="M315.7,173.4 314.5,174.8 311.0,177.1 307.4,180.1 305.0,185.0 302.6,189.6 300.0,193.0 297.9,195.6 293.1,199.2 291.3,203.3 289.5,206.0 288.3,208.3" fill="none" stroke="#333" stroke-width="0.45" stroke-opacity="1.0" stroke-linejoin="round"/>
<rect x="287.6" y="207.6" width="1.5" height="1.5" fill="#000"/>
<path d="M314.0,175.0 311.0,177.1 305.6,178.9" fill="none" stroke="#444" stroke-width="0.45" stroke-opacity="1.0" stroke-linejoin="round"/>
<rect x="306.6" y="179.3" width="1.5" height="1.5" fill="#222"/>
<rect x="301.9" y="188.8" width="1.5" height="1.5" fill="#222"/>
<path d="M320.7,167.4 322.0,166.0 324.0,160.0 324.0,155.0 326.0,157.0 327.0,161.0 330.0,164.0 333.0,162.0 336.0,161.0 339.2,163.8 337.6,165.5 335.2,164.6" fill="none" stroke="#555" stroke-width="0.45" stroke-opacity="1.0" stroke-linejoin="round"/>
<rect x="334.4" y="163.8" width="1.5" height="1.5" fill="#000"/>
<path d="M321.7,168.4 325.0,167.0 330.0,166.5 334.0,166.0 337.6,163.8" fill="none" stroke="#666" stroke-width="0.4" stroke-opacity="1.0" stroke-linejoin="round"/>
<rect x="336.9" y="163.1" width="1.5" height="1.5" fill="#000"/>
<path d="M318.7,167.4 316.0,164.0 314.0,158.0 318.0,156.0 320.0,159.0" fill="none" stroke="#777" stroke-width="0.4" stroke-opacity="1.0" stroke-linejoin="round"/>
<path d="M320.0,167.9 321.7,167.9 321.5,168.8 321.3,169.1 322.3,168.5 324.0,166.8 325.7,166.5 325.6,166.0 323.3,166.3 321.4,166.1 320.0,165.5 318.7,164.7 317.1,164.1 315.5,163.4 316.3,163.7 315.6,164.2 316.3,163.7 316.7,163.5 316.4,163.1 316.3,163.0 315.2,162.9 315.0,162.8 315.0,163.2 316.5,163.2 318.3,162.6 320.0,163.9 319.6,164.5 319.7,164.5 321.1,163.7 324.0,163.5 323.3,162.2 321.2,161.5 321.1,160.3 320.2,159.7 320.0,160.3 319.0,160.5" fill="none" stroke="#555" stroke-width="0.35" stroke-opacity="0.85" stroke-linejoin="round"/>
<path d="M320.0,167.9 319.0,167.3 318.8,167.1 317.6,168.2 317.0,168.9 320.4,170.1 322.5,170.6 326.1,171.3 328.0,171.7 327.3,172.4 329.2,172.3 329.3,173.1 330.7,173.7 331.8,173.8 332.2,175.2 331.4,176.1 330.2,176.9 328.8,178.0 328.2,178.9 327.3,177.5 325.9,176.9 325.0,176.1 324.3,175.0 323.7,174.2 323.3,173.4 322.5,173.9 324.1,173.0 326.1,172.3 326.4,172.5 325.2,172.2 323.7,171.5 323.5,170.6 322.1,169.9 320.8,168.3 322.9,168.0 324.7,167.9" fill="none" stroke="#555" stroke-width="0.35" stroke-opacity="0.85" stroke-linejoin="round"/>
<path d="M320.0,167.9 322.9,168.9 324.1,170.5 324.4,170.3 322.7,168.9 321.3,168.2 319.5,167.6 319.6,166.2 319.2,165.7 319.4,165.5 320.1,165.4 318.7,166.2 318.9,165.4 319.0,163.8 318.4,163.7 318.9,164.4 316.6,164.0 316.2,162.7 317.2,162.7 316.0,162.9 313.9,162.9 314.1,162.5 314.8,161.8 315.8,161.1 316.4,160.2 314.9,159.3 315.8,159.2 316.8,158.1 317.9,158.4 318.5,158.7 317.7,158.6 318.0,159.7 319.9,160.9 318.9,162.8 317.4,163.0 316.6,162.9" fill="none" stroke="#555" stroke-width="0.35" stroke-opacity="0.85" stroke-linejoin="round"/>
<path d="M320.0,167.9 321.5,168.2 319.8,167.6 318.1,166.8 315.8,166.0 313.5,165.6 312.5,165.5 312.4,166.0 312.2,165.7 312.6,165.3 312.0,166.0 312.1,166.5 315.8,166.5 317.2,167.4 317.6,168.5 316.7,168.2 314.2,167.7 312.7,167.5 311.0,167.6 310.2,167.3 310.5,167.9 309.8,168.1 309.0,167.4 309.2,167.2 310.0,166.5 308.5,166.1 309.5,166.3 309.9,166.9 310.9,167.5 311.5,167.8 311.2,168.7 311.9,169.7 311.8,168.5 313.0,168.1 313.8,168.7 314.7,168.6" fill="none" stroke="#555" stroke-width="0.35" stroke-opacity="0.85" stroke-linejoin="round"/>
<path d="M320.0,167.9 319.0,167.9 317.4,168.3 318.2,168.3 317.7,168.5 317.3,168.8 316.5,169.9 316.5,169.7 316.2,169.7 316.1,169.0 317.5,167.4 318.8,165.8 318.3,165.6 318.0,164.5 317.8,164.2 317.4,165.1 318.6,165.2 318.0,165.0 317.3,165.6 316.3,166.4 316.7,167.2 316.9,167.7 315.9,167.8 314.5,168.5 314.3,169.3 312.9,169.1 312.2,169.1 312.8,167.5 312.2,167.0 313.4,165.4 313.7,164.1 313.3,163.4 315.7,162.7 316.0,163.4 318.0,163.2 317.5,163.7" fill="none" stroke="#555" stroke-width="0.35" stroke-opacity="0.85" stroke-linejoin="round"/>
<path d="M320.0,167.9 319.4,168.2 320.6,166.9 322.5,166.9 322.2,167.7 322.2,168.3 321.2,168.2 320.6,168.1 319.5,168.3 319.0,168.8 319.4,168.6 320.4,169.8 321.0,169.1 320.3,168.4 321.4,168.3 321.6,168.2 319.9,169.1 318.0,169.3 316.4,169.5 314.3,168.8 312.9,168.7 312.6,169.4 311.9,169.3 312.4,170.2 314.7,170.0 316.4,169.7 319.1,170.1 320.7,170.2 322.5,170.9 322.7,171.4 321.7,171.9 320.8,171.7 321.6,171.8 323.2,169.9 322.7,167.7 322.3,166.7" fill="none" stroke="#555" stroke-width="0.35" stroke-opacity="0.85" stroke-linejoin="round"/>
<path d="M320.0,167.9 320.2,168.0 319.6,167.1 318.8,166.7 318.1,166.8 317.6,168.4 317.7,168.3 318.3,168.6 316.8,167.7 314.8,167.0 312.5,166.3 311.3,166.1 311.6,166.5 314.0,167.4 315.1,167.5 316.1,168.3 314.5,169.0 313.7,168.7 313.5,169.4 315.1,169.4 315.6,169.2 315.7,169.9 315.8,169.3 316.5,168.0 315.4,168.7 313.9,170.2 313.8,170.9 313.5,171.2 314.4,172.4 314.9,172.9 314.9,173.0 313.9,172.5 312.8,172.2 316.5,172.1 320.2,171.2 319.3,171.0" fill="none" stroke="#555" stroke-width="0.35" stroke-opacity="0.85" stroke-linejoin="round"/>
<path d="M320.0,167.9 319.7,167.3 319.4,166.9 318.9,168.1 317.9,168.9 319.3,170.1 320.8,171.5 322.3,172.1 322.7,172.6 320.3,172.1 317.8,171.3 316.1,170.3 315.8,168.4 315.0,166.5 314.2,165.6 312.7,165.6 313.0,165.7 311.3,167.0 313.4,166.6 313.9,165.2 312.7,165.4 312.7,166.1 313.8,165.7 315.2,165.2 316.6,164.8 318.0,164.5 319.8,164.1 320.7,163.5 320.2,162.8 319.9,163.7 321.7,163.5 321.6,164.2 322.3,163.2 321.8,162.2 322.2,162.8 321.7,162.6" fill="none" stroke="#555" stroke-width="0.35" stroke-opacity="0.85" stroke-linejoin="round"/>
<path d="M320.0,167.9 321.1,167.5 321.2,167.5 319.7,167.5 320.3,166.6 319.2,167.2 320.9,167.3 321.8,167.2 324.1,167.7 324.7,168.3 324.6,169.1 326.9,169.4 326.5,169.4 324.8,169.3 324.4,169.3 324.0,168.5 323.5,168.3 325.2,167.5 324.5,168.1 324.2,167.7 324.0,168.0 322.5,168.5 321.0,168.1 321.5,167.9 321.5,168.2 320.8,168.8 319.2,168.6 320.9,167.7 322.1,168.0 323.5,169.2 324.4,170.1 322.9,170.4 323.2,169.8 324.1,170.1 325.0,170.4 325.3,170.2" fill="none" stroke="#555" stroke-width="0.35" stroke-opacity="0.85" stroke-linejoin="round"/>
<path d="M320.0,167.9 321.6,166.7 323.7,166.2 325.1,165.3 324.2,164.3 322.4,164.6 322.0,163.9 320.8,163.6 319.2,163.5 318.8,163.9 318.2,164.6 317.2,165.2 317.9,166.9 317.0,169.0 318.7,169.4 320.4,168.1 322.9,167.7 324.3,168.1 326.3,168.3 327.2,168.0 327.9,167.5 329.2,168.5 328.3,169.2 327.6,169.5 327.1,169.0 326.0,168.4 325.7,168.4 324.0,168.6 323.4,167.6 324.4,166.9 324.9,165.7 324.3,164.9 323.8,163.0 323.8,161.8 324.9,162.7 326.0,163.5" fill="none" stroke="#555" stroke-width="0.35" stroke-opacity="0.85" stroke-linejoin="round"/>
<path d="M318.6,171.2 317.7,170.6 317.9,169.9 317.5,169.3 316.2,168.6 314.9,169.3 314.0,168.1 312.4,166.6 312.4,167.6 315.9,168.2 319.0,168.3 322.0,166.7 321.0,167.2 319.4,167.0 319.8,167.0 320.8,168.7 321.0,170.9 321.5,172.1 321.4,172.1 322.4,172.1 322.6,171.9 322.5,170.6 322.0,169.4 319.9,169.6 319.7,170.2 320.0,171.4 322.9,171.3 323.8,171.3 324.7,172.0 323.5,172.7 322.4,174.1 319.8,175.5 320.2,176.9 320.8,177.1 320.9,177.5 321.2,177.9" fill="none" stroke="#333" stroke-width="0.35" stroke-opacity="0.9" stroke-linejoin="round"/>
<path d="M318.6,171.2 319.3,171.3 318.5,172.5 319.1,172.3 320.1,171.9 321.0,171.7 320.4,171.0 321.1,169.1 322.1,168.4 323.0,167.4 325.0,167.1 325.5,167.4 324.3,167.4 323.5,167.7 323.0,168.1 322.3,169.8 321.6,171.8 321.0,173.1 320.0,175.4 319.3,176.3 318.0,177.8 318.3,177.0 319.4,175.2 319.8,175.9 319.6,175.2 320.0,174.1 320.4,173.9 319.7,172.5 321.5,170.5 320.7,170.2 319.1,169.2 319.5,167.1 321.3,165.9 320.9,164.4 319.5,165.5 318.5,166.5" fill="none" stroke="#333" stroke-width="0.35" stroke-opacity="0.9" stroke-linejoin="round"/>
<path d="M318.6,171.2 318.0,170.7 316.0,169.7 315.7,169.3 315.4,169.2 313.0,168.4 312.9,167.5 314.9,166.2 316.0,166.2 316.7,167.5 318.0,168.3 317.5,167.8 316.7,168.0 315.8,167.5 314.6,166.8 315.9,166.5 317.2,165.3 316.5,165.2 313.0,165.7 310.8,166.2 310.5,165.9 310.1,165.3 312.0,165.7 313.2,166.1 314.4,167.1 315.4,169.2 315.6,170.3 316.3,171.6 317.3,172.6 318.7,173.3 320.3,173.5 322.0,175.1 320.3,175.7 321.0,175.8 320.7,175.0 319.8,175.2" fill="none" stroke="#333" stroke-width="0.35" stroke-opacity="0.9" stroke-linejoin="round"/>
<path d="M318.6,171.2 317.8,171.1 316.9,171.3 316.9,170.6 317.4,169.5 319.0,170.2 317.8,170.7 316.7,171.5 316.6,171.8 317.8,172.1 317.3,172.3 316.9,171.6 317.0,170.9 316.0,170.3 315.1,170.3 315.4,168.5 313.3,168.3 312.2,166.8 310.5,166.1 308.1,165.6 308.8,165.1 309.4,165.6 309.9,166.7 312.0,169.1 315.5,170.7 315.1,171.1 314.1,171.7 312.8,172.5 312.0,173.4 310.3,173.4 312.0,173.7 313.4,174.6 315.0,175.1 315.0,175.9 314.8,177.0 316.9,176.4" fill="none" stroke="#333" stroke-width="0.35" stroke-opacity="0.9" stroke-linejoin="round"/>
<path d="M318.6,171.2 319.5,170.5 319.9,169.7 319.7,169.7 319.5,169.2 318.7,168.1 319.8,166.9 320.1,166.6 319.4,167.4 320.9,167.8 322.1,168.5 322.7,167.4 321.1,167.0 321.7,165.7 321.2,165.8 320.2,165.2 320.3,166.4 320.8,167.4 320.8,167.5 320.0,167.9 318.2,168.6 316.6,169.1 314.6,169.3 315.7,170.4 317.4,171.6 315.5,172.0 315.5,174.1 318.0,175.0 318.5,175.7 319.2,175.3 318.8,174.3 317.6,173.3 315.9,172.8 317.2,172.4 319.2,170.9 319.4,169.9" fill="none" stroke="#333" stroke-width="0.35" stroke-opacity="0.9" stroke-linejoin="round"/>
<path d="M318.6,171.2 319.4,169.4 320.8,169.3 322.5,169.6 323.2,170.6 324.7,171.9 324.7,172.7 325.0,173.9 326.0,174.0 326.0,171.9 325.7,171.5 325.6,171.1 325.3,170.1 325.0,169.7 324.0,170.5 322.3,171.2 322.2,171.0 323.7,170.8 324.4,170.4 323.8,170.4 323.2,170.6 322.7,171.1 322.9,171.5 322.1,171.8 322.2,173.1 322.4,173.2 321.2,174.4 318.1,175.6 315.7,177.3 312.1,179.1 309.7,179.5 309.8,177.9 310.0,177.1 311.3,175.2 312.9,175.2 315.1,174.5" fill="none" stroke="#333" stroke-width="0.35" stroke-opacity="0.9" stroke-linejoin="round"/>
<path d="M318.6,171.2 319.0,171.9 318.8,172.5 317.3,172.1 317.7,174.4 318.5,175.5 319.9,176.4 321.0,176.1 321.0,176.1 320.9,175.1 319.4,176.5 317.7,175.2 317.3,175.3 317.8,174.5 319.0,174.1 319.5,174.3 319.4,174.5 321.5,175.3 322.6,174.1 323.8,173.8 323.6,173.0 325.9,171.9 326.1,169.8 327.1,170.8 326.5,171.1 325.8,172.2 324.5,172.8 324.1,172.4 324.9,172.4 323.1,173.4 323.3,175.4 323.2,177.2 323.6,177.5 325.8,176.6 326.9,175.2 326.1,175.2" fill="none" stroke="#333" stroke-width="0.35" stroke-opacity="0.9" stroke-linejoin="round"/>
<path d="M318.6,171.2 319.2,173.0 317.9,174.5 315.4,174.7 314.2,175.5 314.7,175.0 315.7,175.0 315.7,174.3 314.9,175.4 312.5,175.3 309.6,175.0 307.8,174.2 308.2,174.4 308.5,172.6 309.3,169.5 310.3,168.0 310.3,168.6 310.3,169.5 311.8,171.2 312.8,173.4 313.8,174.1 315.1,174.2 316.5,174.2 318.3,174.2 317.6,174.7 317.2,175.8 319.0,175.7 320.2,175.3 320.0,174.9 320.0,172.8 318.1,172.6 317.0,170.6 317.4,168.9 318.5,168.1 319.1,167.7 320.3,167.0" fill="none" stroke="#333" stroke-width="0.35" stroke-opacity="0.9" stroke-linejoin="round"/>
<path d="M318.6,171.2 318.8,169.3 319.3,168.4 319.7,168.9 319.6,168.1 319.2,168.7 318.8,168.9 321.6,168.8 322.6,167.5 322.3,167.1 320.2,169.0 319.1,168.9 319.0,169.8 318.4,171.0 318.2,171.4 319.5,170.8 321.5,170.9 320.5,171.2 322.1,171.1 323.2,170.9 321.7,169.8 318.3,170.0 316.4,170.8 316.4,171.6 315.3,173.3 313.8,174.2 311.8,175.8 310.6,175.0 312.7,173.8 313.3,173.1 313.4,173.1 314.1,173.3 314.5,172.5 316.9,172.6 319.0,172.8 321.4,172.3" fill="none" stroke="#333" stroke-width="0.35" stroke-opacity="0.9" stroke-linejoin="round"/>
<path d="M318.6,171.2 318.6,171.4 318.5,172.7 316.8,172.7 318.6,173.8 317.1,174.7 314.8,175.8 313.8,177.2 314.5,177.5 315.8,178.6 315.4,179.8 316.2,179.0 316.7,177.1 316.3,176.7 315.1,177.1 314.2,177.1 313.4,176.5 312.4,176.7 314.1,174.6 314.5,174.8 315.3,174.7 314.7,174.5 315.7,174.7 317.1,172.8 315.7,173.0 315.6,173.3 315.3,172.9 315.5,173.2 318.2,173.4 321.3,174.4 323.1,174.6 323.5,173.2 321.9,172.1 323.5,172.2 324.1,174.7 323.1,176.3" fill="none" stroke="#333" stroke-width="0.35" stroke-opacity="0.9" stroke-linejoin="round"/>
<path d="M318.6,171.2 318.0,170.2 318.2,169.7 320.1,171.2 320.3,170.7 320.0,170.8 319.1,171.1 317.2,169.6 315.6,167.4 316.0,166.1 318.4,163.4 319.8,163.9 321.8,163.0 322.9,161.7 324.7,160.5 325.9,160.7 327.0,161.7 326.0,161.9 326.3,162.8 326.1,162.8 326.9,163.8 327.3,166.9 327.3,167.5 328.9,166.4 329.6,166.8 329.7,168.3 328.1,169.5 326.4,168.7 325.3,168.5 324.7,168.2 325.5,169.5 325.4,168.8 324.9,168.1 325.5,168.1 323.5,168.1 323.4,168.5" fill="none" stroke="#333" stroke-width="0.35" stroke-opacity="0.9" stroke-linejoin="round"/>
<path d="M318.6,171.2 318.5,170.8 317.8,170.3 315.5,168.9 315.2,168.5 315.8,169.0 317.5,170.1 318.5,171.5 318.9,173.6 318.7,173.9 319.0,172.9 319.9,170.6 318.3,168.2 319.3,168.0 320.3,166.4 321.3,166.1 322.7,165.3 322.5,164.3 321.4,163.4 321.9,162.1 323.0,161.4 322.4,159.9 324.5,160.8 325.7,162.3 326.1,162.6 325.2,160.7 325.5,161.1 326.2,162.2 325.1,161.4 325.2,162.3 324.4,164.3 323.5,166.6 321.6,168.3 319.8,169.5 318.7,169.3 318.2,168.3" fill="none" stroke="#333" stroke-width="0.35" stroke-opacity="0.9" stroke-linejoin="round"/>
<path d="M318.6,171.2 317.9,171.8 317.3,171.8 316.8,172.0 316.6,172.0 317.4,172.6 317.7,172.3 319.2,171.3 321.0,171.5 321.8,170.6 320.9,170.7 318.3,170.2 317.5,168.8 318.0,168.7 319.7,168.6 321.4,167.6 321.8,168.6 321.9,168.1 321.1,168.2 322.3,169.6 321.8,169.9 322.0,170.7 321.8,169.7 320.9,170.5 320.2,169.7 320.7,169.2 322.3,168.9 323.7,169.4 321.9,171.3 321.6,171.7 321.7,171.4 321.3,172.0 322.4,170.7 324.0,171.6 323.9,171.0 324.4,171.7" fill="none" stroke="#333" stroke-width="0.35" stroke-opacity="0.9" stroke-linejoin="round"/>
<path d="M318.6,171.2 319.2,171.0 320.6,170.1 320.8,170.2 320.8,172.1 321.6,172.5 319.9,173.2 318.7,173.5 316.9,173.1 316.1,170.9 316.5,170.4 315.8,171.3 315.7,171.7 316.4,172.1 317.9,171.7 319.2,171.7 320.1,171.0 320.3,169.4 320.2,169.0 320.8,169.1 320.2,170.7 318.2,170.3 318.0,169.8 317.1,169.5 317.0,170.9 316.8,172.4 316.4,171.6 315.8,171.4 316.6,170.5 316.6,170.9 315.4,171.6 316.5,172.4 316.7,173.9 316.8,174.6 316.1,175.4 315.9,176.6" fill="none" stroke="#333" stroke-width="0.35" stroke-opacity="0.9" stroke-linejoin="round"/>
<path d="M318.6,171.2 317.8,169.1 317.1,167.4 319.1,167.5 318.4,167.8 318.4,167.3 318.0,167.6 319.5,168.0 320.0,167.2 320.6,167.2 321.2,166.7 320.7,166.4 319.6,166.7 318.5,168.0 317.6,167.7 316.4,169.1 314.7,170.1 313.2,171.2 309.7,172.4 308.9,173.6 309.6,174.0 309.5,173.3 310.1,173.6 309.9,173.3 309.2,172.9 308.6,173.7 307.6,173.0 307.4,172.7 308.4,172.6 310.3,172.0 311.4,170.8 311.8,170.5 312.0,170.2 311.9,169.2 312.6,168.0 314.0,168.3" fill="none" stroke="#333" stroke-width="0.35" stroke-opacity="0.9" stroke-linejoin="round"/>
<path d="M318.6,171.2 316.5,172.4 316.3,172.2 316.2,171.0 317.5,169.8 318.0,171.5 319.0,172.6 319.8,174.6 320.7,175.9 322.3,176.8 323.8,177.5 323.1,177.4 322.6,177.7 323.4,178.5 324.7,177.7 325.6,176.8 323.9,175.3 323.8,176.1 322.4,176.7 322.2,176.4 320.3,178.2 319.7,180.6 319.7,181.0 318.6,179.8 319.6,179.0 320.2,178.0 320.5,179.4 319.4,180.8 318.1,180.9 316.2,179.3 315.0,178.7 315.2,177.0 314.6,176.6 313.9,176.1 312.6,174.8 312.5,173.4" fill="none" stroke="#333" stroke-width="0.35" stroke-opacity="0.9" stroke-linejoin="round"/>
<path d="M318.1,171.8 318.1,171.3 317.8,171.9 318.0,172.6 317.0,172.8 316.7,173.3 315.3,173.0 315.4,171.9 315.5,172.2 315.2,172.5 314.7,172.4 314.4,172.1 314.4,171.9 313.6,170.9 313.0,170.0 312.6,169.3 313.1,169.0 312.7,168.2 312.0,168.3 312.3,168.5 313.1,168.8 312.7,169.5 313.0,169.7 313.1,169.9 313.4,169.9 314.1,169.4 314.1,170.0 313.1,170.6 312.9,170.3 313.5,169.6 314.5,169.6 314.8,169.6 316.5,170.0 317.8,170.8 318.3,170.3 318.1,169.2 317.7,168.3 317.0,168.2 316.0,168.5 314.0,167.9 313.4,168.4" fill="none" stroke="#111" stroke-width="0.42" stroke-opacity="0.95" stroke-linejoin="round"/>
<path d="M318.1,171.8 317.4,172.6 317.1,173.6 316.8,172.5 316.6,172.2 316.9,171.4 316.4,170.7 316.7,170.0 316.7,170.0 316.3,169.5 316.4,169.6 316.2,170.2 315.5,170.8 314.5,171.5 313.5,171.4 313.3,170.8 314.0,170.4 314.1,170.4 314.5,169.7 315.1,169.9 316.3,170.0 316.0,171.0 315.9,171.3 314.7,170.9 314.5,171.1 313.8,171.2 314.0,171.0 313.6,171.1 313.9,171.0 314.2,171.3 315.0,172.9 315.7,174.5 316.3,175.3 316.5,175.3 317.1,175.2 316.8,174.9 316.3,174.5 316.3,175.0 316.8,175.4 316.5,175.8 315.9,174.8" fill="none" stroke="#111" stroke-width="0.42" stroke-opacity="0.95" stroke-linejoin="round"/>
<path d="M318.1,171.8 318.1,172.2 318.1,172.2 318.1,172.4 319.0,171.6 319.4,169.2 319.1,167.8 319.4,166.4 320.2,164.9 321.0,164.4 320.4,164.4 320.5,164.9 320.0,165.6 320.1,166.0 319.8,167.1 319.9,168.2 320.1,167.8 320.4,168.6 321.3,169.1 322.1,168.8 322.9,170.2 324.2,171.7 325.0,173.1 325.6,173.6 325.2,173.2 322.8,173.5 322.1,174.2 321.7,174.2 321.5,174.0 321.4,173.1 320.5,173.9 319.0,173.8 319.2,174.1 319.6,173.2 319.5,173.0 320.1,173.2 319.7,172.5 319.3,171.6 318.5,171.6 318.4,171.0 317.6,170.0" fill="none" stroke="#111" stroke-width="0.42" stroke-opacity="0.95" stroke-linejoin="round"/>
<path d="M318.1,171.8 318.4,171.6 319.0,172.0 319.0,171.3 319.6,171.2 319.5,170.8 320.5,169.8 320.4,170.3 319.7,171.4 319.1,172.0 318.2,171.4 318.1,171.2 318.3,170.1 318.3,169.9 318.3,170.2 318.2,169.0 318.8,168.5 317.8,167.2 318.0,166.6 318.6,167.1 319.4,168.4 319.6,170.0 319.7,171.5 319.7,171.5 320.0,171.6 320.1,172.0 320.2,171.9 319.2,171.4 319.8,170.7 319.4,171.0 319.7,171.8 319.9,172.3 319.5,172.5 319.3,173.0 319.0,173.9 318.7,174.3 319.6,174.2 319.9,173.7 319.8,174.0 319.7,173.8 319.5,173.4" fill="none" stroke="#111" stroke-width="0.42" stroke-opacity="0.95" stroke-linejoin="round"/>
<path d="M318.1,171.8 317.5,170.9 316.7,171.0 315.7,170.2 315.3,169.9 315.4,169.3 316.2,168.8 317.0,168.2 318.0,168.6 318.1,169.0 318.6,168.5 317.9,169.6 317.9,170.1 318.0,170.4 317.9,170.7 318.5,170.6 318.2,170.6 317.7,171.4 317.1,171.7 317.6,170.9 318.4,170.5 318.1,171.3 318.4,171.4 318.0,171.2 318.2,170.3 317.4,169.3 316.9,168.6 316.5,168.0 315.7,168.3 316.3,169.2 316.1,169.1 315.1,168.3 315.1,169.1 315.8,170.3 315.6,170.5 315.1,171.3 315.0,171.9 314.9,172.2 315.1,171.7 315.4,171.3 316.3,171.5" fill="none" stroke="#111" stroke-width="0.42" stroke-opacity="0.95" stroke-linejoin="round"/>
<path d="M318.1,171.8 318.5,171.0 319.1,171.6 318.6,171.8 318.5,172.3 318.0,171.3 317.2,170.7 316.8,171.2 317.7,170.7 317.4,169.8 317.6,168.4 317.8,167.4 318.5,166.7 318.4,167.3 318.7,168.1 319.5,168.9 321.1,168.7 321.6,169.6 321.6,170.4 321.6,170.0 321.3,169.5 321.8,170.3 322.6,170.6 323.3,172.0 322.8,173.1 322.6,174.1 322.5,174.6 321.8,174.3 321.2,172.0 321.0,172.1 322.1,172.2 322.3,170.7 322.0,171.2 321.9,170.7 322.5,171.5 322.7,171.9 321.8,172.8 321.8,172.9 321.5,172.7 321.4,172.3 321.1,172.0" fill="none" stroke="#111" stroke-width="0.42" stroke-opacity="0.95" stroke-linejoin="round"/>
<path d="M318.1,171.8 318.2,171.9 317.9,172.2 317.6,172.7 317.8,171.2 318.4,171.4 318.1,170.9 317.4,171.3 316.9,172.7 316.3,172.7 314.7,172.0 314.0,172.1 312.7,171.1 312.5,169.4 312.3,168.2 311.3,166.0 310.7,164.5 311.6,162.5 312.4,161.2 312.7,160.1 313.7,160.3 314.3,160.4 315.2,160.3 315.5,160.1 316.0,160.7 316.8,161.1 317.9,161.3 317.5,161.0 318.8,162.8 319.8,164.6 320.1,166.3 319.2,166.7 318.1,167.3 317.2,168.2 316.4,169.6 316.1,169.7 316.4,168.9 316.7,168.3 317.6,169.6 317.7,170.0 318.9,171.4" fill="none" stroke="#111" stroke-width="0.42" stroke-opacity="0.95" stroke-linejoin="round"/>
<path d="M318.1,171.8 317.9,172.5 318.7,172.7 318.5,171.9 318.2,171.3 317.5,169.9 317.5,168.9 317.4,168.4 315.8,169.3 315.6,169.9 315.4,170.3 315.0,170.2 315.1,169.8 314.9,168.6 314.9,168.5 315.4,168.6 315.5,168.0 316.0,168.2 315.8,169.6 315.6,170.3 315.5,169.7 315.2,169.6 314.8,168.4 314.6,167.6 315.3,167.1 315.8,167.8 316.0,169.0 314.7,169.1 315.0,169.4 315.7,170.3 315.9,170.3 315.5,170.7 314.5,171.3 314.3,171.3 314.5,170.7 314.9,169.6 314.5,168.6 315.1,167.8 315.0,168.1 315.1,167.0 315.9,167.1" fill="none" stroke="#111" stroke-width="0.42" stroke-opacity="0.95" stroke-linejoin="round"/>
<path d="M318.1,171.8 319.0,171.6 319.6,172.1 320.1,171.5 320.5,172.5 321.1,173.1 320.4,173.8 319.8,173.6 319.3,173.7 318.6,172.9 317.5,172.8 318.0,172.7 317.3,173.7 317.8,173.3 318.0,172.5 318.3,171.8 318.4,171.4 318.4,171.4 318.0,170.8 318.2,170.8 317.6,170.4 317.9,169.3 318.1,169.2 318.2,168.9 318.2,168.5 318.7,169.2 318.7,169.7 318.1,171.0 318.2,171.2 317.8,171.1 316.8,171.8 316.8,172.6 316.2,173.3 316.1,172.5 316.2,172.5 316.4,172.3 316.8,171.9 316.4,171.9 316.2,172.5 316.9,173.0 316.4,175.1" fill="none" stroke="#111" stroke-width="0.42" stroke-opacity="0.95" stroke-linejoin="round"/>
<path d="M318.1,171.8 318.1,172.2 317.9,172.8 317.4,174.3 317.4,175.6 317.1,177.3 316.6,178.5 315.9,179.3 315.7,180.2 316.5,180.0 316.9,178.9 316.6,178.2 316.5,179.0 316.3,179.8 316.1,180.5 315.8,180.0 315.4,179.1 315.6,178.2 315.4,177.3 315.6,176.8 316.9,177.0 317.5,176.8 317.5,176.9 317.1,177.8 316.8,178.2 317.6,177.9 317.8,176.5 317.7,175.4 318.0,174.0 317.7,173.4 316.9,172.9 315.1,172.3 314.7,172.5 314.6,173.4 314.3,173.1 315.2,173.8 316.0,173.4 315.4,172.6 315.4,172.9 315.2,172.5 316.7,172.2" fill="none" stroke="#111" stroke-width="0.42" stroke-opacity="0.95" stroke-linejoin="round"/>
<path d="M318.1,171.8 317.8,172.5 317.2,172.1 316.3,171.4 315.8,171.3 316.4,170.8 316.5,169.1 317.0,168.2 316.5,168.8 315.7,169.3 314.9,169.6 314.8,169.8 314.3,170.7 313.9,170.4 314.7,169.8 314.4,170.0 315.0,170.5 316.6,170.7 316.8,171.0 315.7,171.6 315.2,171.8 314.2,171.6 314.6,172.3 315.1,172.4 316.0,172.5 316.3,172.8 315.9,171.9 315.7,170.3 315.5,169.5 315.7,169.1 316.5,169.8 317.8,170.6 318.8,170.4 319.6,169.9 320.2,169.9 321.0,169.3 321.4,170.3 322.0,170.2 322.2,172.2 322.2,174.8 322.0,174.8" fill="none" stroke="#111" stroke-width="0.42" stroke-opacity="0.95" stroke-linejoin="round"/>
<path d="M318.1,171.8 319.1,171.4 319.3,170.7 319.1,171.3 319.4,171.4 319.1,171.7 318.5,172.1 317.5,171.7 316.7,172.4 316.5,174.1 315.8,174.5 315.9,174.3 315.9,174.3 316.8,173.8 316.6,173.9 316.3,173.8 316.5,173.5 317.0,172.9 316.7,172.3 317.5,172.6 317.6,173.0 319.2,174.8 320.4,175.6 320.0,175.9 319.6,176.1 319.2,176.1 319.7,177.1 319.9,176.8 320.4,176.5 321.6,174.8 321.8,173.9 321.5,172.7 321.1,172.6 321.4,172.8 320.1,172.6 319.7,172.7 319.4,173.8 318.9,175.4 317.8,176.3 316.9,176.7 316.0,177.7" fill="none" stroke="#111" stroke-width="0.42" stroke-opacity="0.95" stroke-linejoin="round"/>
<path d="M318.1,171.8 317.9,172.2 316.9,172.3 317.3,171.6 316.9,172.6 315.8,172.4 316.1,171.6 316.6,171.4 316.6,171.3 316.1,171.3 316.1,170.3 315.2,170.4 314.9,170.1 315.5,170.4 315.8,171.2 317.1,171.7 318.4,172.2 319.2,171.7 319.6,171.8 320.2,172.7 320.0,173.9 320.0,175.1 321.0,174.3 321.6,173.7 320.5,173.7 320.5,173.5 320.0,172.6 319.1,171.3 318.9,170.8 319.5,170.5 319.1,169.9 320.0,169.9 321.1,169.8 321.3,169.5 320.9,169.8 320.5,171.1 320.6,172.2 321.0,172.6 320.9,172.9 322.3,173.2 323.0,173.9" fill="none" stroke="#111" stroke-width="0.42" stroke-opacity="0.95" stroke-linejoin="round"/>
<path d="M318.1,171.8 318.6,171.9 318.7,173.1 319.5,174.2 319.2,175.2 318.2,174.8 317.8,174.5 317.0,174.4 317.1,175.1 317.4,174.5 316.9,174.2 317.3,174.1 317.1,175.2 317.1,174.5 317.7,174.4 317.9,174.1 317.6,172.8 317.2,173.6 316.5,174.0 316.3,173.9 316.3,173.8 318.0,172.5 318.0,172.6 318.9,171.8 319.0,171.5 319.0,171.2 319.4,170.7 319.7,171.3 320.4,172.4 320.4,172.8 320.3,173.9 320.7,173.7 320.4,174.2 319.8,173.9 317.8,173.9 317.3,173.2 316.5,172.5 316.6,172.0 315.6,172.4 316.2,173.8 316.9,174.7" fill="none" stroke="#111" stroke-width="0.42" stroke-opacity="0.95" stroke-linejoin="round"/>
<path d="M318.1,171.8 317.1,171.0 316.8,170.7 316.6,169.8 316.5,168.9 316.2,168.8 315.5,168.7 313.9,169.3 313.2,169.4 313.9,170.9 313.5,170.8 312.4,170.5 312.5,169.1 312.8,168.0 313.7,168.2 314.4,169.0 315.3,169.0 315.7,169.6 316.0,170.3 316.6,170.3 316.6,170.3 317.4,171.1 318.8,171.4 320.1,172.1 321.1,172.1 321.2,172.9 320.5,173.0 321.3,173.7 321.2,173.0 321.2,172.7 321.5,172.0 321.3,171.7 320.8,172.3 321.8,171.8 321.9,171.1 322.0,171.1 321.9,171.3 320.8,172.1 320.2,172.1 320.1,172.5 320.1,173.0" fill="none" stroke="#111" stroke-width="0.42" stroke-opacity="0.95" stroke-linejoin="round"/>
<path d="M318.1,171.8 318.8,170.9 319.2,171.6 318.5,171.3 318.8,171.4 319.0,171.2 319.5,173.1 319.8,174.1 320.5,175.5 320.1,176.1 320.5,176.4 321.1,176.7 321.7,177.6 322.1,178.4 322.5,178.0 322.3,177.5 322.2,176.6 321.9,176.2 320.3,175.9 319.3,174.6 318.2,174.9 317.8,175.7 317.3,177.2 317.8,177.4 318.5,177.9 318.2,177.7 318.0,176.9 317.8,176.7 318.3,177.8 319.4,178.2 319.9,178.8 320.0,179.3 319.8,179.1 320.9,178.5 321.2,178.9 321.0,178.7 320.8,178.5 320.9,177.6 321.4,177.2 321.1,176.7 320.6,175.1" fill="none" stroke="#111" stroke-width="0.42" stroke-opacity="0.95" stroke-linejoin="round"/>
<path d="M318.1,171.8 318.2,173.2 318.4,174.5 317.4,174.8 316.5,175.4 317.0,175.1 317.7,175.2 318.8,174.6 317.8,174.0 316.9,173.7 315.8,173.7 314.8,173.5 314.2,174.3 314.6,174.5 314.7,174.9 314.7,175.4 315.0,175.9 315.0,175.3 315.2,174.8 315.6,173.7 316.3,173.6 316.8,172.7 317.5,172.0 318.1,172.1 318.6,171.6 317.9,172.6 317.1,173.1 317.1,174.0 317.6,173.4 317.0,172.7 316.1,173.9 315.8,174.1 314.9,175.0 315.9,174.7 316.7,173.8 316.8,173.8 317.2,174.1 316.8,175.8 316.0,176.4 315.9,177.8 315.8,178.3" fill="none" stroke="#111" stroke-width="0.42" stroke-opacity="0.95" stroke-linejoin="round"/>
<path d="M318.1,171.8 317.5,172.8 317.1,174.4 318.0,174.9 318.5,175.3 318.7,175.2 318.9,173.6 319.8,171.8 319.6,171.6 319.1,171.4 318.4,170.3 318.5,170.3 319.0,169.9 320.3,169.7 320.6,169.9 320.6,170.3 320.6,170.9 320.3,170.1 320.1,170.2 319.4,169.8 318.7,170.2 317.6,168.9 316.6,168.2 315.2,168.3 315.1,169.9 314.3,170.9 314.7,171.7 315.1,171.8 314.8,172.6 314.2,173.0 313.0,173.8 313.1,174.4 314.2,173.9 315.3,173.2 316.1,173.6 316.0,173.3 315.4,173.0 314.3,171.9 314.3,171.3 314.6,172.2 315.2,172.0" fill="none" stroke="#111" stroke-width="0.42" stroke-opacity="0.95" stroke-linejoin="round"/>
<path d="M318.1,171.8 317.5,172.7 317.5,172.9 318.6,172.8 319.5,172.5 320.9,171.5 321.4,170.0 321.2,170.3 320.8,171.4 321.3,172.2 321.0,171.8 320.1,172.4 320.0,172.3 319.6,172.3 319.8,172.3 319.3,172.2 318.5,172.7 318.5,173.7 318.8,173.5 318.4,172.5 317.9,171.0 317.4,170.7 316.8,171.3 315.6,171.0 315.2,169.6 315.9,169.3 316.1,168.6 316.3,168.5 316.6,168.8 317.2,170.4 318.3,170.2 318.0,169.5 317.5,168.8 317.7,167.7 317.8,168.3 318.1,169.1 317.6,168.8 317.0,169.2 316.0,169.4 315.7,169.1 314.9,168.4" fill="none" stroke="#111" stroke-width="0.42" stroke-opacity="0.95" stroke-linejoin="round"/>
<path d="M318.1,171.8 318.1,172.9 318.0,172.5 318.3,173.1 319.0,173.9 318.2,174.1 318.0,174.7 318.8,175.1 319.5,175.0 319.9,173.6 318.6,172.4 318.2,171.6 317.4,171.2 317.1,170.6 317.6,169.5 317.9,169.7 318.5,170.4 318.6,171.2 318.6,172.6 317.3,173.2 316.2,173.7 315.5,173.3 314.7,172.5 314.1,171.6 314.4,171.2 314.5,171.9 313.7,172.4 314.3,172.1 313.9,172.2 314.1,171.5 314.7,171.9 314.6,170.7 315.2,170.5 315.1,172.3 314.7,173.9 314.5,174.5 314.7,174.2 315.4,174.2 316.4,174.5 316.9,174.7 317.4,174.4" fill="none" stroke="#111" stroke-width="0.42" stroke-opacity="0.95" stroke-linejoin="round"/>
<path d="M318.1,171.8 318.8,171.8 319.3,171.1 319.3,170.7 319.6,171.6 319.9,172.7 320.0,173.1 319.1,173.1 319.7,173.4 319.5,173.1 318.5,174.4 317.2,174.2 316.9,173.8 315.9,173.9 314.2,173.3 313.8,172.4 313.6,171.2 313.8,170.3 313.8,169.6 313.6,169.3 313.7,169.7 314.4,171.1 315.5,169.9 315.5,170.2 314.5,170.2 312.7,169.6 311.8,169.7 311.3,170.0 310.9,170.0 310.7,169.5 310.8,168.5 311.2,168.4 311.8,167.9 312.6,167.2 312.1,166.4 311.8,165.2 312.4,164.8 311.9,164.7 312.0,165.4 311.9,166.7 312.0,168.5" fill="none" stroke="#111" stroke-width="0.42" stroke-opacity="0.95" stroke-linejoin="round"/>
<path d="M318.1,171.8 317.8,172.0 317.6,172.2 317.0,172.4 315.8,172.8 315.8,172.2 316.0,171.3 315.8,171.3 316.3,172.5 317.9,173.7 318.1,175.6 317.5,177.7 317.0,178.4 316.7,178.9 316.6,179.4 316.3,180.5 315.5,181.0 314.9,181.3 314.5,181.4 314.9,181.5 314.6,181.1 315.3,180.7 316.0,180.5 316.0,181.0 315.4,181.3 314.8,181.7 314.3,182.3 312.9,182.3 312.9,181.1 313.9,179.1 314.5,178.6 314.9,177.7 315.0,177.2 314.5,177.8 315.1,177.1 315.0,176.9 314.8,176.0 315.6,175.6 316.2,174.5 316.9,173.5 317.5,173.1" fill="none" stroke="#111" stroke-width="0.42" stroke-opacity="0.95" stroke-linejoin="round"/>
<path d="M318.1,171.8 318.2,170.5 318.3,169.9 317.9,170.0 318.4,170.1 318.1,169.9 318.1,168.7 318.5,167.9 318.8,168.2 318.8,168.6 318.8,168.1 318.4,168.5 318.9,169.0 318.6,169.3 318.8,169.2 319.4,168.6 320.2,168.3 321.1,168.6 321.7,168.1 320.6,168.6 320.3,170.0 320.1,171.5 319.8,173.5 319.0,175.2 318.6,175.3 318.3,174.6 318.7,174.9 318.8,175.3 318.1,176.1 318.1,176.6 317.8,176.6 317.5,176.1 317.3,176.7 317.6,177.1 318.1,176.2 317.4,176.3 316.3,176.1 315.8,175.8 315.6,175.0 315.2,175.7 315.0,175.2" fill="none" stroke="#111" stroke-width="0.42" stroke-opacity="0.95" stroke-linejoin="round"/>
<path d="M318.1,171.8 317.5,171.2 318.4,170.9 319.0,172.1 318.9,173.1 319.0,174.3 318.4,174.7 317.4,175.4 316.1,175.5 315.8,175.3 315.9,175.0 316.6,174.3 318.8,173.6 320.6,173.5 321.7,173.7 322.1,173.8 324.0,173.6 324.4,172.9 324.1,172.5 324.3,173.0 324.9,174.5 324.3,175.3 322.6,175.8 322.5,175.8 322.5,175.8 322.0,175.0 320.6,174.1 320.3,173.3 320.2,172.8 319.2,172.2 317.4,170.8 316.7,169.4 316.5,169.3 316.7,170.2 316.2,171.4 315.4,171.1 314.7,171.6 314.0,172.2 314.5,171.9 314.4,170.7 314.5,169.8" fill="none" stroke="#111" stroke-width="0.42" stroke-opacity="0.95" stroke-linejoin="round"/>
<path d="M320.3,169.4 320.6,168.9 320.5,169.1 320.4,169.2 320.6,169.3 321.3,169.0 322.2,169.0 323.2,168.6 323.0,169.0 322.4,169.1 322.3,168.5 321.4,168.2 320.3,167.4 320.1,166.9 320.0,166.2 320.5,165.5 321.9,164.5 323.1,164.3 323.5,163.8 323.6,163.7 323.0,164.0 324.1,164.7 324.2,164.9 325.0,164.5 324.8,165.1 324.4,165.8 324.5,166.1 324.3,165.9 323.1,165.6 322.6,165.8 323.3,166.6" fill="none" stroke="#111" stroke-width="0.4" stroke-opacity="0.95" stroke-linejoin="round"/>
<path d="M320.3,169.4 320.7,168.7 320.4,168.1 321.2,167.4 320.9,167.5 321.0,167.6 320.8,168.0 320.2,168.1 319.6,168.5 320.1,169.0 320.4,169.6 320.6,169.6 321.1,168.9 320.8,168.7 320.6,168.5 319.8,168.8 319.3,168.8 319.4,168.3 318.3,168.3 318.4,168.2 319.2,168.0 318.6,168.1 317.6,168.3 317.7,168.1 317.9,168.8 317.8,168.9 317.5,169.4 317.5,170.1 317.5,170.8 317.6,170.5 317.8,171.0" fill="none" stroke="#111" stroke-width="0.4" stroke-opacity="0.95" stroke-linejoin="round"/>
<path d="M320.3,169.4 319.6,169.6 319.7,170.2 319.0,170.8 318.5,171.1 318.3,171.5 318.9,171.3 319.7,171.1 320.4,171.3 321.6,171.4 321.6,171.9 321.5,172.4 321.6,172.4 321.0,172.1 320.8,171.8 320.3,171.4 320.2,170.8 320.5,170.3 320.8,170.1 320.7,168.8 320.0,168.5 319.2,167.9 318.5,167.7 317.8,167.7 317.9,167.0 317.6,167.3 317.3,167.4 317.0,167.4 317.1,168.9 317.7,169.7 318.5,170.4" fill="none" stroke="#111" stroke-width="0.4" stroke-opacity="0.95" stroke-linejoin="round"/>
<path d="M320.3,169.4 320.7,169.2 321.6,169.0 322.4,168.8 322.3,168.3 322.4,168.1 321.8,167.7 321.5,167.5 322.2,167.5 322.3,168.1 322.4,168.3 323.1,168.6 323.4,168.5 324.5,168.6 324.4,168.9 324.3,169.0 324.3,168.9 323.7,168.5 323.4,169.1 323.2,169.4 323.2,169.0 322.9,168.9 322.5,168.8 321.6,168.8 321.6,169.2 322.0,168.8 322.2,168.1 322.4,167.3 321.9,166.8 322.4,166.3 322.2,166.9" fill="none" stroke="#111" stroke-width="0.4" stroke-opacity="0.95" stroke-linejoin="round"/>
<path d="M320.3,169.4 320.9,168.8 322.1,169.2 322.5,168.9 323.2,169.6 324.5,170.4 324.6,170.6 324.2,170.5 324.3,169.7 324.2,169.3 323.7,169.3 323.4,169.1 323.3,169.1 323.0,169.7 322.7,170.5 322.5,170.5 322.1,170.6 321.8,171.3 320.7,171.9 320.1,171.5 319.2,171.1 319.6,170.9 320.2,170.5 321.3,170.1 322.1,170.1 322.8,170.5 322.6,170.8 323.6,171.2 323.4,171.1 323.3,171.2 322.9,171.1" fill="none" stroke="#111" stroke-width="0.4" stroke-opacity="0.95" stroke-linejoin="round"/>
<path d="M320.3,169.4 319.5,170.0 319.7,170.1 319.5,169.3 319.0,168.8 318.5,168.4 319.5,167.6 320.5,167.7 321.4,167.9 321.5,167.2 321.5,166.9 321.9,166.7 322.7,166.4 322.5,166.0 323.3,165.8 323.1,166.5 322.8,166.4 322.7,166.8 322.7,167.3 322.3,167.7 320.6,167.3 320.5,167.0 319.8,167.3 319.6,166.9 320.3,166.5 321.0,166.4 322.0,165.6 322.0,165.5 322.1,165.1 322.5,165.5 323.6,164.9" fill="none" stroke="#111" stroke-width="0.4" stroke-opacity="0.95" stroke-linejoin="round"/>
<path d="M320.3,169.4 320.3,169.2 320.7,169.3 320.6,169.7 320.1,170.3 319.6,170.3 318.5,170.2 319.5,170.7 320.0,171.4 320.7,172.1 321.6,172.5 322.3,172.6 322.9,173.0 323.5,172.9 324.1,173.3 323.9,173.5 323.9,173.1 323.9,173.3 324.2,172.6 324.5,172.3 324.8,171.7 325.2,171.0 324.3,170.3 323.7,169.9 322.8,170.2 322.9,170.7 322.5,171.0 321.9,170.5 321.9,170.0 322.2,169.6 321.8,168.9" fill="none" stroke="#111" stroke-width="0.4" stroke-opacity="0.95" stroke-linejoin="round"/>
<path d="M320.3,169.4 319.8,169.3 320.0,168.5 319.8,168.4 319.9,168.6 319.6,168.8 319.2,168.6 320.3,168.3 320.3,168.6 320.6,169.2 320.8,169.0 321.0,169.0 321.5,169.2 321.3,169.6 321.7,170.1 322.4,170.5 322.2,170.3 321.9,169.6 321.8,169.5 321.8,169.7 321.8,169.5 321.3,169.9 320.7,170.1 320.6,170.5 321.0,170.5 321.4,170.7 322.2,171.2 322.2,171.5 322.6,171.4 322.5,171.1 322.9,170.4" fill="none" stroke="#111" stroke-width="0.4" stroke-opacity="0.95" stroke-linejoin="round"/>
<path d="M320.3,169.4 320.3,169.6 320.9,169.8 321.9,169.8 322.5,169.7 322.0,168.8 321.8,168.2 321.5,167.9 321.3,167.4 321.4,166.8 322.3,166.1 322.4,166.1 323.4,166.4 324.3,165.8 323.3,166.1 322.2,166.1 322.1,166.5 322.5,166.2 322.7,165.7 322.6,166.1 322.8,166.9 322.4,167.8 322.1,168.2 321.8,168.8 322.0,168.6 322.8,167.7 323.0,167.2 323.4,166.7 323.1,167.0 323.6,167.4 323.7,167.6" fill="none" stroke="#111" stroke-width="0.4" stroke-opacity="0.95" stroke-linejoin="round"/>
<path d="M320.3,169.4 319.5,169.6 319.2,169.1 318.7,168.8 318.8,167.8 318.4,166.5 318.7,165.5 319.0,164.7 319.3,164.9 319.5,164.6 319.3,164.3 319.3,164.3 320.1,164.7 320.6,165.4 320.8,165.7 321.1,165.8 321.1,166.4 321.8,166.8 322.0,166.5 322.2,166.2 321.6,166.8 321.5,166.6 320.6,165.8 320.4,165.2 319.4,165.4 318.9,165.8 318.4,166.3 318.1,166.4 318.8,166.0 319.2,166.1 319.7,165.9" fill="none" stroke="#111" stroke-width="0.4" stroke-opacity="0.95" stroke-linejoin="round"/>
<path d="M320.3,169.4 319.9,169.2 320.3,170.1 320.5,169.9 321.2,169.7 321.6,169.2 322.1,168.6 323.0,168.5 323.8,168.2 323.9,167.6 323.1,167.2 322.0,166.6 320.6,166.7 319.8,166.2 319.0,165.9 317.5,165.5 317.3,165.0 316.7,165.4 316.7,165.5 317.6,164.9 318.1,164.3 318.1,163.8 317.5,164.4 316.6,165.4 315.9,165.9 315.5,165.9 315.4,166.2 314.5,166.2 314.8,167.5 315.7,168.5 315.8,168.1" fill="none" stroke="#111" stroke-width="0.4" stroke-opacity="0.95" stroke-linejoin="round"/>
<path d="M320.3,169.4 319.5,169.3 318.5,169.0 318.2,169.3 317.5,169.3 316.7,169.0 316.8,168.9 317.2,169.3 317.4,169.8 318.1,170.5 318.5,169.8 318.7,169.9 318.8,170.6 319.0,171.2 318.6,170.5 318.8,170.9 318.4,171.0 318.3,170.7 318.3,170.6 318.3,169.8 318.8,169.5 319.0,168.9 318.7,168.4 318.1,168.2 318.1,168.0 317.7,167.7 317.5,167.6 316.7,168.1 317.1,168.4 318.6,169.0 319.1,169.1" fill="none" stroke="#111" stroke-width="0.4" stroke-opacity="0.95" stroke-linejoin="round"/>
<path d="M320.3,169.4 321.2,169.1 321.6,169.3 322.3,169.6 321.5,169.6 320.6,169.6 320.3,170.1 321.0,170.6 321.3,171.1 320.2,171.2 319.5,171.3 320.0,171.8 320.1,171.8 320.7,171.2 321.8,171.2 322.6,171.1 323.5,170.8 323.3,170.8 323.3,171.1 323.2,170.8 324.1,170.1 324.4,170.6 324.3,170.8 324.4,171.1 324.7,171.6 325.2,172.1 325.3,172.6 324.2,172.5 323.6,172.6 322.4,172.1 321.7,171.8" fill="none" stroke="#111" stroke-width="0.4" stroke-opacity="0.95" stroke-linejoin="round"/>
<path d="M320.3,169.4 319.9,168.7 319.8,168.1 319.8,167.4 319.8,166.8 319.4,166.5 319.1,166.9 319.4,167.4 319.6,167.0 319.5,166.5 318.8,166.3 319.0,166.1 319.6,165.6 319.7,165.1 319.7,164.5 320.3,164.4 320.5,164.5 319.9,164.6 319.8,164.7 319.8,164.8 319.8,165.4 319.4,165.6 318.9,166.3 318.4,166.9 319.0,167.1 319.2,167.3 318.8,168.1 318.5,168.1 317.8,168.2 318.2,168.2 318.9,168.4" fill="none" stroke="#111" stroke-width="0.4" stroke-opacity="0.95" stroke-linejoin="round"/>
<ellipse cx="318.4" cy="171.4" rx="2.8" ry="3.2" fill="#000" fill-opacity="0.7"/>
<rect x="313.9" y="182.2" width="1.4" height="1.4" fill="#222"/>
<rect x="322.6" y="181.3" width="1.4" height="1.4" fill="#222"/>
<rect x="326.6" y="168.7" width="1.4" height="1.4" fill="#222"/>
<rect x="325.0" y="163.9" width="1.4" height="1.4" fill="#222"/>
<rect x="313.8" y="181.8" width="1.4" height="1.4" fill="#222"/>
<path d="M431.7,171.8 433.0,168.0 435.0,165.0 437.0,162.0 440.0,159.0 443.9,157.2" fill="none" stroke="#999" stroke-width="0.45" stroke-opacity="1.0" stroke-linejoin="round"/>
<rect x="443.1" y="156.4" width="1.5" height="1.5" fill="#000"/>
<path d="M431.7,171.8 430.0,168.0 428.0,164.0 426.5,161.0 425.9,159.7" fill="none" stroke="#d07070" stroke-width="0.45" stroke-opacity="1.0" stroke-linejoin="round"/>
<rect x="425.1" y="158.9" width="1.5" height="1.5" fill="#000"/>
<path d="M431.7,171.8 436.0,174.0 440.0,175.5 443.0,176.0 446.0,175.5 447.5,174.5" fill="none" stroke="#aaa" stroke-width="0.45" stroke-opacity="1.0" stroke-linejoin="round"/>
<path d="M431.7,171.8 436.0,173.0 440.0,172.0 444.4,172.8" fill="none" stroke="#888" stroke-width="0.45" stroke-opacity="1.0" stroke-linejoin="round"/>
<rect x="443.6" y="172.1" width="1.5" height="1.5" fill="#000"/>
<path d="M431.7,171.8 435.0,169.0 437.5,167.0" fill="none" stroke="#666" stroke-width="0.45" stroke-opacity="1.0" stroke-linejoin="round"/>
<rect x="436.8" y="166.2" width="1.5" height="1.5" fill="#000"/>
<path d="M431.7,171.8 432.0,176.0 432.0,179.0 432.2,180.7" fill="none" stroke="#c05050" stroke-width="0.45" stroke-opacity="1.0" stroke-linejoin="round"/>
<rect x="431.4" y="179.9" width="1.5" height="1.5" fill="#000"/>
<path d="M431.7,171.8 428.0,176.0 425.0,178.0 422.0,180.0" fill="none" stroke="#e08080" stroke-width="0.4" stroke-opacity="1.0" stroke-linejoin="round"/>
<path d="M430.6,173.2 430.0,173.9 429.5,173.6 429.8,173.3 429.5,173.7 429.4,174.6 429.4,174.9 430.4,175.5 431.1,175.7 431.8,175.6 431.9,176.2 432.6,176.8 433.0,176.9 433.0,175.8 432.6,174.5 430.9,173.8 430.2,172.5 429.8,172.0 429.8,173.0 429.8,172.8 431.1,172.0 430.3,171.6 430.4,171.9 429.8,172.6 430.0,173.4 429.7,174.0" fill="none" stroke="#e06060" stroke-width="0.35" stroke-opacity="0.8" stroke-linejoin="round"/>
<path d="M430.6,173.2 429.7,173.2 429.2,173.2 427.7,172.9 426.4,172.9 425.9,172.6 425.5,173.5 425.1,173.2 426.0,171.8 426.2,170.8 426.7,169.9 426.6,169.8 424.8,170.2 424.3,170.0 424.1,170.2 424.2,170.8 425.2,170.4 425.9,170.6 426.3,170.1 426.5,169.7 426.8,171.6 427.8,172.6 428.7,173.1 429.8,173.8 429.9,173.9 429.3,173.3" fill="none" stroke="#e06060" stroke-width="0.35" stroke-opacity="0.8" stroke-linejoin="round"/>
<path d="M430.6,173.2 431.3,172.8 432.0,173.2 432.8,173.3 432.7,173.0 433.2,173.0 433.7,174.7 432.5,175.7 432.0,175.6 431.5,175.7 432.1,176.4 432.7,176.7 432.1,177.3 431.7,177.5 431.4,178.2 431.4,178.1 430.9,177.9 430.5,177.7 430.7,176.9 431.0,176.9 431.1,177.9 431.1,178.3 431.0,178.6 430.5,178.2 430.7,177.1 430.7,176.9" fill="none" stroke="#e06060" stroke-width="0.35" stroke-opacity="0.8" stroke-linejoin="round"/>
<path d="M430.6,173.2 429.9,174.2 429.3,174.2 429.6,175.0 431.0,174.9 430.5,173.3 429.0,172.4 428.7,171.8 429.6,171.5 430.9,171.6 432.3,171.1 432.5,170.3 432.4,170.8 432.0,170.6 431.3,170.4 431.4,170.1 431.1,170.2 430.9,170.7 431.1,171.3 431.2,171.8 430.7,171.7 430.4,171.1 430.6,169.7 430.8,168.5 431.4,167.4 431.9,167.1" fill="none" stroke="#e06060" stroke-width="0.35" stroke-opacity="0.8" stroke-linejoin="round"/>
<path d="M430.6,173.2 431.3,173.4 431.7,174.8 431.2,176.2 431.7,176.5 432.3,176.8 431.7,176.2 431.5,176.5 430.8,177.6 430.5,177.9 431.2,176.8 431.1,175.5 430.4,175.4 429.6,175.0 429.7,175.2 429.8,175.8 429.2,175.7 428.6,175.1 428.2,174.8 427.2,174.6 426.8,174.5 426.5,173.9 426.0,174.3 425.3,174.2 425.8,174.6 426.9,174.6" fill="none" stroke="#e06060" stroke-width="0.35" stroke-opacity="0.8" stroke-linejoin="round"/>
<path d="M430.6,173.2 431.4,174.0 432.5,174.2 433.8,174.9 433.5,174.3 432.8,174.5 432.9,175.4 431.9,175.7 430.6,176.4 430.4,176.1 430.5,176.2 429.9,176.9 430.0,177.2 429.8,176.9 430.1,177.5 429.4,177.3 429.0,177.5 428.9,177.7 427.9,177.7 427.8,178.3 427.9,178.8 428.1,179.7 428.9,179.6 429.8,179.5 430.6,179.3 430.2,179.1" fill="none" stroke="#e06060" stroke-width="0.35" stroke-opacity="0.8" stroke-linejoin="round"/>
<path d="M430.6,173.2 430.8,173.9 430.5,173.8 430.2,173.5 429.7,174.4 430.2,174.5 430.8,174.6 432.3,174.0 432.7,173.8 434.0,174.0 434.0,173.8 434.0,174.9 434.9,175.8 435.3,176.8 435.9,176.6 436.1,175.6 436.8,174.9 437.9,175.2 437.0,175.1 436.5,174.5 436.4,174.5 435.8,174.4 435.0,174.7 434.0,175.0 433.5,174.7 433.4,175.0" fill="none" stroke="#e06060" stroke-width="0.35" stroke-opacity="0.8" stroke-linejoin="round"/>
<path d="M430.6,173.2 430.0,173.5 429.6,175.4 428.9,176.5 429.7,177.3 428.9,177.1 427.6,177.3 427.7,177.1 428.6,177.0 430.5,175.8 431.3,174.9 431.4,173.7 431.4,173.7 430.3,172.9 430.1,173.1 430.3,171.6 430.5,171.0 430.5,170.1 430.3,170.2 429.3,170.2 428.8,170.8 428.4,170.3 427.2,169.5 426.5,168.9 427.0,168.2 426.9,167.9" fill="none" stroke="#e06060" stroke-width="0.35" stroke-opacity="0.8" stroke-linejoin="round"/>
<path d="M430.6,173.2 429.9,173.4 429.4,174.2 429.5,175.0 430.0,175.8 430.4,174.9 430.2,174.2 430.3,173.7 430.0,173.8 430.5,173.9 430.4,173.5 430.6,173.7 431.9,173.7 432.7,173.4 433.0,173.2 433.2,173.2 433.6,173.7 434.2,175.7 435.1,176.5 435.0,176.6 433.7,177.9 432.8,177.8 431.4,178.5 430.9,179.5 431.5,179.9 431.1,180.4" fill="none" stroke="#e06060" stroke-width="0.35" stroke-opacity="0.8" stroke-linejoin="round"/>
<path d="M430.6,173.2 431.1,173.5 432.1,175.2 432.7,175.6 432.6,175.3 432.2,176.3 432.3,175.9 433.3,175.7 434.4,175.8 435.4,175.1 436.1,175.5 436.6,175.7 437.4,175.9 437.7,177.1 438.5,176.4 439.0,177.0 439.1,177.3 438.5,176.3 437.9,175.5 437.2,175.1 436.8,175.2 437.2,176.0 438.0,175.9 438.6,175.1 438.2,175.1 437.2,174.9" fill="none" stroke="#e06060" stroke-width="0.35" stroke-opacity="0.8" stroke-linejoin="round"/>
<path d="M431.9,172.1 431.2,172.2 431.4,172.5 431.3,172.9 431.4,173.7 431.6,174.2 431.9,174.1 431.0,173.6 431.6,174.7 431.7,175.6 431.8,177.0 431.6,177.4 431.5,177.7 432.2,177.5 432.1,176.4 432.4,175.4 432.3,174.9 431.8,174.9 431.8,175.6 430.7,176.0 430.5,175.9 430.3,175.2 431.0,175.3 431.5,175.2 432.0,175.3 432.9,175.1 433.6,174.9 434.8,175.5 435.5,176.5 435.3,177.5 436.1,178.3" fill="none" stroke="#b01820" stroke-width="0.45" stroke-opacity="0.95" stroke-linejoin="round"/>
<path d="M431.9,172.1 432.5,172.1 432.3,172.5 432.6,172.0 432.8,172.0 432.6,171.9 432.1,172.1 432.4,172.0 433.1,172.2 434.1,172.1 433.6,172.4 433.3,171.9 434.0,171.7 434.5,171.3 433.7,170.8 432.7,169.8 432.2,170.1 432.1,170.8 432.0,171.7 432.5,172.0 432.7,172.2 432.5,173.0 432.2,172.8 431.8,172.1 431.6,172.2 431.1,172.0 430.8,172.3 430.5,171.6 430.0,171.4 429.4,172.4 428.9,173.5" fill="none" stroke="#b01820" stroke-width="0.45" stroke-opacity="0.95" stroke-linejoin="round"/>
<path d="M431.9,172.1 431.7,171.7 432.5,171.7 433.2,171.9 433.8,172.3 433.9,172.0 433.0,172.4 431.8,172.6 431.3,173.9 431.7,173.9 431.9,173.8 432.0,173.3 432.5,173.4 433.3,173.2 433.7,173.1 433.1,173.9 432.6,174.5 433.2,174.1 434.1,173.3 433.9,172.5 433.7,171.9 432.8,171.2 432.2,170.8 431.9,170.4 432.2,169.9 431.9,169.7 431.4,170.1 431.1,168.9 431.8,168.4 432.1,168.4 432.3,168.2" fill="none" stroke="#b01820" stroke-width="0.45" stroke-opacity="0.95" stroke-linejoin="round"/>
<path d="M431.9,172.1 432.2,172.2 431.8,173.3 430.9,173.9 428.8,174.9 426.8,175.3 425.8,175.1 424.9,173.4 425.7,172.6 425.8,173.2 426.2,173.3 425.9,173.1 425.6,173.8 426.0,173.6 427.2,173.7 428.2,174.3 428.5,175.0 430.1,174.8 430.5,175.5 430.4,175.8 430.3,176.1 429.9,175.8 430.7,175.6 430.8,175.3 429.7,175.0 429.9,173.8 429.2,174.3 429.4,174.2 429.2,174.4 428.7,175.3 428.8,175.5" fill="none" stroke="#b01820" stroke-width="0.45" stroke-opacity="0.95" stroke-linejoin="round"/>
<path d="M431.9,172.1 431.3,171.8 431.5,171.1 432.3,171.4 433.9,170.5 434.6,170.7 435.8,170.4 437.0,169.6 436.9,168.7 436.4,168.9 434.8,168.8 434.2,168.1 433.9,167.6 434.0,166.6 434.6,167.2 435.0,167.2 435.0,168.5 434.3,169.1 434.2,169.6 434.3,170.8 434.5,171.9 433.7,172.6 433.8,173.4 434.6,174.1 434.9,175.2 434.8,175.4 433.9,175.1 432.5,174.1 432.7,173.7 433.2,173.8 433.3,174.2" fill="none" stroke="#b01820" stroke-width="0.45" stroke-opacity="0.95" stroke-linejoin="round"/>
<path d="M431.9,172.1 432.0,172.1 432.0,172.0 431.8,172.3 431.4,172.4 431.4,171.6 431.0,171.2 431.5,171.3 432.5,170.5 433.1,170.3 432.9,170.1 432.9,170.4 433.0,170.1 432.7,170.0 433.6,170.9 434.6,170.9 434.7,171.3 434.8,171.4 434.8,171.7 434.7,172.1 434.5,172.0 434.4,172.4 434.1,172.9 433.6,173.9 432.6,174.5 432.4,175.1 432.3,174.4 431.7,174.3 430.8,174.6 430.8,175.4 431.5,175.5" fill="none" stroke="#b01820" stroke-width="0.45" stroke-opacity="0.95" stroke-linejoin="round"/>
<path d="M431.9,172.1 431.7,171.8 431.9,172.1 431.6,172.3 432.9,172.7 433.8,172.7 433.8,173.4 433.9,173.3 433.7,173.5 434.1,174.1 433.9,174.4 434.5,174.2 433.6,174.2 432.9,173.7 432.8,173.2 432.3,173.4 431.8,173.9 431.6,173.8 431.2,173.0 430.6,173.3 430.0,173.0 429.6,171.9 428.9,171.2 429.1,170.6 428.8,171.0 428.5,172.0 428.7,173.3 429.0,174.3 428.8,173.7 430.0,174.7 431.7,175.9" fill="none" stroke="#b01820" stroke-width="0.45" stroke-opacity="0.95" stroke-linejoin="round"/>
<path d="M431.9,172.1 432.2,172.2 431.8,171.9 430.9,172.7 430.7,173.2 431.5,173.3 431.7,173.2 430.8,173.2 429.6,173.2 429.1,172.6 428.3,172.3 427.9,172.2 428.0,171.4 427.9,171.3 427.9,171.4 428.5,171.6 429.4,170.8 429.3,170.7 429.2,171.3 429.4,171.7 429.1,171.8 428.9,171.9 429.5,173.1 428.4,173.7 427.9,173.7 427.5,174.6 426.6,174.5 427.3,174.0 427.3,174.5 428.9,174.7 429.6,175.1" fill="none" stroke="#b01820" stroke-width="0.45" stroke-opacity="0.95" stroke-linejoin="round"/>
<path d="M431.9,172.1 432.0,171.3 431.7,170.3 432.4,169.6 433.3,170.0 433.7,170.6 434.7,171.3 435.7,171.3 435.2,171.3 433.7,171.0 432.5,170.9 432.0,170.7 431.7,170.5 431.3,170.7 430.9,171.7 431.0,171.7 431.2,171.6 431.4,172.4 431.4,172.5 431.6,173.0 432.4,173.3 432.5,173.7 431.7,173.7 431.9,172.8 432.7,171.8 433.9,170.9 434.1,169.4 433.8,169.0 434.0,168.9 433.8,168.9 433.3,168.9" fill="none" stroke="#b01820" stroke-width="0.45" stroke-opacity="0.95" stroke-linejoin="round"/>
<path d="M431.9,172.1 432.3,172.5 432.7,172.6 432.2,172.4 432.9,172.6 431.9,171.9 431.1,171.9 430.7,172.3 430.8,173.0 431.3,173.4 431.6,173.4 432.6,173.2 433.0,172.8 432.8,171.8 432.0,172.1 431.9,172.1 432.9,173.2 432.7,174.6 431.8,175.3 431.5,175.1 431.0,175.4 430.4,174.6 428.4,174.3 427.2,174.1 425.9,174.2 425.0,173.8 424.3,173.9 424.2,173.8 423.1,174.0 423.6,174.3 424.3,172.8" fill="none" stroke="#b01820" stroke-width="0.45" stroke-opacity="0.95" stroke-linejoin="round"/>
<path d="M431.9,172.1 431.7,172.0 431.6,171.9 431.5,172.7 430.6,172.9 430.2,174.2 430.0,174.4 430.7,174.7 431.9,174.9 432.3,175.1 432.8,175.5 433.5,175.1 433.4,174.5 432.8,173.9 432.1,173.9 431.1,173.0 431.4,172.6 430.7,172.5 430.8,172.6 429.9,172.9 430.6,173.1 431.1,173.1 432.1,172.1 432.7,170.9 432.1,169.4 433.6,169.1 434.2,169.4 434.8,170.5 434.3,170.3 434.5,170.1 434.4,170.7" fill="none" stroke="#b01820" stroke-width="0.45" stroke-opacity="0.95" stroke-linejoin="round"/>
<path d="M431.9,172.1 431.1,171.2 430.2,171.3 431.2,171.4 432.0,170.9 432.6,169.9 433.4,169.8 433.9,170.3 434.4,171.3 433.9,171.7 433.0,171.6 432.6,172.0 432.6,172.3 432.2,172.8 432.5,172.7 433.6,173.2 432.8,173.5 432.3,173.2 432.0,173.1 432.1,172.3 432.4,171.8 432.6,172.1 432.8,172.1 432.9,172.1 433.4,172.7 432.9,173.8 432.3,173.8 432.1,174.1 432.0,173.3 432.3,172.7 433.0,171.8" fill="none" stroke="#b01820" stroke-width="0.45" stroke-opacity="0.95" stroke-linejoin="round"/>
<path d="M431.9,172.1 431.8,172.6 432.0,173.2 431.9,173.7 431.9,174.6 431.5,174.5 430.8,174.1 430.2,173.5 429.0,172.7 428.9,172.5 429.4,172.7 430.4,173.1 430.1,173.9 430.4,174.2 430.6,174.5 431.4,175.1 431.9,176.4 431.9,176.3 431.9,176.5 432.3,176.5 432.2,176.4 432.4,176.6 431.7,176.6 431.0,176.6 431.6,175.7 432.2,175.5 432.7,175.1 432.6,174.5 432.1,173.3 431.7,172.8 431.3,171.9" fill="none" stroke="#b01820" stroke-width="0.45" stroke-opacity="0.95" stroke-linejoin="round"/>
<path d="M431.9,172.1 432.5,172.7 432.7,173.8 433.0,174.3 432.8,174.4 432.1,174.0 431.3,174.3 431.6,174.4 432.4,173.5 432.0,172.6 431.9,172.0 432.0,171.8 432.1,171.6 432.2,171.3 431.4,170.2 430.8,169.2 430.6,168.9 430.5,168.2 430.3,168.7 430.8,169.9 431.5,169.4 432.0,169.9 431.8,169.8 431.5,169.4 430.8,169.8 432.1,170.9 431.6,172.2 431.5,173.3 431.8,174.8 432.0,175.7 433.2,176.8" fill="none" stroke="#b01820" stroke-width="0.45" stroke-opacity="0.95" stroke-linejoin="round"/>
<path d="M431.9,172.1 431.5,172.3 432.0,172.2 432.1,171.7 431.7,172.0 431.1,172.7 430.5,173.1 429.6,173.9 428.2,173.4 428.0,173.1 428.7,173.0 429.7,172.6 430.5,171.9 430.5,171.9 430.2,172.4 430.9,172.6 431.3,173.1 432.2,173.4 432.8,173.9 434.1,174.5 434.8,174.6 434.7,175.2 434.7,175.0 433.9,174.0 433.9,173.6 435.0,172.6 435.5,172.2 434.8,171.0 435.0,170.6 434.8,170.1 434.8,169.9" fill="none" stroke="#b01820" stroke-width="0.45" stroke-opacity="0.95" stroke-linejoin="round"/>
<path d="M431.9,172.1 431.1,171.1 430.4,171.0 430.9,170.9 430.8,171.6 431.0,172.1 430.6,172.2 430.9,172.4 431.3,172.7 432.1,173.0 432.3,172.6 432.0,172.7 431.9,171.9 431.9,172.2 432.1,171.8 433.0,171.5 433.2,171.4 433.1,170.5 433.8,170.3 434.2,170.8 434.9,170.9 435.3,172.0 435.1,172.2 434.7,173.2 434.9,173.4 434.6,172.7 434.1,172.9 434.0,173.3 433.8,173.5 433.8,172.9 434.0,172.8" fill="none" stroke="#b01820" stroke-width="0.45" stroke-opacity="0.95" stroke-linejoin="round"/>
<path d="M431.9,172.1 431.6,171.9 431.4,171.7 432.0,172.1 432.7,173.3 433.4,173.5 434.0,173.5 433.9,174.6 433.1,174.3 432.2,173.2 432.2,173.0 431.6,172.8 430.9,172.0 430.2,171.9 430.5,173.1 430.8,173.8 431.8,174.4 432.0,174.6 432.2,174.7 432.1,173.7 431.7,172.7 431.7,172.7 432.5,173.4 432.8,174.2 431.7,174.3 431.8,173.9 431.0,173.1 430.2,172.6 429.7,172.2 430.3,171.8 430.1,171.8" fill="none" stroke="#b01820" stroke-width="0.45" stroke-opacity="0.95" stroke-linejoin="round"/>
<path d="M431.9,172.1 434.3,171.8 435.8,170.7 436.3,170.5 436.2,170.9 436.9,171.4 437.3,171.6 436.8,170.9 436.4,169.7 436.2,169.8 435.8,169.6 435.7,169.0 434.3,168.6 434.1,168.4 433.7,168.3 432.3,169.0 432.0,169.9 432.2,170.2 432.8,170.8 432.8,171.6 432.1,172.4 431.9,172.6 432.4,172.4 433.0,173.4 433.2,173.9 433.3,174.6 433.8,174.5 433.9,173.7 434.0,173.5 433.7,173.1 433.5,173.6" fill="none" stroke="#b01820" stroke-width="0.45" stroke-opacity="0.95" stroke-linejoin="round"/>
<path d="M431.9,172.1 431.8,171.6 431.9,171.5 431.8,172.0 431.0,172.7 430.4,172.5 429.9,171.1 430.6,170.6 430.8,170.0 431.0,169.9 430.5,170.0 430.9,169.6 431.6,169.3 433.0,169.3 433.4,168.9 433.6,169.7 434.8,169.9 435.6,170.2 436.3,169.7 436.6,169.4 436.2,169.2 435.4,169.1 434.8,168.7 434.4,168.8 433.7,168.4 433.2,168.4 432.1,169.2 432.1,169.5 432.0,169.8 432.2,170.2 432.0,170.9" fill="none" stroke="#b01820" stroke-width="0.45" stroke-opacity="0.95" stroke-linejoin="round"/>
<path d="M431.9,172.1 431.9,171.5 432.8,171.0 432.7,170.7 433.1,171.0 433.4,171.6 433.8,171.0 433.5,170.9 432.9,170.5 432.6,170.5 432.2,169.6 432.3,169.9 432.6,170.0 432.2,170.3 432.3,170.9 432.5,171.2 431.6,171.6 430.3,171.1 430.1,170.4 430.4,169.7 431.1,169.6 431.3,169.2 432.3,169.0 433.2,168.2 433.1,167.4 433.3,166.9 433.3,166.7 432.6,168.0 432.0,167.6 431.9,167.8 431.3,167.7" fill="none" stroke="#b01820" stroke-width="0.45" stroke-opacity="0.95" stroke-linejoin="round"/>
<path d="M431.9,172.1 432.0,172.8 431.9,172.9 431.6,173.1 431.3,173.0 430.7,172.9 430.1,173.5 429.2,173.4 428.8,173.3 429.7,173.4 429.6,173.4 429.2,172.8 429.1,172.1 428.8,172.5 429.3,173.4 428.7,173.7 429.5,173.0 429.5,172.1 429.9,172.0 430.6,171.9 430.5,171.3 431.4,170.3 432.4,169.9 433.3,169.4 433.3,169.2 433.0,169.1 432.4,169.2 432.4,169.3 433.1,169.5 433.5,169.7 434.2,170.3" fill="none" stroke="#b01820" stroke-width="0.45" stroke-opacity="0.95" stroke-linejoin="round"/>
<path d="M431.9,172.1 430.8,172.3 430.6,172.8 430.8,172.9 431.7,172.5 432.0,172.0 431.2,172.3 430.9,173.1 431.0,173.6 432.2,173.4 433.6,173.8 434.3,173.8 435.0,173.6 434.7,173.9 433.8,174.7 433.5,174.5 433.4,174.4 433.4,174.5 433.3,174.8 433.5,175.1 433.2,175.1 432.9,176.0 432.6,176.0 432.3,175.7 431.2,176.0 431.8,175.7 431.5,175.8 432.3,176.0 432.9,176.0 433.8,175.9 433.7,174.8" fill="none" stroke="#b01820" stroke-width="0.45" stroke-opacity="0.95" stroke-linejoin="round"/>
<path d="M431.9,172.1 431.6,172.0 432.1,171.6 431.5,170.9 431.1,171.1 431.4,171.5 431.2,171.8 431.6,171.3 432.3,170.6 432.7,169.8 433.0,169.8 432.5,169.9 431.7,170.8 430.7,171.3 429.4,171.5 428.4,171.8 427.9,171.6 427.8,170.8 428.8,170.0 429.6,169.4 429.6,169.9 430.5,170.2 430.7,170.8 431.2,171.2 431.8,172.3 432.3,172.0 431.9,171.3 432.6,170.7 433.5,170.2 433.8,169.1 433.6,168.6" fill="none" stroke="#b01820" stroke-width="0.45" stroke-opacity="0.95" stroke-linejoin="round"/>
<path d="M431.9,172.1 432.0,172.6 432.7,172.5 433.4,172.5 434.0,172.8 433.9,173.1 433.3,173.4 433.2,173.4 433.3,173.3 433.4,173.1 433.0,173.1 431.9,173.6 430.5,173.9 430.7,174.2 430.8,174.6 430.2,175.1 429.7,174.2 429.4,173.6 428.9,174.2 429.4,174.4 430.7,173.7 430.9,173.8 431.2,173.6 431.4,175.0 430.8,175.4 429.5,175.7 429.5,176.1 429.4,176.4 429.7,176.9 429.4,177.2 429.4,177.6" fill="none" stroke="#b01820" stroke-width="0.45" stroke-opacity="0.95" stroke-linejoin="round"/>
<ellipse cx="432" cy="172.3" rx="3.0" ry="3.0" fill="#7a0c18" fill-opacity="0.85"/>
<rect x="425.9" y="171.8" width="1.3" height="1.3" fill="#222"/>
<rect x="435.4" y="175.3" width="1.3" height="1.3" fill="#222"/>
<line x1="66" y1="339.2" x2="66" y2="266" stroke="#333" stroke-width="1"/>
<line x1="65.5" y1="339.2" x2="176" y2="339.2" stroke="#333" stroke-width="1"/>
<line x1="64" y1="339.2" x2="66" y2="339.2" stroke="#333" stroke-width="0.9"/>
<text x="63.4" y="341.9" font-size="7.7" text-anchor="end" fill="#111">0</text>
<line x1="64" y1="320.9" x2="66" y2="320.9" stroke="#333" stroke-width="0.9"/>
<text x="63.4" y="323.6" font-size="7.7" text-anchor="end" fill="#111">10</text>
<line x1="64" y1="302.7" x2="66" y2="302.7" stroke="#333" stroke-width="0.9"/>
<text x="63.4" y="305.4" font-size="7.7" text-anchor="end" fill="#111">20</text>
<line x1="64" y1="284.4" x2="66" y2="284.4" stroke="#333" stroke-width="0.9"/>
<text x="63.4" y="287.1" font-size="7.7" text-anchor="end" fill="#111">30</text>
<line x1="64" y1="266.2" x2="66" y2="266.2" stroke="#333" stroke-width="0.9"/>
<text x="63.4" y="268.9" font-size="7.7" text-anchor="end" fill="#111">40</text>
<rect x="70.7" y="311.3" width="17.9" height="27.9" fill="#000"/>
<line x1="79.7" y1="311.3" x2="79.7" y2="307.1" stroke="#222" stroke-width="0.8"/>
<line x1="75.2" y1="307.1" x2="84.1" y2="307.1" stroke="#222" stroke-width="0.8"/>
<rect x="98.1" y="308.3" width="17.8" height="30.9" fill="#5e5e5e"/>
<line x1="107" y1="308.3" x2="107" y2="305.4" stroke="#222" stroke-width="0.8"/>
<line x1="102.5" y1="305.4" x2="111.5" y2="305.4" stroke="#222" stroke-width="0.8"/>
<rect x="125.4" y="291.3" width="18.2" height="47.9" fill="#5e5e5e"/>
<line x1="134.5" y1="291.3" x2="134.5" y2="277.5" stroke="#222" stroke-width="0.8"/>
<line x1="129.9" y1="277.5" x2="139.1" y2="277.5" stroke="#222" stroke-width="0.8"/>
<rect x="152.8" y="281.9" width="18" height="57.3" fill="#5e5e5e"/>
<line x1="161.8" y1="281.9" x2="161.8" y2="278.6" stroke="#222" stroke-width="0.8"/>
<line x1="157.3" y1="278.6" x2="166.3" y2="278.6" stroke="#222" stroke-width="0.8"/>
<line x1="79.6" y1="339.2" x2="79.6" y2="341.2" stroke="#333" stroke-width="0.8"/>
<line x1="107" y1="339.2" x2="107" y2="341.2" stroke="#333" stroke-width="0.8"/>
<line x1="134.5" y1="339.2" x2="134.5" y2="341.2" stroke="#333" stroke-width="0.8"/>
<line x1="161.8" y1="339.2" x2="161.8" y2="341.2" stroke="#333" stroke-width="0.8"/>
<polyline points="106.4,262.7 106.4,256.5 161.5,256.5 161.5,272" fill="none" stroke="#7a7a7a" stroke-width="1"/>
<polyline points="106.6,298 106.6,270 134.3,270 134.3,275" fill="none" stroke="#7a7a7a" stroke-width="1"/>
<text x="134.5" y="258.6" font-size="8.5" font-weight="bold" text-anchor="middle" fill="#000">*</text>
<text x="120.7" y="268.9" font-size="5.9" text-anchor="middle" fill="#000">n.s</text>
<text transform="translate(49,300.8) rotate(-90)" font-size="7.9" text-anchor="middle" fill="#111">Mean velocity [µm/h]</text>
<text transform="translate(84.3,348.4) rotate(-45)" font-size="7.9" text-anchor="end" fill="#111">Fn+BSA</text>
<text transform="translate(111.7,348.4) rotate(-45)" font-size="7.9" text-anchor="end" fill="#111">Fn</text>
<text transform="translate(139.2,348.4) rotate(-45)" font-size="7.9" text-anchor="end" fill="#111">EGFL7</text>
<text transform="translate(166.5,348.4) rotate(-45)" font-size="7.9" text-anchor="end" fill="#111">Fn+EGFL7</text>
<line x1="322.6" y1="341" x2="322.6" y2="258" stroke="#333" stroke-width="1"/>
<line x1="322.1" y1="341" x2="449" y2="341" stroke="#333" stroke-width="1"/>
<line x1="320.6" y1="341" x2="322.6" y2="341" stroke="#333" stroke-width="0.9"/>
<text x="320.0" y="343.7" font-size="7.7" text-anchor="end" fill="#111">0</text>
<line x1="320.6" y1="320.3" x2="322.6" y2="320.3" stroke="#333" stroke-width="0.9"/>
<text x="320.0" y="323" font-size="7.7" text-anchor="end" fill="#111">10</text>
<line x1="320.6" y1="299.6" x2="322.6" y2="299.6" stroke="#333" stroke-width="0.9"/>
<text x="320.0" y="302.3" font-size="7.7" text-anchor="end" fill="#111">20</text>
<line x1="320.6" y1="278.9" x2="322.6" y2="278.9" stroke="#333" stroke-width="0.9"/>
<text x="320.0" y="281.6" font-size="7.7" text-anchor="end" fill="#111">30</text>
<line x1="320.6" y1="258.2" x2="322.6" y2="258.2" stroke="#333" stroke-width="0.9"/>
<text x="320.0" y="260.9" font-size="7.7" text-anchor="end" fill="#111">40</text>
<rect x="334.8" y="310.3" width="15.5" height="30.7" fill="#000"/>
<line x1="342.6" y1="310.3" x2="342.6" y2="308.2" stroke="#222" stroke-width="0.8"/>
<line x1="338.7" y1="308.2" x2="346.4" y2="308.2" stroke="#222" stroke-width="0.8"/>
<rect x="358.2" y="310.1" width="15.6" height="30.9" fill="#5e5e5e"/>
<line x1="366" y1="310.1" x2="366" y2="306.9" stroke="#222" stroke-width="0.8"/>
<line x1="362.1" y1="306.9" x2="369.9" y2="306.9" stroke="#222" stroke-width="0.8"/>
<rect x="397.5" y="282.8" width="15.8" height="58.2" fill="#000"/>
<line x1="405.4" y1="282.8" x2="405.4" y2="278.2" stroke="#222" stroke-width="0.8"/>
<line x1="401.4" y1="278.2" x2="409.3" y2="278.2" stroke="#222" stroke-width="0.8"/>
<rect x="421" y="311.4" width="15.7" height="29.6" fill="#5e5e5e"/>
<line x1="428.9" y1="311.4" x2="428.9" y2="306.1" stroke="#222" stroke-width="0.8"/>
<line x1="424.9" y1="306.1" x2="432.8" y2="306.1" stroke="#222" stroke-width="0.8"/>
<line x1="354" y1="341" x2="354" y2="343" stroke="#333" stroke-width="0.8"/>
<line x1="416.3" y1="341" x2="416.3" y2="343" stroke="#333" stroke-width="0.8"/>
<polyline points="342.5,298 342.5,272 405.3,272 405.3,276" fill="none" stroke="#7a7a7a" stroke-width="1"/>
<polyline points="405.3,266 405.3,261.6 429.6,261.6 429.6,299" fill="none" stroke="#7a7a7a" stroke-width="1"/>
<text x="374" y="273.8" font-size="8.5" font-weight="bold" text-anchor="middle" fill="#000">*</text>
<text x="417.6" y="263.6" font-size="8.5" font-weight="bold" text-anchor="middle" fill="#000">*</text>
<text transform="translate(304.2,302) rotate(-90)" font-size="7.6" text-anchor="middle" fill="#111">Mean velocity [µm/h]</text>
<text transform="translate(358.0,350.7) rotate(-45)" font-size="7.9" text-anchor="end" fill="#111">Fn</text>
<text transform="translate(420.3,350.7) rotate(-45)" font-size="7.9" text-anchor="end" fill="#111">Fn+EGFL7</text>
<rect x="456.9" y="260.5" width="9.3" height="4.7" fill="#000"/>
<rect x="456.9" y="270.2" width="9.3" height="6.6" fill="#5e5e5e"/>
<text x="469" y="264.9" font-size="7.05" fill="#111">Scrambled</text>
<text x="469.2" y="275.8" font-size="6.6" fill="#111">β<tspan font-size="4.2" dy="1.3">1</tspan><tspan dy="-1.3"> integrin siRNA</tspan></text>
</svg>
</body></html>
